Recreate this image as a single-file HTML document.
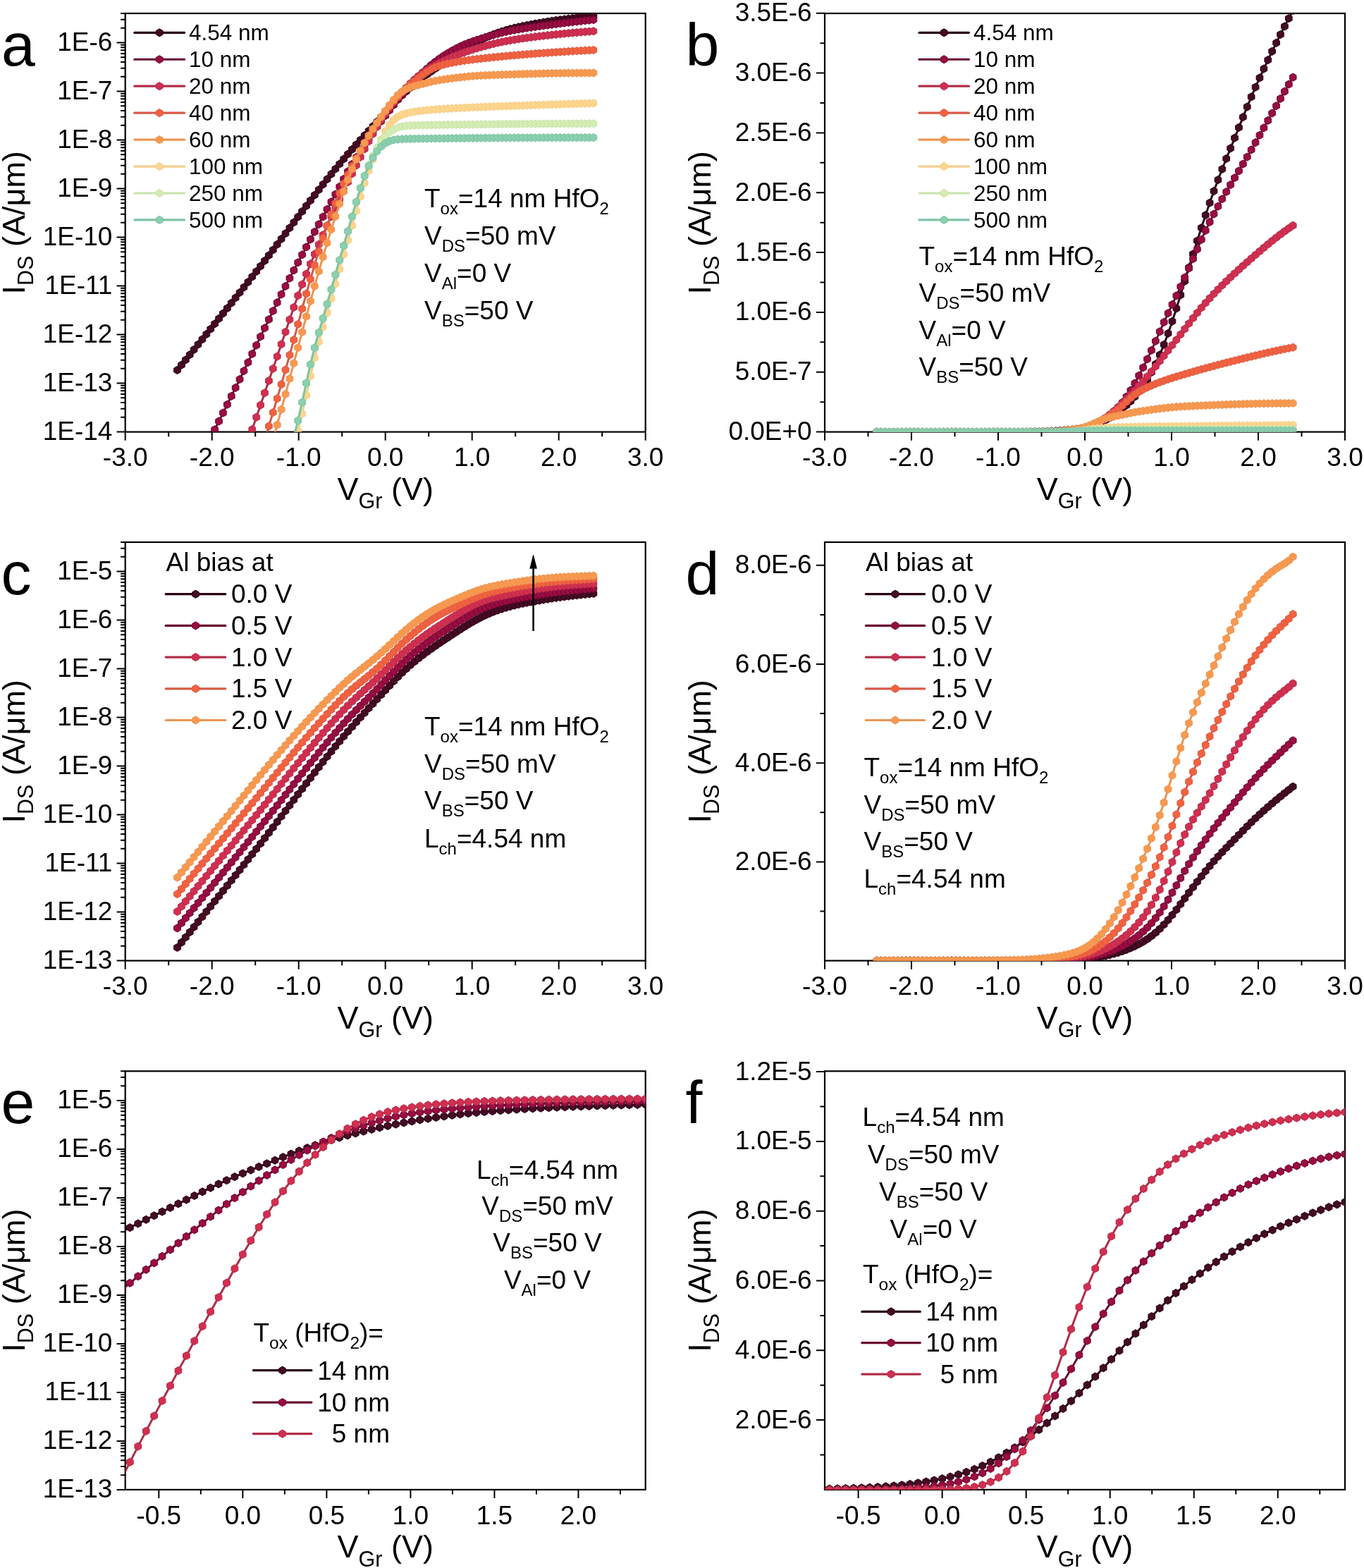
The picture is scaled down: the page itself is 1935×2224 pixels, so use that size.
<!DOCTYPE html>
<html><head><meta charset="utf-8"><title>Figure</title>
<style>html,body{margin:0;padding:0;background:#fff;overflow:hidden}svg{display:block}</style>
</head><body>
<svg xmlns="http://www.w3.org/2000/svg" width="1935" height="2224" viewBox="0 0 1935 2224" font-family="'Liberation Sans', Arial, Helvetica, sans-serif" fill="#000"><defs><clipPath id="clipa"><rect x="177.7" y="19" width="738" height="593.6"/></clipPath><clipPath id="clipb"><rect x="1170" y="19" width="738" height="593.6"/></clipPath><clipPath id="clipc"><rect x="177.7" y="769" width="738" height="593.6"/></clipPath><clipPath id="clipd"><rect x="1170" y="769" width="738" height="593.6"/></clipPath><clipPath id="clipe"><rect x="177.7" y="1519.3" width="738" height="593.6"/></clipPath><clipPath id="clipf"><rect x="1170" y="1519.3" width="738" height="593.6"/></clipPath></defs><rect width="1935" height="2224" fill="#fff"/><path d="M177.7 612.6v12.1 M300.7 612.6v12.1 M423.7 612.6v12.1 M546.7 612.6v12.1 M669.7 612.6v12.1 M792.7 612.6v12.1 M915.7 612.6v12.1 M239.2 612.6v6.6 M362.2 612.6v6.6 M485.2 612.6v6.6 M608.2 612.6v6.6 M731.2 612.6v6.6 M854.2 612.6v6.6 M177.7 612.6h-12.1 M177.7 543.6h-12.1 M177.7 474.6h-12.1 M177.7 405.6h-12.1 M177.7 336.6h-12.1 M177.7 267.6h-12.1 M177.7 198.6h-12.1 M177.7 129.6h-12.1 M177.7 60.6h-12.1 M177.7 591.83h-6.6 M177.7 579.68h-6.6 M177.7 571.06h-6.6 M177.7 564.37h-6.6 M177.7 558.91h-6.6 M177.7 554.29h-6.6 M177.7 550.29h-6.6 M177.7 546.76h-6.6 M177.7 522.83h-6.6 M177.7 510.68h-6.6 M177.7 502.06h-6.6 M177.7 495.37h-6.6 M177.7 489.91h-6.6 M177.7 485.29h-6.6 M177.7 481.29h-6.6 M177.7 477.76h-6.6 M177.7 453.83h-6.6 M177.7 441.68h-6.6 M177.7 433.06h-6.6 M177.7 426.37h-6.6 M177.7 420.91h-6.6 M177.7 416.29h-6.6 M177.7 412.29h-6.6 M177.7 408.76h-6.6 M177.7 384.83h-6.6 M177.7 372.68h-6.6 M177.7 364.06h-6.6 M177.7 357.37h-6.6 M177.7 351.91h-6.6 M177.7 347.29h-6.6 M177.7 343.29h-6.6 M177.7 339.76h-6.6 M177.7 315.83h-6.6 M177.7 303.68h-6.6 M177.7 295.06h-6.6 M177.7 288.37h-6.6 M177.7 282.91h-6.6 M177.7 278.29h-6.6 M177.7 274.29h-6.6 M177.7 270.76h-6.6 M177.7 246.83h-6.6 M177.7 234.68h-6.6 M177.7 226.06h-6.6 M177.7 219.37h-6.6 M177.7 213.91h-6.6 M177.7 209.29h-6.6 M177.7 205.29h-6.6 M177.7 201.76h-6.6 M177.7 177.83h-6.6 M177.7 165.68h-6.6 M177.7 157.06h-6.6 M177.7 150.37h-6.6 M177.7 144.91h-6.6 M177.7 140.29h-6.6 M177.7 136.29h-6.6 M177.7 132.76h-6.6 M177.7 108.83h-6.6 M177.7 96.68h-6.6 M177.7 88.06h-6.6 M177.7 81.37h-6.6 M177.7 75.91h-6.6 M177.7 71.29h-6.6 M177.7 67.29h-6.6 M177.7 63.76h-6.6 M177.7 39.83h-6.6 M177.7 27.68h-6.6 M177.7 19.06h-6.6" stroke="#000" stroke-width="2.0" fill="none"/>
<rect x="177.7" y="19" width="738" height="593.6" fill="none" stroke="#000" stroke-width="2.2"/>
<text x="177.7" y="661.2" font-size="37" text-anchor="middle">-3.0</text>
<text x="300.7" y="661.2" font-size="37" text-anchor="middle">-2.0</text>
<text x="423.7" y="661.2" font-size="37" text-anchor="middle">-1.0</text>
<text x="546.7" y="661.2" font-size="37" text-anchor="middle">0.0</text>
<text x="669.7" y="661.2" font-size="37" text-anchor="middle">1.0</text>
<text x="792.7" y="661.2" font-size="37" text-anchor="middle">2.0</text>
<text x="915.7" y="661.2" font-size="37" text-anchor="middle">3.0</text>
<text x="159.4" y="624.1" font-size="37" text-anchor="end">1E-14</text>
<text x="159.4" y="555.1" font-size="37" text-anchor="end">1E-13</text>
<text x="159.4" y="486.1" font-size="37" text-anchor="end">1E-12</text>
<text x="159.4" y="417.1" font-size="37" text-anchor="end">1E-11</text>
<text x="159.4" y="348.1" font-size="37" text-anchor="end">1E-10</text>
<text x="159.4" y="279.1" font-size="37" text-anchor="end">1E-9</text>
<text x="159.4" y="210.1" font-size="37" text-anchor="end">1E-8</text>
<text x="159.4" y="141.1" font-size="37" text-anchor="end">1E-7</text>
<text x="159.4" y="72.1" font-size="37" text-anchor="end">1E-6</text>
<text x="546.7" y="708.8" font-size="45" text-anchor="middle" xml:space="preserve"><tspan>V</tspan><tspan dy="12.4" font-size="30.5">Gr</tspan><tspan dy="-12.4"> (V)</tspan></text>
<text x="0" y="0" font-size="45" text-anchor="middle" xml:space="preserve" transform="translate(34.8 315.8) rotate(-90)"><tspan>I</tspan><tspan dy="12.4" font-size="30.5">DS</tspan><tspan dy="-12.4"> (A/μm)</tspan></text>
<path d="M1170 612.6v12.1 M1293 612.6v12.1 M1416 612.6v12.1 M1539 612.6v12.1 M1662 612.6v12.1 M1785 612.6v12.1 M1908 612.6v12.1 M1231.5 612.6v6.6 M1354.5 612.6v6.6 M1477.5 612.6v6.6 M1600.5 612.6v6.6 M1723.5 612.6v6.6 M1846.5 612.6v6.6 M1170 612.6h-12.1 M1170 527.76h-12.1 M1170 442.92h-12.1 M1170 358.08h-12.1 M1170 273.24h-12.1 M1170 188.4h-12.1 M1170 103.56h-12.1 M1170 18.72h-12.1 M1170 570.18h-6.6 M1170 485.34h-6.6 M1170 400.5h-6.6 M1170 315.66h-6.6 M1170 230.82h-6.6 M1170 145.98h-6.6 M1170 61.14h-6.6" stroke="#000" stroke-width="2.0" fill="none"/>
<rect x="1170" y="19" width="738" height="593.6" fill="none" stroke="#000" stroke-width="2.2"/>
<text x="1170" y="661.2" font-size="37" text-anchor="middle">-3.0</text>
<text x="1293" y="661.2" font-size="37" text-anchor="middle">-2.0</text>
<text x="1416" y="661.2" font-size="37" text-anchor="middle">-1.0</text>
<text x="1539" y="661.2" font-size="37" text-anchor="middle">0.0</text>
<text x="1662" y="661.2" font-size="37" text-anchor="middle">1.0</text>
<text x="1785" y="661.2" font-size="37" text-anchor="middle">2.0</text>
<text x="1908" y="661.2" font-size="37" text-anchor="middle">3.0</text>
<text x="1151.7" y="624.1" font-size="37" text-anchor="end">0.0E+0</text>
<text x="1151.7" y="539.26" font-size="37" text-anchor="end">5.0E-7</text>
<text x="1151.7" y="454.42" font-size="37" text-anchor="end">1.0E-6</text>
<text x="1151.7" y="369.58" font-size="37" text-anchor="end">1.5E-6</text>
<text x="1151.7" y="284.74" font-size="37" text-anchor="end">2.0E-6</text>
<text x="1151.7" y="199.9" font-size="37" text-anchor="end">2.5E-6</text>
<text x="1151.7" y="115.06" font-size="37" text-anchor="end">3.0E-6</text>
<text x="1151.7" y="30.22" font-size="37" text-anchor="end">3.5E-6</text>
<text x="1539" y="708.8" font-size="45" text-anchor="middle" xml:space="preserve"><tspan>V</tspan><tspan dy="12.4" font-size="30.5">Gr</tspan><tspan dy="-12.4"> (V)</tspan></text>
<text x="0" y="0" font-size="45" text-anchor="middle" xml:space="preserve" transform="translate(1008 315.8) rotate(-90)"><tspan>I</tspan><tspan dy="12.4" font-size="30.5">DS</tspan><tspan dy="-12.4"> (A/μm)</tspan></text>
<path d="M177.7 1362.6v12.1 M300.7 1362.6v12.1 M423.7 1362.6v12.1 M546.7 1362.6v12.1 M669.7 1362.6v12.1 M792.7 1362.6v12.1 M915.7 1362.6v12.1 M239.2 1362.6v6.6 M362.2 1362.6v6.6 M485.2 1362.6v6.6 M608.2 1362.6v6.6 M731.2 1362.6v6.6 M854.2 1362.6v6.6 M177.7 1362.6h-12.1 M177.7 1293.6h-12.1 M177.7 1224.6h-12.1 M177.7 1155.6h-12.1 M177.7 1086.6h-12.1 M177.7 1017.6h-12.1 M177.7 948.6h-12.1 M177.7 879.6h-12.1 M177.7 810.6h-12.1 M177.7 1341.83h-6.6 M177.7 1329.68h-6.6 M177.7 1321.06h-6.6 M177.7 1314.37h-6.6 M177.7 1308.91h-6.6 M177.7 1304.29h-6.6 M177.7 1300.29h-6.6 M177.7 1296.76h-6.6 M177.7 1272.83h-6.6 M177.7 1260.68h-6.6 M177.7 1252.06h-6.6 M177.7 1245.37h-6.6 M177.7 1239.91h-6.6 M177.7 1235.29h-6.6 M177.7 1231.29h-6.6 M177.7 1227.76h-6.6 M177.7 1203.83h-6.6 M177.7 1191.68h-6.6 M177.7 1183.06h-6.6 M177.7 1176.37h-6.6 M177.7 1170.91h-6.6 M177.7 1166.29h-6.6 M177.7 1162.29h-6.6 M177.7 1158.76h-6.6 M177.7 1134.83h-6.6 M177.7 1122.68h-6.6 M177.7 1114.06h-6.6 M177.7 1107.37h-6.6 M177.7 1101.91h-6.6 M177.7 1097.29h-6.6 M177.7 1093.29h-6.6 M177.7 1089.76h-6.6 M177.7 1065.83h-6.6 M177.7 1053.68h-6.6 M177.7 1045.06h-6.6 M177.7 1038.37h-6.6 M177.7 1032.91h-6.6 M177.7 1028.29h-6.6 M177.7 1024.29h-6.6 M177.7 1020.76h-6.6 M177.7 996.83h-6.6 M177.7 984.68h-6.6 M177.7 976.06h-6.6 M177.7 969.37h-6.6 M177.7 963.91h-6.6 M177.7 959.29h-6.6 M177.7 955.29h-6.6 M177.7 951.76h-6.6 M177.7 927.83h-6.6 M177.7 915.68h-6.6 M177.7 907.06h-6.6 M177.7 900.37h-6.6 M177.7 894.91h-6.6 M177.7 890.29h-6.6 M177.7 886.29h-6.6 M177.7 882.76h-6.6 M177.7 858.83h-6.6 M177.7 846.68h-6.6 M177.7 838.06h-6.6 M177.7 831.37h-6.6 M177.7 825.91h-6.6 M177.7 821.29h-6.6 M177.7 817.29h-6.6 M177.7 813.76h-6.6 M177.7 789.83h-6.6 M177.7 777.68h-6.6 M177.7 769.06h-6.6" stroke="#000" stroke-width="2.0" fill="none"/>
<rect x="177.7" y="769" width="738" height="593.6" fill="none" stroke="#000" stroke-width="2.2"/>
<text x="177.7" y="1411.2" font-size="37" text-anchor="middle">-3.0</text>
<text x="300.7" y="1411.2" font-size="37" text-anchor="middle">-2.0</text>
<text x="423.7" y="1411.2" font-size="37" text-anchor="middle">-1.0</text>
<text x="546.7" y="1411.2" font-size="37" text-anchor="middle">0.0</text>
<text x="669.7" y="1411.2" font-size="37" text-anchor="middle">1.0</text>
<text x="792.7" y="1411.2" font-size="37" text-anchor="middle">2.0</text>
<text x="915.7" y="1411.2" font-size="37" text-anchor="middle">3.0</text>
<text x="159.4" y="1374.1" font-size="37" text-anchor="end">1E-13</text>
<text x="159.4" y="1305.1" font-size="37" text-anchor="end">1E-12</text>
<text x="159.4" y="1236.1" font-size="37" text-anchor="end">1E-11</text>
<text x="159.4" y="1167.1" font-size="37" text-anchor="end">1E-10</text>
<text x="159.4" y="1098.1" font-size="37" text-anchor="end">1E-9</text>
<text x="159.4" y="1029.1" font-size="37" text-anchor="end">1E-8</text>
<text x="159.4" y="960.1" font-size="37" text-anchor="end">1E-7</text>
<text x="159.4" y="891.1" font-size="37" text-anchor="end">1E-6</text>
<text x="159.4" y="822.1" font-size="37" text-anchor="end">1E-5</text>
<text x="546.7" y="1458.8" font-size="45" text-anchor="middle" xml:space="preserve"><tspan>V</tspan><tspan dy="12.4" font-size="30.5">Gr</tspan><tspan dy="-12.4"> (V)</tspan></text>
<text x="0" y="0" font-size="45" text-anchor="middle" xml:space="preserve" transform="translate(34.8 1065.8) rotate(-90)"><tspan>I</tspan><tspan dy="12.4" font-size="30.5">DS</tspan><tspan dy="-12.4"> (A/μm)</tspan></text>
<path d="M1170 1362.6v12.1 M1293 1362.6v12.1 M1416 1362.6v12.1 M1539 1362.6v12.1 M1662 1362.6v12.1 M1785 1362.6v12.1 M1908 1362.6v12.1 M1231.5 1362.6v6.6 M1354.5 1362.6v6.6 M1477.5 1362.6v6.6 M1600.5 1362.6v6.6 M1723.5 1362.6v6.6 M1846.5 1362.6v6.6 M1170 1222.4h-12.1 M1170 1082.2h-12.1 M1170 942h-12.1 M1170 801.8h-12.1 M1170 1292.5h-6.6 M1170 1152.3h-6.6 M1170 1012.1h-6.6 M1170 871.9h-6.6" stroke="#000" stroke-width="2.0" fill="none"/>
<rect x="1170" y="769" width="738" height="593.6" fill="none" stroke="#000" stroke-width="2.2"/>
<text x="1170" y="1411.2" font-size="37" text-anchor="middle">-3.0</text>
<text x="1293" y="1411.2" font-size="37" text-anchor="middle">-2.0</text>
<text x="1416" y="1411.2" font-size="37" text-anchor="middle">-1.0</text>
<text x="1539" y="1411.2" font-size="37" text-anchor="middle">0.0</text>
<text x="1662" y="1411.2" font-size="37" text-anchor="middle">1.0</text>
<text x="1785" y="1411.2" font-size="37" text-anchor="middle">2.0</text>
<text x="1908" y="1411.2" font-size="37" text-anchor="middle">3.0</text>
<text x="1151.7" y="1233.9" font-size="37" text-anchor="end">2.0E-6</text>
<text x="1151.7" y="1093.7" font-size="37" text-anchor="end">4.0E-6</text>
<text x="1151.7" y="953.5" font-size="37" text-anchor="end">6.0E-6</text>
<text x="1151.7" y="813.3" font-size="37" text-anchor="end">8.0E-6</text>
<text x="1539" y="1458.8" font-size="45" text-anchor="middle" xml:space="preserve"><tspan>V</tspan><tspan dy="12.4" font-size="30.5">Gr</tspan><tspan dy="-12.4"> (V)</tspan></text>
<text x="0" y="0" font-size="45" text-anchor="middle" xml:space="preserve" transform="translate(1008 1065.8) rotate(-90)"><tspan>I</tspan><tspan dy="12.4" font-size="30.5">DS</tspan><tspan dy="-12.4"> (A/μm)</tspan></text>
<path d="M225.31 2112.9v12.1 M344.35 2112.9v12.1 M463.38 2112.9v12.1 M582.41 2112.9v12.1 M701.44 2112.9v12.1 M820.47 2112.9v12.1 M284.83 2112.9v6.6 M403.86 2112.9v6.6 M522.89 2112.9v6.6 M641.93 2112.9v6.6 M760.96 2112.9v6.6 M879.99 2112.9v6.6 M177.7 2112.9h-12.1 M177.7 2043.9h-12.1 M177.7 1974.9h-12.1 M177.7 1905.9h-12.1 M177.7 1836.9h-12.1 M177.7 1767.9h-12.1 M177.7 1698.9h-12.1 M177.7 1629.9h-12.1 M177.7 1560.9h-12.1 M177.7 2092.13h-6.6 M177.7 2079.98h-6.6 M177.7 2071.36h-6.6 M177.7 2064.67h-6.6 M177.7 2059.21h-6.6 M177.7 2054.59h-6.6 M177.7 2050.59h-6.6 M177.7 2047.06h-6.6 M177.7 2023.13h-6.6 M177.7 2010.98h-6.6 M177.7 2002.36h-6.6 M177.7 1995.67h-6.6 M177.7 1990.21h-6.6 M177.7 1985.59h-6.6 M177.7 1981.59h-6.6 M177.7 1978.06h-6.6 M177.7 1954.13h-6.6 M177.7 1941.98h-6.6 M177.7 1933.36h-6.6 M177.7 1926.67h-6.6 M177.7 1921.21h-6.6 M177.7 1916.59h-6.6 M177.7 1912.59h-6.6 M177.7 1909.06h-6.6 M177.7 1885.13h-6.6 M177.7 1872.98h-6.6 M177.7 1864.36h-6.6 M177.7 1857.67h-6.6 M177.7 1852.21h-6.6 M177.7 1847.59h-6.6 M177.7 1843.59h-6.6 M177.7 1840.06h-6.6 M177.7 1816.13h-6.6 M177.7 1803.98h-6.6 M177.7 1795.36h-6.6 M177.7 1788.67h-6.6 M177.7 1783.21h-6.6 M177.7 1778.59h-6.6 M177.7 1774.59h-6.6 M177.7 1771.06h-6.6 M177.7 1747.13h-6.6 M177.7 1734.98h-6.6 M177.7 1726.36h-6.6 M177.7 1719.67h-6.6 M177.7 1714.21h-6.6 M177.7 1709.59h-6.6 M177.7 1705.59h-6.6 M177.7 1702.06h-6.6 M177.7 1678.13h-6.6 M177.7 1665.98h-6.6 M177.7 1657.36h-6.6 M177.7 1650.67h-6.6 M177.7 1645.21h-6.6 M177.7 1640.59h-6.6 M177.7 1636.59h-6.6 M177.7 1633.06h-6.6 M177.7 1609.13h-6.6 M177.7 1596.98h-6.6 M177.7 1588.36h-6.6 M177.7 1581.67h-6.6 M177.7 1576.21h-6.6 M177.7 1571.59h-6.6 M177.7 1567.59h-6.6 M177.7 1564.06h-6.6 M177.7 1540.13h-6.6 M177.7 1527.98h-6.6 M177.7 1519.36h-6.6" stroke="#000" stroke-width="2.0" fill="none"/>
<rect x="177.7" y="1519.3" width="738" height="593.6" fill="none" stroke="#000" stroke-width="2.2"/>
<text x="225.31" y="2161.5" font-size="37" text-anchor="middle">-0.5</text>
<text x="344.35" y="2161.5" font-size="37" text-anchor="middle">0.0</text>
<text x="463.38" y="2161.5" font-size="37" text-anchor="middle">0.5</text>
<text x="582.41" y="2161.5" font-size="37" text-anchor="middle">1.0</text>
<text x="701.44" y="2161.5" font-size="37" text-anchor="middle">1.5</text>
<text x="820.47" y="2161.5" font-size="37" text-anchor="middle">2.0</text>
<text x="159.4" y="2124.4" font-size="37" text-anchor="end">1E-13</text>
<text x="159.4" y="2055.4" font-size="37" text-anchor="end">1E-12</text>
<text x="159.4" y="1986.4" font-size="37" text-anchor="end">1E-11</text>
<text x="159.4" y="1917.4" font-size="37" text-anchor="end">1E-10</text>
<text x="159.4" y="1848.4" font-size="37" text-anchor="end">1E-9</text>
<text x="159.4" y="1779.4" font-size="37" text-anchor="end">1E-8</text>
<text x="159.4" y="1710.4" font-size="37" text-anchor="end">1E-7</text>
<text x="159.4" y="1641.4" font-size="37" text-anchor="end">1E-6</text>
<text x="159.4" y="1572.4" font-size="37" text-anchor="end">1E-5</text>
<text x="546.7" y="2209.1" font-size="45" text-anchor="middle" xml:space="preserve"><tspan>V</tspan><tspan dy="12.4" font-size="30.5">Gr</tspan><tspan dy="-12.4"> (V)</tspan></text>
<text x="0" y="0" font-size="45" text-anchor="middle" xml:space="preserve" transform="translate(34.8 1816.1) rotate(-90)"><tspan>I</tspan><tspan dy="12.4" font-size="30.5">DS</tspan><tspan dy="-12.4"> (A/μm)</tspan></text>
<path d="M1217.61 2112.9v12.1 M1336.65 2112.9v12.1 M1455.68 2112.9v12.1 M1574.71 2112.9v12.1 M1693.74 2112.9v12.1 M1812.77 2112.9v12.1 M1277.13 2112.9v6.6 M1396.16 2112.9v6.6 M1515.19 2112.9v6.6 M1634.23 2112.9v6.6 M1753.26 2112.9v6.6 M1872.29 2112.9v6.6 M1170 2014.1h-12.1 M1170 1915.3h-12.1 M1170 1816.5h-12.1 M1170 1717.7h-12.1 M1170 1618.9h-12.1 M1170 1520.1h-12.1 M1170 2063.5h-6.6 M1170 1964.7h-6.6 M1170 1865.9h-6.6 M1170 1767.1h-6.6 M1170 1668.3h-6.6 M1170 1569.5h-6.6" stroke="#000" stroke-width="2.0" fill="none"/>
<rect x="1170" y="1519.3" width="738" height="593.6" fill="none" stroke="#000" stroke-width="2.2"/>
<text x="1217.61" y="2161.5" font-size="37" text-anchor="middle">-0.5</text>
<text x="1336.65" y="2161.5" font-size="37" text-anchor="middle">0.0</text>
<text x="1455.68" y="2161.5" font-size="37" text-anchor="middle">0.5</text>
<text x="1574.71" y="2161.5" font-size="37" text-anchor="middle">1.0</text>
<text x="1693.74" y="2161.5" font-size="37" text-anchor="middle">1.5</text>
<text x="1812.77" y="2161.5" font-size="37" text-anchor="middle">2.0</text>
<text x="1151.7" y="2025.6" font-size="37" text-anchor="end">2.0E-6</text>
<text x="1151.7" y="1926.8" font-size="37" text-anchor="end">4.0E-6</text>
<text x="1151.7" y="1828" font-size="37" text-anchor="end">6.0E-6</text>
<text x="1151.7" y="1729.2" font-size="37" text-anchor="end">8.0E-6</text>
<text x="1151.7" y="1630.4" font-size="37" text-anchor="end">1.0E-5</text>
<text x="1151.7" y="1531.6" font-size="37" text-anchor="end">1.2E-5</text>
<text x="1539" y="2209.1" font-size="45" text-anchor="middle" xml:space="preserve"><tspan>V</tspan><tspan dy="12.4" font-size="30.5">Gr</tspan><tspan dy="-12.4"> (V)</tspan></text>
<text x="0" y="0" font-size="45" text-anchor="middle" xml:space="preserve" transform="translate(1008 1816.1) rotate(-90)"><tspan>I</tspan><tspan dy="12.4" font-size="30.5">DS</tspan><tspan dy="-12.4"> (A/μm)</tspan></text>
<g clip-path="url(#clipa)"><polyline points="251.5,524.96 257.4,517.71 263.31,510.46 269.21,503.18 275.12,495.9 281.02,488.61 286.92,481.3 292.83,473.98 298.73,466.64 304.64,459.29 310.54,451.93 316.44,444.56 322.35,437.17 328.25,429.77 334.16,422.35 340.06,414.93 345.96,407.49 351.87,400.03 357.77,392.55 363.68,385.04 369.58,377.48 375.48,369.87 381.39,362.2 387.29,354.48 393.2,346.72 399.1,338.92 405,331.11 410.91,323.29 416.81,315.47 422.72,307.66 428.62,299.87 434.52,292.11 440.43,284.4 446.33,276.74 452.24,269.15 458.14,261.63 464.04,254.19 469.95,246.85 475.85,239.62 481.76,232.5 487.66,225.5 493.56,218.61 499.47,211.84 505.37,205.16 511.28,198.57 517.18,192.04 523.08,185.57 528.99,179.14 534.89,172.73 540.8,166.33 546.7,159.92 552.6,153.53 558.51,147.22 564.41,141.1 570.32,135.26 576.22,129.73 582.12,124.47 588.03,119.46 593.93,114.67 599.84,110.07 605.74,105.64 611.64,101.38 617.55,97.26 623.45,93.24 629.36,89.3 635.26,85.39 641.16,81.5 647.07,77.62 652.97,73.79 658.88,70.04 664.78,66.42 670.68,62.96 676.59,59.66 682.49,56.56 688.4,53.69 694.3,51.08 700.2,48.71 706.11,46.56 712.01,44.59 717.92,42.79 723.82,41.14 729.72,39.63 735.63,38.27 741.53,37.02 747.44,35.85 753.34,34.73 759.24,33.66 765.15,32.61 771.05,31.61 776.96,30.65 782.86,29.74 788.76,28.88 794.67,28.08 800.57,27.33 806.48,26.61 812.38,25.92 818.28,25.26 824.19,24.63 830.09,24.02 836,23.44 841.9,22.87" fill="none" stroke="#2a0414" stroke-width="3.0" stroke-linejoin="round"/><g fill="#450b24" stroke="#2a0414" stroke-width="1"><path d="M251.5 519.36l4.85 2.8v5.6l-4.85 2.8l-4.85 -2.8v-5.6z"/><path d="M257.4 512.11l4.85 2.8v5.6l-4.85 2.8l-4.85 -2.8v-5.6z"/><path d="M263.31 504.86l4.85 2.8v5.6l-4.85 2.8l-4.85 -2.8v-5.6z"/><path d="M269.21 497.58l4.85 2.8v5.6l-4.85 2.8l-4.85 -2.8v-5.6z"/><path d="M275.12 490.3l4.85 2.8v5.6l-4.85 2.8l-4.85 -2.8v-5.6z"/><path d="M281.02 483.01l4.85 2.8v5.6l-4.85 2.8l-4.85 -2.8v-5.6z"/><path d="M286.92 475.7l4.85 2.8v5.6l-4.85 2.8l-4.85 -2.8v-5.6z"/><path d="M292.83 468.38l4.85 2.8v5.6l-4.85 2.8l-4.85 -2.8v-5.6z"/><path d="M298.73 461.04l4.85 2.8v5.6l-4.85 2.8l-4.85 -2.8v-5.6z"/><path d="M304.64 453.69l4.85 2.8v5.6l-4.85 2.8l-4.85 -2.8v-5.6z"/><path d="M310.54 446.33l4.85 2.8v5.6l-4.85 2.8l-4.85 -2.8v-5.6z"/><path d="M316.44 438.96l4.85 2.8v5.6l-4.85 2.8l-4.85 -2.8v-5.6z"/><path d="M322.35 431.57l4.85 2.8v5.6l-4.85 2.8l-4.85 -2.8v-5.6z"/><path d="M328.25 424.17l4.85 2.8v5.6l-4.85 2.8l-4.85 -2.8v-5.6z"/><path d="M334.16 416.75l4.85 2.8v5.6l-4.85 2.8l-4.85 -2.8v-5.6z"/><path d="M340.06 409.33l4.85 2.8v5.6l-4.85 2.8l-4.85 -2.8v-5.6z"/><path d="M345.96 401.89l4.85 2.8v5.6l-4.85 2.8l-4.85 -2.8v-5.6z"/><path d="M351.87 394.43l4.85 2.8v5.6l-4.85 2.8l-4.85 -2.8v-5.6z"/><path d="M357.77 386.95l4.85 2.8v5.6l-4.85 2.8l-4.85 -2.8v-5.6z"/><path d="M363.68 379.44l4.85 2.8v5.6l-4.85 2.8l-4.85 -2.8v-5.6z"/><path d="M369.58 371.88l4.85 2.8v5.6l-4.85 2.8l-4.85 -2.8v-5.6z"/><path d="M375.48 364.27l4.85 2.8v5.6l-4.85 2.8l-4.85 -2.8v-5.6z"/><path d="M381.39 356.6l4.85 2.8v5.6l-4.85 2.8l-4.85 -2.8v-5.6z"/><path d="M387.29 348.88l4.85 2.8v5.6l-4.85 2.8l-4.85 -2.8v-5.6z"/><path d="M393.2 341.12l4.85 2.8v5.6l-4.85 2.8l-4.85 -2.8v-5.6z"/><path d="M399.1 333.32l4.85 2.8v5.6l-4.85 2.8l-4.85 -2.8v-5.6z"/><path d="M405 325.51l4.85 2.8v5.6l-4.85 2.8l-4.85 -2.8v-5.6z"/><path d="M410.91 317.69l4.85 2.8v5.6l-4.85 2.8l-4.85 -2.8v-5.6z"/><path d="M416.81 309.87l4.85 2.8v5.6l-4.85 2.8l-4.85 -2.8v-5.6z"/><path d="M422.72 302.06l4.85 2.8v5.6l-4.85 2.8l-4.85 -2.8v-5.6z"/><path d="M428.62 294.27l4.85 2.8v5.6l-4.85 2.8l-4.85 -2.8v-5.6z"/><path d="M434.52 286.51l4.85 2.8v5.6l-4.85 2.8l-4.85 -2.8v-5.6z"/><path d="M440.43 278.8l4.85 2.8v5.6l-4.85 2.8l-4.85 -2.8v-5.6z"/><path d="M446.33 271.14l4.85 2.8v5.6l-4.85 2.8l-4.85 -2.8v-5.6z"/><path d="M452.24 263.55l4.85 2.8v5.6l-4.85 2.8l-4.85 -2.8v-5.6z"/><path d="M458.14 256.03l4.85 2.8v5.6l-4.85 2.8l-4.85 -2.8v-5.6z"/><path d="M464.04 248.59l4.85 2.8v5.6l-4.85 2.8l-4.85 -2.8v-5.6z"/><path d="M469.95 241.25l4.85 2.8v5.6l-4.85 2.8l-4.85 -2.8v-5.6z"/><path d="M475.85 234.02l4.85 2.8v5.6l-4.85 2.8l-4.85 -2.8v-5.6z"/><path d="M481.76 226.9l4.85 2.8v5.6l-4.85 2.8l-4.85 -2.8v-5.6z"/><path d="M487.66 219.9l4.85 2.8v5.6l-4.85 2.8l-4.85 -2.8v-5.6z"/><path d="M493.56 213.01l4.85 2.8v5.6l-4.85 2.8l-4.85 -2.8v-5.6z"/><path d="M499.47 206.24l4.85 2.8v5.6l-4.85 2.8l-4.85 -2.8v-5.6z"/><path d="M505.37 199.56l4.85 2.8v5.6l-4.85 2.8l-4.85 -2.8v-5.6z"/><path d="M511.28 192.97l4.85 2.8v5.6l-4.85 2.8l-4.85 -2.8v-5.6z"/><path d="M517.18 186.44l4.85 2.8v5.6l-4.85 2.8l-4.85 -2.8v-5.6z"/><path d="M523.08 179.97l4.85 2.8v5.6l-4.85 2.8l-4.85 -2.8v-5.6z"/><path d="M528.99 173.54l4.85 2.8v5.6l-4.85 2.8l-4.85 -2.8v-5.6z"/><path d="M534.89 167.13l4.85 2.8v5.6l-4.85 2.8l-4.85 -2.8v-5.6z"/><path d="M540.8 160.73l4.85 2.8v5.6l-4.85 2.8l-4.85 -2.8v-5.6z"/><path d="M546.7 154.32l4.85 2.8v5.6l-4.85 2.8l-4.85 -2.8v-5.6z"/><path d="M552.6 147.93l4.85 2.8v5.6l-4.85 2.8l-4.85 -2.8v-5.6z"/><path d="M558.51 141.62l4.85 2.8v5.6l-4.85 2.8l-4.85 -2.8v-5.6z"/><path d="M564.41 135.5l4.85 2.8v5.6l-4.85 2.8l-4.85 -2.8v-5.6z"/><path d="M570.32 129.66l4.85 2.8v5.6l-4.85 2.8l-4.85 -2.8v-5.6z"/><path d="M576.22 124.13l4.85 2.8v5.6l-4.85 2.8l-4.85 -2.8v-5.6z"/><path d="M582.12 118.87l4.85 2.8v5.6l-4.85 2.8l-4.85 -2.8v-5.6z"/><path d="M588.03 113.86l4.85 2.8v5.6l-4.85 2.8l-4.85 -2.8v-5.6z"/><path d="M593.93 109.07l4.85 2.8v5.6l-4.85 2.8l-4.85 -2.8v-5.6z"/><path d="M599.84 104.47l4.85 2.8v5.6l-4.85 2.8l-4.85 -2.8v-5.6z"/><path d="M605.74 100.04l4.85 2.8v5.6l-4.85 2.8l-4.85 -2.8v-5.6z"/><path d="M611.64 95.78l4.85 2.8v5.6l-4.85 2.8l-4.85 -2.8v-5.6z"/><path d="M617.55 91.66l4.85 2.8v5.6l-4.85 2.8l-4.85 -2.8v-5.6z"/><path d="M623.45 87.64l4.85 2.8v5.6l-4.85 2.8l-4.85 -2.8v-5.6z"/><path d="M629.36 83.7l4.85 2.8v5.6l-4.85 2.8l-4.85 -2.8v-5.6z"/><path d="M635.26 79.79l4.85 2.8v5.6l-4.85 2.8l-4.85 -2.8v-5.6z"/><path d="M641.16 75.9l4.85 2.8v5.6l-4.85 2.8l-4.85 -2.8v-5.6z"/><path d="M647.07 72.02l4.85 2.8v5.6l-4.85 2.8l-4.85 -2.8v-5.6z"/><path d="M652.97 68.19l4.85 2.8v5.6l-4.85 2.8l-4.85 -2.8v-5.6z"/><path d="M658.88 64.44l4.85 2.8v5.6l-4.85 2.8l-4.85 -2.8v-5.6z"/><path d="M664.78 60.82l4.85 2.8v5.6l-4.85 2.8l-4.85 -2.8v-5.6z"/><path d="M670.68 57.36l4.85 2.8v5.6l-4.85 2.8l-4.85 -2.8v-5.6z"/><path d="M676.59 54.06l4.85 2.8v5.6l-4.85 2.8l-4.85 -2.8v-5.6z"/><path d="M682.49 50.96l4.85 2.8v5.6l-4.85 2.8l-4.85 -2.8v-5.6z"/><path d="M688.4 48.09l4.85 2.8v5.6l-4.85 2.8l-4.85 -2.8v-5.6z"/><path d="M694.3 45.48l4.85 2.8v5.6l-4.85 2.8l-4.85 -2.8v-5.6z"/><path d="M700.2 43.11l4.85 2.8v5.6l-4.85 2.8l-4.85 -2.8v-5.6z"/><path d="M706.11 40.96l4.85 2.8v5.6l-4.85 2.8l-4.85 -2.8v-5.6z"/><path d="M712.01 38.99l4.85 2.8v5.6l-4.85 2.8l-4.85 -2.8v-5.6z"/><path d="M717.92 37.19l4.85 2.8v5.6l-4.85 2.8l-4.85 -2.8v-5.6z"/><path d="M723.82 35.54l4.85 2.8v5.6l-4.85 2.8l-4.85 -2.8v-5.6z"/><path d="M729.72 34.03l4.85 2.8v5.6l-4.85 2.8l-4.85 -2.8v-5.6z"/><path d="M735.63 32.67l4.85 2.8v5.6l-4.85 2.8l-4.85 -2.8v-5.6z"/><path d="M741.53 31.42l4.85 2.8v5.6l-4.85 2.8l-4.85 -2.8v-5.6z"/><path d="M747.44 30.25l4.85 2.8v5.6l-4.85 2.8l-4.85 -2.8v-5.6z"/><path d="M753.34 29.13l4.85 2.8v5.6l-4.85 2.8l-4.85 -2.8v-5.6z"/><path d="M759.24 28.06l4.85 2.8v5.6l-4.85 2.8l-4.85 -2.8v-5.6z"/><path d="M765.15 27.01l4.85 2.8v5.6l-4.85 2.8l-4.85 -2.8v-5.6z"/><path d="M771.05 26.01l4.85 2.8v5.6l-4.85 2.8l-4.85 -2.8v-5.6z"/><path d="M776.96 25.05l4.85 2.8v5.6l-4.85 2.8l-4.85 -2.8v-5.6z"/><path d="M782.86 24.14l4.85 2.8v5.6l-4.85 2.8l-4.85 -2.8v-5.6z"/><path d="M788.76 23.28l4.85 2.8v5.6l-4.85 2.8l-4.85 -2.8v-5.6z"/><path d="M794.67 22.48l4.85 2.8v5.6l-4.85 2.8l-4.85 -2.8v-5.6z"/><path d="M800.57 21.73l4.85 2.8v5.6l-4.85 2.8l-4.85 -2.8v-5.6z"/><path d="M806.48 21.01l4.85 2.8v5.6l-4.85 2.8l-4.85 -2.8v-5.6z"/><path d="M812.38 20.32l4.85 2.8v5.6l-4.85 2.8l-4.85 -2.8v-5.6z"/><path d="M818.28 19.66l4.85 2.8v5.6l-4.85 2.8l-4.85 -2.8v-5.6z"/><path d="M824.19 19.03l4.85 2.8v5.6l-4.85 2.8l-4.85 -2.8v-5.6z"/><path d="M830.09 18.42l4.85 2.8v5.6l-4.85 2.8l-4.85 -2.8v-5.6z"/><path d="M836 17.84l4.85 2.8v5.6l-4.85 2.8l-4.85 -2.8v-5.6z"/><path d="M841.9 17.27l4.85 2.8v5.6l-4.85 2.8l-4.85 -2.8v-5.6z"/></g></g>
<g clip-path="url(#clipa)"><polyline points="251.5,715.55 257.4,703.74 263.31,691.93 269.21,680.13 275.12,668.32 281.02,656.51 286.92,644.71 292.83,632.9 298.73,621.09 304.64,609.28 310.54,597.46 316.44,585.62 322.35,573.75 328.25,561.86 334.16,549.95 340.06,538.01 345.96,526.03 351.87,514.01 357.77,501.9 363.68,489.72 369.58,477.49 375.48,465.26 381.39,453.1 387.29,441.04 393.2,429.15 399.1,417.44 405,405.94 410.91,394.6 416.81,383.41 422.72,372.32 428.62,361.33 434.52,350.41 440.43,339.56 446.33,328.81 452.24,318.14 458.14,307.52 464.04,296.92 469.95,286.29 475.85,275.58 481.76,264.76 487.66,253.89 493.56,243.19 499.47,232.86 505.37,223.02 511.28,213.63 517.18,204.63 523.08,196 528.99,187.7 534.89,179.67 540.8,171.84 546.7,164.12 552.6,156.46 558.51,148.9 564.41,141.51 570.32,134.34 576.22,127.42 582.12,120.72 588.03,114.32 593.93,108.27 599.84,102.6 605.74,97.26 611.64,92.22 617.55,87.51 623.45,83.15 629.36,79.16 635.26,75.49 641.16,72.07 647.07,68.86 652.97,65.88 658.88,63.21 664.78,60.84 670.68,58.7 676.59,56.7 682.49,54.79 688.4,52.96 694.3,51.22 700.2,49.54 706.11,47.92 712.01,46.39 717.92,45 723.82,43.75 729.72,42.63 735.63,41.6 741.53,40.63 747.44,39.72 753.34,38.86 759.24,38.03 765.15,37.23 771.05,36.44 776.96,35.66 782.86,34.89 788.76,34.13 794.67,33.38 800.57,32.65 806.48,31.93 812.38,31.23 818.28,30.56 824.19,29.9 830.09,29.26 836,28.64 841.9,28.04" fill="none" stroke="#6a0a2e" stroke-width="3.0" stroke-linejoin="round"/><g fill="#9b0c42" stroke="#6a0a2e" stroke-width="1"><path d="M298.73 615.49l4.85 2.8v5.6l-4.85 2.8l-4.85 -2.8v-5.6z"/><path d="M304.64 603.68l4.85 2.8v5.6l-4.85 2.8l-4.85 -2.8v-5.6z"/><path d="M310.54 591.86l4.85 2.8v5.6l-4.85 2.8l-4.85 -2.8v-5.6z"/><path d="M316.44 580.02l4.85 2.8v5.6l-4.85 2.8l-4.85 -2.8v-5.6z"/><path d="M322.35 568.15l4.85 2.8v5.6l-4.85 2.8l-4.85 -2.8v-5.6z"/><path d="M328.25 556.26l4.85 2.8v5.6l-4.85 2.8l-4.85 -2.8v-5.6z"/><path d="M334.16 544.35l4.85 2.8v5.6l-4.85 2.8l-4.85 -2.8v-5.6z"/><path d="M340.06 532.41l4.85 2.8v5.6l-4.85 2.8l-4.85 -2.8v-5.6z"/><path d="M345.96 520.43l4.85 2.8v5.6l-4.85 2.8l-4.85 -2.8v-5.6z"/><path d="M351.87 508.41l4.85 2.8v5.6l-4.85 2.8l-4.85 -2.8v-5.6z"/><path d="M357.77 496.3l4.85 2.8v5.6l-4.85 2.8l-4.85 -2.8v-5.6z"/><path d="M363.68 484.12l4.85 2.8v5.6l-4.85 2.8l-4.85 -2.8v-5.6z"/><path d="M369.58 471.89l4.85 2.8v5.6l-4.85 2.8l-4.85 -2.8v-5.6z"/><path d="M375.48 459.66l4.85 2.8v5.6l-4.85 2.8l-4.85 -2.8v-5.6z"/><path d="M381.39 447.5l4.85 2.8v5.6l-4.85 2.8l-4.85 -2.8v-5.6z"/><path d="M387.29 435.44l4.85 2.8v5.6l-4.85 2.8l-4.85 -2.8v-5.6z"/><path d="M393.2 423.55l4.85 2.8v5.6l-4.85 2.8l-4.85 -2.8v-5.6z"/><path d="M399.1 411.84l4.85 2.8v5.6l-4.85 2.8l-4.85 -2.8v-5.6z"/><path d="M405 400.34l4.85 2.8v5.6l-4.85 2.8l-4.85 -2.8v-5.6z"/><path d="M410.91 389l4.85 2.8v5.6l-4.85 2.8l-4.85 -2.8v-5.6z"/><path d="M416.81 377.81l4.85 2.8v5.6l-4.85 2.8l-4.85 -2.8v-5.6z"/><path d="M422.72 366.72l4.85 2.8v5.6l-4.85 2.8l-4.85 -2.8v-5.6z"/><path d="M428.62 355.73l4.85 2.8v5.6l-4.85 2.8l-4.85 -2.8v-5.6z"/><path d="M434.52 344.81l4.85 2.8v5.6l-4.85 2.8l-4.85 -2.8v-5.6z"/><path d="M440.43 333.96l4.85 2.8v5.6l-4.85 2.8l-4.85 -2.8v-5.6z"/><path d="M446.33 323.21l4.85 2.8v5.6l-4.85 2.8l-4.85 -2.8v-5.6z"/><path d="M452.24 312.54l4.85 2.8v5.6l-4.85 2.8l-4.85 -2.8v-5.6z"/><path d="M458.14 301.92l4.85 2.8v5.6l-4.85 2.8l-4.85 -2.8v-5.6z"/><path d="M464.04 291.32l4.85 2.8v5.6l-4.85 2.8l-4.85 -2.8v-5.6z"/><path d="M469.95 280.69l4.85 2.8v5.6l-4.85 2.8l-4.85 -2.8v-5.6z"/><path d="M475.85 269.98l4.85 2.8v5.6l-4.85 2.8l-4.85 -2.8v-5.6z"/><path d="M481.76 259.16l4.85 2.8v5.6l-4.85 2.8l-4.85 -2.8v-5.6z"/><path d="M487.66 248.29l4.85 2.8v5.6l-4.85 2.8l-4.85 -2.8v-5.6z"/><path d="M493.56 237.59l4.85 2.8v5.6l-4.85 2.8l-4.85 -2.8v-5.6z"/><path d="M499.47 227.26l4.85 2.8v5.6l-4.85 2.8l-4.85 -2.8v-5.6z"/><path d="M505.37 217.42l4.85 2.8v5.6l-4.85 2.8l-4.85 -2.8v-5.6z"/><path d="M511.28 208.03l4.85 2.8v5.6l-4.85 2.8l-4.85 -2.8v-5.6z"/><path d="M517.18 199.03l4.85 2.8v5.6l-4.85 2.8l-4.85 -2.8v-5.6z"/><path d="M523.08 190.4l4.85 2.8v5.6l-4.85 2.8l-4.85 -2.8v-5.6z"/><path d="M528.99 182.1l4.85 2.8v5.6l-4.85 2.8l-4.85 -2.8v-5.6z"/><path d="M534.89 174.07l4.85 2.8v5.6l-4.85 2.8l-4.85 -2.8v-5.6z"/><path d="M540.8 166.24l4.85 2.8v5.6l-4.85 2.8l-4.85 -2.8v-5.6z"/><path d="M546.7 158.52l4.85 2.8v5.6l-4.85 2.8l-4.85 -2.8v-5.6z"/><path d="M552.6 150.86l4.85 2.8v5.6l-4.85 2.8l-4.85 -2.8v-5.6z"/><path d="M558.51 143.3l4.85 2.8v5.6l-4.85 2.8l-4.85 -2.8v-5.6z"/><path d="M564.41 135.91l4.85 2.8v5.6l-4.85 2.8l-4.85 -2.8v-5.6z"/><path d="M570.32 128.74l4.85 2.8v5.6l-4.85 2.8l-4.85 -2.8v-5.6z"/><path d="M576.22 121.82l4.85 2.8v5.6l-4.85 2.8l-4.85 -2.8v-5.6z"/><path d="M582.12 115.12l4.85 2.8v5.6l-4.85 2.8l-4.85 -2.8v-5.6z"/><path d="M588.03 108.72l4.85 2.8v5.6l-4.85 2.8l-4.85 -2.8v-5.6z"/><path d="M593.93 102.67l4.85 2.8v5.6l-4.85 2.8l-4.85 -2.8v-5.6z"/><path d="M599.84 97l4.85 2.8v5.6l-4.85 2.8l-4.85 -2.8v-5.6z"/><path d="M605.74 91.66l4.85 2.8v5.6l-4.85 2.8l-4.85 -2.8v-5.6z"/><path d="M611.64 86.62l4.85 2.8v5.6l-4.85 2.8l-4.85 -2.8v-5.6z"/><path d="M617.55 81.91l4.85 2.8v5.6l-4.85 2.8l-4.85 -2.8v-5.6z"/><path d="M623.45 77.55l4.85 2.8v5.6l-4.85 2.8l-4.85 -2.8v-5.6z"/><path d="M629.36 73.56l4.85 2.8v5.6l-4.85 2.8l-4.85 -2.8v-5.6z"/><path d="M635.26 69.89l4.85 2.8v5.6l-4.85 2.8l-4.85 -2.8v-5.6z"/><path d="M641.16 66.47l4.85 2.8v5.6l-4.85 2.8l-4.85 -2.8v-5.6z"/><path d="M647.07 63.26l4.85 2.8v5.6l-4.85 2.8l-4.85 -2.8v-5.6z"/><path d="M652.97 60.28l4.85 2.8v5.6l-4.85 2.8l-4.85 -2.8v-5.6z"/><path d="M658.88 57.61l4.85 2.8v5.6l-4.85 2.8l-4.85 -2.8v-5.6z"/><path d="M664.78 55.24l4.85 2.8v5.6l-4.85 2.8l-4.85 -2.8v-5.6z"/><path d="M670.68 53.1l4.85 2.8v5.6l-4.85 2.8l-4.85 -2.8v-5.6z"/><path d="M676.59 51.1l4.85 2.8v5.6l-4.85 2.8l-4.85 -2.8v-5.6z"/><path d="M682.49 49.19l4.85 2.8v5.6l-4.85 2.8l-4.85 -2.8v-5.6z"/><path d="M688.4 47.36l4.85 2.8v5.6l-4.85 2.8l-4.85 -2.8v-5.6z"/><path d="M694.3 45.62l4.85 2.8v5.6l-4.85 2.8l-4.85 -2.8v-5.6z"/><path d="M700.2 43.94l4.85 2.8v5.6l-4.85 2.8l-4.85 -2.8v-5.6z"/><path d="M706.11 42.32l4.85 2.8v5.6l-4.85 2.8l-4.85 -2.8v-5.6z"/><path d="M712.01 40.79l4.85 2.8v5.6l-4.85 2.8l-4.85 -2.8v-5.6z"/><path d="M717.92 39.4l4.85 2.8v5.6l-4.85 2.8l-4.85 -2.8v-5.6z"/><path d="M723.82 38.15l4.85 2.8v5.6l-4.85 2.8l-4.85 -2.8v-5.6z"/><path d="M729.72 37.03l4.85 2.8v5.6l-4.85 2.8l-4.85 -2.8v-5.6z"/><path d="M735.63 36l4.85 2.8v5.6l-4.85 2.8l-4.85 -2.8v-5.6z"/><path d="M741.53 35.03l4.85 2.8v5.6l-4.85 2.8l-4.85 -2.8v-5.6z"/><path d="M747.44 34.12l4.85 2.8v5.6l-4.85 2.8l-4.85 -2.8v-5.6z"/><path d="M753.34 33.26l4.85 2.8v5.6l-4.85 2.8l-4.85 -2.8v-5.6z"/><path d="M759.24 32.43l4.85 2.8v5.6l-4.85 2.8l-4.85 -2.8v-5.6z"/><path d="M765.15 31.63l4.85 2.8v5.6l-4.85 2.8l-4.85 -2.8v-5.6z"/><path d="M771.05 30.84l4.85 2.8v5.6l-4.85 2.8l-4.85 -2.8v-5.6z"/><path d="M776.96 30.06l4.85 2.8v5.6l-4.85 2.8l-4.85 -2.8v-5.6z"/><path d="M782.86 29.29l4.85 2.8v5.6l-4.85 2.8l-4.85 -2.8v-5.6z"/><path d="M788.76 28.53l4.85 2.8v5.6l-4.85 2.8l-4.85 -2.8v-5.6z"/><path d="M794.67 27.78l4.85 2.8v5.6l-4.85 2.8l-4.85 -2.8v-5.6z"/><path d="M800.57 27.05l4.85 2.8v5.6l-4.85 2.8l-4.85 -2.8v-5.6z"/><path d="M806.48 26.33l4.85 2.8v5.6l-4.85 2.8l-4.85 -2.8v-5.6z"/><path d="M812.38 25.63l4.85 2.8v5.6l-4.85 2.8l-4.85 -2.8v-5.6z"/><path d="M818.28 24.96l4.85 2.8v5.6l-4.85 2.8l-4.85 -2.8v-5.6z"/><path d="M824.19 24.3l4.85 2.8v5.6l-4.85 2.8l-4.85 -2.8v-5.6z"/><path d="M830.09 23.66l4.85 2.8v5.6l-4.85 2.8l-4.85 -2.8v-5.6z"/><path d="M836 23.04l4.85 2.8v5.6l-4.85 2.8l-4.85 -2.8v-5.6z"/><path d="M841.9 22.44l4.85 2.8v5.6l-4.85 2.8l-4.85 -2.8v-5.6z"/></g></g>
<g clip-path="url(#clipa)"><polyline points="251.5,919.23 257.4,902 263.31,884.76 269.21,867.53 275.12,850.3 281.02,833.06 286.92,815.83 292.83,798.59 298.73,781.36 304.64,764.12 310.54,746.89 316.44,729.65 322.35,712.42 328.25,695.18 334.16,677.95 340.06,660.71 345.96,643.48 351.87,626.24 357.77,609.01 363.68,591.78 369.58,574.54 375.48,557.31 381.39,540.08 387.29,522.85 393.2,505.6 399.1,488.27 405,470.79 410.91,453.23 416.81,435.91 422.72,419.21 428.62,403.42 434.52,388.52 440.43,374.3 446.33,360.45 452.24,346.81 458.14,333.33 464.04,320.12 469.95,307.23 475.85,294.66 481.76,282.36 487.66,270.27 493.56,258.29 499.47,246.39 505.37,234.54 511.28,222.84 517.18,211.45 523.08,200.46 528.99,189.85 534.89,179.67 540.8,170.02 546.7,161.03 552.6,152.7 558.51,144.95 564.41,137.69 570.32,130.87 576.22,124.41 582.12,118.31 588.03,112.68 593.93,107.65 599.84,103.22 605.74,99.28 611.64,95.7 617.55,92.4 623.45,89.32 629.36,86.43 635.26,83.7 641.16,81.09 647.07,78.63 652.97,76.31 658.88,74.14 664.78,72.11 670.68,70.23 676.59,68.44 682.49,66.74 688.4,65.11 694.3,63.56 700.2,62.1 706.11,60.74 712.01,59.49 717.92,58.34 723.82,57.28 729.72,56.3 735.63,55.38 741.53,54.51 747.44,53.69 753.34,52.91 759.24,52.16 765.15,51.45 771.05,50.77 776.96,50.11 782.86,49.47 788.76,48.86 794.67,48.26 800.57,47.67 806.48,47.12 812.38,46.58 818.28,46.06 824.19,45.57 830.09,45.11 836,44.67 841.9,44.25" fill="none" stroke="#b02d4a" stroke-width="3.0" stroke-linejoin="round"/><g fill="#d32e50" stroke="#b02d4a" stroke-width="1"><path d="M357.77 603.41l4.85 2.8v5.6l-4.85 2.8l-4.85 -2.8v-5.6z"/><path d="M363.68 586.18l4.85 2.8v5.6l-4.85 2.8l-4.85 -2.8v-5.6z"/><path d="M369.58 568.94l4.85 2.8v5.6l-4.85 2.8l-4.85 -2.8v-5.6z"/><path d="M375.48 551.71l4.85 2.8v5.6l-4.85 2.8l-4.85 -2.8v-5.6z"/><path d="M381.39 534.48l4.85 2.8v5.6l-4.85 2.8l-4.85 -2.8v-5.6z"/><path d="M387.29 517.25l4.85 2.8v5.6l-4.85 2.8l-4.85 -2.8v-5.6z"/><path d="M393.2 500l4.85 2.8v5.6l-4.85 2.8l-4.85 -2.8v-5.6z"/><path d="M399.1 482.67l4.85 2.8v5.6l-4.85 2.8l-4.85 -2.8v-5.6z"/><path d="M405 465.19l4.85 2.8v5.6l-4.85 2.8l-4.85 -2.8v-5.6z"/><path d="M410.91 447.63l4.85 2.8v5.6l-4.85 2.8l-4.85 -2.8v-5.6z"/><path d="M416.81 430.31l4.85 2.8v5.6l-4.85 2.8l-4.85 -2.8v-5.6z"/><path d="M422.72 413.61l4.85 2.8v5.6l-4.85 2.8l-4.85 -2.8v-5.6z"/><path d="M428.62 397.82l4.85 2.8v5.6l-4.85 2.8l-4.85 -2.8v-5.6z"/><path d="M434.52 382.92l4.85 2.8v5.6l-4.85 2.8l-4.85 -2.8v-5.6z"/><path d="M440.43 368.7l4.85 2.8v5.6l-4.85 2.8l-4.85 -2.8v-5.6z"/><path d="M446.33 354.85l4.85 2.8v5.6l-4.85 2.8l-4.85 -2.8v-5.6z"/><path d="M452.24 341.21l4.85 2.8v5.6l-4.85 2.8l-4.85 -2.8v-5.6z"/><path d="M458.14 327.73l4.85 2.8v5.6l-4.85 2.8l-4.85 -2.8v-5.6z"/><path d="M464.04 314.52l4.85 2.8v5.6l-4.85 2.8l-4.85 -2.8v-5.6z"/><path d="M469.95 301.63l4.85 2.8v5.6l-4.85 2.8l-4.85 -2.8v-5.6z"/><path d="M475.85 289.06l4.85 2.8v5.6l-4.85 2.8l-4.85 -2.8v-5.6z"/><path d="M481.76 276.76l4.85 2.8v5.6l-4.85 2.8l-4.85 -2.8v-5.6z"/><path d="M487.66 264.67l4.85 2.8v5.6l-4.85 2.8l-4.85 -2.8v-5.6z"/><path d="M493.56 252.69l4.85 2.8v5.6l-4.85 2.8l-4.85 -2.8v-5.6z"/><path d="M499.47 240.79l4.85 2.8v5.6l-4.85 2.8l-4.85 -2.8v-5.6z"/><path d="M505.37 228.94l4.85 2.8v5.6l-4.85 2.8l-4.85 -2.8v-5.6z"/><path d="M511.28 217.24l4.85 2.8v5.6l-4.85 2.8l-4.85 -2.8v-5.6z"/><path d="M517.18 205.85l4.85 2.8v5.6l-4.85 2.8l-4.85 -2.8v-5.6z"/><path d="M523.08 194.86l4.85 2.8v5.6l-4.85 2.8l-4.85 -2.8v-5.6z"/><path d="M528.99 184.25l4.85 2.8v5.6l-4.85 2.8l-4.85 -2.8v-5.6z"/><path d="M534.89 174.07l4.85 2.8v5.6l-4.85 2.8l-4.85 -2.8v-5.6z"/><path d="M540.8 164.42l4.85 2.8v5.6l-4.85 2.8l-4.85 -2.8v-5.6z"/><path d="M546.7 155.43l4.85 2.8v5.6l-4.85 2.8l-4.85 -2.8v-5.6z"/><path d="M552.6 147.1l4.85 2.8v5.6l-4.85 2.8l-4.85 -2.8v-5.6z"/><path d="M558.51 139.35l4.85 2.8v5.6l-4.85 2.8l-4.85 -2.8v-5.6z"/><path d="M564.41 132.09l4.85 2.8v5.6l-4.85 2.8l-4.85 -2.8v-5.6z"/><path d="M570.32 125.27l4.85 2.8v5.6l-4.85 2.8l-4.85 -2.8v-5.6z"/><path d="M576.22 118.81l4.85 2.8v5.6l-4.85 2.8l-4.85 -2.8v-5.6z"/><path d="M582.12 112.71l4.85 2.8v5.6l-4.85 2.8l-4.85 -2.8v-5.6z"/><path d="M588.03 107.08l4.85 2.8v5.6l-4.85 2.8l-4.85 -2.8v-5.6z"/><path d="M593.93 102.05l4.85 2.8v5.6l-4.85 2.8l-4.85 -2.8v-5.6z"/><path d="M599.84 97.62l4.85 2.8v5.6l-4.85 2.8l-4.85 -2.8v-5.6z"/><path d="M605.74 93.68l4.85 2.8v5.6l-4.85 2.8l-4.85 -2.8v-5.6z"/><path d="M611.64 90.1l4.85 2.8v5.6l-4.85 2.8l-4.85 -2.8v-5.6z"/><path d="M617.55 86.8l4.85 2.8v5.6l-4.85 2.8l-4.85 -2.8v-5.6z"/><path d="M623.45 83.72l4.85 2.8v5.6l-4.85 2.8l-4.85 -2.8v-5.6z"/><path d="M629.36 80.83l4.85 2.8v5.6l-4.85 2.8l-4.85 -2.8v-5.6z"/><path d="M635.26 78.1l4.85 2.8v5.6l-4.85 2.8l-4.85 -2.8v-5.6z"/><path d="M641.16 75.49l4.85 2.8v5.6l-4.85 2.8l-4.85 -2.8v-5.6z"/><path d="M647.07 73.03l4.85 2.8v5.6l-4.85 2.8l-4.85 -2.8v-5.6z"/><path d="M652.97 70.71l4.85 2.8v5.6l-4.85 2.8l-4.85 -2.8v-5.6z"/><path d="M658.88 68.54l4.85 2.8v5.6l-4.85 2.8l-4.85 -2.8v-5.6z"/><path d="M664.78 66.51l4.85 2.8v5.6l-4.85 2.8l-4.85 -2.8v-5.6z"/><path d="M670.68 64.63l4.85 2.8v5.6l-4.85 2.8l-4.85 -2.8v-5.6z"/><path d="M676.59 62.84l4.85 2.8v5.6l-4.85 2.8l-4.85 -2.8v-5.6z"/><path d="M682.49 61.14l4.85 2.8v5.6l-4.85 2.8l-4.85 -2.8v-5.6z"/><path d="M688.4 59.51l4.85 2.8v5.6l-4.85 2.8l-4.85 -2.8v-5.6z"/><path d="M694.3 57.96l4.85 2.8v5.6l-4.85 2.8l-4.85 -2.8v-5.6z"/><path d="M700.2 56.5l4.85 2.8v5.6l-4.85 2.8l-4.85 -2.8v-5.6z"/><path d="M706.11 55.14l4.85 2.8v5.6l-4.85 2.8l-4.85 -2.8v-5.6z"/><path d="M712.01 53.89l4.85 2.8v5.6l-4.85 2.8l-4.85 -2.8v-5.6z"/><path d="M717.92 52.74l4.85 2.8v5.6l-4.85 2.8l-4.85 -2.8v-5.6z"/><path d="M723.82 51.68l4.85 2.8v5.6l-4.85 2.8l-4.85 -2.8v-5.6z"/><path d="M729.72 50.7l4.85 2.8v5.6l-4.85 2.8l-4.85 -2.8v-5.6z"/><path d="M735.63 49.78l4.85 2.8v5.6l-4.85 2.8l-4.85 -2.8v-5.6z"/><path d="M741.53 48.91l4.85 2.8v5.6l-4.85 2.8l-4.85 -2.8v-5.6z"/><path d="M747.44 48.09l4.85 2.8v5.6l-4.85 2.8l-4.85 -2.8v-5.6z"/><path d="M753.34 47.31l4.85 2.8v5.6l-4.85 2.8l-4.85 -2.8v-5.6z"/><path d="M759.24 46.56l4.85 2.8v5.6l-4.85 2.8l-4.85 -2.8v-5.6z"/><path d="M765.15 45.85l4.85 2.8v5.6l-4.85 2.8l-4.85 -2.8v-5.6z"/><path d="M771.05 45.17l4.85 2.8v5.6l-4.85 2.8l-4.85 -2.8v-5.6z"/><path d="M776.96 44.51l4.85 2.8v5.6l-4.85 2.8l-4.85 -2.8v-5.6z"/><path d="M782.86 43.87l4.85 2.8v5.6l-4.85 2.8l-4.85 -2.8v-5.6z"/><path d="M788.76 43.26l4.85 2.8v5.6l-4.85 2.8l-4.85 -2.8v-5.6z"/><path d="M794.67 42.66l4.85 2.8v5.6l-4.85 2.8l-4.85 -2.8v-5.6z"/><path d="M800.57 42.07l4.85 2.8v5.6l-4.85 2.8l-4.85 -2.8v-5.6z"/><path d="M806.48 41.52l4.85 2.8v5.6l-4.85 2.8l-4.85 -2.8v-5.6z"/><path d="M812.38 40.98l4.85 2.8v5.6l-4.85 2.8l-4.85 -2.8v-5.6z"/><path d="M818.28 40.46l4.85 2.8v5.6l-4.85 2.8l-4.85 -2.8v-5.6z"/><path d="M824.19 39.97l4.85 2.8v5.6l-4.85 2.8l-4.85 -2.8v-5.6z"/><path d="M830.09 39.51l4.85 2.8v5.6l-4.85 2.8l-4.85 -2.8v-5.6z"/><path d="M836 39.07l4.85 2.8v5.6l-4.85 2.8l-4.85 -2.8v-5.6z"/><path d="M841.9 38.65l4.85 2.8v5.6l-4.85 2.8l-4.85 -2.8v-5.6z"/></g></g>
<g clip-path="url(#clipa)"><polyline points="251.5,1023.26 257.4,1004.23 263.31,985.21 269.21,966.18 275.12,947.15 281.02,928.13 286.92,909.1 292.83,890.07 298.73,871.05 304.64,852.02 310.54,832.99 316.44,813.97 322.35,794.94 328.25,775.91 334.16,756.89 340.06,737.86 345.96,718.83 351.87,699.81 357.77,680.78 363.68,661.75 369.58,642.72 375.48,623.66 381.39,604.47 387.29,585.03 393.2,565.24 399.1,545.08 405,524.56 410.91,503.57 416.81,481.97 422.72,459.91 428.62,437.91 434.52,416.54 440.43,395.96 446.33,375.99 452.24,356.58 458.14,337.89 464.04,320.19 469.95,303.65 475.85,288.31 481.76,273.98 487.66,260.5 493.56,247.77 499.47,235.72 505.37,224.31 511.28,213.49 517.18,203.21 523.08,193.43 528.99,184.13 534.89,175.26 540.8,166.82 546.7,158.78 552.6,151.12 558.51,143.88 564.41,137.11 570.32,130.88 576.22,125.17 582.12,119.92 588.03,115.04 593.93,110.44 599.84,106.03 605.74,101.89 611.64,98.27 617.55,95.43 623.45,93.28 629.36,91.6 635.26,90.19 641.16,88.98 647.07,87.91 652.97,86.93 658.88,86.04 664.78,85.23 670.68,84.47 676.59,83.76 682.49,83.09 688.4,82.44 694.3,81.8 700.2,81.2 706.11,80.61 712.01,80.04 717.92,79.49 723.82,78.96 729.72,78.45 735.63,77.95 741.53,77.47 747.44,77.01 753.34,76.55 759.24,76.11 765.15,75.68 771.05,75.26 776.96,74.85 782.86,74.44 788.76,74.05 794.67,73.66 800.57,73.29 806.48,72.93 812.38,72.58 818.28,72.24 824.19,71.91 830.09,71.6 836,71.31 841.9,71.02" fill="none" stroke="#d95a45" stroke-width="3.0" stroke-linejoin="round"/><g fill="#f2623f" stroke="#d95a45" stroke-width="1"><path d="M381.39 598.87l4.85 2.8v5.6l-4.85 2.8l-4.85 -2.8v-5.6z"/><path d="M387.29 579.43l4.85 2.8v5.6l-4.85 2.8l-4.85 -2.8v-5.6z"/><path d="M393.2 559.64l4.85 2.8v5.6l-4.85 2.8l-4.85 -2.8v-5.6z"/><path d="M399.1 539.48l4.85 2.8v5.6l-4.85 2.8l-4.85 -2.8v-5.6z"/><path d="M405 518.96l4.85 2.8v5.6l-4.85 2.8l-4.85 -2.8v-5.6z"/><path d="M410.91 497.97l4.85 2.8v5.6l-4.85 2.8l-4.85 -2.8v-5.6z"/><path d="M416.81 476.37l4.85 2.8v5.6l-4.85 2.8l-4.85 -2.8v-5.6z"/><path d="M422.72 454.31l4.85 2.8v5.6l-4.85 2.8l-4.85 -2.8v-5.6z"/><path d="M428.62 432.31l4.85 2.8v5.6l-4.85 2.8l-4.85 -2.8v-5.6z"/><path d="M434.52 410.94l4.85 2.8v5.6l-4.85 2.8l-4.85 -2.8v-5.6z"/><path d="M440.43 390.36l4.85 2.8v5.6l-4.85 2.8l-4.85 -2.8v-5.6z"/><path d="M446.33 370.39l4.85 2.8v5.6l-4.85 2.8l-4.85 -2.8v-5.6z"/><path d="M452.24 350.98l4.85 2.8v5.6l-4.85 2.8l-4.85 -2.8v-5.6z"/><path d="M458.14 332.29l4.85 2.8v5.6l-4.85 2.8l-4.85 -2.8v-5.6z"/><path d="M464.04 314.59l4.85 2.8v5.6l-4.85 2.8l-4.85 -2.8v-5.6z"/><path d="M469.95 298.05l4.85 2.8v5.6l-4.85 2.8l-4.85 -2.8v-5.6z"/><path d="M475.85 282.71l4.85 2.8v5.6l-4.85 2.8l-4.85 -2.8v-5.6z"/><path d="M481.76 268.38l4.85 2.8v5.6l-4.85 2.8l-4.85 -2.8v-5.6z"/><path d="M487.66 254.9l4.85 2.8v5.6l-4.85 2.8l-4.85 -2.8v-5.6z"/><path d="M493.56 242.17l4.85 2.8v5.6l-4.85 2.8l-4.85 -2.8v-5.6z"/><path d="M499.47 230.12l4.85 2.8v5.6l-4.85 2.8l-4.85 -2.8v-5.6z"/><path d="M505.37 218.71l4.85 2.8v5.6l-4.85 2.8l-4.85 -2.8v-5.6z"/><path d="M511.28 207.89l4.85 2.8v5.6l-4.85 2.8l-4.85 -2.8v-5.6z"/><path d="M517.18 197.61l4.85 2.8v5.6l-4.85 2.8l-4.85 -2.8v-5.6z"/><path d="M523.08 187.83l4.85 2.8v5.6l-4.85 2.8l-4.85 -2.8v-5.6z"/><path d="M528.99 178.53l4.85 2.8v5.6l-4.85 2.8l-4.85 -2.8v-5.6z"/><path d="M534.89 169.66l4.85 2.8v5.6l-4.85 2.8l-4.85 -2.8v-5.6z"/><path d="M540.8 161.22l4.85 2.8v5.6l-4.85 2.8l-4.85 -2.8v-5.6z"/><path d="M546.7 153.18l4.85 2.8v5.6l-4.85 2.8l-4.85 -2.8v-5.6z"/><path d="M552.6 145.52l4.85 2.8v5.6l-4.85 2.8l-4.85 -2.8v-5.6z"/><path d="M558.51 138.28l4.85 2.8v5.6l-4.85 2.8l-4.85 -2.8v-5.6z"/><path d="M564.41 131.51l4.85 2.8v5.6l-4.85 2.8l-4.85 -2.8v-5.6z"/><path d="M570.32 125.28l4.85 2.8v5.6l-4.85 2.8l-4.85 -2.8v-5.6z"/><path d="M576.22 119.57l4.85 2.8v5.6l-4.85 2.8l-4.85 -2.8v-5.6z"/><path d="M582.12 114.32l4.85 2.8v5.6l-4.85 2.8l-4.85 -2.8v-5.6z"/><path d="M588.03 109.44l4.85 2.8v5.6l-4.85 2.8l-4.85 -2.8v-5.6z"/><path d="M593.93 104.84l4.85 2.8v5.6l-4.85 2.8l-4.85 -2.8v-5.6z"/><path d="M599.84 100.43l4.85 2.8v5.6l-4.85 2.8l-4.85 -2.8v-5.6z"/><path d="M605.74 96.29l4.85 2.8v5.6l-4.85 2.8l-4.85 -2.8v-5.6z"/><path d="M611.64 92.67l4.85 2.8v5.6l-4.85 2.8l-4.85 -2.8v-5.6z"/><path d="M617.55 89.83l4.85 2.8v5.6l-4.85 2.8l-4.85 -2.8v-5.6z"/><path d="M623.45 87.68l4.85 2.8v5.6l-4.85 2.8l-4.85 -2.8v-5.6z"/><path d="M629.36 86l4.85 2.8v5.6l-4.85 2.8l-4.85 -2.8v-5.6z"/><path d="M635.26 84.59l4.85 2.8v5.6l-4.85 2.8l-4.85 -2.8v-5.6z"/><path d="M641.16 83.38l4.85 2.8v5.6l-4.85 2.8l-4.85 -2.8v-5.6z"/><path d="M647.07 82.31l4.85 2.8v5.6l-4.85 2.8l-4.85 -2.8v-5.6z"/><path d="M652.97 81.33l4.85 2.8v5.6l-4.85 2.8l-4.85 -2.8v-5.6z"/><path d="M658.88 80.44l4.85 2.8v5.6l-4.85 2.8l-4.85 -2.8v-5.6z"/><path d="M664.78 79.63l4.85 2.8v5.6l-4.85 2.8l-4.85 -2.8v-5.6z"/><path d="M670.68 78.87l4.85 2.8v5.6l-4.85 2.8l-4.85 -2.8v-5.6z"/><path d="M676.59 78.16l4.85 2.8v5.6l-4.85 2.8l-4.85 -2.8v-5.6z"/><path d="M682.49 77.49l4.85 2.8v5.6l-4.85 2.8l-4.85 -2.8v-5.6z"/><path d="M688.4 76.84l4.85 2.8v5.6l-4.85 2.8l-4.85 -2.8v-5.6z"/><path d="M694.3 76.2l4.85 2.8v5.6l-4.85 2.8l-4.85 -2.8v-5.6z"/><path d="M700.2 75.6l4.85 2.8v5.6l-4.85 2.8l-4.85 -2.8v-5.6z"/><path d="M706.11 75.01l4.85 2.8v5.6l-4.85 2.8l-4.85 -2.8v-5.6z"/><path d="M712.01 74.44l4.85 2.8v5.6l-4.85 2.8l-4.85 -2.8v-5.6z"/><path d="M717.92 73.89l4.85 2.8v5.6l-4.85 2.8l-4.85 -2.8v-5.6z"/><path d="M723.82 73.36l4.85 2.8v5.6l-4.85 2.8l-4.85 -2.8v-5.6z"/><path d="M729.72 72.85l4.85 2.8v5.6l-4.85 2.8l-4.85 -2.8v-5.6z"/><path d="M735.63 72.35l4.85 2.8v5.6l-4.85 2.8l-4.85 -2.8v-5.6z"/><path d="M741.53 71.87l4.85 2.8v5.6l-4.85 2.8l-4.85 -2.8v-5.6z"/><path d="M747.44 71.41l4.85 2.8v5.6l-4.85 2.8l-4.85 -2.8v-5.6z"/><path d="M753.34 70.95l4.85 2.8v5.6l-4.85 2.8l-4.85 -2.8v-5.6z"/><path d="M759.24 70.51l4.85 2.8v5.6l-4.85 2.8l-4.85 -2.8v-5.6z"/><path d="M765.15 70.08l4.85 2.8v5.6l-4.85 2.8l-4.85 -2.8v-5.6z"/><path d="M771.05 69.66l4.85 2.8v5.6l-4.85 2.8l-4.85 -2.8v-5.6z"/><path d="M776.96 69.25l4.85 2.8v5.6l-4.85 2.8l-4.85 -2.8v-5.6z"/><path d="M782.86 68.84l4.85 2.8v5.6l-4.85 2.8l-4.85 -2.8v-5.6z"/><path d="M788.76 68.45l4.85 2.8v5.6l-4.85 2.8l-4.85 -2.8v-5.6z"/><path d="M794.67 68.06l4.85 2.8v5.6l-4.85 2.8l-4.85 -2.8v-5.6z"/><path d="M800.57 67.69l4.85 2.8v5.6l-4.85 2.8l-4.85 -2.8v-5.6z"/><path d="M806.48 67.33l4.85 2.8v5.6l-4.85 2.8l-4.85 -2.8v-5.6z"/><path d="M812.38 66.98l4.85 2.8v5.6l-4.85 2.8l-4.85 -2.8v-5.6z"/><path d="M818.28 66.64l4.85 2.8v5.6l-4.85 2.8l-4.85 -2.8v-5.6z"/><path d="M824.19 66.31l4.85 2.8v5.6l-4.85 2.8l-4.85 -2.8v-5.6z"/><path d="M830.09 66l4.85 2.8v5.6l-4.85 2.8l-4.85 -2.8v-5.6z"/><path d="M836 65.71l4.85 2.8v5.6l-4.85 2.8l-4.85 -2.8v-5.6z"/><path d="M841.9 65.42l4.85 2.8v5.6l-4.85 2.8l-4.85 -2.8v-5.6z"/></g></g>
<g clip-path="url(#clipa)"><polyline points="251.5,1124.71 257.4,1102.96 263.31,1081.21 269.21,1059.45 275.12,1037.7 281.02,1015.95 286.92,994.19 292.83,972.44 298.73,950.69 304.64,928.93 310.54,907.18 316.44,885.43 322.35,863.67 328.25,841.92 334.16,820.16 340.06,798.41 345.96,776.66 351.87,754.9 357.77,733.15 363.68,711.4 369.58,689.64 375.48,667.89 381.39,646.14 387.29,624.38 393.2,602.61 399.1,580.82 405,559 410.91,537.14 416.81,515.2 422.72,493.12 428.62,470.95 434.52,448.85 440.43,427.09 446.33,405.78 452.24,384.9 458.14,364.47 464.04,344.63 469.95,325.5 475.85,307.05 481.76,289.1 487.66,271.7 493.56,255.16 499.47,239.84 505.37,226.01 511.28,213.66 517.18,202.5 523.08,192.27 528.99,182.79 534.89,173.91 540.8,165.41 546.7,157.1 552.6,149 558.51,141.47 564.41,134.97 570.32,129.93 576.22,126.38 582.12,123.93 588.03,122.08 593.93,120.45 599.84,118.87 605.74,117.33 611.64,115.93 617.55,114.72 623.45,113.7 629.36,112.77 635.26,111.91 641.16,111.1 647.07,110.34 652.97,109.64 658.88,109 664.78,108.43 670.68,107.93 676.59,107.51 682.49,107.17 688.4,106.89 694.3,106.64 700.2,106.41 706.11,106.19 712.01,105.97 717.92,105.76 723.82,105.56 729.72,105.37 735.63,105.18 741.53,105.01 747.44,104.84 753.34,104.68 759.24,104.53 765.15,104.39 771.05,104.25 776.96,104.13 782.86,104.02 788.76,103.91 794.67,103.82 800.57,103.73 806.48,103.66 812.38,103.6 818.28,103.55 824.19,103.51 830.09,103.48 836,103.46 841.9,103.45" fill="none" stroke="#ec9553" stroke-width="3.0" stroke-linejoin="round"/><g fill="#f8994f" stroke="#ec9553" stroke-width="1"><path d="M393.2 597.01l4.85 2.8v5.6l-4.85 2.8l-4.85 -2.8v-5.6z"/><path d="M399.1 575.22l4.85 2.8v5.6l-4.85 2.8l-4.85 -2.8v-5.6z"/><path d="M405 553.4l4.85 2.8v5.6l-4.85 2.8l-4.85 -2.8v-5.6z"/><path d="M410.91 531.54l4.85 2.8v5.6l-4.85 2.8l-4.85 -2.8v-5.6z"/><path d="M416.81 509.6l4.85 2.8v5.6l-4.85 2.8l-4.85 -2.8v-5.6z"/><path d="M422.72 487.52l4.85 2.8v5.6l-4.85 2.8l-4.85 -2.8v-5.6z"/><path d="M428.62 465.35l4.85 2.8v5.6l-4.85 2.8l-4.85 -2.8v-5.6z"/><path d="M434.52 443.25l4.85 2.8v5.6l-4.85 2.8l-4.85 -2.8v-5.6z"/><path d="M440.43 421.49l4.85 2.8v5.6l-4.85 2.8l-4.85 -2.8v-5.6z"/><path d="M446.33 400.18l4.85 2.8v5.6l-4.85 2.8l-4.85 -2.8v-5.6z"/><path d="M452.24 379.3l4.85 2.8v5.6l-4.85 2.8l-4.85 -2.8v-5.6z"/><path d="M458.14 358.87l4.85 2.8v5.6l-4.85 2.8l-4.85 -2.8v-5.6z"/><path d="M464.04 339.03l4.85 2.8v5.6l-4.85 2.8l-4.85 -2.8v-5.6z"/><path d="M469.95 319.9l4.85 2.8v5.6l-4.85 2.8l-4.85 -2.8v-5.6z"/><path d="M475.85 301.45l4.85 2.8v5.6l-4.85 2.8l-4.85 -2.8v-5.6z"/><path d="M481.76 283.5l4.85 2.8v5.6l-4.85 2.8l-4.85 -2.8v-5.6z"/><path d="M487.66 266.1l4.85 2.8v5.6l-4.85 2.8l-4.85 -2.8v-5.6z"/><path d="M493.56 249.56l4.85 2.8v5.6l-4.85 2.8l-4.85 -2.8v-5.6z"/><path d="M499.47 234.24l4.85 2.8v5.6l-4.85 2.8l-4.85 -2.8v-5.6z"/><path d="M505.37 220.41l4.85 2.8v5.6l-4.85 2.8l-4.85 -2.8v-5.6z"/><path d="M511.28 208.06l4.85 2.8v5.6l-4.85 2.8l-4.85 -2.8v-5.6z"/><path d="M517.18 196.9l4.85 2.8v5.6l-4.85 2.8l-4.85 -2.8v-5.6z"/><path d="M523.08 186.67l4.85 2.8v5.6l-4.85 2.8l-4.85 -2.8v-5.6z"/><path d="M528.99 177.19l4.85 2.8v5.6l-4.85 2.8l-4.85 -2.8v-5.6z"/><path d="M534.89 168.31l4.85 2.8v5.6l-4.85 2.8l-4.85 -2.8v-5.6z"/><path d="M540.8 159.81l4.85 2.8v5.6l-4.85 2.8l-4.85 -2.8v-5.6z"/><path d="M546.7 151.5l4.85 2.8v5.6l-4.85 2.8l-4.85 -2.8v-5.6z"/><path d="M552.6 143.4l4.85 2.8v5.6l-4.85 2.8l-4.85 -2.8v-5.6z"/><path d="M558.51 135.87l4.85 2.8v5.6l-4.85 2.8l-4.85 -2.8v-5.6z"/><path d="M564.41 129.37l4.85 2.8v5.6l-4.85 2.8l-4.85 -2.8v-5.6z"/><path d="M570.32 124.33l4.85 2.8v5.6l-4.85 2.8l-4.85 -2.8v-5.6z"/><path d="M576.22 120.78l4.85 2.8v5.6l-4.85 2.8l-4.85 -2.8v-5.6z"/><path d="M582.12 118.33l4.85 2.8v5.6l-4.85 2.8l-4.85 -2.8v-5.6z"/><path d="M588.03 116.48l4.85 2.8v5.6l-4.85 2.8l-4.85 -2.8v-5.6z"/><path d="M593.93 114.85l4.85 2.8v5.6l-4.85 2.8l-4.85 -2.8v-5.6z"/><path d="M599.84 113.27l4.85 2.8v5.6l-4.85 2.8l-4.85 -2.8v-5.6z"/><path d="M605.74 111.73l4.85 2.8v5.6l-4.85 2.8l-4.85 -2.8v-5.6z"/><path d="M611.64 110.33l4.85 2.8v5.6l-4.85 2.8l-4.85 -2.8v-5.6z"/><path d="M617.55 109.12l4.85 2.8v5.6l-4.85 2.8l-4.85 -2.8v-5.6z"/><path d="M623.45 108.1l4.85 2.8v5.6l-4.85 2.8l-4.85 -2.8v-5.6z"/><path d="M629.36 107.17l4.85 2.8v5.6l-4.85 2.8l-4.85 -2.8v-5.6z"/><path d="M635.26 106.31l4.85 2.8v5.6l-4.85 2.8l-4.85 -2.8v-5.6z"/><path d="M641.16 105.5l4.85 2.8v5.6l-4.85 2.8l-4.85 -2.8v-5.6z"/><path d="M647.07 104.74l4.85 2.8v5.6l-4.85 2.8l-4.85 -2.8v-5.6z"/><path d="M652.97 104.04l4.85 2.8v5.6l-4.85 2.8l-4.85 -2.8v-5.6z"/><path d="M658.88 103.4l4.85 2.8v5.6l-4.85 2.8l-4.85 -2.8v-5.6z"/><path d="M664.78 102.83l4.85 2.8v5.6l-4.85 2.8l-4.85 -2.8v-5.6z"/><path d="M670.68 102.33l4.85 2.8v5.6l-4.85 2.8l-4.85 -2.8v-5.6z"/><path d="M676.59 101.91l4.85 2.8v5.6l-4.85 2.8l-4.85 -2.8v-5.6z"/><path d="M682.49 101.57l4.85 2.8v5.6l-4.85 2.8l-4.85 -2.8v-5.6z"/><path d="M688.4 101.29l4.85 2.8v5.6l-4.85 2.8l-4.85 -2.8v-5.6z"/><path d="M694.3 101.04l4.85 2.8v5.6l-4.85 2.8l-4.85 -2.8v-5.6z"/><path d="M700.2 100.81l4.85 2.8v5.6l-4.85 2.8l-4.85 -2.8v-5.6z"/><path d="M706.11 100.59l4.85 2.8v5.6l-4.85 2.8l-4.85 -2.8v-5.6z"/><path d="M712.01 100.37l4.85 2.8v5.6l-4.85 2.8l-4.85 -2.8v-5.6z"/><path d="M717.92 100.16l4.85 2.8v5.6l-4.85 2.8l-4.85 -2.8v-5.6z"/><path d="M723.82 99.96l4.85 2.8v5.6l-4.85 2.8l-4.85 -2.8v-5.6z"/><path d="M729.72 99.77l4.85 2.8v5.6l-4.85 2.8l-4.85 -2.8v-5.6z"/><path d="M735.63 99.58l4.85 2.8v5.6l-4.85 2.8l-4.85 -2.8v-5.6z"/><path d="M741.53 99.41l4.85 2.8v5.6l-4.85 2.8l-4.85 -2.8v-5.6z"/><path d="M747.44 99.24l4.85 2.8v5.6l-4.85 2.8l-4.85 -2.8v-5.6z"/><path d="M753.34 99.08l4.85 2.8v5.6l-4.85 2.8l-4.85 -2.8v-5.6z"/><path d="M759.24 98.93l4.85 2.8v5.6l-4.85 2.8l-4.85 -2.8v-5.6z"/><path d="M765.15 98.79l4.85 2.8v5.6l-4.85 2.8l-4.85 -2.8v-5.6z"/><path d="M771.05 98.65l4.85 2.8v5.6l-4.85 2.8l-4.85 -2.8v-5.6z"/><path d="M776.96 98.53l4.85 2.8v5.6l-4.85 2.8l-4.85 -2.8v-5.6z"/><path d="M782.86 98.42l4.85 2.8v5.6l-4.85 2.8l-4.85 -2.8v-5.6z"/><path d="M788.76 98.31l4.85 2.8v5.6l-4.85 2.8l-4.85 -2.8v-5.6z"/><path d="M794.67 98.22l4.85 2.8v5.6l-4.85 2.8l-4.85 -2.8v-5.6z"/><path d="M800.57 98.13l4.85 2.8v5.6l-4.85 2.8l-4.85 -2.8v-5.6z"/><path d="M806.48 98.06l4.85 2.8v5.6l-4.85 2.8l-4.85 -2.8v-5.6z"/><path d="M812.38 98l4.85 2.8v5.6l-4.85 2.8l-4.85 -2.8v-5.6z"/><path d="M818.28 97.95l4.85 2.8v5.6l-4.85 2.8l-4.85 -2.8v-5.6z"/><path d="M824.19 97.91l4.85 2.8v5.6l-4.85 2.8l-4.85 -2.8v-5.6z"/><path d="M830.09 97.88l4.85 2.8v5.6l-4.85 2.8l-4.85 -2.8v-5.6z"/><path d="M836 97.86l4.85 2.8v5.6l-4.85 2.8l-4.85 -2.8v-5.6z"/><path d="M841.9 97.85l4.85 2.8v5.6l-4.85 2.8l-4.85 -2.8v-5.6z"/></g></g>
<g clip-path="url(#clipa)"><polyline points="251.5,1259.6 257.4,1237.28 263.31,1214.96 269.21,1192.65 275.12,1170.33 281.02,1148.01 286.92,1125.69 292.83,1103.38 298.73,1081.06 304.64,1058.74 310.54,1036.42 316.44,1014.11 322.35,991.79 328.25,969.47 334.16,947.15 340.06,924.84 345.96,902.52 351.87,880.2 357.77,857.88 363.68,835.56 369.58,813.25 375.48,790.93 381.39,768.61 387.29,746.29 393.2,723.98 399.1,701.66 405,679.34 410.91,657.01 416.81,634.59 422.72,611.61 428.62,587.14 434.52,560.54 440.43,533.18 446.33,507.68 452.24,484.95 458.14,464.07 464.04,443.92 469.95,423.57 475.85,402.74 481.76,381.83 487.66,361.15 493.56,340.65 499.47,320.14 505.37,299.42 511.28,278.87 517.18,259.57 523.08,242.15 528.99,226.31 534.89,211.56 540.8,197.97 546.7,186.2 552.6,176.85 558.51,170.09 564.41,165.64 570.32,162.8 576.22,160.89 582.12,159.48 588.03,158.38 593.93,157.52 599.84,156.84 605.74,156.26 611.64,155.74 617.55,155.28 623.45,154.85 629.36,154.46 635.26,154.11 641.16,153.78 647.07,153.46 652.97,153.17 658.88,152.88 664.78,152.6 670.68,152.33 676.59,152.06 682.49,151.8 688.4,151.56 694.3,151.33 700.2,151.11 706.11,150.89 712.01,150.68 717.92,150.48 723.82,150.28 729.72,150.08 735.63,149.88 741.53,149.68 747.44,149.47 753.34,149.27 759.24,149.07 765.15,148.87 771.05,148.67 776.96,148.47 782.86,148.28 788.76,148.08 794.67,147.89 800.57,147.7 806.48,147.52 812.38,147.33 818.28,147.15 824.19,146.97 830.09,146.79 836,146.61 841.9,146.44" fill="none" stroke="#f3cd8c" stroke-width="3.0" stroke-linejoin="round"/><g fill="#fdd68b" stroke="#f3cd8c" stroke-width="1"><path d="M422.72 606.01l4.85 2.8v5.6l-4.85 2.8l-4.85 -2.8v-5.6z"/><path d="M428.62 581.54l4.85 2.8v5.6l-4.85 2.8l-4.85 -2.8v-5.6z"/><path d="M434.52 554.94l4.85 2.8v5.6l-4.85 2.8l-4.85 -2.8v-5.6z"/><path d="M440.43 527.58l4.85 2.8v5.6l-4.85 2.8l-4.85 -2.8v-5.6z"/><path d="M446.33 502.08l4.85 2.8v5.6l-4.85 2.8l-4.85 -2.8v-5.6z"/><path d="M452.24 479.35l4.85 2.8v5.6l-4.85 2.8l-4.85 -2.8v-5.6z"/><path d="M458.14 458.47l4.85 2.8v5.6l-4.85 2.8l-4.85 -2.8v-5.6z"/><path d="M464.04 438.32l4.85 2.8v5.6l-4.85 2.8l-4.85 -2.8v-5.6z"/><path d="M469.95 417.97l4.85 2.8v5.6l-4.85 2.8l-4.85 -2.8v-5.6z"/><path d="M475.85 397.14l4.85 2.8v5.6l-4.85 2.8l-4.85 -2.8v-5.6z"/><path d="M481.76 376.23l4.85 2.8v5.6l-4.85 2.8l-4.85 -2.8v-5.6z"/><path d="M487.66 355.55l4.85 2.8v5.6l-4.85 2.8l-4.85 -2.8v-5.6z"/><path d="M493.56 335.05l4.85 2.8v5.6l-4.85 2.8l-4.85 -2.8v-5.6z"/><path d="M499.47 314.54l4.85 2.8v5.6l-4.85 2.8l-4.85 -2.8v-5.6z"/><path d="M505.37 293.82l4.85 2.8v5.6l-4.85 2.8l-4.85 -2.8v-5.6z"/><path d="M511.28 273.27l4.85 2.8v5.6l-4.85 2.8l-4.85 -2.8v-5.6z"/><path d="M517.18 253.97l4.85 2.8v5.6l-4.85 2.8l-4.85 -2.8v-5.6z"/><path d="M523.08 236.55l4.85 2.8v5.6l-4.85 2.8l-4.85 -2.8v-5.6z"/><path d="M528.99 220.71l4.85 2.8v5.6l-4.85 2.8l-4.85 -2.8v-5.6z"/><path d="M534.89 205.96l4.85 2.8v5.6l-4.85 2.8l-4.85 -2.8v-5.6z"/><path d="M540.8 192.37l4.85 2.8v5.6l-4.85 2.8l-4.85 -2.8v-5.6z"/><path d="M546.7 180.6l4.85 2.8v5.6l-4.85 2.8l-4.85 -2.8v-5.6z"/><path d="M552.6 171.25l4.85 2.8v5.6l-4.85 2.8l-4.85 -2.8v-5.6z"/><path d="M558.51 164.49l4.85 2.8v5.6l-4.85 2.8l-4.85 -2.8v-5.6z"/><path d="M564.41 160.04l4.85 2.8v5.6l-4.85 2.8l-4.85 -2.8v-5.6z"/><path d="M570.32 157.2l4.85 2.8v5.6l-4.85 2.8l-4.85 -2.8v-5.6z"/><path d="M576.22 155.29l4.85 2.8v5.6l-4.85 2.8l-4.85 -2.8v-5.6z"/><path d="M582.12 153.88l4.85 2.8v5.6l-4.85 2.8l-4.85 -2.8v-5.6z"/><path d="M588.03 152.78l4.85 2.8v5.6l-4.85 2.8l-4.85 -2.8v-5.6z"/><path d="M593.93 151.92l4.85 2.8v5.6l-4.85 2.8l-4.85 -2.8v-5.6z"/><path d="M599.84 151.24l4.85 2.8v5.6l-4.85 2.8l-4.85 -2.8v-5.6z"/><path d="M605.74 150.66l4.85 2.8v5.6l-4.85 2.8l-4.85 -2.8v-5.6z"/><path d="M611.64 150.14l4.85 2.8v5.6l-4.85 2.8l-4.85 -2.8v-5.6z"/><path d="M617.55 149.68l4.85 2.8v5.6l-4.85 2.8l-4.85 -2.8v-5.6z"/><path d="M623.45 149.25l4.85 2.8v5.6l-4.85 2.8l-4.85 -2.8v-5.6z"/><path d="M629.36 148.86l4.85 2.8v5.6l-4.85 2.8l-4.85 -2.8v-5.6z"/><path d="M635.26 148.51l4.85 2.8v5.6l-4.85 2.8l-4.85 -2.8v-5.6z"/><path d="M641.16 148.18l4.85 2.8v5.6l-4.85 2.8l-4.85 -2.8v-5.6z"/><path d="M647.07 147.86l4.85 2.8v5.6l-4.85 2.8l-4.85 -2.8v-5.6z"/><path d="M652.97 147.57l4.85 2.8v5.6l-4.85 2.8l-4.85 -2.8v-5.6z"/><path d="M658.88 147.28l4.85 2.8v5.6l-4.85 2.8l-4.85 -2.8v-5.6z"/><path d="M664.78 147l4.85 2.8v5.6l-4.85 2.8l-4.85 -2.8v-5.6z"/><path d="M670.68 146.73l4.85 2.8v5.6l-4.85 2.8l-4.85 -2.8v-5.6z"/><path d="M676.59 146.46l4.85 2.8v5.6l-4.85 2.8l-4.85 -2.8v-5.6z"/><path d="M682.49 146.2l4.85 2.8v5.6l-4.85 2.8l-4.85 -2.8v-5.6z"/><path d="M688.4 145.96l4.85 2.8v5.6l-4.85 2.8l-4.85 -2.8v-5.6z"/><path d="M694.3 145.73l4.85 2.8v5.6l-4.85 2.8l-4.85 -2.8v-5.6z"/><path d="M700.2 145.51l4.85 2.8v5.6l-4.85 2.8l-4.85 -2.8v-5.6z"/><path d="M706.11 145.29l4.85 2.8v5.6l-4.85 2.8l-4.85 -2.8v-5.6z"/><path d="M712.01 145.08l4.85 2.8v5.6l-4.85 2.8l-4.85 -2.8v-5.6z"/><path d="M717.92 144.88l4.85 2.8v5.6l-4.85 2.8l-4.85 -2.8v-5.6z"/><path d="M723.82 144.68l4.85 2.8v5.6l-4.85 2.8l-4.85 -2.8v-5.6z"/><path d="M729.72 144.48l4.85 2.8v5.6l-4.85 2.8l-4.85 -2.8v-5.6z"/><path d="M735.63 144.28l4.85 2.8v5.6l-4.85 2.8l-4.85 -2.8v-5.6z"/><path d="M741.53 144.08l4.85 2.8v5.6l-4.85 2.8l-4.85 -2.8v-5.6z"/><path d="M747.44 143.87l4.85 2.8v5.6l-4.85 2.8l-4.85 -2.8v-5.6z"/><path d="M753.34 143.67l4.85 2.8v5.6l-4.85 2.8l-4.85 -2.8v-5.6z"/><path d="M759.24 143.47l4.85 2.8v5.6l-4.85 2.8l-4.85 -2.8v-5.6z"/><path d="M765.15 143.27l4.85 2.8v5.6l-4.85 2.8l-4.85 -2.8v-5.6z"/><path d="M771.05 143.07l4.85 2.8v5.6l-4.85 2.8l-4.85 -2.8v-5.6z"/><path d="M776.96 142.87l4.85 2.8v5.6l-4.85 2.8l-4.85 -2.8v-5.6z"/><path d="M782.86 142.68l4.85 2.8v5.6l-4.85 2.8l-4.85 -2.8v-5.6z"/><path d="M788.76 142.48l4.85 2.8v5.6l-4.85 2.8l-4.85 -2.8v-5.6z"/><path d="M794.67 142.29l4.85 2.8v5.6l-4.85 2.8l-4.85 -2.8v-5.6z"/><path d="M800.57 142.1l4.85 2.8v5.6l-4.85 2.8l-4.85 -2.8v-5.6z"/><path d="M806.48 141.92l4.85 2.8v5.6l-4.85 2.8l-4.85 -2.8v-5.6z"/><path d="M812.38 141.73l4.85 2.8v5.6l-4.85 2.8l-4.85 -2.8v-5.6z"/><path d="M818.28 141.55l4.85 2.8v5.6l-4.85 2.8l-4.85 -2.8v-5.6z"/><path d="M824.19 141.37l4.85 2.8v5.6l-4.85 2.8l-4.85 -2.8v-5.6z"/><path d="M830.09 141.19l4.85 2.8v5.6l-4.85 2.8l-4.85 -2.8v-5.6z"/><path d="M836 141.01l4.85 2.8v5.6l-4.85 2.8l-4.85 -2.8v-5.6z"/><path d="M841.9 140.84l4.85 2.8v5.6l-4.85 2.8l-4.85 -2.8v-5.6z"/></g></g>
<g clip-path="url(#clipa)"><polyline points="251.5,1245.65 257.4,1223.33 263.31,1201.01 269.21,1178.7 275.12,1156.38 281.02,1134.06 286.92,1111.74 292.83,1089.43 298.73,1067.11 304.64,1044.79 310.54,1022.47 316.44,1000.16 322.35,977.84 328.25,955.52 334.16,933.2 340.06,910.89 345.96,888.57 351.87,866.25 357.77,843.93 363.68,821.62 369.58,799.3 375.48,776.98 381.39,754.66 387.29,732.35 393.2,710.03 399.1,687.71 405,665.39 410.91,643.02 416.81,620.35 422.72,596.56 428.62,570.73 434.52,543.35 440.43,516.91 446.33,493.19 452.24,471.76 458.14,451.46 464.04,431.26 469.95,410.59 475.85,389.65 481.76,368.87 487.66,348.33 493.56,327.85 499.47,307.19 505.37,286.49 511.28,266.76 517.18,249.13 523.08,233.83 528.99,220.56 534.89,209.26 540.8,200 546.7,192.78 552.6,187.42 558.51,183.56 564.41,180.89 570.32,179.27 576.22,178.46 582.12,178.08 588.03,177.85 593.93,177.67 599.84,177.54 605.74,177.43 611.64,177.34 617.55,177.25 623.45,177.17 629.36,177.08 635.26,177 641.16,176.92 647.07,176.84 652.97,176.76 658.88,176.68 664.78,176.6 670.68,176.53 676.59,176.46 682.49,176.38 688.4,176.32 694.3,176.25 700.2,176.18 706.11,176.12 712.01,176.06 717.92,176 723.82,175.94 729.72,175.89 735.63,175.84 741.53,175.79 747.44,175.74 753.34,175.69 759.24,175.65 765.15,175.61 771.05,175.57 776.96,175.54 782.86,175.51 788.76,175.48 794.67,175.45 800.57,175.43 806.48,175.41 812.38,175.39 818.28,175.37 824.19,175.36 830.09,175.36 836,175.35 841.9,175.35" fill="none" stroke="#c9e3ad" stroke-width="3.0" stroke-linejoin="round"/><g fill="#d4edb2" stroke="#c9e3ad" stroke-width="1"><path d="M416.81 614.75l4.85 2.8v5.6l-4.85 2.8l-4.85 -2.8v-5.6z"/><path d="M422.72 590.96l4.85 2.8v5.6l-4.85 2.8l-4.85 -2.8v-5.6z"/><path d="M428.62 565.13l4.85 2.8v5.6l-4.85 2.8l-4.85 -2.8v-5.6z"/><path d="M434.52 537.75l4.85 2.8v5.6l-4.85 2.8l-4.85 -2.8v-5.6z"/><path d="M440.43 511.31l4.85 2.8v5.6l-4.85 2.8l-4.85 -2.8v-5.6z"/><path d="M446.33 487.59l4.85 2.8v5.6l-4.85 2.8l-4.85 -2.8v-5.6z"/><path d="M452.24 466.16l4.85 2.8v5.6l-4.85 2.8l-4.85 -2.8v-5.6z"/><path d="M458.14 445.86l4.85 2.8v5.6l-4.85 2.8l-4.85 -2.8v-5.6z"/><path d="M464.04 425.66l4.85 2.8v5.6l-4.85 2.8l-4.85 -2.8v-5.6z"/><path d="M469.95 404.99l4.85 2.8v5.6l-4.85 2.8l-4.85 -2.8v-5.6z"/><path d="M475.85 384.05l4.85 2.8v5.6l-4.85 2.8l-4.85 -2.8v-5.6z"/><path d="M481.76 363.27l4.85 2.8v5.6l-4.85 2.8l-4.85 -2.8v-5.6z"/><path d="M487.66 342.73l4.85 2.8v5.6l-4.85 2.8l-4.85 -2.8v-5.6z"/><path d="M493.56 322.25l4.85 2.8v5.6l-4.85 2.8l-4.85 -2.8v-5.6z"/><path d="M499.47 301.59l4.85 2.8v5.6l-4.85 2.8l-4.85 -2.8v-5.6z"/><path d="M505.37 280.89l4.85 2.8v5.6l-4.85 2.8l-4.85 -2.8v-5.6z"/><path d="M511.28 261.16l4.85 2.8v5.6l-4.85 2.8l-4.85 -2.8v-5.6z"/><path d="M517.18 243.53l4.85 2.8v5.6l-4.85 2.8l-4.85 -2.8v-5.6z"/><path d="M523.08 228.23l4.85 2.8v5.6l-4.85 2.8l-4.85 -2.8v-5.6z"/><path d="M528.99 214.96l4.85 2.8v5.6l-4.85 2.8l-4.85 -2.8v-5.6z"/><path d="M534.89 203.66l4.85 2.8v5.6l-4.85 2.8l-4.85 -2.8v-5.6z"/><path d="M540.8 194.4l4.85 2.8v5.6l-4.85 2.8l-4.85 -2.8v-5.6z"/><path d="M546.7 187.18l4.85 2.8v5.6l-4.85 2.8l-4.85 -2.8v-5.6z"/><path d="M552.6 181.82l4.85 2.8v5.6l-4.85 2.8l-4.85 -2.8v-5.6z"/><path d="M558.51 177.96l4.85 2.8v5.6l-4.85 2.8l-4.85 -2.8v-5.6z"/><path d="M564.41 175.29l4.85 2.8v5.6l-4.85 2.8l-4.85 -2.8v-5.6z"/><path d="M570.32 173.67l4.85 2.8v5.6l-4.85 2.8l-4.85 -2.8v-5.6z"/><path d="M576.22 172.86l4.85 2.8v5.6l-4.85 2.8l-4.85 -2.8v-5.6z"/><path d="M582.12 172.48l4.85 2.8v5.6l-4.85 2.8l-4.85 -2.8v-5.6z"/><path d="M588.03 172.25l4.85 2.8v5.6l-4.85 2.8l-4.85 -2.8v-5.6z"/><path d="M593.93 172.07l4.85 2.8v5.6l-4.85 2.8l-4.85 -2.8v-5.6z"/><path d="M599.84 171.94l4.85 2.8v5.6l-4.85 2.8l-4.85 -2.8v-5.6z"/><path d="M605.74 171.83l4.85 2.8v5.6l-4.85 2.8l-4.85 -2.8v-5.6z"/><path d="M611.64 171.74l4.85 2.8v5.6l-4.85 2.8l-4.85 -2.8v-5.6z"/><path d="M617.55 171.65l4.85 2.8v5.6l-4.85 2.8l-4.85 -2.8v-5.6z"/><path d="M623.45 171.57l4.85 2.8v5.6l-4.85 2.8l-4.85 -2.8v-5.6z"/><path d="M629.36 171.48l4.85 2.8v5.6l-4.85 2.8l-4.85 -2.8v-5.6z"/><path d="M635.26 171.4l4.85 2.8v5.6l-4.85 2.8l-4.85 -2.8v-5.6z"/><path d="M641.16 171.32l4.85 2.8v5.6l-4.85 2.8l-4.85 -2.8v-5.6z"/><path d="M647.07 171.24l4.85 2.8v5.6l-4.85 2.8l-4.85 -2.8v-5.6z"/><path d="M652.97 171.16l4.85 2.8v5.6l-4.85 2.8l-4.85 -2.8v-5.6z"/><path d="M658.88 171.08l4.85 2.8v5.6l-4.85 2.8l-4.85 -2.8v-5.6z"/><path d="M664.78 171l4.85 2.8v5.6l-4.85 2.8l-4.85 -2.8v-5.6z"/><path d="M670.68 170.93l4.85 2.8v5.6l-4.85 2.8l-4.85 -2.8v-5.6z"/><path d="M676.59 170.86l4.85 2.8v5.6l-4.85 2.8l-4.85 -2.8v-5.6z"/><path d="M682.49 170.78l4.85 2.8v5.6l-4.85 2.8l-4.85 -2.8v-5.6z"/><path d="M688.4 170.72l4.85 2.8v5.6l-4.85 2.8l-4.85 -2.8v-5.6z"/><path d="M694.3 170.65l4.85 2.8v5.6l-4.85 2.8l-4.85 -2.8v-5.6z"/><path d="M700.2 170.58l4.85 2.8v5.6l-4.85 2.8l-4.85 -2.8v-5.6z"/><path d="M706.11 170.52l4.85 2.8v5.6l-4.85 2.8l-4.85 -2.8v-5.6z"/><path d="M712.01 170.46l4.85 2.8v5.6l-4.85 2.8l-4.85 -2.8v-5.6z"/><path d="M717.92 170.4l4.85 2.8v5.6l-4.85 2.8l-4.85 -2.8v-5.6z"/><path d="M723.82 170.34l4.85 2.8v5.6l-4.85 2.8l-4.85 -2.8v-5.6z"/><path d="M729.72 170.29l4.85 2.8v5.6l-4.85 2.8l-4.85 -2.8v-5.6z"/><path d="M735.63 170.24l4.85 2.8v5.6l-4.85 2.8l-4.85 -2.8v-5.6z"/><path d="M741.53 170.19l4.85 2.8v5.6l-4.85 2.8l-4.85 -2.8v-5.6z"/><path d="M747.44 170.14l4.85 2.8v5.6l-4.85 2.8l-4.85 -2.8v-5.6z"/><path d="M753.34 170.09l4.85 2.8v5.6l-4.85 2.8l-4.85 -2.8v-5.6z"/><path d="M759.24 170.05l4.85 2.8v5.6l-4.85 2.8l-4.85 -2.8v-5.6z"/><path d="M765.15 170.01l4.85 2.8v5.6l-4.85 2.8l-4.85 -2.8v-5.6z"/><path d="M771.05 169.97l4.85 2.8v5.6l-4.85 2.8l-4.85 -2.8v-5.6z"/><path d="M776.96 169.94l4.85 2.8v5.6l-4.85 2.8l-4.85 -2.8v-5.6z"/><path d="M782.86 169.91l4.85 2.8v5.6l-4.85 2.8l-4.85 -2.8v-5.6z"/><path d="M788.76 169.88l4.85 2.8v5.6l-4.85 2.8l-4.85 -2.8v-5.6z"/><path d="M794.67 169.85l4.85 2.8v5.6l-4.85 2.8l-4.85 -2.8v-5.6z"/><path d="M800.57 169.83l4.85 2.8v5.6l-4.85 2.8l-4.85 -2.8v-5.6z"/><path d="M806.48 169.81l4.85 2.8v5.6l-4.85 2.8l-4.85 -2.8v-5.6z"/><path d="M812.38 169.79l4.85 2.8v5.6l-4.85 2.8l-4.85 -2.8v-5.6z"/><path d="M818.28 169.77l4.85 2.8v5.6l-4.85 2.8l-4.85 -2.8v-5.6z"/><path d="M824.19 169.76l4.85 2.8v5.6l-4.85 2.8l-4.85 -2.8v-5.6z"/><path d="M830.09 169.76l4.85 2.8v5.6l-4.85 2.8l-4.85 -2.8v-5.6z"/><path d="M836 169.75l4.85 2.8v5.6l-4.85 2.8l-4.85 -2.8v-5.6z"/><path d="M841.9 169.75l4.85 2.8v5.6l-4.85 2.8l-4.85 -2.8v-5.6z"/></g></g>
<g clip-path="url(#clipa)"><polyline points="251.5,1245.65 257.4,1223.33 263.31,1201.01 269.21,1178.7 275.12,1156.38 281.02,1134.06 286.92,1111.74 292.83,1089.43 298.73,1067.11 304.64,1044.79 310.54,1022.47 316.44,1000.16 322.35,977.84 328.25,955.52 334.16,933.2 340.06,910.89 345.96,888.57 351.87,866.25 357.77,843.93 363.68,821.62 369.58,799.3 375.48,776.98 381.39,754.66 387.29,732.35 393.2,710.03 399.1,687.71 405,665.39 410.91,643.02 416.81,620.35 422.72,596.56 428.62,570.73 434.52,543.35 440.43,516.91 446.33,493.19 452.24,471.76 458.14,451.46 464.04,431.26 469.95,410.59 475.85,389.65 481.76,368.87 487.66,348.33 493.56,327.84 499.47,307.17 505.37,286.47 511.28,266.87 517.18,249.68 523.08,235.34 528.99,223.71 534.89,214.61 540.8,207.81 546.7,203.07 552.6,200.1 558.51,198.46 564.41,197.67 570.32,197.29 576.22,197.06 582.12,196.92 588.03,196.82 593.93,196.73 599.84,196.65 605.74,196.57 611.64,196.5 617.55,196.43 623.45,196.36 629.36,196.29 635.26,196.22 641.16,196.16 647.07,196.09 652.97,196.04 658.88,195.98 664.78,195.92 670.68,195.87 676.59,195.82 682.49,195.77 688.4,195.72 694.3,195.68 700.2,195.63 706.11,195.59 712.01,195.55 717.92,195.52 723.82,195.48 729.72,195.45 735.63,195.42 741.53,195.39 747.44,195.36 753.34,195.33 759.24,195.31 765.15,195.29 771.05,195.27 776.96,195.25 782.86,195.23 788.76,195.21 794.67,195.2 800.57,195.19 806.48,195.18 812.38,195.17 818.28,195.16 824.19,195.16 830.09,195.15 836,195.15 841.9,195.15" fill="none" stroke="#7cc4a4" stroke-width="3.0" stroke-linejoin="round"/><g fill="#8acfae" stroke="#7cc4a4" stroke-width="1"><path d="M416.81 614.75l4.85 2.8v5.6l-4.85 2.8l-4.85 -2.8v-5.6z"/><path d="M422.72 590.96l4.85 2.8v5.6l-4.85 2.8l-4.85 -2.8v-5.6z"/><path d="M428.62 565.13l4.85 2.8v5.6l-4.85 2.8l-4.85 -2.8v-5.6z"/><path d="M434.52 537.75l4.85 2.8v5.6l-4.85 2.8l-4.85 -2.8v-5.6z"/><path d="M440.43 511.31l4.85 2.8v5.6l-4.85 2.8l-4.85 -2.8v-5.6z"/><path d="M446.33 487.59l4.85 2.8v5.6l-4.85 2.8l-4.85 -2.8v-5.6z"/><path d="M452.24 466.16l4.85 2.8v5.6l-4.85 2.8l-4.85 -2.8v-5.6z"/><path d="M458.14 445.86l4.85 2.8v5.6l-4.85 2.8l-4.85 -2.8v-5.6z"/><path d="M464.04 425.66l4.85 2.8v5.6l-4.85 2.8l-4.85 -2.8v-5.6z"/><path d="M469.95 404.99l4.85 2.8v5.6l-4.85 2.8l-4.85 -2.8v-5.6z"/><path d="M475.85 384.05l4.85 2.8v5.6l-4.85 2.8l-4.85 -2.8v-5.6z"/><path d="M481.76 363.27l4.85 2.8v5.6l-4.85 2.8l-4.85 -2.8v-5.6z"/><path d="M487.66 342.73l4.85 2.8v5.6l-4.85 2.8l-4.85 -2.8v-5.6z"/><path d="M493.56 322.24l4.85 2.8v5.6l-4.85 2.8l-4.85 -2.8v-5.6z"/><path d="M499.47 301.57l4.85 2.8v5.6l-4.85 2.8l-4.85 -2.8v-5.6z"/><path d="M505.37 280.87l4.85 2.8v5.6l-4.85 2.8l-4.85 -2.8v-5.6z"/><path d="M511.28 261.27l4.85 2.8v5.6l-4.85 2.8l-4.85 -2.8v-5.6z"/><path d="M517.18 244.08l4.85 2.8v5.6l-4.85 2.8l-4.85 -2.8v-5.6z"/><path d="M523.08 229.74l4.85 2.8v5.6l-4.85 2.8l-4.85 -2.8v-5.6z"/><path d="M528.99 218.11l4.85 2.8v5.6l-4.85 2.8l-4.85 -2.8v-5.6z"/><path d="M534.89 209.01l4.85 2.8v5.6l-4.85 2.8l-4.85 -2.8v-5.6z"/><path d="M540.8 202.21l4.85 2.8v5.6l-4.85 2.8l-4.85 -2.8v-5.6z"/><path d="M546.7 197.47l4.85 2.8v5.6l-4.85 2.8l-4.85 -2.8v-5.6z"/><path d="M552.6 194.5l4.85 2.8v5.6l-4.85 2.8l-4.85 -2.8v-5.6z"/><path d="M558.51 192.86l4.85 2.8v5.6l-4.85 2.8l-4.85 -2.8v-5.6z"/><path d="M564.41 192.07l4.85 2.8v5.6l-4.85 2.8l-4.85 -2.8v-5.6z"/><path d="M570.32 191.69l4.85 2.8v5.6l-4.85 2.8l-4.85 -2.8v-5.6z"/><path d="M576.22 191.46l4.85 2.8v5.6l-4.85 2.8l-4.85 -2.8v-5.6z"/><path d="M582.12 191.32l4.85 2.8v5.6l-4.85 2.8l-4.85 -2.8v-5.6z"/><path d="M588.03 191.22l4.85 2.8v5.6l-4.85 2.8l-4.85 -2.8v-5.6z"/><path d="M593.93 191.13l4.85 2.8v5.6l-4.85 2.8l-4.85 -2.8v-5.6z"/><path d="M599.84 191.05l4.85 2.8v5.6l-4.85 2.8l-4.85 -2.8v-5.6z"/><path d="M605.74 190.97l4.85 2.8v5.6l-4.85 2.8l-4.85 -2.8v-5.6z"/><path d="M611.64 190.9l4.85 2.8v5.6l-4.85 2.8l-4.85 -2.8v-5.6z"/><path d="M617.55 190.83l4.85 2.8v5.6l-4.85 2.8l-4.85 -2.8v-5.6z"/><path d="M623.45 190.76l4.85 2.8v5.6l-4.85 2.8l-4.85 -2.8v-5.6z"/><path d="M629.36 190.69l4.85 2.8v5.6l-4.85 2.8l-4.85 -2.8v-5.6z"/><path d="M635.26 190.62l4.85 2.8v5.6l-4.85 2.8l-4.85 -2.8v-5.6z"/><path d="M641.16 190.56l4.85 2.8v5.6l-4.85 2.8l-4.85 -2.8v-5.6z"/><path d="M647.07 190.49l4.85 2.8v5.6l-4.85 2.8l-4.85 -2.8v-5.6z"/><path d="M652.97 190.44l4.85 2.8v5.6l-4.85 2.8l-4.85 -2.8v-5.6z"/><path d="M658.88 190.38l4.85 2.8v5.6l-4.85 2.8l-4.85 -2.8v-5.6z"/><path d="M664.78 190.32l4.85 2.8v5.6l-4.85 2.8l-4.85 -2.8v-5.6z"/><path d="M670.68 190.27l4.85 2.8v5.6l-4.85 2.8l-4.85 -2.8v-5.6z"/><path d="M676.59 190.22l4.85 2.8v5.6l-4.85 2.8l-4.85 -2.8v-5.6z"/><path d="M682.49 190.17l4.85 2.8v5.6l-4.85 2.8l-4.85 -2.8v-5.6z"/><path d="M688.4 190.12l4.85 2.8v5.6l-4.85 2.8l-4.85 -2.8v-5.6z"/><path d="M694.3 190.08l4.85 2.8v5.6l-4.85 2.8l-4.85 -2.8v-5.6z"/><path d="M700.2 190.03l4.85 2.8v5.6l-4.85 2.8l-4.85 -2.8v-5.6z"/><path d="M706.11 189.99l4.85 2.8v5.6l-4.85 2.8l-4.85 -2.8v-5.6z"/><path d="M712.01 189.95l4.85 2.8v5.6l-4.85 2.8l-4.85 -2.8v-5.6z"/><path d="M717.92 189.92l4.85 2.8v5.6l-4.85 2.8l-4.85 -2.8v-5.6z"/><path d="M723.82 189.88l4.85 2.8v5.6l-4.85 2.8l-4.85 -2.8v-5.6z"/><path d="M729.72 189.85l4.85 2.8v5.6l-4.85 2.8l-4.85 -2.8v-5.6z"/><path d="M735.63 189.82l4.85 2.8v5.6l-4.85 2.8l-4.85 -2.8v-5.6z"/><path d="M741.53 189.79l4.85 2.8v5.6l-4.85 2.8l-4.85 -2.8v-5.6z"/><path d="M747.44 189.76l4.85 2.8v5.6l-4.85 2.8l-4.85 -2.8v-5.6z"/><path d="M753.34 189.73l4.85 2.8v5.6l-4.85 2.8l-4.85 -2.8v-5.6z"/><path d="M759.24 189.71l4.85 2.8v5.6l-4.85 2.8l-4.85 -2.8v-5.6z"/><path d="M765.15 189.69l4.85 2.8v5.6l-4.85 2.8l-4.85 -2.8v-5.6z"/><path d="M771.05 189.67l4.85 2.8v5.6l-4.85 2.8l-4.85 -2.8v-5.6z"/><path d="M776.96 189.65l4.85 2.8v5.6l-4.85 2.8l-4.85 -2.8v-5.6z"/><path d="M782.86 189.63l4.85 2.8v5.6l-4.85 2.8l-4.85 -2.8v-5.6z"/><path d="M788.76 189.61l4.85 2.8v5.6l-4.85 2.8l-4.85 -2.8v-5.6z"/><path d="M794.67 189.6l4.85 2.8v5.6l-4.85 2.8l-4.85 -2.8v-5.6z"/><path d="M800.57 189.59l4.85 2.8v5.6l-4.85 2.8l-4.85 -2.8v-5.6z"/><path d="M806.48 189.58l4.85 2.8v5.6l-4.85 2.8l-4.85 -2.8v-5.6z"/><path d="M812.38 189.57l4.85 2.8v5.6l-4.85 2.8l-4.85 -2.8v-5.6z"/><path d="M818.28 189.56l4.85 2.8v5.6l-4.85 2.8l-4.85 -2.8v-5.6z"/><path d="M824.19 189.56l4.85 2.8v5.6l-4.85 2.8l-4.85 -2.8v-5.6z"/><path d="M830.09 189.55l4.85 2.8v5.6l-4.85 2.8l-4.85 -2.8v-5.6z"/><path d="M836 189.55l4.85 2.8v5.6l-4.85 2.8l-4.85 -2.8v-5.6z"/><path d="M841.9 189.55l4.85 2.8v5.6l-4.85 2.8l-4.85 -2.8v-5.6z"/></g></g>
<g clip-path="url(#clipb)"><polyline points="1243.8,612.6 1249.7,612.6 1255.61,612.6 1261.51,612.6 1267.42,612.6 1273.32,612.6 1279.22,612.6 1285.13,612.6 1291.03,612.6 1296.94,612.6 1302.84,612.6 1308.74,612.6 1314.65,612.6 1320.55,612.6 1326.46,612.6 1332.36,612.6 1338.26,612.6 1344.17,612.6 1350.07,612.6 1355.98,612.6 1361.88,612.6 1367.78,612.59 1373.69,612.59 1379.59,612.59 1385.5,612.59 1391.4,612.58 1397.3,612.58 1403.21,612.57 1409.11,612.57 1415.02,612.56 1420.92,612.54 1426.82,612.53 1432.73,612.5 1438.63,612.47 1444.54,612.44 1450.44,612.39 1456.34,612.33 1462.25,612.26 1468.15,612.17 1474.06,612.05 1479.96,611.91 1485.86,611.73 1491.77,611.51 1497.67,611.24 1503.58,610.9 1509.48,610.49 1515.38,609.98 1521.29,609.35 1527.19,608.58 1533.1,607.62 1539,606.43 1544.9,604.97 1550.81,603.18 1556.71,601.04 1562.62,598.55 1568.52,595.7 1574.42,592.47 1580.33,588.8 1586.23,584.67 1592.14,580.04 1598.04,574.86 1603.94,569.09 1609.85,562.68 1615.75,555.51 1621.66,547.48 1627.56,538.4 1633.46,528.11 1639.37,516.45 1645.27,503.33 1651.18,488.78 1657.08,472.89 1662.98,455.76 1668.89,437.52 1674.79,418.42 1680.7,398.9 1686.6,379.44 1692.5,360.32 1698.41,341.55 1704.31,323.13 1710.22,305.14 1716.12,287.72 1722.02,271.03 1727.93,255.1 1733.83,239.83 1739.74,225 1745.64,210.34 1751.54,195.65 1757.45,180.87 1763.35,166.11 1769.26,151.54 1775.16,137.34 1781.06,123.61 1786.97,110.36 1792.87,97.53 1798.78,85.04 1804.68,72.81 1810.58,60.79 1816.49,49 1822.39,37.44 1828.3,26.13 1834.2,15.01" fill="none" stroke="#2a0414" stroke-width="3.0" stroke-linejoin="round"/><g fill="#450b24" stroke="#2a0414" stroke-width="1"><path d="M1243.8 607l4.85 2.8v5.6l-4.85 2.8l-4.85 -2.8v-5.6z"/><path d="M1249.7 607l4.85 2.8v5.6l-4.85 2.8l-4.85 -2.8v-5.6z"/><path d="M1255.61 607l4.85 2.8v5.6l-4.85 2.8l-4.85 -2.8v-5.6z"/><path d="M1261.51 607l4.85 2.8v5.6l-4.85 2.8l-4.85 -2.8v-5.6z"/><path d="M1267.42 607l4.85 2.8v5.6l-4.85 2.8l-4.85 -2.8v-5.6z"/><path d="M1273.32 607l4.85 2.8v5.6l-4.85 2.8l-4.85 -2.8v-5.6z"/><path d="M1279.22 607l4.85 2.8v5.6l-4.85 2.8l-4.85 -2.8v-5.6z"/><path d="M1285.13 607l4.85 2.8v5.6l-4.85 2.8l-4.85 -2.8v-5.6z"/><path d="M1291.03 607l4.85 2.8v5.6l-4.85 2.8l-4.85 -2.8v-5.6z"/><path d="M1296.94 607l4.85 2.8v5.6l-4.85 2.8l-4.85 -2.8v-5.6z"/><path d="M1302.84 607l4.85 2.8v5.6l-4.85 2.8l-4.85 -2.8v-5.6z"/><path d="M1308.74 607l4.85 2.8v5.6l-4.85 2.8l-4.85 -2.8v-5.6z"/><path d="M1314.65 607l4.85 2.8v5.6l-4.85 2.8l-4.85 -2.8v-5.6z"/><path d="M1320.55 607l4.85 2.8v5.6l-4.85 2.8l-4.85 -2.8v-5.6z"/><path d="M1326.46 607l4.85 2.8v5.6l-4.85 2.8l-4.85 -2.8v-5.6z"/><path d="M1332.36 607l4.85 2.8v5.6l-4.85 2.8l-4.85 -2.8v-5.6z"/><path d="M1338.26 607l4.85 2.8v5.6l-4.85 2.8l-4.85 -2.8v-5.6z"/><path d="M1344.17 607l4.85 2.8v5.6l-4.85 2.8l-4.85 -2.8v-5.6z"/><path d="M1350.07 607l4.85 2.8v5.6l-4.85 2.8l-4.85 -2.8v-5.6z"/><path d="M1355.98 607l4.85 2.8v5.6l-4.85 2.8l-4.85 -2.8v-5.6z"/><path d="M1361.88 607l4.85 2.8v5.6l-4.85 2.8l-4.85 -2.8v-5.6z"/><path d="M1367.78 606.99l4.85 2.8v5.6l-4.85 2.8l-4.85 -2.8v-5.6z"/><path d="M1373.69 606.99l4.85 2.8v5.6l-4.85 2.8l-4.85 -2.8v-5.6z"/><path d="M1379.59 606.99l4.85 2.8v5.6l-4.85 2.8l-4.85 -2.8v-5.6z"/><path d="M1385.5 606.99l4.85 2.8v5.6l-4.85 2.8l-4.85 -2.8v-5.6z"/><path d="M1391.4 606.98l4.85 2.8v5.6l-4.85 2.8l-4.85 -2.8v-5.6z"/><path d="M1397.3 606.98l4.85 2.8v5.6l-4.85 2.8l-4.85 -2.8v-5.6z"/><path d="M1403.21 606.97l4.85 2.8v5.6l-4.85 2.8l-4.85 -2.8v-5.6z"/><path d="M1409.11 606.97l4.85 2.8v5.6l-4.85 2.8l-4.85 -2.8v-5.6z"/><path d="M1415.02 606.96l4.85 2.8v5.6l-4.85 2.8l-4.85 -2.8v-5.6z"/><path d="M1420.92 606.94l4.85 2.8v5.6l-4.85 2.8l-4.85 -2.8v-5.6z"/><path d="M1426.82 606.93l4.85 2.8v5.6l-4.85 2.8l-4.85 -2.8v-5.6z"/><path d="M1432.73 606.9l4.85 2.8v5.6l-4.85 2.8l-4.85 -2.8v-5.6z"/><path d="M1438.63 606.87l4.85 2.8v5.6l-4.85 2.8l-4.85 -2.8v-5.6z"/><path d="M1444.54 606.84l4.85 2.8v5.6l-4.85 2.8l-4.85 -2.8v-5.6z"/><path d="M1450.44 606.79l4.85 2.8v5.6l-4.85 2.8l-4.85 -2.8v-5.6z"/><path d="M1456.34 606.73l4.85 2.8v5.6l-4.85 2.8l-4.85 -2.8v-5.6z"/><path d="M1462.25 606.66l4.85 2.8v5.6l-4.85 2.8l-4.85 -2.8v-5.6z"/><path d="M1468.15 606.57l4.85 2.8v5.6l-4.85 2.8l-4.85 -2.8v-5.6z"/><path d="M1474.06 606.45l4.85 2.8v5.6l-4.85 2.8l-4.85 -2.8v-5.6z"/><path d="M1479.96 606.31l4.85 2.8v5.6l-4.85 2.8l-4.85 -2.8v-5.6z"/><path d="M1485.86 606.13l4.85 2.8v5.6l-4.85 2.8l-4.85 -2.8v-5.6z"/><path d="M1491.77 605.91l4.85 2.8v5.6l-4.85 2.8l-4.85 -2.8v-5.6z"/><path d="M1497.67 605.64l4.85 2.8v5.6l-4.85 2.8l-4.85 -2.8v-5.6z"/><path d="M1503.58 605.3l4.85 2.8v5.6l-4.85 2.8l-4.85 -2.8v-5.6z"/><path d="M1509.48 604.89l4.85 2.8v5.6l-4.85 2.8l-4.85 -2.8v-5.6z"/><path d="M1515.38 604.38l4.85 2.8v5.6l-4.85 2.8l-4.85 -2.8v-5.6z"/><path d="M1521.29 603.75l4.85 2.8v5.6l-4.85 2.8l-4.85 -2.8v-5.6z"/><path d="M1527.19 602.98l4.85 2.8v5.6l-4.85 2.8l-4.85 -2.8v-5.6z"/><path d="M1533.1 602.02l4.85 2.8v5.6l-4.85 2.8l-4.85 -2.8v-5.6z"/><path d="M1539 600.83l4.85 2.8v5.6l-4.85 2.8l-4.85 -2.8v-5.6z"/><path d="M1544.9 599.37l4.85 2.8v5.6l-4.85 2.8l-4.85 -2.8v-5.6z"/><path d="M1550.81 597.58l4.85 2.8v5.6l-4.85 2.8l-4.85 -2.8v-5.6z"/><path d="M1556.71 595.44l4.85 2.8v5.6l-4.85 2.8l-4.85 -2.8v-5.6z"/><path d="M1562.62 592.95l4.85 2.8v5.6l-4.85 2.8l-4.85 -2.8v-5.6z"/><path d="M1568.52 590.1l4.85 2.8v5.6l-4.85 2.8l-4.85 -2.8v-5.6z"/><path d="M1574.42 586.87l4.85 2.8v5.6l-4.85 2.8l-4.85 -2.8v-5.6z"/><path d="M1580.33 583.2l4.85 2.8v5.6l-4.85 2.8l-4.85 -2.8v-5.6z"/><path d="M1586.23 579.07l4.85 2.8v5.6l-4.85 2.8l-4.85 -2.8v-5.6z"/><path d="M1592.14 574.44l4.85 2.8v5.6l-4.85 2.8l-4.85 -2.8v-5.6z"/><path d="M1598.04 569.26l4.85 2.8v5.6l-4.85 2.8l-4.85 -2.8v-5.6z"/><path d="M1603.94 563.49l4.85 2.8v5.6l-4.85 2.8l-4.85 -2.8v-5.6z"/><path d="M1609.85 557.08l4.85 2.8v5.6l-4.85 2.8l-4.85 -2.8v-5.6z"/><path d="M1615.75 549.91l4.85 2.8v5.6l-4.85 2.8l-4.85 -2.8v-5.6z"/><path d="M1621.66 541.88l4.85 2.8v5.6l-4.85 2.8l-4.85 -2.8v-5.6z"/><path d="M1627.56 532.8l4.85 2.8v5.6l-4.85 2.8l-4.85 -2.8v-5.6z"/><path d="M1633.46 522.51l4.85 2.8v5.6l-4.85 2.8l-4.85 -2.8v-5.6z"/><path d="M1639.37 510.85l4.85 2.8v5.6l-4.85 2.8l-4.85 -2.8v-5.6z"/><path d="M1645.27 497.73l4.85 2.8v5.6l-4.85 2.8l-4.85 -2.8v-5.6z"/><path d="M1651.18 483.18l4.85 2.8v5.6l-4.85 2.8l-4.85 -2.8v-5.6z"/><path d="M1657.08 467.29l4.85 2.8v5.6l-4.85 2.8l-4.85 -2.8v-5.6z"/><path d="M1662.98 450.16l4.85 2.8v5.6l-4.85 2.8l-4.85 -2.8v-5.6z"/><path d="M1668.89 431.92l4.85 2.8v5.6l-4.85 2.8l-4.85 -2.8v-5.6z"/><path d="M1674.79 412.82l4.85 2.8v5.6l-4.85 2.8l-4.85 -2.8v-5.6z"/><path d="M1680.7 393.3l4.85 2.8v5.6l-4.85 2.8l-4.85 -2.8v-5.6z"/><path d="M1686.6 373.84l4.85 2.8v5.6l-4.85 2.8l-4.85 -2.8v-5.6z"/><path d="M1692.5 354.72l4.85 2.8v5.6l-4.85 2.8l-4.85 -2.8v-5.6z"/><path d="M1698.41 335.95l4.85 2.8v5.6l-4.85 2.8l-4.85 -2.8v-5.6z"/><path d="M1704.31 317.53l4.85 2.8v5.6l-4.85 2.8l-4.85 -2.8v-5.6z"/><path d="M1710.22 299.54l4.85 2.8v5.6l-4.85 2.8l-4.85 -2.8v-5.6z"/><path d="M1716.12 282.12l4.85 2.8v5.6l-4.85 2.8l-4.85 -2.8v-5.6z"/><path d="M1722.02 265.43l4.85 2.8v5.6l-4.85 2.8l-4.85 -2.8v-5.6z"/><path d="M1727.93 249.5l4.85 2.8v5.6l-4.85 2.8l-4.85 -2.8v-5.6z"/><path d="M1733.83 234.23l4.85 2.8v5.6l-4.85 2.8l-4.85 -2.8v-5.6z"/><path d="M1739.74 219.4l4.85 2.8v5.6l-4.85 2.8l-4.85 -2.8v-5.6z"/><path d="M1745.64 204.74l4.85 2.8v5.6l-4.85 2.8l-4.85 -2.8v-5.6z"/><path d="M1751.54 190.05l4.85 2.8v5.6l-4.85 2.8l-4.85 -2.8v-5.6z"/><path d="M1757.45 175.27l4.85 2.8v5.6l-4.85 2.8l-4.85 -2.8v-5.6z"/><path d="M1763.35 160.51l4.85 2.8v5.6l-4.85 2.8l-4.85 -2.8v-5.6z"/><path d="M1769.26 145.94l4.85 2.8v5.6l-4.85 2.8l-4.85 -2.8v-5.6z"/><path d="M1775.16 131.74l4.85 2.8v5.6l-4.85 2.8l-4.85 -2.8v-5.6z"/><path d="M1781.06 118.01l4.85 2.8v5.6l-4.85 2.8l-4.85 -2.8v-5.6z"/><path d="M1786.97 104.76l4.85 2.8v5.6l-4.85 2.8l-4.85 -2.8v-5.6z"/><path d="M1792.87 91.93l4.85 2.8v5.6l-4.85 2.8l-4.85 -2.8v-5.6z"/><path d="M1798.78 79.44l4.85 2.8v5.6l-4.85 2.8l-4.85 -2.8v-5.6z"/><path d="M1804.68 67.21l4.85 2.8v5.6l-4.85 2.8l-4.85 -2.8v-5.6z"/><path d="M1810.58 55.19l4.85 2.8v5.6l-4.85 2.8l-4.85 -2.8v-5.6z"/><path d="M1816.49 43.4l4.85 2.8v5.6l-4.85 2.8l-4.85 -2.8v-5.6z"/><path d="M1822.39 31.84l4.85 2.8v5.6l-4.85 2.8l-4.85 -2.8v-5.6z"/><path d="M1828.3 20.53l4.85 2.8v5.6l-4.85 2.8l-4.85 -2.8v-5.6z"/><path d="M1834.2 9.41l4.85 2.8v5.6l-4.85 2.8l-4.85 -2.8v-5.6z"/></g></g>
<g clip-path="url(#clipb)"><polyline points="1243.8,612.6 1249.7,612.6 1255.61,612.6 1261.51,612.6 1267.42,612.6 1273.32,612.6 1279.22,612.6 1285.13,612.6 1291.03,612.6 1296.94,612.6 1302.84,612.6 1308.74,612.6 1314.65,612.6 1320.55,612.6 1326.46,612.6 1332.36,612.6 1338.26,612.6 1344.17,612.6 1350.07,612.6 1355.98,612.6 1361.88,612.6 1367.78,612.6 1373.69,612.6 1379.59,612.6 1385.5,612.6 1391.4,612.6 1397.3,612.6 1403.21,612.6 1409.11,612.6 1415.02,612.59 1420.92,612.59 1426.82,612.59 1432.73,612.58 1438.63,612.58 1444.54,612.57 1450.44,612.56 1456.34,612.54 1462.25,612.51 1468.15,612.47 1474.06,612.41 1479.96,612.33 1485.86,612.22 1491.77,612.06 1497.67,611.85 1503.58,611.57 1509.48,611.21 1515.38,610.75 1521.29,610.16 1527.19,609.41 1533.1,608.46 1539,607.24 1544.9,605.68 1550.81,603.69 1556.71,601.2 1562.62,598.12 1568.52,594.35 1574.42,589.78 1580.33,584.34 1586.23,578.03 1592.14,570.82 1598.04,562.67 1603.94,553.53 1609.85,543.47 1615.75,532.65 1621.66,521.26 1627.56,509.37 1633.46,496.89 1639.37,483.79 1645.27,470.33 1651.18,457.05 1657.08,444.26 1662.98,431.82 1668.89,419.35 1674.79,406.62 1680.7,393.66 1686.6,380.53 1692.5,367.14 1698.41,353.53 1704.31,339.99 1710.22,327 1716.12,314.88 1722.02,303.53 1727.93,292.7 1733.83,282.24 1739.74,272.05 1745.64,262.08 1751.54,252.24 1757.45,242.45 1763.35,232.61 1769.26,222.61 1775.16,212.44 1781.06,202.14 1786.97,191.76 1792.87,181.34 1798.78,170.92 1804.68,160.52 1810.58,150.16 1816.49,139.88 1822.39,129.69 1828.3,119.62 1834.2,109.63" fill="none" stroke="#6a0a2e" stroke-width="3.0" stroke-linejoin="round"/><g fill="#9b0c42" stroke="#6a0a2e" stroke-width="1"><path d="M1243.8 607l4.85 2.8v5.6l-4.85 2.8l-4.85 -2.8v-5.6z"/><path d="M1249.7 607l4.85 2.8v5.6l-4.85 2.8l-4.85 -2.8v-5.6z"/><path d="M1255.61 607l4.85 2.8v5.6l-4.85 2.8l-4.85 -2.8v-5.6z"/><path d="M1261.51 607l4.85 2.8v5.6l-4.85 2.8l-4.85 -2.8v-5.6z"/><path d="M1267.42 607l4.85 2.8v5.6l-4.85 2.8l-4.85 -2.8v-5.6z"/><path d="M1273.32 607l4.85 2.8v5.6l-4.85 2.8l-4.85 -2.8v-5.6z"/><path d="M1279.22 607l4.85 2.8v5.6l-4.85 2.8l-4.85 -2.8v-5.6z"/><path d="M1285.13 607l4.85 2.8v5.6l-4.85 2.8l-4.85 -2.8v-5.6z"/><path d="M1291.03 607l4.85 2.8v5.6l-4.85 2.8l-4.85 -2.8v-5.6z"/><path d="M1296.94 607l4.85 2.8v5.6l-4.85 2.8l-4.85 -2.8v-5.6z"/><path d="M1302.84 607l4.85 2.8v5.6l-4.85 2.8l-4.85 -2.8v-5.6z"/><path d="M1308.74 607l4.85 2.8v5.6l-4.85 2.8l-4.85 -2.8v-5.6z"/><path d="M1314.65 607l4.85 2.8v5.6l-4.85 2.8l-4.85 -2.8v-5.6z"/><path d="M1320.55 607l4.85 2.8v5.6l-4.85 2.8l-4.85 -2.8v-5.6z"/><path d="M1326.46 607l4.85 2.8v5.6l-4.85 2.8l-4.85 -2.8v-5.6z"/><path d="M1332.36 607l4.85 2.8v5.6l-4.85 2.8l-4.85 -2.8v-5.6z"/><path d="M1338.26 607l4.85 2.8v5.6l-4.85 2.8l-4.85 -2.8v-5.6z"/><path d="M1344.17 607l4.85 2.8v5.6l-4.85 2.8l-4.85 -2.8v-5.6z"/><path d="M1350.07 607l4.85 2.8v5.6l-4.85 2.8l-4.85 -2.8v-5.6z"/><path d="M1355.98 607l4.85 2.8v5.6l-4.85 2.8l-4.85 -2.8v-5.6z"/><path d="M1361.88 607l4.85 2.8v5.6l-4.85 2.8l-4.85 -2.8v-5.6z"/><path d="M1367.78 607l4.85 2.8v5.6l-4.85 2.8l-4.85 -2.8v-5.6z"/><path d="M1373.69 607l4.85 2.8v5.6l-4.85 2.8l-4.85 -2.8v-5.6z"/><path d="M1379.59 607l4.85 2.8v5.6l-4.85 2.8l-4.85 -2.8v-5.6z"/><path d="M1385.5 607l4.85 2.8v5.6l-4.85 2.8l-4.85 -2.8v-5.6z"/><path d="M1391.4 607l4.85 2.8v5.6l-4.85 2.8l-4.85 -2.8v-5.6z"/><path d="M1397.3 607l4.85 2.8v5.6l-4.85 2.8l-4.85 -2.8v-5.6z"/><path d="M1403.21 607l4.85 2.8v5.6l-4.85 2.8l-4.85 -2.8v-5.6z"/><path d="M1409.11 607l4.85 2.8v5.6l-4.85 2.8l-4.85 -2.8v-5.6z"/><path d="M1415.02 606.99l4.85 2.8v5.6l-4.85 2.8l-4.85 -2.8v-5.6z"/><path d="M1420.92 606.99l4.85 2.8v5.6l-4.85 2.8l-4.85 -2.8v-5.6z"/><path d="M1426.82 606.99l4.85 2.8v5.6l-4.85 2.8l-4.85 -2.8v-5.6z"/><path d="M1432.73 606.98l4.85 2.8v5.6l-4.85 2.8l-4.85 -2.8v-5.6z"/><path d="M1438.63 606.98l4.85 2.8v5.6l-4.85 2.8l-4.85 -2.8v-5.6z"/><path d="M1444.54 606.97l4.85 2.8v5.6l-4.85 2.8l-4.85 -2.8v-5.6z"/><path d="M1450.44 606.96l4.85 2.8v5.6l-4.85 2.8l-4.85 -2.8v-5.6z"/><path d="M1456.34 606.94l4.85 2.8v5.6l-4.85 2.8l-4.85 -2.8v-5.6z"/><path d="M1462.25 606.91l4.85 2.8v5.6l-4.85 2.8l-4.85 -2.8v-5.6z"/><path d="M1468.15 606.87l4.85 2.8v5.6l-4.85 2.8l-4.85 -2.8v-5.6z"/><path d="M1474.06 606.81l4.85 2.8v5.6l-4.85 2.8l-4.85 -2.8v-5.6z"/><path d="M1479.96 606.73l4.85 2.8v5.6l-4.85 2.8l-4.85 -2.8v-5.6z"/><path d="M1485.86 606.62l4.85 2.8v5.6l-4.85 2.8l-4.85 -2.8v-5.6z"/><path d="M1491.77 606.46l4.85 2.8v5.6l-4.85 2.8l-4.85 -2.8v-5.6z"/><path d="M1497.67 606.25l4.85 2.8v5.6l-4.85 2.8l-4.85 -2.8v-5.6z"/><path d="M1503.58 605.97l4.85 2.8v5.6l-4.85 2.8l-4.85 -2.8v-5.6z"/><path d="M1509.48 605.61l4.85 2.8v5.6l-4.85 2.8l-4.85 -2.8v-5.6z"/><path d="M1515.38 605.15l4.85 2.8v5.6l-4.85 2.8l-4.85 -2.8v-5.6z"/><path d="M1521.29 604.56l4.85 2.8v5.6l-4.85 2.8l-4.85 -2.8v-5.6z"/><path d="M1527.19 603.81l4.85 2.8v5.6l-4.85 2.8l-4.85 -2.8v-5.6z"/><path d="M1533.1 602.86l4.85 2.8v5.6l-4.85 2.8l-4.85 -2.8v-5.6z"/><path d="M1539 601.64l4.85 2.8v5.6l-4.85 2.8l-4.85 -2.8v-5.6z"/><path d="M1544.9 600.08l4.85 2.8v5.6l-4.85 2.8l-4.85 -2.8v-5.6z"/><path d="M1550.81 598.09l4.85 2.8v5.6l-4.85 2.8l-4.85 -2.8v-5.6z"/><path d="M1556.71 595.6l4.85 2.8v5.6l-4.85 2.8l-4.85 -2.8v-5.6z"/><path d="M1562.62 592.52l4.85 2.8v5.6l-4.85 2.8l-4.85 -2.8v-5.6z"/><path d="M1568.52 588.75l4.85 2.8v5.6l-4.85 2.8l-4.85 -2.8v-5.6z"/><path d="M1574.42 584.18l4.85 2.8v5.6l-4.85 2.8l-4.85 -2.8v-5.6z"/><path d="M1580.33 578.74l4.85 2.8v5.6l-4.85 2.8l-4.85 -2.8v-5.6z"/><path d="M1586.23 572.43l4.85 2.8v5.6l-4.85 2.8l-4.85 -2.8v-5.6z"/><path d="M1592.14 565.22l4.85 2.8v5.6l-4.85 2.8l-4.85 -2.8v-5.6z"/><path d="M1598.04 557.07l4.85 2.8v5.6l-4.85 2.8l-4.85 -2.8v-5.6z"/><path d="M1603.94 547.93l4.85 2.8v5.6l-4.85 2.8l-4.85 -2.8v-5.6z"/><path d="M1609.85 537.87l4.85 2.8v5.6l-4.85 2.8l-4.85 -2.8v-5.6z"/><path d="M1615.75 527.05l4.85 2.8v5.6l-4.85 2.8l-4.85 -2.8v-5.6z"/><path d="M1621.66 515.66l4.85 2.8v5.6l-4.85 2.8l-4.85 -2.8v-5.6z"/><path d="M1627.56 503.77l4.85 2.8v5.6l-4.85 2.8l-4.85 -2.8v-5.6z"/><path d="M1633.46 491.29l4.85 2.8v5.6l-4.85 2.8l-4.85 -2.8v-5.6z"/><path d="M1639.37 478.19l4.85 2.8v5.6l-4.85 2.8l-4.85 -2.8v-5.6z"/><path d="M1645.27 464.73l4.85 2.8v5.6l-4.85 2.8l-4.85 -2.8v-5.6z"/><path d="M1651.18 451.45l4.85 2.8v5.6l-4.85 2.8l-4.85 -2.8v-5.6z"/><path d="M1657.08 438.66l4.85 2.8v5.6l-4.85 2.8l-4.85 -2.8v-5.6z"/><path d="M1662.98 426.22l4.85 2.8v5.6l-4.85 2.8l-4.85 -2.8v-5.6z"/><path d="M1668.89 413.75l4.85 2.8v5.6l-4.85 2.8l-4.85 -2.8v-5.6z"/><path d="M1674.79 401.02l4.85 2.8v5.6l-4.85 2.8l-4.85 -2.8v-5.6z"/><path d="M1680.7 388.06l4.85 2.8v5.6l-4.85 2.8l-4.85 -2.8v-5.6z"/><path d="M1686.6 374.93l4.85 2.8v5.6l-4.85 2.8l-4.85 -2.8v-5.6z"/><path d="M1692.5 361.54l4.85 2.8v5.6l-4.85 2.8l-4.85 -2.8v-5.6z"/><path d="M1698.41 347.93l4.85 2.8v5.6l-4.85 2.8l-4.85 -2.8v-5.6z"/><path d="M1704.31 334.39l4.85 2.8v5.6l-4.85 2.8l-4.85 -2.8v-5.6z"/><path d="M1710.22 321.4l4.85 2.8v5.6l-4.85 2.8l-4.85 -2.8v-5.6z"/><path d="M1716.12 309.28l4.85 2.8v5.6l-4.85 2.8l-4.85 -2.8v-5.6z"/><path d="M1722.02 297.93l4.85 2.8v5.6l-4.85 2.8l-4.85 -2.8v-5.6z"/><path d="M1727.93 287.1l4.85 2.8v5.6l-4.85 2.8l-4.85 -2.8v-5.6z"/><path d="M1733.83 276.64l4.85 2.8v5.6l-4.85 2.8l-4.85 -2.8v-5.6z"/><path d="M1739.74 266.45l4.85 2.8v5.6l-4.85 2.8l-4.85 -2.8v-5.6z"/><path d="M1745.64 256.48l4.85 2.8v5.6l-4.85 2.8l-4.85 -2.8v-5.6z"/><path d="M1751.54 246.64l4.85 2.8v5.6l-4.85 2.8l-4.85 -2.8v-5.6z"/><path d="M1757.45 236.85l4.85 2.8v5.6l-4.85 2.8l-4.85 -2.8v-5.6z"/><path d="M1763.35 227.01l4.85 2.8v5.6l-4.85 2.8l-4.85 -2.8v-5.6z"/><path d="M1769.26 217.01l4.85 2.8v5.6l-4.85 2.8l-4.85 -2.8v-5.6z"/><path d="M1775.16 206.84l4.85 2.8v5.6l-4.85 2.8l-4.85 -2.8v-5.6z"/><path d="M1781.06 196.54l4.85 2.8v5.6l-4.85 2.8l-4.85 -2.8v-5.6z"/><path d="M1786.97 186.16l4.85 2.8v5.6l-4.85 2.8l-4.85 -2.8v-5.6z"/><path d="M1792.87 175.74l4.85 2.8v5.6l-4.85 2.8l-4.85 -2.8v-5.6z"/><path d="M1798.78 165.32l4.85 2.8v5.6l-4.85 2.8l-4.85 -2.8v-5.6z"/><path d="M1804.68 154.92l4.85 2.8v5.6l-4.85 2.8l-4.85 -2.8v-5.6z"/><path d="M1810.58 144.56l4.85 2.8v5.6l-4.85 2.8l-4.85 -2.8v-5.6z"/><path d="M1816.49 134.28l4.85 2.8v5.6l-4.85 2.8l-4.85 -2.8v-5.6z"/><path d="M1822.39 124.09l4.85 2.8v5.6l-4.85 2.8l-4.85 -2.8v-5.6z"/><path d="M1828.3 114.02l4.85 2.8v5.6l-4.85 2.8l-4.85 -2.8v-5.6z"/><path d="M1834.2 104.03l4.85 2.8v5.6l-4.85 2.8l-4.85 -2.8v-5.6z"/></g></g>
<g clip-path="url(#clipb)"><polyline points="1243.8,612.6 1249.7,612.6 1255.61,612.6 1261.51,612.6 1267.42,612.6 1273.32,612.6 1279.22,612.6 1285.13,612.6 1291.03,612.6 1296.94,612.6 1302.84,612.6 1308.74,612.6 1314.65,612.6 1320.55,612.6 1326.46,612.6 1332.36,612.6 1338.26,612.6 1344.17,612.6 1350.07,612.6 1355.98,612.6 1361.88,612.6 1367.78,612.6 1373.69,612.6 1379.59,612.6 1385.5,612.6 1391.4,612.6 1397.3,612.6 1403.21,612.6 1409.11,612.6 1415.02,612.6 1420.92,612.6 1426.82,612.6 1432.73,612.6 1438.63,612.59 1444.54,612.59 1450.44,612.58 1456.34,612.57 1462.25,612.55 1468.15,612.53 1474.06,612.5 1479.96,612.44 1485.86,612.37 1491.77,612.26 1497.67,612.09 1503.58,611.84 1509.48,611.49 1515.38,611.01 1521.29,610.33 1527.19,609.41 1533.1,608.2 1539,606.66 1544.9,604.75 1550.81,602.43 1556.71,599.65 1562.62,596.34 1568.52,592.42 1574.42,587.87 1580.33,582.76 1586.23,577.3 1592.14,571.68 1598.04,565.93 1603.94,560 1609.85,553.88 1615.75,547.54 1621.66,540.95 1627.56,534.09 1633.46,526.97 1639.37,519.63 1645.27,512.14 1651.18,504.59 1657.08,497.05 1662.98,489.54 1668.89,481.99 1674.79,474.35 1680.7,466.62 1686.6,458.89 1692.5,451.22 1698.41,443.72 1704.31,436.49 1710.22,429.6 1716.12,423.05 1722.02,416.76 1727.93,410.65 1733.83,404.71 1739.74,398.91 1745.64,393.26 1751.54,387.73 1757.45,382.32 1763.35,377.02 1769.26,371.79 1775.16,366.62 1781.06,361.5 1786.97,356.42 1792.87,351.41 1798.78,346.49 1804.68,341.67 1810.58,336.98 1816.49,332.44 1822.39,328.07 1828.3,323.87 1834.2,319.83" fill="none" stroke="#b02d4a" stroke-width="3.0" stroke-linejoin="round"/><g fill="#d32e50" stroke="#b02d4a" stroke-width="1"><path d="M1243.8 607l4.85 2.8v5.6l-4.85 2.8l-4.85 -2.8v-5.6z"/><path d="M1249.7 607l4.85 2.8v5.6l-4.85 2.8l-4.85 -2.8v-5.6z"/><path d="M1255.61 607l4.85 2.8v5.6l-4.85 2.8l-4.85 -2.8v-5.6z"/><path d="M1261.51 607l4.85 2.8v5.6l-4.85 2.8l-4.85 -2.8v-5.6z"/><path d="M1267.42 607l4.85 2.8v5.6l-4.85 2.8l-4.85 -2.8v-5.6z"/><path d="M1273.32 607l4.85 2.8v5.6l-4.85 2.8l-4.85 -2.8v-5.6z"/><path d="M1279.22 607l4.85 2.8v5.6l-4.85 2.8l-4.85 -2.8v-5.6z"/><path d="M1285.13 607l4.85 2.8v5.6l-4.85 2.8l-4.85 -2.8v-5.6z"/><path d="M1291.03 607l4.85 2.8v5.6l-4.85 2.8l-4.85 -2.8v-5.6z"/><path d="M1296.94 607l4.85 2.8v5.6l-4.85 2.8l-4.85 -2.8v-5.6z"/><path d="M1302.84 607l4.85 2.8v5.6l-4.85 2.8l-4.85 -2.8v-5.6z"/><path d="M1308.74 607l4.85 2.8v5.6l-4.85 2.8l-4.85 -2.8v-5.6z"/><path d="M1314.65 607l4.85 2.8v5.6l-4.85 2.8l-4.85 -2.8v-5.6z"/><path d="M1320.55 607l4.85 2.8v5.6l-4.85 2.8l-4.85 -2.8v-5.6z"/><path d="M1326.46 607l4.85 2.8v5.6l-4.85 2.8l-4.85 -2.8v-5.6z"/><path d="M1332.36 607l4.85 2.8v5.6l-4.85 2.8l-4.85 -2.8v-5.6z"/><path d="M1338.26 607l4.85 2.8v5.6l-4.85 2.8l-4.85 -2.8v-5.6z"/><path d="M1344.17 607l4.85 2.8v5.6l-4.85 2.8l-4.85 -2.8v-5.6z"/><path d="M1350.07 607l4.85 2.8v5.6l-4.85 2.8l-4.85 -2.8v-5.6z"/><path d="M1355.98 607l4.85 2.8v5.6l-4.85 2.8l-4.85 -2.8v-5.6z"/><path d="M1361.88 607l4.85 2.8v5.6l-4.85 2.8l-4.85 -2.8v-5.6z"/><path d="M1367.78 607l4.85 2.8v5.6l-4.85 2.8l-4.85 -2.8v-5.6z"/><path d="M1373.69 607l4.85 2.8v5.6l-4.85 2.8l-4.85 -2.8v-5.6z"/><path d="M1379.59 607l4.85 2.8v5.6l-4.85 2.8l-4.85 -2.8v-5.6z"/><path d="M1385.5 607l4.85 2.8v5.6l-4.85 2.8l-4.85 -2.8v-5.6z"/><path d="M1391.4 607l4.85 2.8v5.6l-4.85 2.8l-4.85 -2.8v-5.6z"/><path d="M1397.3 607l4.85 2.8v5.6l-4.85 2.8l-4.85 -2.8v-5.6z"/><path d="M1403.21 607l4.85 2.8v5.6l-4.85 2.8l-4.85 -2.8v-5.6z"/><path d="M1409.11 607l4.85 2.8v5.6l-4.85 2.8l-4.85 -2.8v-5.6z"/><path d="M1415.02 607l4.85 2.8v5.6l-4.85 2.8l-4.85 -2.8v-5.6z"/><path d="M1420.92 607l4.85 2.8v5.6l-4.85 2.8l-4.85 -2.8v-5.6z"/><path d="M1426.82 607l4.85 2.8v5.6l-4.85 2.8l-4.85 -2.8v-5.6z"/><path d="M1432.73 607l4.85 2.8v5.6l-4.85 2.8l-4.85 -2.8v-5.6z"/><path d="M1438.63 606.99l4.85 2.8v5.6l-4.85 2.8l-4.85 -2.8v-5.6z"/><path d="M1444.54 606.99l4.85 2.8v5.6l-4.85 2.8l-4.85 -2.8v-5.6z"/><path d="M1450.44 606.98l4.85 2.8v5.6l-4.85 2.8l-4.85 -2.8v-5.6z"/><path d="M1456.34 606.97l4.85 2.8v5.6l-4.85 2.8l-4.85 -2.8v-5.6z"/><path d="M1462.25 606.95l4.85 2.8v5.6l-4.85 2.8l-4.85 -2.8v-5.6z"/><path d="M1468.15 606.93l4.85 2.8v5.6l-4.85 2.8l-4.85 -2.8v-5.6z"/><path d="M1474.06 606.9l4.85 2.8v5.6l-4.85 2.8l-4.85 -2.8v-5.6z"/><path d="M1479.96 606.84l4.85 2.8v5.6l-4.85 2.8l-4.85 -2.8v-5.6z"/><path d="M1485.86 606.77l4.85 2.8v5.6l-4.85 2.8l-4.85 -2.8v-5.6z"/><path d="M1491.77 606.66l4.85 2.8v5.6l-4.85 2.8l-4.85 -2.8v-5.6z"/><path d="M1497.67 606.49l4.85 2.8v5.6l-4.85 2.8l-4.85 -2.8v-5.6z"/><path d="M1503.58 606.24l4.85 2.8v5.6l-4.85 2.8l-4.85 -2.8v-5.6z"/><path d="M1509.48 605.89l4.85 2.8v5.6l-4.85 2.8l-4.85 -2.8v-5.6z"/><path d="M1515.38 605.41l4.85 2.8v5.6l-4.85 2.8l-4.85 -2.8v-5.6z"/><path d="M1521.29 604.73l4.85 2.8v5.6l-4.85 2.8l-4.85 -2.8v-5.6z"/><path d="M1527.19 603.81l4.85 2.8v5.6l-4.85 2.8l-4.85 -2.8v-5.6z"/><path d="M1533.1 602.6l4.85 2.8v5.6l-4.85 2.8l-4.85 -2.8v-5.6z"/><path d="M1539 601.06l4.85 2.8v5.6l-4.85 2.8l-4.85 -2.8v-5.6z"/><path d="M1544.9 599.15l4.85 2.8v5.6l-4.85 2.8l-4.85 -2.8v-5.6z"/><path d="M1550.81 596.83l4.85 2.8v5.6l-4.85 2.8l-4.85 -2.8v-5.6z"/><path d="M1556.71 594.05l4.85 2.8v5.6l-4.85 2.8l-4.85 -2.8v-5.6z"/><path d="M1562.62 590.74l4.85 2.8v5.6l-4.85 2.8l-4.85 -2.8v-5.6z"/><path d="M1568.52 586.82l4.85 2.8v5.6l-4.85 2.8l-4.85 -2.8v-5.6z"/><path d="M1574.42 582.27l4.85 2.8v5.6l-4.85 2.8l-4.85 -2.8v-5.6z"/><path d="M1580.33 577.16l4.85 2.8v5.6l-4.85 2.8l-4.85 -2.8v-5.6z"/><path d="M1586.23 571.7l4.85 2.8v5.6l-4.85 2.8l-4.85 -2.8v-5.6z"/><path d="M1592.14 566.08l4.85 2.8v5.6l-4.85 2.8l-4.85 -2.8v-5.6z"/><path d="M1598.04 560.33l4.85 2.8v5.6l-4.85 2.8l-4.85 -2.8v-5.6z"/><path d="M1603.94 554.4l4.85 2.8v5.6l-4.85 2.8l-4.85 -2.8v-5.6z"/><path d="M1609.85 548.28l4.85 2.8v5.6l-4.85 2.8l-4.85 -2.8v-5.6z"/><path d="M1615.75 541.94l4.85 2.8v5.6l-4.85 2.8l-4.85 -2.8v-5.6z"/><path d="M1621.66 535.35l4.85 2.8v5.6l-4.85 2.8l-4.85 -2.8v-5.6z"/><path d="M1627.56 528.49l4.85 2.8v5.6l-4.85 2.8l-4.85 -2.8v-5.6z"/><path d="M1633.46 521.37l4.85 2.8v5.6l-4.85 2.8l-4.85 -2.8v-5.6z"/><path d="M1639.37 514.03l4.85 2.8v5.6l-4.85 2.8l-4.85 -2.8v-5.6z"/><path d="M1645.27 506.54l4.85 2.8v5.6l-4.85 2.8l-4.85 -2.8v-5.6z"/><path d="M1651.18 498.99l4.85 2.8v5.6l-4.85 2.8l-4.85 -2.8v-5.6z"/><path d="M1657.08 491.45l4.85 2.8v5.6l-4.85 2.8l-4.85 -2.8v-5.6z"/><path d="M1662.98 483.94l4.85 2.8v5.6l-4.85 2.8l-4.85 -2.8v-5.6z"/><path d="M1668.89 476.39l4.85 2.8v5.6l-4.85 2.8l-4.85 -2.8v-5.6z"/><path d="M1674.79 468.75l4.85 2.8v5.6l-4.85 2.8l-4.85 -2.8v-5.6z"/><path d="M1680.7 461.02l4.85 2.8v5.6l-4.85 2.8l-4.85 -2.8v-5.6z"/><path d="M1686.6 453.29l4.85 2.8v5.6l-4.85 2.8l-4.85 -2.8v-5.6z"/><path d="M1692.5 445.62l4.85 2.8v5.6l-4.85 2.8l-4.85 -2.8v-5.6z"/><path d="M1698.41 438.12l4.85 2.8v5.6l-4.85 2.8l-4.85 -2.8v-5.6z"/><path d="M1704.31 430.89l4.85 2.8v5.6l-4.85 2.8l-4.85 -2.8v-5.6z"/><path d="M1710.22 424l4.85 2.8v5.6l-4.85 2.8l-4.85 -2.8v-5.6z"/><path d="M1716.12 417.45l4.85 2.8v5.6l-4.85 2.8l-4.85 -2.8v-5.6z"/><path d="M1722.02 411.16l4.85 2.8v5.6l-4.85 2.8l-4.85 -2.8v-5.6z"/><path d="M1727.93 405.05l4.85 2.8v5.6l-4.85 2.8l-4.85 -2.8v-5.6z"/><path d="M1733.83 399.11l4.85 2.8v5.6l-4.85 2.8l-4.85 -2.8v-5.6z"/><path d="M1739.74 393.31l4.85 2.8v5.6l-4.85 2.8l-4.85 -2.8v-5.6z"/><path d="M1745.64 387.66l4.85 2.8v5.6l-4.85 2.8l-4.85 -2.8v-5.6z"/><path d="M1751.54 382.13l4.85 2.8v5.6l-4.85 2.8l-4.85 -2.8v-5.6z"/><path d="M1757.45 376.72l4.85 2.8v5.6l-4.85 2.8l-4.85 -2.8v-5.6z"/><path d="M1763.35 371.42l4.85 2.8v5.6l-4.85 2.8l-4.85 -2.8v-5.6z"/><path d="M1769.26 366.19l4.85 2.8v5.6l-4.85 2.8l-4.85 -2.8v-5.6z"/><path d="M1775.16 361.02l4.85 2.8v5.6l-4.85 2.8l-4.85 -2.8v-5.6z"/><path d="M1781.06 355.9l4.85 2.8v5.6l-4.85 2.8l-4.85 -2.8v-5.6z"/><path d="M1786.97 350.82l4.85 2.8v5.6l-4.85 2.8l-4.85 -2.8v-5.6z"/><path d="M1792.87 345.81l4.85 2.8v5.6l-4.85 2.8l-4.85 -2.8v-5.6z"/><path d="M1798.78 340.89l4.85 2.8v5.6l-4.85 2.8l-4.85 -2.8v-5.6z"/><path d="M1804.68 336.07l4.85 2.8v5.6l-4.85 2.8l-4.85 -2.8v-5.6z"/><path d="M1810.58 331.38l4.85 2.8v5.6l-4.85 2.8l-4.85 -2.8v-5.6z"/><path d="M1816.49 326.84l4.85 2.8v5.6l-4.85 2.8l-4.85 -2.8v-5.6z"/><path d="M1822.39 322.47l4.85 2.8v5.6l-4.85 2.8l-4.85 -2.8v-5.6z"/><path d="M1828.3 318.27l4.85 2.8v5.6l-4.85 2.8l-4.85 -2.8v-5.6z"/><path d="M1834.2 314.23l4.85 2.8v5.6l-4.85 2.8l-4.85 -2.8v-5.6z"/></g></g>
<g clip-path="url(#clipb)"><polyline points="1243.8,612.6 1249.7,612.6 1255.61,612.6 1261.51,612.6 1267.42,612.6 1273.32,612.6 1279.22,612.6 1285.13,612.6 1291.03,612.6 1296.94,612.6 1302.84,612.6 1308.74,612.6 1314.65,612.6 1320.55,612.6 1326.46,612.6 1332.36,612.6 1338.26,612.6 1344.17,612.6 1350.07,612.6 1355.98,612.6 1361.88,612.6 1367.78,612.6 1373.69,612.6 1379.59,612.6 1385.5,612.6 1391.4,612.6 1397.3,612.6 1403.21,612.6 1409.11,612.6 1415.02,612.6 1420.92,612.6 1426.82,612.6 1432.73,612.6 1438.63,612.6 1444.54,612.59 1450.44,612.58 1456.34,612.57 1462.25,612.55 1468.15,612.51 1474.06,612.46 1479.96,612.38 1485.86,612.27 1491.77,612.11 1497.67,611.88 1503.58,611.57 1509.48,611.15 1515.38,610.58 1521.29,609.85 1527.19,608.9 1533.1,607.7 1539,606.19 1544.9,604.33 1550.81,602.06 1556.71,599.39 1562.62,596.34 1568.52,592.93 1574.42,589.16 1580.33,585.02 1586.23,580.44 1592.14,575.34 1598.04,569.82 1603.94,564.33 1609.85,559.52 1615.75,555.58 1621.66,552.28 1627.56,549.4 1633.46,546.79 1639.37,544.39 1645.27,542.13 1651.18,540.01 1657.08,538.01 1662.98,536.1 1668.89,534.27 1674.79,532.48 1680.7,530.72 1686.6,528.98 1692.5,527.26 1698.41,525.57 1704.31,523.9 1710.22,522.26 1716.12,520.65 1722.02,519.06 1727.93,517.5 1733.83,515.97 1739.74,514.45 1745.64,512.97 1751.54,511.49 1757.45,510.03 1763.35,508.58 1769.26,507.13 1775.16,505.7 1781.06,504.28 1786.97,502.88 1792.87,501.5 1798.78,500.15 1804.68,498.82 1810.58,497.53 1816.49,496.28 1822.39,495.07 1828.3,493.9 1834.2,492.77" fill="none" stroke="#d95a45" stroke-width="3.0" stroke-linejoin="round"/><g fill="#f2623f" stroke="#d95a45" stroke-width="1"><path d="M1243.8 607l4.85 2.8v5.6l-4.85 2.8l-4.85 -2.8v-5.6z"/><path d="M1249.7 607l4.85 2.8v5.6l-4.85 2.8l-4.85 -2.8v-5.6z"/><path d="M1255.61 607l4.85 2.8v5.6l-4.85 2.8l-4.85 -2.8v-5.6z"/><path d="M1261.51 607l4.85 2.8v5.6l-4.85 2.8l-4.85 -2.8v-5.6z"/><path d="M1267.42 607l4.85 2.8v5.6l-4.85 2.8l-4.85 -2.8v-5.6z"/><path d="M1273.32 607l4.85 2.8v5.6l-4.85 2.8l-4.85 -2.8v-5.6z"/><path d="M1279.22 607l4.85 2.8v5.6l-4.85 2.8l-4.85 -2.8v-5.6z"/><path d="M1285.13 607l4.85 2.8v5.6l-4.85 2.8l-4.85 -2.8v-5.6z"/><path d="M1291.03 607l4.85 2.8v5.6l-4.85 2.8l-4.85 -2.8v-5.6z"/><path d="M1296.94 607l4.85 2.8v5.6l-4.85 2.8l-4.85 -2.8v-5.6z"/><path d="M1302.84 607l4.85 2.8v5.6l-4.85 2.8l-4.85 -2.8v-5.6z"/><path d="M1308.74 607l4.85 2.8v5.6l-4.85 2.8l-4.85 -2.8v-5.6z"/><path d="M1314.65 607l4.85 2.8v5.6l-4.85 2.8l-4.85 -2.8v-5.6z"/><path d="M1320.55 607l4.85 2.8v5.6l-4.85 2.8l-4.85 -2.8v-5.6z"/><path d="M1326.46 607l4.85 2.8v5.6l-4.85 2.8l-4.85 -2.8v-5.6z"/><path d="M1332.36 607l4.85 2.8v5.6l-4.85 2.8l-4.85 -2.8v-5.6z"/><path d="M1338.26 607l4.85 2.8v5.6l-4.85 2.8l-4.85 -2.8v-5.6z"/><path d="M1344.17 607l4.85 2.8v5.6l-4.85 2.8l-4.85 -2.8v-5.6z"/><path d="M1350.07 607l4.85 2.8v5.6l-4.85 2.8l-4.85 -2.8v-5.6z"/><path d="M1355.98 607l4.85 2.8v5.6l-4.85 2.8l-4.85 -2.8v-5.6z"/><path d="M1361.88 607l4.85 2.8v5.6l-4.85 2.8l-4.85 -2.8v-5.6z"/><path d="M1367.78 607l4.85 2.8v5.6l-4.85 2.8l-4.85 -2.8v-5.6z"/><path d="M1373.69 607l4.85 2.8v5.6l-4.85 2.8l-4.85 -2.8v-5.6z"/><path d="M1379.59 607l4.85 2.8v5.6l-4.85 2.8l-4.85 -2.8v-5.6z"/><path d="M1385.5 607l4.85 2.8v5.6l-4.85 2.8l-4.85 -2.8v-5.6z"/><path d="M1391.4 607l4.85 2.8v5.6l-4.85 2.8l-4.85 -2.8v-5.6z"/><path d="M1397.3 607l4.85 2.8v5.6l-4.85 2.8l-4.85 -2.8v-5.6z"/><path d="M1403.21 607l4.85 2.8v5.6l-4.85 2.8l-4.85 -2.8v-5.6z"/><path d="M1409.11 607l4.85 2.8v5.6l-4.85 2.8l-4.85 -2.8v-5.6z"/><path d="M1415.02 607l4.85 2.8v5.6l-4.85 2.8l-4.85 -2.8v-5.6z"/><path d="M1420.92 607l4.85 2.8v5.6l-4.85 2.8l-4.85 -2.8v-5.6z"/><path d="M1426.82 607l4.85 2.8v5.6l-4.85 2.8l-4.85 -2.8v-5.6z"/><path d="M1432.73 607l4.85 2.8v5.6l-4.85 2.8l-4.85 -2.8v-5.6z"/><path d="M1438.63 607l4.85 2.8v5.6l-4.85 2.8l-4.85 -2.8v-5.6z"/><path d="M1444.54 606.99l4.85 2.8v5.6l-4.85 2.8l-4.85 -2.8v-5.6z"/><path d="M1450.44 606.98l4.85 2.8v5.6l-4.85 2.8l-4.85 -2.8v-5.6z"/><path d="M1456.34 606.97l4.85 2.8v5.6l-4.85 2.8l-4.85 -2.8v-5.6z"/><path d="M1462.25 606.95l4.85 2.8v5.6l-4.85 2.8l-4.85 -2.8v-5.6z"/><path d="M1468.15 606.91l4.85 2.8v5.6l-4.85 2.8l-4.85 -2.8v-5.6z"/><path d="M1474.06 606.86l4.85 2.8v5.6l-4.85 2.8l-4.85 -2.8v-5.6z"/><path d="M1479.96 606.78l4.85 2.8v5.6l-4.85 2.8l-4.85 -2.8v-5.6z"/><path d="M1485.86 606.67l4.85 2.8v5.6l-4.85 2.8l-4.85 -2.8v-5.6z"/><path d="M1491.77 606.51l4.85 2.8v5.6l-4.85 2.8l-4.85 -2.8v-5.6z"/><path d="M1497.67 606.28l4.85 2.8v5.6l-4.85 2.8l-4.85 -2.8v-5.6z"/><path d="M1503.58 605.97l4.85 2.8v5.6l-4.85 2.8l-4.85 -2.8v-5.6z"/><path d="M1509.48 605.55l4.85 2.8v5.6l-4.85 2.8l-4.85 -2.8v-5.6z"/><path d="M1515.38 604.98l4.85 2.8v5.6l-4.85 2.8l-4.85 -2.8v-5.6z"/><path d="M1521.29 604.25l4.85 2.8v5.6l-4.85 2.8l-4.85 -2.8v-5.6z"/><path d="M1527.19 603.3l4.85 2.8v5.6l-4.85 2.8l-4.85 -2.8v-5.6z"/><path d="M1533.1 602.1l4.85 2.8v5.6l-4.85 2.8l-4.85 -2.8v-5.6z"/><path d="M1539 600.59l4.85 2.8v5.6l-4.85 2.8l-4.85 -2.8v-5.6z"/><path d="M1544.9 598.73l4.85 2.8v5.6l-4.85 2.8l-4.85 -2.8v-5.6z"/><path d="M1550.81 596.46l4.85 2.8v5.6l-4.85 2.8l-4.85 -2.8v-5.6z"/><path d="M1556.71 593.79l4.85 2.8v5.6l-4.85 2.8l-4.85 -2.8v-5.6z"/><path d="M1562.62 590.74l4.85 2.8v5.6l-4.85 2.8l-4.85 -2.8v-5.6z"/><path d="M1568.52 587.33l4.85 2.8v5.6l-4.85 2.8l-4.85 -2.8v-5.6z"/><path d="M1574.42 583.56l4.85 2.8v5.6l-4.85 2.8l-4.85 -2.8v-5.6z"/><path d="M1580.33 579.42l4.85 2.8v5.6l-4.85 2.8l-4.85 -2.8v-5.6z"/><path d="M1586.23 574.84l4.85 2.8v5.6l-4.85 2.8l-4.85 -2.8v-5.6z"/><path d="M1592.14 569.74l4.85 2.8v5.6l-4.85 2.8l-4.85 -2.8v-5.6z"/><path d="M1598.04 564.22l4.85 2.8v5.6l-4.85 2.8l-4.85 -2.8v-5.6z"/><path d="M1603.94 558.73l4.85 2.8v5.6l-4.85 2.8l-4.85 -2.8v-5.6z"/><path d="M1609.85 553.92l4.85 2.8v5.6l-4.85 2.8l-4.85 -2.8v-5.6z"/><path d="M1615.75 549.98l4.85 2.8v5.6l-4.85 2.8l-4.85 -2.8v-5.6z"/><path d="M1621.66 546.68l4.85 2.8v5.6l-4.85 2.8l-4.85 -2.8v-5.6z"/><path d="M1627.56 543.8l4.85 2.8v5.6l-4.85 2.8l-4.85 -2.8v-5.6z"/><path d="M1633.46 541.19l4.85 2.8v5.6l-4.85 2.8l-4.85 -2.8v-5.6z"/><path d="M1639.37 538.79l4.85 2.8v5.6l-4.85 2.8l-4.85 -2.8v-5.6z"/><path d="M1645.27 536.53l4.85 2.8v5.6l-4.85 2.8l-4.85 -2.8v-5.6z"/><path d="M1651.18 534.41l4.85 2.8v5.6l-4.85 2.8l-4.85 -2.8v-5.6z"/><path d="M1657.08 532.41l4.85 2.8v5.6l-4.85 2.8l-4.85 -2.8v-5.6z"/><path d="M1662.98 530.5l4.85 2.8v5.6l-4.85 2.8l-4.85 -2.8v-5.6z"/><path d="M1668.89 528.67l4.85 2.8v5.6l-4.85 2.8l-4.85 -2.8v-5.6z"/><path d="M1674.79 526.88l4.85 2.8v5.6l-4.85 2.8l-4.85 -2.8v-5.6z"/><path d="M1680.7 525.12l4.85 2.8v5.6l-4.85 2.8l-4.85 -2.8v-5.6z"/><path d="M1686.6 523.38l4.85 2.8v5.6l-4.85 2.8l-4.85 -2.8v-5.6z"/><path d="M1692.5 521.66l4.85 2.8v5.6l-4.85 2.8l-4.85 -2.8v-5.6z"/><path d="M1698.41 519.97l4.85 2.8v5.6l-4.85 2.8l-4.85 -2.8v-5.6z"/><path d="M1704.31 518.3l4.85 2.8v5.6l-4.85 2.8l-4.85 -2.8v-5.6z"/><path d="M1710.22 516.66l4.85 2.8v5.6l-4.85 2.8l-4.85 -2.8v-5.6z"/><path d="M1716.12 515.05l4.85 2.8v5.6l-4.85 2.8l-4.85 -2.8v-5.6z"/><path d="M1722.02 513.46l4.85 2.8v5.6l-4.85 2.8l-4.85 -2.8v-5.6z"/><path d="M1727.93 511.9l4.85 2.8v5.6l-4.85 2.8l-4.85 -2.8v-5.6z"/><path d="M1733.83 510.37l4.85 2.8v5.6l-4.85 2.8l-4.85 -2.8v-5.6z"/><path d="M1739.74 508.85l4.85 2.8v5.6l-4.85 2.8l-4.85 -2.8v-5.6z"/><path d="M1745.64 507.37l4.85 2.8v5.6l-4.85 2.8l-4.85 -2.8v-5.6z"/><path d="M1751.54 505.89l4.85 2.8v5.6l-4.85 2.8l-4.85 -2.8v-5.6z"/><path d="M1757.45 504.43l4.85 2.8v5.6l-4.85 2.8l-4.85 -2.8v-5.6z"/><path d="M1763.35 502.98l4.85 2.8v5.6l-4.85 2.8l-4.85 -2.8v-5.6z"/><path d="M1769.26 501.53l4.85 2.8v5.6l-4.85 2.8l-4.85 -2.8v-5.6z"/><path d="M1775.16 500.1l4.85 2.8v5.6l-4.85 2.8l-4.85 -2.8v-5.6z"/><path d="M1781.06 498.68l4.85 2.8v5.6l-4.85 2.8l-4.85 -2.8v-5.6z"/><path d="M1786.97 497.28l4.85 2.8v5.6l-4.85 2.8l-4.85 -2.8v-5.6z"/><path d="M1792.87 495.9l4.85 2.8v5.6l-4.85 2.8l-4.85 -2.8v-5.6z"/><path d="M1798.78 494.55l4.85 2.8v5.6l-4.85 2.8l-4.85 -2.8v-5.6z"/><path d="M1804.68 493.22l4.85 2.8v5.6l-4.85 2.8l-4.85 -2.8v-5.6z"/><path d="M1810.58 491.93l4.85 2.8v5.6l-4.85 2.8l-4.85 -2.8v-5.6z"/><path d="M1816.49 490.68l4.85 2.8v5.6l-4.85 2.8l-4.85 -2.8v-5.6z"/><path d="M1822.39 489.47l4.85 2.8v5.6l-4.85 2.8l-4.85 -2.8v-5.6z"/><path d="M1828.3 488.3l4.85 2.8v5.6l-4.85 2.8l-4.85 -2.8v-5.6z"/><path d="M1834.2 487.17l4.85 2.8v5.6l-4.85 2.8l-4.85 -2.8v-5.6z"/></g></g>
<g clip-path="url(#clipb)"><polyline points="1243.8,612.6 1249.7,612.6 1255.61,612.6 1261.51,612.6 1267.42,612.6 1273.32,612.6 1279.22,612.6 1285.13,612.6 1291.03,612.6 1296.94,612.6 1302.84,612.6 1308.74,612.6 1314.65,612.6 1320.55,612.6 1326.46,612.6 1332.36,612.6 1338.26,612.6 1344.17,612.6 1350.07,612.6 1355.98,612.6 1361.88,612.6 1367.78,612.6 1373.69,612.6 1379.59,612.6 1385.5,612.6 1391.4,612.6 1397.3,612.6 1403.21,612.6 1409.11,612.6 1415.02,612.6 1420.92,612.6 1426.82,612.6 1432.73,612.6 1438.63,612.6 1444.54,612.6 1450.44,612.59 1456.34,612.59 1462.25,612.58 1468.15,612.55 1474.06,612.52 1479.96,612.45 1485.86,612.34 1491.77,612.17 1497.67,611.92 1503.58,611.57 1509.48,611.11 1515.38,610.5 1521.29,609.72 1527.19,608.73 1533.1,607.46 1539,605.82 1544.9,603.72 1550.81,601.18 1556.71,598.42 1562.62,595.82 1568.52,593.71 1574.42,592.1 1580.33,590.79 1586.23,589.57 1592.14,588.32 1598.04,587.05 1603.94,585.83 1609.85,584.73 1615.75,583.75 1621.66,582.85 1627.56,581.98 1633.46,581.14 1639.37,580.33 1645.27,579.57 1651.18,578.86 1657.08,578.21 1662.98,577.64 1668.89,577.14 1674.79,576.73 1680.7,576.39 1686.6,576.09 1692.5,575.81 1698.41,575.54 1704.31,575.27 1710.22,575.01 1716.12,574.75 1722.02,574.51 1727.93,574.27 1733.83,574.05 1739.74,573.83 1745.64,573.62 1751.54,573.43 1757.45,573.24 1763.35,573.07 1769.26,572.9 1775.16,572.75 1781.06,572.61 1786.97,572.49 1792.87,572.38 1798.78,572.28 1804.68,572.19 1810.58,572.12 1816.49,572.07 1822.39,572.03 1828.3,572.01 1834.2,571.99" fill="none" stroke="#ec9553" stroke-width="3.0" stroke-linejoin="round"/><g fill="#f8994f" stroke="#ec9553" stroke-width="1"><path d="M1243.8 607l4.85 2.8v5.6l-4.85 2.8l-4.85 -2.8v-5.6z"/><path d="M1249.7 607l4.85 2.8v5.6l-4.85 2.8l-4.85 -2.8v-5.6z"/><path d="M1255.61 607l4.85 2.8v5.6l-4.85 2.8l-4.85 -2.8v-5.6z"/><path d="M1261.51 607l4.85 2.8v5.6l-4.85 2.8l-4.85 -2.8v-5.6z"/><path d="M1267.42 607l4.85 2.8v5.6l-4.85 2.8l-4.85 -2.8v-5.6z"/><path d="M1273.32 607l4.85 2.8v5.6l-4.85 2.8l-4.85 -2.8v-5.6z"/><path d="M1279.22 607l4.85 2.8v5.6l-4.85 2.8l-4.85 -2.8v-5.6z"/><path d="M1285.13 607l4.85 2.8v5.6l-4.85 2.8l-4.85 -2.8v-5.6z"/><path d="M1291.03 607l4.85 2.8v5.6l-4.85 2.8l-4.85 -2.8v-5.6z"/><path d="M1296.94 607l4.85 2.8v5.6l-4.85 2.8l-4.85 -2.8v-5.6z"/><path d="M1302.84 607l4.85 2.8v5.6l-4.85 2.8l-4.85 -2.8v-5.6z"/><path d="M1308.74 607l4.85 2.8v5.6l-4.85 2.8l-4.85 -2.8v-5.6z"/><path d="M1314.65 607l4.85 2.8v5.6l-4.85 2.8l-4.85 -2.8v-5.6z"/><path d="M1320.55 607l4.85 2.8v5.6l-4.85 2.8l-4.85 -2.8v-5.6z"/><path d="M1326.46 607l4.85 2.8v5.6l-4.85 2.8l-4.85 -2.8v-5.6z"/><path d="M1332.36 607l4.85 2.8v5.6l-4.85 2.8l-4.85 -2.8v-5.6z"/><path d="M1338.26 607l4.85 2.8v5.6l-4.85 2.8l-4.85 -2.8v-5.6z"/><path d="M1344.17 607l4.85 2.8v5.6l-4.85 2.8l-4.85 -2.8v-5.6z"/><path d="M1350.07 607l4.85 2.8v5.6l-4.85 2.8l-4.85 -2.8v-5.6z"/><path d="M1355.98 607l4.85 2.8v5.6l-4.85 2.8l-4.85 -2.8v-5.6z"/><path d="M1361.88 607l4.85 2.8v5.6l-4.85 2.8l-4.85 -2.8v-5.6z"/><path d="M1367.78 607l4.85 2.8v5.6l-4.85 2.8l-4.85 -2.8v-5.6z"/><path d="M1373.69 607l4.85 2.8v5.6l-4.85 2.8l-4.85 -2.8v-5.6z"/><path d="M1379.59 607l4.85 2.8v5.6l-4.85 2.8l-4.85 -2.8v-5.6z"/><path d="M1385.5 607l4.85 2.8v5.6l-4.85 2.8l-4.85 -2.8v-5.6z"/><path d="M1391.4 607l4.85 2.8v5.6l-4.85 2.8l-4.85 -2.8v-5.6z"/><path d="M1397.3 607l4.85 2.8v5.6l-4.85 2.8l-4.85 -2.8v-5.6z"/><path d="M1403.21 607l4.85 2.8v5.6l-4.85 2.8l-4.85 -2.8v-5.6z"/><path d="M1409.11 607l4.85 2.8v5.6l-4.85 2.8l-4.85 -2.8v-5.6z"/><path d="M1415.02 607l4.85 2.8v5.6l-4.85 2.8l-4.85 -2.8v-5.6z"/><path d="M1420.92 607l4.85 2.8v5.6l-4.85 2.8l-4.85 -2.8v-5.6z"/><path d="M1426.82 607l4.85 2.8v5.6l-4.85 2.8l-4.85 -2.8v-5.6z"/><path d="M1432.73 607l4.85 2.8v5.6l-4.85 2.8l-4.85 -2.8v-5.6z"/><path d="M1438.63 607l4.85 2.8v5.6l-4.85 2.8l-4.85 -2.8v-5.6z"/><path d="M1444.54 607l4.85 2.8v5.6l-4.85 2.8l-4.85 -2.8v-5.6z"/><path d="M1450.44 606.99l4.85 2.8v5.6l-4.85 2.8l-4.85 -2.8v-5.6z"/><path d="M1456.34 606.99l4.85 2.8v5.6l-4.85 2.8l-4.85 -2.8v-5.6z"/><path d="M1462.25 606.98l4.85 2.8v5.6l-4.85 2.8l-4.85 -2.8v-5.6z"/><path d="M1468.15 606.95l4.85 2.8v5.6l-4.85 2.8l-4.85 -2.8v-5.6z"/><path d="M1474.06 606.92l4.85 2.8v5.6l-4.85 2.8l-4.85 -2.8v-5.6z"/><path d="M1479.96 606.85l4.85 2.8v5.6l-4.85 2.8l-4.85 -2.8v-5.6z"/><path d="M1485.86 606.74l4.85 2.8v5.6l-4.85 2.8l-4.85 -2.8v-5.6z"/><path d="M1491.77 606.57l4.85 2.8v5.6l-4.85 2.8l-4.85 -2.8v-5.6z"/><path d="M1497.67 606.32l4.85 2.8v5.6l-4.85 2.8l-4.85 -2.8v-5.6z"/><path d="M1503.58 605.97l4.85 2.8v5.6l-4.85 2.8l-4.85 -2.8v-5.6z"/><path d="M1509.48 605.51l4.85 2.8v5.6l-4.85 2.8l-4.85 -2.8v-5.6z"/><path d="M1515.38 604.9l4.85 2.8v5.6l-4.85 2.8l-4.85 -2.8v-5.6z"/><path d="M1521.29 604.12l4.85 2.8v5.6l-4.85 2.8l-4.85 -2.8v-5.6z"/><path d="M1527.19 603.13l4.85 2.8v5.6l-4.85 2.8l-4.85 -2.8v-5.6z"/><path d="M1533.1 601.86l4.85 2.8v5.6l-4.85 2.8l-4.85 -2.8v-5.6z"/><path d="M1539 600.22l4.85 2.8v5.6l-4.85 2.8l-4.85 -2.8v-5.6z"/><path d="M1544.9 598.12l4.85 2.8v5.6l-4.85 2.8l-4.85 -2.8v-5.6z"/><path d="M1550.81 595.58l4.85 2.8v5.6l-4.85 2.8l-4.85 -2.8v-5.6z"/><path d="M1556.71 592.82l4.85 2.8v5.6l-4.85 2.8l-4.85 -2.8v-5.6z"/><path d="M1562.62 590.22l4.85 2.8v5.6l-4.85 2.8l-4.85 -2.8v-5.6z"/><path d="M1568.52 588.11l4.85 2.8v5.6l-4.85 2.8l-4.85 -2.8v-5.6z"/><path d="M1574.42 586.5l4.85 2.8v5.6l-4.85 2.8l-4.85 -2.8v-5.6z"/><path d="M1580.33 585.19l4.85 2.8v5.6l-4.85 2.8l-4.85 -2.8v-5.6z"/><path d="M1586.23 583.97l4.85 2.8v5.6l-4.85 2.8l-4.85 -2.8v-5.6z"/><path d="M1592.14 582.72l4.85 2.8v5.6l-4.85 2.8l-4.85 -2.8v-5.6z"/><path d="M1598.04 581.45l4.85 2.8v5.6l-4.85 2.8l-4.85 -2.8v-5.6z"/><path d="M1603.94 580.23l4.85 2.8v5.6l-4.85 2.8l-4.85 -2.8v-5.6z"/><path d="M1609.85 579.13l4.85 2.8v5.6l-4.85 2.8l-4.85 -2.8v-5.6z"/><path d="M1615.75 578.15l4.85 2.8v5.6l-4.85 2.8l-4.85 -2.8v-5.6z"/><path d="M1621.66 577.25l4.85 2.8v5.6l-4.85 2.8l-4.85 -2.8v-5.6z"/><path d="M1627.56 576.38l4.85 2.8v5.6l-4.85 2.8l-4.85 -2.8v-5.6z"/><path d="M1633.46 575.54l4.85 2.8v5.6l-4.85 2.8l-4.85 -2.8v-5.6z"/><path d="M1639.37 574.73l4.85 2.8v5.6l-4.85 2.8l-4.85 -2.8v-5.6z"/><path d="M1645.27 573.97l4.85 2.8v5.6l-4.85 2.8l-4.85 -2.8v-5.6z"/><path d="M1651.18 573.26l4.85 2.8v5.6l-4.85 2.8l-4.85 -2.8v-5.6z"/><path d="M1657.08 572.61l4.85 2.8v5.6l-4.85 2.8l-4.85 -2.8v-5.6z"/><path d="M1662.98 572.04l4.85 2.8v5.6l-4.85 2.8l-4.85 -2.8v-5.6z"/><path d="M1668.89 571.54l4.85 2.8v5.6l-4.85 2.8l-4.85 -2.8v-5.6z"/><path d="M1674.79 571.13l4.85 2.8v5.6l-4.85 2.8l-4.85 -2.8v-5.6z"/><path d="M1680.7 570.79l4.85 2.8v5.6l-4.85 2.8l-4.85 -2.8v-5.6z"/><path d="M1686.6 570.49l4.85 2.8v5.6l-4.85 2.8l-4.85 -2.8v-5.6z"/><path d="M1692.5 570.21l4.85 2.8v5.6l-4.85 2.8l-4.85 -2.8v-5.6z"/><path d="M1698.41 569.94l4.85 2.8v5.6l-4.85 2.8l-4.85 -2.8v-5.6z"/><path d="M1704.31 569.67l4.85 2.8v5.6l-4.85 2.8l-4.85 -2.8v-5.6z"/><path d="M1710.22 569.41l4.85 2.8v5.6l-4.85 2.8l-4.85 -2.8v-5.6z"/><path d="M1716.12 569.15l4.85 2.8v5.6l-4.85 2.8l-4.85 -2.8v-5.6z"/><path d="M1722.02 568.91l4.85 2.8v5.6l-4.85 2.8l-4.85 -2.8v-5.6z"/><path d="M1727.93 568.67l4.85 2.8v5.6l-4.85 2.8l-4.85 -2.8v-5.6z"/><path d="M1733.83 568.45l4.85 2.8v5.6l-4.85 2.8l-4.85 -2.8v-5.6z"/><path d="M1739.74 568.23l4.85 2.8v5.6l-4.85 2.8l-4.85 -2.8v-5.6z"/><path d="M1745.64 568.02l4.85 2.8v5.6l-4.85 2.8l-4.85 -2.8v-5.6z"/><path d="M1751.54 567.83l4.85 2.8v5.6l-4.85 2.8l-4.85 -2.8v-5.6z"/><path d="M1757.45 567.64l4.85 2.8v5.6l-4.85 2.8l-4.85 -2.8v-5.6z"/><path d="M1763.35 567.47l4.85 2.8v5.6l-4.85 2.8l-4.85 -2.8v-5.6z"/><path d="M1769.26 567.3l4.85 2.8v5.6l-4.85 2.8l-4.85 -2.8v-5.6z"/><path d="M1775.16 567.15l4.85 2.8v5.6l-4.85 2.8l-4.85 -2.8v-5.6z"/><path d="M1781.06 567.01l4.85 2.8v5.6l-4.85 2.8l-4.85 -2.8v-5.6z"/><path d="M1786.97 566.89l4.85 2.8v5.6l-4.85 2.8l-4.85 -2.8v-5.6z"/><path d="M1792.87 566.78l4.85 2.8v5.6l-4.85 2.8l-4.85 -2.8v-5.6z"/><path d="M1798.78 566.68l4.85 2.8v5.6l-4.85 2.8l-4.85 -2.8v-5.6z"/><path d="M1804.68 566.59l4.85 2.8v5.6l-4.85 2.8l-4.85 -2.8v-5.6z"/><path d="M1810.58 566.52l4.85 2.8v5.6l-4.85 2.8l-4.85 -2.8v-5.6z"/><path d="M1816.49 566.47l4.85 2.8v5.6l-4.85 2.8l-4.85 -2.8v-5.6z"/><path d="M1822.39 566.43l4.85 2.8v5.6l-4.85 2.8l-4.85 -2.8v-5.6z"/><path d="M1828.3 566.41l4.85 2.8v5.6l-4.85 2.8l-4.85 -2.8v-5.6z"/><path d="M1834.2 566.39l4.85 2.8v5.6l-4.85 2.8l-4.85 -2.8v-5.6z"/></g></g>
<g clip-path="url(#clipb)"><polyline points="1243.8,612.6 1249.7,612.6 1255.61,612.6 1261.51,612.6 1267.42,612.6 1273.32,612.6 1279.22,612.6 1285.13,612.6 1291.03,612.6 1296.94,612.6 1302.84,612.6 1308.74,612.6 1314.65,612.6 1320.55,612.6 1326.46,612.6 1332.36,612.6 1338.26,612.6 1344.17,612.6 1350.07,612.6 1355.98,612.6 1361.88,612.6 1367.78,612.6 1373.69,612.6 1379.59,612.6 1385.5,612.6 1391.4,612.6 1397.3,612.6 1403.21,612.6 1409.11,612.6 1415.02,612.6 1420.92,612.6 1426.82,612.6 1432.73,612.6 1438.63,612.6 1444.54,612.6 1450.44,612.6 1456.34,612.6 1462.25,612.6 1468.15,612.6 1474.06,612.6 1479.96,612.59 1485.86,612.59 1491.77,612.57 1497.67,612.54 1503.58,612.48 1509.48,612.38 1515.38,612.2 1521.29,611.93 1527.19,611.5 1533.1,610.87 1539,610.03 1544.9,609.09 1550.81,608.21 1556.71,607.5 1562.62,607 1568.52,606.63 1574.42,606.34 1580.33,606.11 1586.23,605.92 1592.14,605.76 1598.04,605.63 1603.94,605.51 1609.85,605.4 1615.75,605.29 1621.66,605.2 1627.56,605.11 1633.46,605.03 1639.37,604.95 1645.27,604.87 1651.18,604.8 1657.08,604.73 1662.98,604.65 1668.89,604.58 1674.79,604.51 1680.7,604.45 1686.6,604.38 1692.5,604.32 1698.41,604.26 1704.31,604.2 1710.22,604.15 1716.12,604.09 1722.02,604.03 1727.93,603.98 1733.83,603.92 1739.74,603.86 1745.64,603.8 1751.54,603.74 1757.45,603.68 1763.35,603.62 1769.26,603.56 1775.16,603.5 1781.06,603.44 1786.97,603.38 1792.87,603.33 1798.78,603.27 1804.68,603.21 1810.58,603.15 1816.49,603.1 1822.39,603.04 1828.3,602.98 1834.2,602.93" fill="none" stroke="#f3cd8c" stroke-width="3.0" stroke-linejoin="round"/><g fill="#fdd68b" stroke="#f3cd8c" stroke-width="1"><path d="M1243.8 607l4.85 2.8v5.6l-4.85 2.8l-4.85 -2.8v-5.6z"/><path d="M1249.7 607l4.85 2.8v5.6l-4.85 2.8l-4.85 -2.8v-5.6z"/><path d="M1255.61 607l4.85 2.8v5.6l-4.85 2.8l-4.85 -2.8v-5.6z"/><path d="M1261.51 607l4.85 2.8v5.6l-4.85 2.8l-4.85 -2.8v-5.6z"/><path d="M1267.42 607l4.85 2.8v5.6l-4.85 2.8l-4.85 -2.8v-5.6z"/><path d="M1273.32 607l4.85 2.8v5.6l-4.85 2.8l-4.85 -2.8v-5.6z"/><path d="M1279.22 607l4.85 2.8v5.6l-4.85 2.8l-4.85 -2.8v-5.6z"/><path d="M1285.13 607l4.85 2.8v5.6l-4.85 2.8l-4.85 -2.8v-5.6z"/><path d="M1291.03 607l4.85 2.8v5.6l-4.85 2.8l-4.85 -2.8v-5.6z"/><path d="M1296.94 607l4.85 2.8v5.6l-4.85 2.8l-4.85 -2.8v-5.6z"/><path d="M1302.84 607l4.85 2.8v5.6l-4.85 2.8l-4.85 -2.8v-5.6z"/><path d="M1308.74 607l4.85 2.8v5.6l-4.85 2.8l-4.85 -2.8v-5.6z"/><path d="M1314.65 607l4.85 2.8v5.6l-4.85 2.8l-4.85 -2.8v-5.6z"/><path d="M1320.55 607l4.85 2.8v5.6l-4.85 2.8l-4.85 -2.8v-5.6z"/><path d="M1326.46 607l4.85 2.8v5.6l-4.85 2.8l-4.85 -2.8v-5.6z"/><path d="M1332.36 607l4.85 2.8v5.6l-4.85 2.8l-4.85 -2.8v-5.6z"/><path d="M1338.26 607l4.85 2.8v5.6l-4.85 2.8l-4.85 -2.8v-5.6z"/><path d="M1344.17 607l4.85 2.8v5.6l-4.85 2.8l-4.85 -2.8v-5.6z"/><path d="M1350.07 607l4.85 2.8v5.6l-4.85 2.8l-4.85 -2.8v-5.6z"/><path d="M1355.98 607l4.85 2.8v5.6l-4.85 2.8l-4.85 -2.8v-5.6z"/><path d="M1361.88 607l4.85 2.8v5.6l-4.85 2.8l-4.85 -2.8v-5.6z"/><path d="M1367.78 607l4.85 2.8v5.6l-4.85 2.8l-4.85 -2.8v-5.6z"/><path d="M1373.69 607l4.85 2.8v5.6l-4.85 2.8l-4.85 -2.8v-5.6z"/><path d="M1379.59 607l4.85 2.8v5.6l-4.85 2.8l-4.85 -2.8v-5.6z"/><path d="M1385.5 607l4.85 2.8v5.6l-4.85 2.8l-4.85 -2.8v-5.6z"/><path d="M1391.4 607l4.85 2.8v5.6l-4.85 2.8l-4.85 -2.8v-5.6z"/><path d="M1397.3 607l4.85 2.8v5.6l-4.85 2.8l-4.85 -2.8v-5.6z"/><path d="M1403.21 607l4.85 2.8v5.6l-4.85 2.8l-4.85 -2.8v-5.6z"/><path d="M1409.11 607l4.85 2.8v5.6l-4.85 2.8l-4.85 -2.8v-5.6z"/><path d="M1415.02 607l4.85 2.8v5.6l-4.85 2.8l-4.85 -2.8v-5.6z"/><path d="M1420.92 607l4.85 2.8v5.6l-4.85 2.8l-4.85 -2.8v-5.6z"/><path d="M1426.82 607l4.85 2.8v5.6l-4.85 2.8l-4.85 -2.8v-5.6z"/><path d="M1432.73 607l4.85 2.8v5.6l-4.85 2.8l-4.85 -2.8v-5.6z"/><path d="M1438.63 607l4.85 2.8v5.6l-4.85 2.8l-4.85 -2.8v-5.6z"/><path d="M1444.54 607l4.85 2.8v5.6l-4.85 2.8l-4.85 -2.8v-5.6z"/><path d="M1450.44 607l4.85 2.8v5.6l-4.85 2.8l-4.85 -2.8v-5.6z"/><path d="M1456.34 607l4.85 2.8v5.6l-4.85 2.8l-4.85 -2.8v-5.6z"/><path d="M1462.25 607l4.85 2.8v5.6l-4.85 2.8l-4.85 -2.8v-5.6z"/><path d="M1468.15 607l4.85 2.8v5.6l-4.85 2.8l-4.85 -2.8v-5.6z"/><path d="M1474.06 607l4.85 2.8v5.6l-4.85 2.8l-4.85 -2.8v-5.6z"/><path d="M1479.96 606.99l4.85 2.8v5.6l-4.85 2.8l-4.85 -2.8v-5.6z"/><path d="M1485.86 606.99l4.85 2.8v5.6l-4.85 2.8l-4.85 -2.8v-5.6z"/><path d="M1491.77 606.97l4.85 2.8v5.6l-4.85 2.8l-4.85 -2.8v-5.6z"/><path d="M1497.67 606.94l4.85 2.8v5.6l-4.85 2.8l-4.85 -2.8v-5.6z"/><path d="M1503.58 606.88l4.85 2.8v5.6l-4.85 2.8l-4.85 -2.8v-5.6z"/><path d="M1509.48 606.78l4.85 2.8v5.6l-4.85 2.8l-4.85 -2.8v-5.6z"/><path d="M1515.38 606.6l4.85 2.8v5.6l-4.85 2.8l-4.85 -2.8v-5.6z"/><path d="M1521.29 606.33l4.85 2.8v5.6l-4.85 2.8l-4.85 -2.8v-5.6z"/><path d="M1527.19 605.9l4.85 2.8v5.6l-4.85 2.8l-4.85 -2.8v-5.6z"/><path d="M1533.1 605.27l4.85 2.8v5.6l-4.85 2.8l-4.85 -2.8v-5.6z"/><path d="M1539 604.43l4.85 2.8v5.6l-4.85 2.8l-4.85 -2.8v-5.6z"/><path d="M1544.9 603.49l4.85 2.8v5.6l-4.85 2.8l-4.85 -2.8v-5.6z"/><path d="M1550.81 602.61l4.85 2.8v5.6l-4.85 2.8l-4.85 -2.8v-5.6z"/><path d="M1556.71 601.9l4.85 2.8v5.6l-4.85 2.8l-4.85 -2.8v-5.6z"/><path d="M1562.62 601.4l4.85 2.8v5.6l-4.85 2.8l-4.85 -2.8v-5.6z"/><path d="M1568.52 601.03l4.85 2.8v5.6l-4.85 2.8l-4.85 -2.8v-5.6z"/><path d="M1574.42 600.74l4.85 2.8v5.6l-4.85 2.8l-4.85 -2.8v-5.6z"/><path d="M1580.33 600.51l4.85 2.8v5.6l-4.85 2.8l-4.85 -2.8v-5.6z"/><path d="M1586.23 600.32l4.85 2.8v5.6l-4.85 2.8l-4.85 -2.8v-5.6z"/><path d="M1592.14 600.16l4.85 2.8v5.6l-4.85 2.8l-4.85 -2.8v-5.6z"/><path d="M1598.04 600.03l4.85 2.8v5.6l-4.85 2.8l-4.85 -2.8v-5.6z"/><path d="M1603.94 599.91l4.85 2.8v5.6l-4.85 2.8l-4.85 -2.8v-5.6z"/><path d="M1609.85 599.8l4.85 2.8v5.6l-4.85 2.8l-4.85 -2.8v-5.6z"/><path d="M1615.75 599.69l4.85 2.8v5.6l-4.85 2.8l-4.85 -2.8v-5.6z"/><path d="M1621.66 599.6l4.85 2.8v5.6l-4.85 2.8l-4.85 -2.8v-5.6z"/><path d="M1627.56 599.51l4.85 2.8v5.6l-4.85 2.8l-4.85 -2.8v-5.6z"/><path d="M1633.46 599.43l4.85 2.8v5.6l-4.85 2.8l-4.85 -2.8v-5.6z"/><path d="M1639.37 599.35l4.85 2.8v5.6l-4.85 2.8l-4.85 -2.8v-5.6z"/><path d="M1645.27 599.27l4.85 2.8v5.6l-4.85 2.8l-4.85 -2.8v-5.6z"/><path d="M1651.18 599.2l4.85 2.8v5.6l-4.85 2.8l-4.85 -2.8v-5.6z"/><path d="M1657.08 599.13l4.85 2.8v5.6l-4.85 2.8l-4.85 -2.8v-5.6z"/><path d="M1662.98 599.05l4.85 2.8v5.6l-4.85 2.8l-4.85 -2.8v-5.6z"/><path d="M1668.89 598.98l4.85 2.8v5.6l-4.85 2.8l-4.85 -2.8v-5.6z"/><path d="M1674.79 598.91l4.85 2.8v5.6l-4.85 2.8l-4.85 -2.8v-5.6z"/><path d="M1680.7 598.85l4.85 2.8v5.6l-4.85 2.8l-4.85 -2.8v-5.6z"/><path d="M1686.6 598.78l4.85 2.8v5.6l-4.85 2.8l-4.85 -2.8v-5.6z"/><path d="M1692.5 598.72l4.85 2.8v5.6l-4.85 2.8l-4.85 -2.8v-5.6z"/><path d="M1698.41 598.66l4.85 2.8v5.6l-4.85 2.8l-4.85 -2.8v-5.6z"/><path d="M1704.31 598.6l4.85 2.8v5.6l-4.85 2.8l-4.85 -2.8v-5.6z"/><path d="M1710.22 598.55l4.85 2.8v5.6l-4.85 2.8l-4.85 -2.8v-5.6z"/><path d="M1716.12 598.49l4.85 2.8v5.6l-4.85 2.8l-4.85 -2.8v-5.6z"/><path d="M1722.02 598.43l4.85 2.8v5.6l-4.85 2.8l-4.85 -2.8v-5.6z"/><path d="M1727.93 598.38l4.85 2.8v5.6l-4.85 2.8l-4.85 -2.8v-5.6z"/><path d="M1733.83 598.32l4.85 2.8v5.6l-4.85 2.8l-4.85 -2.8v-5.6z"/><path d="M1739.74 598.26l4.85 2.8v5.6l-4.85 2.8l-4.85 -2.8v-5.6z"/><path d="M1745.64 598.2l4.85 2.8v5.6l-4.85 2.8l-4.85 -2.8v-5.6z"/><path d="M1751.54 598.14l4.85 2.8v5.6l-4.85 2.8l-4.85 -2.8v-5.6z"/><path d="M1757.45 598.08l4.85 2.8v5.6l-4.85 2.8l-4.85 -2.8v-5.6z"/><path d="M1763.35 598.02l4.85 2.8v5.6l-4.85 2.8l-4.85 -2.8v-5.6z"/><path d="M1769.26 597.96l4.85 2.8v5.6l-4.85 2.8l-4.85 -2.8v-5.6z"/><path d="M1775.16 597.9l4.85 2.8v5.6l-4.85 2.8l-4.85 -2.8v-5.6z"/><path d="M1781.06 597.84l4.85 2.8v5.6l-4.85 2.8l-4.85 -2.8v-5.6z"/><path d="M1786.97 597.78l4.85 2.8v5.6l-4.85 2.8l-4.85 -2.8v-5.6z"/><path d="M1792.87 597.73l4.85 2.8v5.6l-4.85 2.8l-4.85 -2.8v-5.6z"/><path d="M1798.78 597.67l4.85 2.8v5.6l-4.85 2.8l-4.85 -2.8v-5.6z"/><path d="M1804.68 597.61l4.85 2.8v5.6l-4.85 2.8l-4.85 -2.8v-5.6z"/><path d="M1810.58 597.55l4.85 2.8v5.6l-4.85 2.8l-4.85 -2.8v-5.6z"/><path d="M1816.49 597.5l4.85 2.8v5.6l-4.85 2.8l-4.85 -2.8v-5.6z"/><path d="M1822.39 597.44l4.85 2.8v5.6l-4.85 2.8l-4.85 -2.8v-5.6z"/><path d="M1828.3 597.38l4.85 2.8v5.6l-4.85 2.8l-4.85 -2.8v-5.6z"/><path d="M1834.2 597.33l4.85 2.8v5.6l-4.85 2.8l-4.85 -2.8v-5.6z"/></g></g>
<g clip-path="url(#clipb)"><polyline points="1243.8,612.6 1249.7,612.6 1255.61,612.6 1261.51,612.6 1267.42,612.6 1273.32,612.6 1279.22,612.6 1285.13,612.6 1291.03,612.6 1296.94,612.6 1302.84,612.6 1308.74,612.6 1314.65,612.6 1320.55,612.6 1326.46,612.6 1332.36,612.6 1338.26,612.6 1344.17,612.6 1350.07,612.6 1355.98,612.6 1361.88,612.6 1367.78,612.6 1373.69,612.6 1379.59,612.6 1385.5,612.6 1391.4,612.6 1397.3,612.6 1403.21,612.6 1409.11,612.6 1415.02,612.6 1420.92,612.6 1426.82,612.6 1432.73,612.6 1438.63,612.6 1444.54,612.6 1450.44,612.6 1456.34,612.6 1462.25,612.6 1468.15,612.6 1474.06,612.59 1479.96,612.59 1485.86,612.58 1491.77,612.55 1497.67,612.51 1503.58,612.43 1509.48,612.29 1515.38,612.08 1521.29,611.78 1527.19,611.41 1533.1,610.98 1539,610.54 1544.9,610.14 1550.81,609.8 1556.71,609.54 1562.62,609.37 1568.52,609.28 1574.42,609.23 1580.33,609.21 1586.23,609.19 1592.14,609.17 1598.04,609.16 1603.94,609.15 1609.85,609.14 1615.75,609.13 1621.66,609.12 1627.56,609.11 1633.46,609.1 1639.37,609.09 1645.27,609.08 1651.18,609.07 1657.08,609.06 1662.98,609.06 1668.89,609.05 1674.79,609.04 1680.7,609.03 1686.6,609.02 1692.5,609.01 1698.41,609.01 1704.31,609 1710.22,608.99 1716.12,608.99 1722.02,608.98 1727.93,608.97 1733.83,608.97 1739.74,608.96 1745.64,608.96 1751.54,608.95 1757.45,608.95 1763.35,608.94 1769.26,608.94 1775.16,608.93 1781.06,608.93 1786.97,608.93 1792.87,608.92 1798.78,608.92 1804.68,608.92 1810.58,608.92 1816.49,608.92 1822.39,608.91 1828.3,608.91 1834.2,608.91" fill="none" stroke="#c9e3ad" stroke-width="3.0" stroke-linejoin="round"/><g fill="#d4edb2" stroke="#c9e3ad" stroke-width="1"><path d="M1243.8 607l4.85 2.8v5.6l-4.85 2.8l-4.85 -2.8v-5.6z"/><path d="M1249.7 607l4.85 2.8v5.6l-4.85 2.8l-4.85 -2.8v-5.6z"/><path d="M1255.61 607l4.85 2.8v5.6l-4.85 2.8l-4.85 -2.8v-5.6z"/><path d="M1261.51 607l4.85 2.8v5.6l-4.85 2.8l-4.85 -2.8v-5.6z"/><path d="M1267.42 607l4.85 2.8v5.6l-4.85 2.8l-4.85 -2.8v-5.6z"/><path d="M1273.32 607l4.85 2.8v5.6l-4.85 2.8l-4.85 -2.8v-5.6z"/><path d="M1279.22 607l4.85 2.8v5.6l-4.85 2.8l-4.85 -2.8v-5.6z"/><path d="M1285.13 607l4.85 2.8v5.6l-4.85 2.8l-4.85 -2.8v-5.6z"/><path d="M1291.03 607l4.85 2.8v5.6l-4.85 2.8l-4.85 -2.8v-5.6z"/><path d="M1296.94 607l4.85 2.8v5.6l-4.85 2.8l-4.85 -2.8v-5.6z"/><path d="M1302.84 607l4.85 2.8v5.6l-4.85 2.8l-4.85 -2.8v-5.6z"/><path d="M1308.74 607l4.85 2.8v5.6l-4.85 2.8l-4.85 -2.8v-5.6z"/><path d="M1314.65 607l4.85 2.8v5.6l-4.85 2.8l-4.85 -2.8v-5.6z"/><path d="M1320.55 607l4.85 2.8v5.6l-4.85 2.8l-4.85 -2.8v-5.6z"/><path d="M1326.46 607l4.85 2.8v5.6l-4.85 2.8l-4.85 -2.8v-5.6z"/><path d="M1332.36 607l4.85 2.8v5.6l-4.85 2.8l-4.85 -2.8v-5.6z"/><path d="M1338.26 607l4.85 2.8v5.6l-4.85 2.8l-4.85 -2.8v-5.6z"/><path d="M1344.17 607l4.85 2.8v5.6l-4.85 2.8l-4.85 -2.8v-5.6z"/><path d="M1350.07 607l4.85 2.8v5.6l-4.85 2.8l-4.85 -2.8v-5.6z"/><path d="M1355.98 607l4.85 2.8v5.6l-4.85 2.8l-4.85 -2.8v-5.6z"/><path d="M1361.88 607l4.85 2.8v5.6l-4.85 2.8l-4.85 -2.8v-5.6z"/><path d="M1367.78 607l4.85 2.8v5.6l-4.85 2.8l-4.85 -2.8v-5.6z"/><path d="M1373.69 607l4.85 2.8v5.6l-4.85 2.8l-4.85 -2.8v-5.6z"/><path d="M1379.59 607l4.85 2.8v5.6l-4.85 2.8l-4.85 -2.8v-5.6z"/><path d="M1385.5 607l4.85 2.8v5.6l-4.85 2.8l-4.85 -2.8v-5.6z"/><path d="M1391.4 607l4.85 2.8v5.6l-4.85 2.8l-4.85 -2.8v-5.6z"/><path d="M1397.3 607l4.85 2.8v5.6l-4.85 2.8l-4.85 -2.8v-5.6z"/><path d="M1403.21 607l4.85 2.8v5.6l-4.85 2.8l-4.85 -2.8v-5.6z"/><path d="M1409.11 607l4.85 2.8v5.6l-4.85 2.8l-4.85 -2.8v-5.6z"/><path d="M1415.02 607l4.85 2.8v5.6l-4.85 2.8l-4.85 -2.8v-5.6z"/><path d="M1420.92 607l4.85 2.8v5.6l-4.85 2.8l-4.85 -2.8v-5.6z"/><path d="M1426.82 607l4.85 2.8v5.6l-4.85 2.8l-4.85 -2.8v-5.6z"/><path d="M1432.73 607l4.85 2.8v5.6l-4.85 2.8l-4.85 -2.8v-5.6z"/><path d="M1438.63 607l4.85 2.8v5.6l-4.85 2.8l-4.85 -2.8v-5.6z"/><path d="M1444.54 607l4.85 2.8v5.6l-4.85 2.8l-4.85 -2.8v-5.6z"/><path d="M1450.44 607l4.85 2.8v5.6l-4.85 2.8l-4.85 -2.8v-5.6z"/><path d="M1456.34 607l4.85 2.8v5.6l-4.85 2.8l-4.85 -2.8v-5.6z"/><path d="M1462.25 607l4.85 2.8v5.6l-4.85 2.8l-4.85 -2.8v-5.6z"/><path d="M1468.15 607l4.85 2.8v5.6l-4.85 2.8l-4.85 -2.8v-5.6z"/><path d="M1474.06 606.99l4.85 2.8v5.6l-4.85 2.8l-4.85 -2.8v-5.6z"/><path d="M1479.96 606.99l4.85 2.8v5.6l-4.85 2.8l-4.85 -2.8v-5.6z"/><path d="M1485.86 606.98l4.85 2.8v5.6l-4.85 2.8l-4.85 -2.8v-5.6z"/><path d="M1491.77 606.95l4.85 2.8v5.6l-4.85 2.8l-4.85 -2.8v-5.6z"/><path d="M1497.67 606.91l4.85 2.8v5.6l-4.85 2.8l-4.85 -2.8v-5.6z"/><path d="M1503.58 606.83l4.85 2.8v5.6l-4.85 2.8l-4.85 -2.8v-5.6z"/><path d="M1509.48 606.69l4.85 2.8v5.6l-4.85 2.8l-4.85 -2.8v-5.6z"/><path d="M1515.38 606.48l4.85 2.8v5.6l-4.85 2.8l-4.85 -2.8v-5.6z"/><path d="M1521.29 606.18l4.85 2.8v5.6l-4.85 2.8l-4.85 -2.8v-5.6z"/><path d="M1527.19 605.81l4.85 2.8v5.6l-4.85 2.8l-4.85 -2.8v-5.6z"/><path d="M1533.1 605.38l4.85 2.8v5.6l-4.85 2.8l-4.85 -2.8v-5.6z"/><path d="M1539 604.94l4.85 2.8v5.6l-4.85 2.8l-4.85 -2.8v-5.6z"/><path d="M1544.9 604.54l4.85 2.8v5.6l-4.85 2.8l-4.85 -2.8v-5.6z"/><path d="M1550.81 604.2l4.85 2.8v5.6l-4.85 2.8l-4.85 -2.8v-5.6z"/><path d="M1556.71 603.94l4.85 2.8v5.6l-4.85 2.8l-4.85 -2.8v-5.6z"/><path d="M1562.62 603.77l4.85 2.8v5.6l-4.85 2.8l-4.85 -2.8v-5.6z"/><path d="M1568.52 603.68l4.85 2.8v5.6l-4.85 2.8l-4.85 -2.8v-5.6z"/><path d="M1574.42 603.63l4.85 2.8v5.6l-4.85 2.8l-4.85 -2.8v-5.6z"/><path d="M1580.33 603.61l4.85 2.8v5.6l-4.85 2.8l-4.85 -2.8v-5.6z"/><path d="M1586.23 603.59l4.85 2.8v5.6l-4.85 2.8l-4.85 -2.8v-5.6z"/><path d="M1592.14 603.57l4.85 2.8v5.6l-4.85 2.8l-4.85 -2.8v-5.6z"/><path d="M1598.04 603.56l4.85 2.8v5.6l-4.85 2.8l-4.85 -2.8v-5.6z"/><path d="M1603.94 603.55l4.85 2.8v5.6l-4.85 2.8l-4.85 -2.8v-5.6z"/><path d="M1609.85 603.54l4.85 2.8v5.6l-4.85 2.8l-4.85 -2.8v-5.6z"/><path d="M1615.75 603.53l4.85 2.8v5.6l-4.85 2.8l-4.85 -2.8v-5.6z"/><path d="M1621.66 603.52l4.85 2.8v5.6l-4.85 2.8l-4.85 -2.8v-5.6z"/><path d="M1627.56 603.51l4.85 2.8v5.6l-4.85 2.8l-4.85 -2.8v-5.6z"/><path d="M1633.46 603.5l4.85 2.8v5.6l-4.85 2.8l-4.85 -2.8v-5.6z"/><path d="M1639.37 603.49l4.85 2.8v5.6l-4.85 2.8l-4.85 -2.8v-5.6z"/><path d="M1645.27 603.48l4.85 2.8v5.6l-4.85 2.8l-4.85 -2.8v-5.6z"/><path d="M1651.18 603.47l4.85 2.8v5.6l-4.85 2.8l-4.85 -2.8v-5.6z"/><path d="M1657.08 603.46l4.85 2.8v5.6l-4.85 2.8l-4.85 -2.8v-5.6z"/><path d="M1662.98 603.46l4.85 2.8v5.6l-4.85 2.8l-4.85 -2.8v-5.6z"/><path d="M1668.89 603.45l4.85 2.8v5.6l-4.85 2.8l-4.85 -2.8v-5.6z"/><path d="M1674.79 603.44l4.85 2.8v5.6l-4.85 2.8l-4.85 -2.8v-5.6z"/><path d="M1680.7 603.43l4.85 2.8v5.6l-4.85 2.8l-4.85 -2.8v-5.6z"/><path d="M1686.6 603.42l4.85 2.8v5.6l-4.85 2.8l-4.85 -2.8v-5.6z"/><path d="M1692.5 603.41l4.85 2.8v5.6l-4.85 2.8l-4.85 -2.8v-5.6z"/><path d="M1698.41 603.41l4.85 2.8v5.6l-4.85 2.8l-4.85 -2.8v-5.6z"/><path d="M1704.31 603.4l4.85 2.8v5.6l-4.85 2.8l-4.85 -2.8v-5.6z"/><path d="M1710.22 603.39l4.85 2.8v5.6l-4.85 2.8l-4.85 -2.8v-5.6z"/><path d="M1716.12 603.39l4.85 2.8v5.6l-4.85 2.8l-4.85 -2.8v-5.6z"/><path d="M1722.02 603.38l4.85 2.8v5.6l-4.85 2.8l-4.85 -2.8v-5.6z"/><path d="M1727.93 603.37l4.85 2.8v5.6l-4.85 2.8l-4.85 -2.8v-5.6z"/><path d="M1733.83 603.37l4.85 2.8v5.6l-4.85 2.8l-4.85 -2.8v-5.6z"/><path d="M1739.74 603.36l4.85 2.8v5.6l-4.85 2.8l-4.85 -2.8v-5.6z"/><path d="M1745.64 603.36l4.85 2.8v5.6l-4.85 2.8l-4.85 -2.8v-5.6z"/><path d="M1751.54 603.35l4.85 2.8v5.6l-4.85 2.8l-4.85 -2.8v-5.6z"/><path d="M1757.45 603.35l4.85 2.8v5.6l-4.85 2.8l-4.85 -2.8v-5.6z"/><path d="M1763.35 603.34l4.85 2.8v5.6l-4.85 2.8l-4.85 -2.8v-5.6z"/><path d="M1769.26 603.34l4.85 2.8v5.6l-4.85 2.8l-4.85 -2.8v-5.6z"/><path d="M1775.16 603.33l4.85 2.8v5.6l-4.85 2.8l-4.85 -2.8v-5.6z"/><path d="M1781.06 603.33l4.85 2.8v5.6l-4.85 2.8l-4.85 -2.8v-5.6z"/><path d="M1786.97 603.33l4.85 2.8v5.6l-4.85 2.8l-4.85 -2.8v-5.6z"/><path d="M1792.87 603.32l4.85 2.8v5.6l-4.85 2.8l-4.85 -2.8v-5.6z"/><path d="M1798.78 603.32l4.85 2.8v5.6l-4.85 2.8l-4.85 -2.8v-5.6z"/><path d="M1804.68 603.32l4.85 2.8v5.6l-4.85 2.8l-4.85 -2.8v-5.6z"/><path d="M1810.58 603.32l4.85 2.8v5.6l-4.85 2.8l-4.85 -2.8v-5.6z"/><path d="M1816.49 603.32l4.85 2.8v5.6l-4.85 2.8l-4.85 -2.8v-5.6z"/><path d="M1822.39 603.31l4.85 2.8v5.6l-4.85 2.8l-4.85 -2.8v-5.6z"/><path d="M1828.3 603.31l4.85 2.8v5.6l-4.85 2.8l-4.85 -2.8v-5.6z"/><path d="M1834.2 603.31l4.85 2.8v5.6l-4.85 2.8l-4.85 -2.8v-5.6z"/></g></g>
<g clip-path="url(#clipb)"><polyline points="1243.8,612.6 1249.7,612.6 1255.61,612.6 1261.51,612.6 1267.42,612.6 1273.32,612.6 1279.22,612.6 1285.13,612.6 1291.03,612.6 1296.94,612.6 1302.84,612.6 1308.74,612.6 1314.65,612.6 1320.55,612.6 1326.46,612.6 1332.36,612.6 1338.26,612.6 1344.17,612.6 1350.07,612.6 1355.98,612.6 1361.88,612.6 1367.78,612.6 1373.69,612.6 1379.59,612.6 1385.5,612.6 1391.4,612.6 1397.3,612.6 1403.21,612.6 1409.11,612.6 1415.02,612.6 1420.92,612.6 1426.82,612.6 1432.73,612.6 1438.63,612.6 1444.54,612.6 1450.44,612.6 1456.34,612.6 1462.25,612.6 1468.15,612.6 1474.06,612.59 1479.96,612.59 1485.86,612.58 1491.77,612.55 1497.67,612.51 1503.58,612.43 1509.48,612.29 1515.38,612.1 1521.29,611.87 1527.19,611.61 1533.1,611.35 1539,611.14 1544.9,610.99 1550.81,610.9 1556.71,610.85 1562.62,610.83 1568.52,610.81 1574.42,610.81 1580.33,610.8 1586.23,610.79 1592.14,610.79 1598.04,610.78 1603.94,610.78 1609.85,610.78 1615.75,610.77 1621.66,610.77 1627.56,610.76 1633.46,610.76 1639.37,610.76 1645.27,610.75 1651.18,610.75 1657.08,610.74 1662.98,610.74 1668.89,610.74 1674.79,610.74 1680.7,610.73 1686.6,610.73 1692.5,610.73 1698.41,610.72 1704.31,610.72 1710.22,610.72 1716.12,610.72 1722.02,610.71 1727.93,610.71 1733.83,610.71 1739.74,610.71 1745.64,610.71 1751.54,610.71 1757.45,610.7 1763.35,610.7 1769.26,610.7 1775.16,610.7 1781.06,610.7 1786.97,610.7 1792.87,610.7 1798.78,610.7 1804.68,610.7 1810.58,610.7 1816.49,610.7 1822.39,610.7 1828.3,610.7 1834.2,610.7" fill="none" stroke="#7cc4a4" stroke-width="3.0" stroke-linejoin="round"/><g fill="#8acfae" stroke="#7cc4a4" stroke-width="1"><path d="M1243.8 607l4.85 2.8v5.6l-4.85 2.8l-4.85 -2.8v-5.6z"/><path d="M1249.7 607l4.85 2.8v5.6l-4.85 2.8l-4.85 -2.8v-5.6z"/><path d="M1255.61 607l4.85 2.8v5.6l-4.85 2.8l-4.85 -2.8v-5.6z"/><path d="M1261.51 607l4.85 2.8v5.6l-4.85 2.8l-4.85 -2.8v-5.6z"/><path d="M1267.42 607l4.85 2.8v5.6l-4.85 2.8l-4.85 -2.8v-5.6z"/><path d="M1273.32 607l4.85 2.8v5.6l-4.85 2.8l-4.85 -2.8v-5.6z"/><path d="M1279.22 607l4.85 2.8v5.6l-4.85 2.8l-4.85 -2.8v-5.6z"/><path d="M1285.13 607l4.85 2.8v5.6l-4.85 2.8l-4.85 -2.8v-5.6z"/><path d="M1291.03 607l4.85 2.8v5.6l-4.85 2.8l-4.85 -2.8v-5.6z"/><path d="M1296.94 607l4.85 2.8v5.6l-4.85 2.8l-4.85 -2.8v-5.6z"/><path d="M1302.84 607l4.85 2.8v5.6l-4.85 2.8l-4.85 -2.8v-5.6z"/><path d="M1308.74 607l4.85 2.8v5.6l-4.85 2.8l-4.85 -2.8v-5.6z"/><path d="M1314.65 607l4.85 2.8v5.6l-4.85 2.8l-4.85 -2.8v-5.6z"/><path d="M1320.55 607l4.85 2.8v5.6l-4.85 2.8l-4.85 -2.8v-5.6z"/><path d="M1326.46 607l4.85 2.8v5.6l-4.85 2.8l-4.85 -2.8v-5.6z"/><path d="M1332.36 607l4.85 2.8v5.6l-4.85 2.8l-4.85 -2.8v-5.6z"/><path d="M1338.26 607l4.85 2.8v5.6l-4.85 2.8l-4.85 -2.8v-5.6z"/><path d="M1344.17 607l4.85 2.8v5.6l-4.85 2.8l-4.85 -2.8v-5.6z"/><path d="M1350.07 607l4.85 2.8v5.6l-4.85 2.8l-4.85 -2.8v-5.6z"/><path d="M1355.98 607l4.85 2.8v5.6l-4.85 2.8l-4.85 -2.8v-5.6z"/><path d="M1361.88 607l4.85 2.8v5.6l-4.85 2.8l-4.85 -2.8v-5.6z"/><path d="M1367.78 607l4.85 2.8v5.6l-4.85 2.8l-4.85 -2.8v-5.6z"/><path d="M1373.69 607l4.85 2.8v5.6l-4.85 2.8l-4.85 -2.8v-5.6z"/><path d="M1379.59 607l4.85 2.8v5.6l-4.85 2.8l-4.85 -2.8v-5.6z"/><path d="M1385.5 607l4.85 2.8v5.6l-4.85 2.8l-4.85 -2.8v-5.6z"/><path d="M1391.4 607l4.85 2.8v5.6l-4.85 2.8l-4.85 -2.8v-5.6z"/><path d="M1397.3 607l4.85 2.8v5.6l-4.85 2.8l-4.85 -2.8v-5.6z"/><path d="M1403.21 607l4.85 2.8v5.6l-4.85 2.8l-4.85 -2.8v-5.6z"/><path d="M1409.11 607l4.85 2.8v5.6l-4.85 2.8l-4.85 -2.8v-5.6z"/><path d="M1415.02 607l4.85 2.8v5.6l-4.85 2.8l-4.85 -2.8v-5.6z"/><path d="M1420.92 607l4.85 2.8v5.6l-4.85 2.8l-4.85 -2.8v-5.6z"/><path d="M1426.82 607l4.85 2.8v5.6l-4.85 2.8l-4.85 -2.8v-5.6z"/><path d="M1432.73 607l4.85 2.8v5.6l-4.85 2.8l-4.85 -2.8v-5.6z"/><path d="M1438.63 607l4.85 2.8v5.6l-4.85 2.8l-4.85 -2.8v-5.6z"/><path d="M1444.54 607l4.85 2.8v5.6l-4.85 2.8l-4.85 -2.8v-5.6z"/><path d="M1450.44 607l4.85 2.8v5.6l-4.85 2.8l-4.85 -2.8v-5.6z"/><path d="M1456.34 607l4.85 2.8v5.6l-4.85 2.8l-4.85 -2.8v-5.6z"/><path d="M1462.25 607l4.85 2.8v5.6l-4.85 2.8l-4.85 -2.8v-5.6z"/><path d="M1468.15 607l4.85 2.8v5.6l-4.85 2.8l-4.85 -2.8v-5.6z"/><path d="M1474.06 606.99l4.85 2.8v5.6l-4.85 2.8l-4.85 -2.8v-5.6z"/><path d="M1479.96 606.99l4.85 2.8v5.6l-4.85 2.8l-4.85 -2.8v-5.6z"/><path d="M1485.86 606.98l4.85 2.8v5.6l-4.85 2.8l-4.85 -2.8v-5.6z"/><path d="M1491.77 606.95l4.85 2.8v5.6l-4.85 2.8l-4.85 -2.8v-5.6z"/><path d="M1497.67 606.91l4.85 2.8v5.6l-4.85 2.8l-4.85 -2.8v-5.6z"/><path d="M1503.58 606.83l4.85 2.8v5.6l-4.85 2.8l-4.85 -2.8v-5.6z"/><path d="M1509.48 606.69l4.85 2.8v5.6l-4.85 2.8l-4.85 -2.8v-5.6z"/><path d="M1515.38 606.5l4.85 2.8v5.6l-4.85 2.8l-4.85 -2.8v-5.6z"/><path d="M1521.29 606.27l4.85 2.8v5.6l-4.85 2.8l-4.85 -2.8v-5.6z"/><path d="M1527.19 606.01l4.85 2.8v5.6l-4.85 2.8l-4.85 -2.8v-5.6z"/><path d="M1533.1 605.75l4.85 2.8v5.6l-4.85 2.8l-4.85 -2.8v-5.6z"/><path d="M1539 605.54l4.85 2.8v5.6l-4.85 2.8l-4.85 -2.8v-5.6z"/><path d="M1544.9 605.39l4.85 2.8v5.6l-4.85 2.8l-4.85 -2.8v-5.6z"/><path d="M1550.81 605.3l4.85 2.8v5.6l-4.85 2.8l-4.85 -2.8v-5.6z"/><path d="M1556.71 605.25l4.85 2.8v5.6l-4.85 2.8l-4.85 -2.8v-5.6z"/><path d="M1562.62 605.23l4.85 2.8v5.6l-4.85 2.8l-4.85 -2.8v-5.6z"/><path d="M1568.52 605.21l4.85 2.8v5.6l-4.85 2.8l-4.85 -2.8v-5.6z"/><path d="M1574.42 605.21l4.85 2.8v5.6l-4.85 2.8l-4.85 -2.8v-5.6z"/><path d="M1580.33 605.2l4.85 2.8v5.6l-4.85 2.8l-4.85 -2.8v-5.6z"/><path d="M1586.23 605.19l4.85 2.8v5.6l-4.85 2.8l-4.85 -2.8v-5.6z"/><path d="M1592.14 605.19l4.85 2.8v5.6l-4.85 2.8l-4.85 -2.8v-5.6z"/><path d="M1598.04 605.18l4.85 2.8v5.6l-4.85 2.8l-4.85 -2.8v-5.6z"/><path d="M1603.94 605.18l4.85 2.8v5.6l-4.85 2.8l-4.85 -2.8v-5.6z"/><path d="M1609.85 605.18l4.85 2.8v5.6l-4.85 2.8l-4.85 -2.8v-5.6z"/><path d="M1615.75 605.17l4.85 2.8v5.6l-4.85 2.8l-4.85 -2.8v-5.6z"/><path d="M1621.66 605.17l4.85 2.8v5.6l-4.85 2.8l-4.85 -2.8v-5.6z"/><path d="M1627.56 605.16l4.85 2.8v5.6l-4.85 2.8l-4.85 -2.8v-5.6z"/><path d="M1633.46 605.16l4.85 2.8v5.6l-4.85 2.8l-4.85 -2.8v-5.6z"/><path d="M1639.37 605.16l4.85 2.8v5.6l-4.85 2.8l-4.85 -2.8v-5.6z"/><path d="M1645.27 605.15l4.85 2.8v5.6l-4.85 2.8l-4.85 -2.8v-5.6z"/><path d="M1651.18 605.15l4.85 2.8v5.6l-4.85 2.8l-4.85 -2.8v-5.6z"/><path d="M1657.08 605.14l4.85 2.8v5.6l-4.85 2.8l-4.85 -2.8v-5.6z"/><path d="M1662.98 605.14l4.85 2.8v5.6l-4.85 2.8l-4.85 -2.8v-5.6z"/><path d="M1668.89 605.14l4.85 2.8v5.6l-4.85 2.8l-4.85 -2.8v-5.6z"/><path d="M1674.79 605.14l4.85 2.8v5.6l-4.85 2.8l-4.85 -2.8v-5.6z"/><path d="M1680.7 605.13l4.85 2.8v5.6l-4.85 2.8l-4.85 -2.8v-5.6z"/><path d="M1686.6 605.13l4.85 2.8v5.6l-4.85 2.8l-4.85 -2.8v-5.6z"/><path d="M1692.5 605.13l4.85 2.8v5.6l-4.85 2.8l-4.85 -2.8v-5.6z"/><path d="M1698.41 605.12l4.85 2.8v5.6l-4.85 2.8l-4.85 -2.8v-5.6z"/><path d="M1704.31 605.12l4.85 2.8v5.6l-4.85 2.8l-4.85 -2.8v-5.6z"/><path d="M1710.22 605.12l4.85 2.8v5.6l-4.85 2.8l-4.85 -2.8v-5.6z"/><path d="M1716.12 605.12l4.85 2.8v5.6l-4.85 2.8l-4.85 -2.8v-5.6z"/><path d="M1722.02 605.11l4.85 2.8v5.6l-4.85 2.8l-4.85 -2.8v-5.6z"/><path d="M1727.93 605.11l4.85 2.8v5.6l-4.85 2.8l-4.85 -2.8v-5.6z"/><path d="M1733.83 605.11l4.85 2.8v5.6l-4.85 2.8l-4.85 -2.8v-5.6z"/><path d="M1739.74 605.11l4.85 2.8v5.6l-4.85 2.8l-4.85 -2.8v-5.6z"/><path d="M1745.64 605.11l4.85 2.8v5.6l-4.85 2.8l-4.85 -2.8v-5.6z"/><path d="M1751.54 605.11l4.85 2.8v5.6l-4.85 2.8l-4.85 -2.8v-5.6z"/><path d="M1757.45 605.1l4.85 2.8v5.6l-4.85 2.8l-4.85 -2.8v-5.6z"/><path d="M1763.35 605.1l4.85 2.8v5.6l-4.85 2.8l-4.85 -2.8v-5.6z"/><path d="M1769.26 605.1l4.85 2.8v5.6l-4.85 2.8l-4.85 -2.8v-5.6z"/><path d="M1775.16 605.1l4.85 2.8v5.6l-4.85 2.8l-4.85 -2.8v-5.6z"/><path d="M1781.06 605.1l4.85 2.8v5.6l-4.85 2.8l-4.85 -2.8v-5.6z"/><path d="M1786.97 605.1l4.85 2.8v5.6l-4.85 2.8l-4.85 -2.8v-5.6z"/><path d="M1792.87 605.1l4.85 2.8v5.6l-4.85 2.8l-4.85 -2.8v-5.6z"/><path d="M1798.78 605.1l4.85 2.8v5.6l-4.85 2.8l-4.85 -2.8v-5.6z"/><path d="M1804.68 605.1l4.85 2.8v5.6l-4.85 2.8l-4.85 -2.8v-5.6z"/><path d="M1810.58 605.1l4.85 2.8v5.6l-4.85 2.8l-4.85 -2.8v-5.6z"/><path d="M1816.49 605.1l4.85 2.8v5.6l-4.85 2.8l-4.85 -2.8v-5.6z"/><path d="M1822.39 605.1l4.85 2.8v5.6l-4.85 2.8l-4.85 -2.8v-5.6z"/><path d="M1828.3 605.1l4.85 2.8v5.6l-4.85 2.8l-4.85 -2.8v-5.6z"/><path d="M1834.2 605.1l4.85 2.8v5.6l-4.85 2.8l-4.85 -2.8v-5.6z"/></g></g>
<g clip-path="url(#clipc)"><polyline points="251.5,1343.96 257.4,1336.71 263.31,1329.46 269.21,1322.18 275.12,1314.9 281.02,1307.61 286.92,1300.3 292.83,1292.98 298.73,1285.64 304.64,1278.29 310.54,1270.93 316.44,1263.56 322.35,1256.17 328.25,1248.77 334.16,1241.35 340.06,1233.93 345.96,1226.49 351.87,1219.03 357.77,1211.55 363.68,1204.04 369.58,1196.48 375.48,1188.87 381.39,1181.2 387.29,1173.48 393.2,1165.72 399.1,1157.92 405,1150.11 410.91,1142.29 416.81,1134.47 422.72,1126.66 428.62,1118.87 434.52,1111.11 440.43,1103.4 446.33,1095.74 452.24,1088.15 458.14,1080.63 464.04,1073.19 469.95,1065.85 475.85,1058.62 481.76,1051.5 487.66,1044.5 493.56,1037.61 499.47,1030.84 505.37,1024.16 511.28,1017.57 517.18,1011.04 523.08,1004.57 528.99,998.14 534.89,991.73 540.8,985.33 546.7,978.92 552.6,972.53 558.51,966.22 564.41,960.1 570.32,954.26 576.22,948.73 582.12,943.47 588.03,938.46 593.93,933.67 599.84,929.07 605.74,924.64 611.64,920.38 617.55,916.26 623.45,912.24 629.36,908.3 635.26,904.39 641.16,900.5 647.07,896.62 652.97,892.79 658.88,889.04 664.78,885.42 670.68,881.96 676.59,878.66 682.49,875.56 688.4,872.69 694.3,870.08 700.2,867.71 706.11,865.56 712.01,863.59 717.92,861.79 723.82,860.14 729.72,858.63 735.63,857.27 741.53,856.02 747.44,854.85 753.34,853.73 759.24,852.66 765.15,851.61 771.05,850.61 776.96,849.65 782.86,848.74 788.76,847.88 794.67,847.08 800.57,846.33 806.48,845.61 812.38,844.92 818.28,844.26 824.19,843.63 830.09,843.02 836,842.44 841.9,841.87" fill="none" stroke="#2a0414" stroke-width="3.0" stroke-linejoin="round"/><g fill="#450b24" stroke="#2a0414" stroke-width="1"><path d="M251.5 1338.36l4.85 2.8v5.6l-4.85 2.8l-4.85 -2.8v-5.6z"/><path d="M257.4 1331.11l4.85 2.8v5.6l-4.85 2.8l-4.85 -2.8v-5.6z"/><path d="M263.31 1323.86l4.85 2.8v5.6l-4.85 2.8l-4.85 -2.8v-5.6z"/><path d="M269.21 1316.58l4.85 2.8v5.6l-4.85 2.8l-4.85 -2.8v-5.6z"/><path d="M275.12 1309.3l4.85 2.8v5.6l-4.85 2.8l-4.85 -2.8v-5.6z"/><path d="M281.02 1302.01l4.85 2.8v5.6l-4.85 2.8l-4.85 -2.8v-5.6z"/><path d="M286.92 1294.7l4.85 2.8v5.6l-4.85 2.8l-4.85 -2.8v-5.6z"/><path d="M292.83 1287.38l4.85 2.8v5.6l-4.85 2.8l-4.85 -2.8v-5.6z"/><path d="M298.73 1280.04l4.85 2.8v5.6l-4.85 2.8l-4.85 -2.8v-5.6z"/><path d="M304.64 1272.69l4.85 2.8v5.6l-4.85 2.8l-4.85 -2.8v-5.6z"/><path d="M310.54 1265.33l4.85 2.8v5.6l-4.85 2.8l-4.85 -2.8v-5.6z"/><path d="M316.44 1257.96l4.85 2.8v5.6l-4.85 2.8l-4.85 -2.8v-5.6z"/><path d="M322.35 1250.57l4.85 2.8v5.6l-4.85 2.8l-4.85 -2.8v-5.6z"/><path d="M328.25 1243.17l4.85 2.8v5.6l-4.85 2.8l-4.85 -2.8v-5.6z"/><path d="M334.16 1235.75l4.85 2.8v5.6l-4.85 2.8l-4.85 -2.8v-5.6z"/><path d="M340.06 1228.33l4.85 2.8v5.6l-4.85 2.8l-4.85 -2.8v-5.6z"/><path d="M345.96 1220.89l4.85 2.8v5.6l-4.85 2.8l-4.85 -2.8v-5.6z"/><path d="M351.87 1213.43l4.85 2.8v5.6l-4.85 2.8l-4.85 -2.8v-5.6z"/><path d="M357.77 1205.95l4.85 2.8v5.6l-4.85 2.8l-4.85 -2.8v-5.6z"/><path d="M363.68 1198.44l4.85 2.8v5.6l-4.85 2.8l-4.85 -2.8v-5.6z"/><path d="M369.58 1190.88l4.85 2.8v5.6l-4.85 2.8l-4.85 -2.8v-5.6z"/><path d="M375.48 1183.27l4.85 2.8v5.6l-4.85 2.8l-4.85 -2.8v-5.6z"/><path d="M381.39 1175.6l4.85 2.8v5.6l-4.85 2.8l-4.85 -2.8v-5.6z"/><path d="M387.29 1167.88l4.85 2.8v5.6l-4.85 2.8l-4.85 -2.8v-5.6z"/><path d="M393.2 1160.12l4.85 2.8v5.6l-4.85 2.8l-4.85 -2.8v-5.6z"/><path d="M399.1 1152.32l4.85 2.8v5.6l-4.85 2.8l-4.85 -2.8v-5.6z"/><path d="M405 1144.51l4.85 2.8v5.6l-4.85 2.8l-4.85 -2.8v-5.6z"/><path d="M410.91 1136.69l4.85 2.8v5.6l-4.85 2.8l-4.85 -2.8v-5.6z"/><path d="M416.81 1128.87l4.85 2.8v5.6l-4.85 2.8l-4.85 -2.8v-5.6z"/><path d="M422.72 1121.06l4.85 2.8v5.6l-4.85 2.8l-4.85 -2.8v-5.6z"/><path d="M428.62 1113.27l4.85 2.8v5.6l-4.85 2.8l-4.85 -2.8v-5.6z"/><path d="M434.52 1105.51l4.85 2.8v5.6l-4.85 2.8l-4.85 -2.8v-5.6z"/><path d="M440.43 1097.8l4.85 2.8v5.6l-4.85 2.8l-4.85 -2.8v-5.6z"/><path d="M446.33 1090.14l4.85 2.8v5.6l-4.85 2.8l-4.85 -2.8v-5.6z"/><path d="M452.24 1082.55l4.85 2.8v5.6l-4.85 2.8l-4.85 -2.8v-5.6z"/><path d="M458.14 1075.03l4.85 2.8v5.6l-4.85 2.8l-4.85 -2.8v-5.6z"/><path d="M464.04 1067.59l4.85 2.8v5.6l-4.85 2.8l-4.85 -2.8v-5.6z"/><path d="M469.95 1060.25l4.85 2.8v5.6l-4.85 2.8l-4.85 -2.8v-5.6z"/><path d="M475.85 1053.02l4.85 2.8v5.6l-4.85 2.8l-4.85 -2.8v-5.6z"/><path d="M481.76 1045.9l4.85 2.8v5.6l-4.85 2.8l-4.85 -2.8v-5.6z"/><path d="M487.66 1038.9l4.85 2.8v5.6l-4.85 2.8l-4.85 -2.8v-5.6z"/><path d="M493.56 1032.01l4.85 2.8v5.6l-4.85 2.8l-4.85 -2.8v-5.6z"/><path d="M499.47 1025.24l4.85 2.8v5.6l-4.85 2.8l-4.85 -2.8v-5.6z"/><path d="M505.37 1018.56l4.85 2.8v5.6l-4.85 2.8l-4.85 -2.8v-5.6z"/><path d="M511.28 1011.97l4.85 2.8v5.6l-4.85 2.8l-4.85 -2.8v-5.6z"/><path d="M517.18 1005.44l4.85 2.8v5.6l-4.85 2.8l-4.85 -2.8v-5.6z"/><path d="M523.08 998.97l4.85 2.8v5.6l-4.85 2.8l-4.85 -2.8v-5.6z"/><path d="M528.99 992.54l4.85 2.8v5.6l-4.85 2.8l-4.85 -2.8v-5.6z"/><path d="M534.89 986.13l4.85 2.8v5.6l-4.85 2.8l-4.85 -2.8v-5.6z"/><path d="M540.8 979.73l4.85 2.8v5.6l-4.85 2.8l-4.85 -2.8v-5.6z"/><path d="M546.7 973.32l4.85 2.8v5.6l-4.85 2.8l-4.85 -2.8v-5.6z"/><path d="M552.6 966.93l4.85 2.8v5.6l-4.85 2.8l-4.85 -2.8v-5.6z"/><path d="M558.51 960.62l4.85 2.8v5.6l-4.85 2.8l-4.85 -2.8v-5.6z"/><path d="M564.41 954.5l4.85 2.8v5.6l-4.85 2.8l-4.85 -2.8v-5.6z"/><path d="M570.32 948.66l4.85 2.8v5.6l-4.85 2.8l-4.85 -2.8v-5.6z"/><path d="M576.22 943.13l4.85 2.8v5.6l-4.85 2.8l-4.85 -2.8v-5.6z"/><path d="M582.12 937.87l4.85 2.8v5.6l-4.85 2.8l-4.85 -2.8v-5.6z"/><path d="M588.03 932.86l4.85 2.8v5.6l-4.85 2.8l-4.85 -2.8v-5.6z"/><path d="M593.93 928.07l4.85 2.8v5.6l-4.85 2.8l-4.85 -2.8v-5.6z"/><path d="M599.84 923.47l4.85 2.8v5.6l-4.85 2.8l-4.85 -2.8v-5.6z"/><path d="M605.74 919.04l4.85 2.8v5.6l-4.85 2.8l-4.85 -2.8v-5.6z"/><path d="M611.64 914.78l4.85 2.8v5.6l-4.85 2.8l-4.85 -2.8v-5.6z"/><path d="M617.55 910.66l4.85 2.8v5.6l-4.85 2.8l-4.85 -2.8v-5.6z"/><path d="M623.45 906.64l4.85 2.8v5.6l-4.85 2.8l-4.85 -2.8v-5.6z"/><path d="M629.36 902.7l4.85 2.8v5.6l-4.85 2.8l-4.85 -2.8v-5.6z"/><path d="M635.26 898.79l4.85 2.8v5.6l-4.85 2.8l-4.85 -2.8v-5.6z"/><path d="M641.16 894.9l4.85 2.8v5.6l-4.85 2.8l-4.85 -2.8v-5.6z"/><path d="M647.07 891.02l4.85 2.8v5.6l-4.85 2.8l-4.85 -2.8v-5.6z"/><path d="M652.97 887.19l4.85 2.8v5.6l-4.85 2.8l-4.85 -2.8v-5.6z"/><path d="M658.88 883.44l4.85 2.8v5.6l-4.85 2.8l-4.85 -2.8v-5.6z"/><path d="M664.78 879.82l4.85 2.8v5.6l-4.85 2.8l-4.85 -2.8v-5.6z"/><path d="M670.68 876.36l4.85 2.8v5.6l-4.85 2.8l-4.85 -2.8v-5.6z"/><path d="M676.59 873.06l4.85 2.8v5.6l-4.85 2.8l-4.85 -2.8v-5.6z"/><path d="M682.49 869.96l4.85 2.8v5.6l-4.85 2.8l-4.85 -2.8v-5.6z"/><path d="M688.4 867.09l4.85 2.8v5.6l-4.85 2.8l-4.85 -2.8v-5.6z"/><path d="M694.3 864.48l4.85 2.8v5.6l-4.85 2.8l-4.85 -2.8v-5.6z"/><path d="M700.2 862.11l4.85 2.8v5.6l-4.85 2.8l-4.85 -2.8v-5.6z"/><path d="M706.11 859.96l4.85 2.8v5.6l-4.85 2.8l-4.85 -2.8v-5.6z"/><path d="M712.01 857.99l4.85 2.8v5.6l-4.85 2.8l-4.85 -2.8v-5.6z"/><path d="M717.92 856.19l4.85 2.8v5.6l-4.85 2.8l-4.85 -2.8v-5.6z"/><path d="M723.82 854.54l4.85 2.8v5.6l-4.85 2.8l-4.85 -2.8v-5.6z"/><path d="M729.72 853.03l4.85 2.8v5.6l-4.85 2.8l-4.85 -2.8v-5.6z"/><path d="M735.63 851.67l4.85 2.8v5.6l-4.85 2.8l-4.85 -2.8v-5.6z"/><path d="M741.53 850.42l4.85 2.8v5.6l-4.85 2.8l-4.85 -2.8v-5.6z"/><path d="M747.44 849.25l4.85 2.8v5.6l-4.85 2.8l-4.85 -2.8v-5.6z"/><path d="M753.34 848.13l4.85 2.8v5.6l-4.85 2.8l-4.85 -2.8v-5.6z"/><path d="M759.24 847.06l4.85 2.8v5.6l-4.85 2.8l-4.85 -2.8v-5.6z"/><path d="M765.15 846.01l4.85 2.8v5.6l-4.85 2.8l-4.85 -2.8v-5.6z"/><path d="M771.05 845.01l4.85 2.8v5.6l-4.85 2.8l-4.85 -2.8v-5.6z"/><path d="M776.96 844.05l4.85 2.8v5.6l-4.85 2.8l-4.85 -2.8v-5.6z"/><path d="M782.86 843.14l4.85 2.8v5.6l-4.85 2.8l-4.85 -2.8v-5.6z"/><path d="M788.76 842.28l4.85 2.8v5.6l-4.85 2.8l-4.85 -2.8v-5.6z"/><path d="M794.67 841.48l4.85 2.8v5.6l-4.85 2.8l-4.85 -2.8v-5.6z"/><path d="M800.57 840.73l4.85 2.8v5.6l-4.85 2.8l-4.85 -2.8v-5.6z"/><path d="M806.48 840.01l4.85 2.8v5.6l-4.85 2.8l-4.85 -2.8v-5.6z"/><path d="M812.38 839.32l4.85 2.8v5.6l-4.85 2.8l-4.85 -2.8v-5.6z"/><path d="M818.28 838.66l4.85 2.8v5.6l-4.85 2.8l-4.85 -2.8v-5.6z"/><path d="M824.19 838.03l4.85 2.8v5.6l-4.85 2.8l-4.85 -2.8v-5.6z"/><path d="M830.09 837.42l4.85 2.8v5.6l-4.85 2.8l-4.85 -2.8v-5.6z"/><path d="M836 836.84l4.85 2.8v5.6l-4.85 2.8l-4.85 -2.8v-5.6z"/><path d="M841.9 836.27l4.85 2.8v5.6l-4.85 2.8l-4.85 -2.8v-5.6z"/></g></g>
<g clip-path="url(#clipc)"><polyline points="251.5,1316.43 257.4,1309.26 263.31,1302.12 269.21,1294.98 275.12,1287.83 281.02,1280.69 286.92,1273.53 292.83,1266.37 298.73,1259.19 304.64,1252.01 310.54,1244.82 316.44,1237.63 322.35,1230.42 328.25,1223.2 334.16,1215.98 340.06,1208.74 345.96,1201.49 351.87,1194.23 357.77,1186.94 363.68,1179.62 369.58,1172.26 375.48,1164.86 381.39,1157.41 387.29,1149.92 393.2,1142.39 399.1,1134.84 405,1127.27 410.91,1119.7 416.81,1112.13 422.72,1104.59 428.62,1097.07 434.52,1089.6 440.43,1082.17 446.33,1074.81 452.24,1067.52 458.14,1060.31 464.04,1053.2 469.95,1046.19 475.85,1039.3 481.76,1032.55 487.66,1025.95 493.56,1019.51 499.47,1013.25 505.37,1007.12 511.28,1001.11 517.18,995.16 523.08,989.23 528.99,983.29 534.89,977.3 540.8,971.22 546.7,965.07 552.6,958.9 558.51,952.79 564.41,946.83 570.32,941.09 576.22,935.6 582.12,930.37 588.03,925.38 593.93,920.62 599.84,916.06 605.74,911.68 611.64,907.46 617.55,903.37 623.45,899.39 629.36,895.48 635.26,891.63 641.16,887.82 647.07,884.05 652.97,880.35 658.88,876.75 664.78,873.29 670.68,870.02 676.59,866.98 682.49,864.21 688.4,861.72 694.3,859.5 700.2,857.53 706.11,855.78 712.01,854.19 717.92,852.73 723.82,851.36 729.72,850.08 735.63,848.89 741.53,847.76 747.44,846.71 753.34,845.7 759.24,844.72 765.15,843.78 771.05,842.87 776.96,842 782.86,841.18 788.76,840.41 794.67,839.68 800.57,838.99 806.48,838.33 812.38,837.7 818.28,837.1 824.19,836.51 830.09,835.94 836,835.38 841.9,834.83" fill="none" stroke="#6a0a2e" stroke-width="3.0" stroke-linejoin="round"/><g fill="#9b0c42" stroke="#6a0a2e" stroke-width="1"><path d="M251.5 1310.83l4.85 2.8v5.6l-4.85 2.8l-4.85 -2.8v-5.6z"/><path d="M257.4 1303.66l4.85 2.8v5.6l-4.85 2.8l-4.85 -2.8v-5.6z"/><path d="M263.31 1296.52l4.85 2.8v5.6l-4.85 2.8l-4.85 -2.8v-5.6z"/><path d="M269.21 1289.38l4.85 2.8v5.6l-4.85 2.8l-4.85 -2.8v-5.6z"/><path d="M275.12 1282.23l4.85 2.8v5.6l-4.85 2.8l-4.85 -2.8v-5.6z"/><path d="M281.02 1275.09l4.85 2.8v5.6l-4.85 2.8l-4.85 -2.8v-5.6z"/><path d="M286.92 1267.93l4.85 2.8v5.6l-4.85 2.8l-4.85 -2.8v-5.6z"/><path d="M292.83 1260.77l4.85 2.8v5.6l-4.85 2.8l-4.85 -2.8v-5.6z"/><path d="M298.73 1253.59l4.85 2.8v5.6l-4.85 2.8l-4.85 -2.8v-5.6z"/><path d="M304.64 1246.41l4.85 2.8v5.6l-4.85 2.8l-4.85 -2.8v-5.6z"/><path d="M310.54 1239.22l4.85 2.8v5.6l-4.85 2.8l-4.85 -2.8v-5.6z"/><path d="M316.44 1232.03l4.85 2.8v5.6l-4.85 2.8l-4.85 -2.8v-5.6z"/><path d="M322.35 1224.82l4.85 2.8v5.6l-4.85 2.8l-4.85 -2.8v-5.6z"/><path d="M328.25 1217.6l4.85 2.8v5.6l-4.85 2.8l-4.85 -2.8v-5.6z"/><path d="M334.16 1210.38l4.85 2.8v5.6l-4.85 2.8l-4.85 -2.8v-5.6z"/><path d="M340.06 1203.14l4.85 2.8v5.6l-4.85 2.8l-4.85 -2.8v-5.6z"/><path d="M345.96 1195.89l4.85 2.8v5.6l-4.85 2.8l-4.85 -2.8v-5.6z"/><path d="M351.87 1188.63l4.85 2.8v5.6l-4.85 2.8l-4.85 -2.8v-5.6z"/><path d="M357.77 1181.34l4.85 2.8v5.6l-4.85 2.8l-4.85 -2.8v-5.6z"/><path d="M363.68 1174.02l4.85 2.8v5.6l-4.85 2.8l-4.85 -2.8v-5.6z"/><path d="M369.58 1166.66l4.85 2.8v5.6l-4.85 2.8l-4.85 -2.8v-5.6z"/><path d="M375.48 1159.26l4.85 2.8v5.6l-4.85 2.8l-4.85 -2.8v-5.6z"/><path d="M381.39 1151.81l4.85 2.8v5.6l-4.85 2.8l-4.85 -2.8v-5.6z"/><path d="M387.29 1144.32l4.85 2.8v5.6l-4.85 2.8l-4.85 -2.8v-5.6z"/><path d="M393.2 1136.79l4.85 2.8v5.6l-4.85 2.8l-4.85 -2.8v-5.6z"/><path d="M399.1 1129.24l4.85 2.8v5.6l-4.85 2.8l-4.85 -2.8v-5.6z"/><path d="M405 1121.67l4.85 2.8v5.6l-4.85 2.8l-4.85 -2.8v-5.6z"/><path d="M410.91 1114.1l4.85 2.8v5.6l-4.85 2.8l-4.85 -2.8v-5.6z"/><path d="M416.81 1106.53l4.85 2.8v5.6l-4.85 2.8l-4.85 -2.8v-5.6z"/><path d="M422.72 1098.99l4.85 2.8v5.6l-4.85 2.8l-4.85 -2.8v-5.6z"/><path d="M428.62 1091.47l4.85 2.8v5.6l-4.85 2.8l-4.85 -2.8v-5.6z"/><path d="M434.52 1084l4.85 2.8v5.6l-4.85 2.8l-4.85 -2.8v-5.6z"/><path d="M440.43 1076.57l4.85 2.8v5.6l-4.85 2.8l-4.85 -2.8v-5.6z"/><path d="M446.33 1069.21l4.85 2.8v5.6l-4.85 2.8l-4.85 -2.8v-5.6z"/><path d="M452.24 1061.92l4.85 2.8v5.6l-4.85 2.8l-4.85 -2.8v-5.6z"/><path d="M458.14 1054.71l4.85 2.8v5.6l-4.85 2.8l-4.85 -2.8v-5.6z"/><path d="M464.04 1047.6l4.85 2.8v5.6l-4.85 2.8l-4.85 -2.8v-5.6z"/><path d="M469.95 1040.59l4.85 2.8v5.6l-4.85 2.8l-4.85 -2.8v-5.6z"/><path d="M475.85 1033.7l4.85 2.8v5.6l-4.85 2.8l-4.85 -2.8v-5.6z"/><path d="M481.76 1026.95l4.85 2.8v5.6l-4.85 2.8l-4.85 -2.8v-5.6z"/><path d="M487.66 1020.35l4.85 2.8v5.6l-4.85 2.8l-4.85 -2.8v-5.6z"/><path d="M493.56 1013.91l4.85 2.8v5.6l-4.85 2.8l-4.85 -2.8v-5.6z"/><path d="M499.47 1007.65l4.85 2.8v5.6l-4.85 2.8l-4.85 -2.8v-5.6z"/><path d="M505.37 1001.52l4.85 2.8v5.6l-4.85 2.8l-4.85 -2.8v-5.6z"/><path d="M511.28 995.51l4.85 2.8v5.6l-4.85 2.8l-4.85 -2.8v-5.6z"/><path d="M517.18 989.56l4.85 2.8v5.6l-4.85 2.8l-4.85 -2.8v-5.6z"/><path d="M523.08 983.63l4.85 2.8v5.6l-4.85 2.8l-4.85 -2.8v-5.6z"/><path d="M528.99 977.69l4.85 2.8v5.6l-4.85 2.8l-4.85 -2.8v-5.6z"/><path d="M534.89 971.7l4.85 2.8v5.6l-4.85 2.8l-4.85 -2.8v-5.6z"/><path d="M540.8 965.62l4.85 2.8v5.6l-4.85 2.8l-4.85 -2.8v-5.6z"/><path d="M546.7 959.47l4.85 2.8v5.6l-4.85 2.8l-4.85 -2.8v-5.6z"/><path d="M552.6 953.3l4.85 2.8v5.6l-4.85 2.8l-4.85 -2.8v-5.6z"/><path d="M558.51 947.19l4.85 2.8v5.6l-4.85 2.8l-4.85 -2.8v-5.6z"/><path d="M564.41 941.23l4.85 2.8v5.6l-4.85 2.8l-4.85 -2.8v-5.6z"/><path d="M570.32 935.49l4.85 2.8v5.6l-4.85 2.8l-4.85 -2.8v-5.6z"/><path d="M576.22 930l4.85 2.8v5.6l-4.85 2.8l-4.85 -2.8v-5.6z"/><path d="M582.12 924.77l4.85 2.8v5.6l-4.85 2.8l-4.85 -2.8v-5.6z"/><path d="M588.03 919.78l4.85 2.8v5.6l-4.85 2.8l-4.85 -2.8v-5.6z"/><path d="M593.93 915.02l4.85 2.8v5.6l-4.85 2.8l-4.85 -2.8v-5.6z"/><path d="M599.84 910.46l4.85 2.8v5.6l-4.85 2.8l-4.85 -2.8v-5.6z"/><path d="M605.74 906.08l4.85 2.8v5.6l-4.85 2.8l-4.85 -2.8v-5.6z"/><path d="M611.64 901.86l4.85 2.8v5.6l-4.85 2.8l-4.85 -2.8v-5.6z"/><path d="M617.55 897.77l4.85 2.8v5.6l-4.85 2.8l-4.85 -2.8v-5.6z"/><path d="M623.45 893.79l4.85 2.8v5.6l-4.85 2.8l-4.85 -2.8v-5.6z"/><path d="M629.36 889.88l4.85 2.8v5.6l-4.85 2.8l-4.85 -2.8v-5.6z"/><path d="M635.26 886.03l4.85 2.8v5.6l-4.85 2.8l-4.85 -2.8v-5.6z"/><path d="M641.16 882.22l4.85 2.8v5.6l-4.85 2.8l-4.85 -2.8v-5.6z"/><path d="M647.07 878.45l4.85 2.8v5.6l-4.85 2.8l-4.85 -2.8v-5.6z"/><path d="M652.97 874.75l4.85 2.8v5.6l-4.85 2.8l-4.85 -2.8v-5.6z"/><path d="M658.88 871.15l4.85 2.8v5.6l-4.85 2.8l-4.85 -2.8v-5.6z"/><path d="M664.78 867.69l4.85 2.8v5.6l-4.85 2.8l-4.85 -2.8v-5.6z"/><path d="M670.68 864.42l4.85 2.8v5.6l-4.85 2.8l-4.85 -2.8v-5.6z"/><path d="M676.59 861.38l4.85 2.8v5.6l-4.85 2.8l-4.85 -2.8v-5.6z"/><path d="M682.49 858.61l4.85 2.8v5.6l-4.85 2.8l-4.85 -2.8v-5.6z"/><path d="M688.4 856.12l4.85 2.8v5.6l-4.85 2.8l-4.85 -2.8v-5.6z"/><path d="M694.3 853.9l4.85 2.8v5.6l-4.85 2.8l-4.85 -2.8v-5.6z"/><path d="M700.2 851.93l4.85 2.8v5.6l-4.85 2.8l-4.85 -2.8v-5.6z"/><path d="M706.11 850.18l4.85 2.8v5.6l-4.85 2.8l-4.85 -2.8v-5.6z"/><path d="M712.01 848.59l4.85 2.8v5.6l-4.85 2.8l-4.85 -2.8v-5.6z"/><path d="M717.92 847.13l4.85 2.8v5.6l-4.85 2.8l-4.85 -2.8v-5.6z"/><path d="M723.82 845.76l4.85 2.8v5.6l-4.85 2.8l-4.85 -2.8v-5.6z"/><path d="M729.72 844.48l4.85 2.8v5.6l-4.85 2.8l-4.85 -2.8v-5.6z"/><path d="M735.63 843.29l4.85 2.8v5.6l-4.85 2.8l-4.85 -2.8v-5.6z"/><path d="M741.53 842.16l4.85 2.8v5.6l-4.85 2.8l-4.85 -2.8v-5.6z"/><path d="M747.44 841.11l4.85 2.8v5.6l-4.85 2.8l-4.85 -2.8v-5.6z"/><path d="M753.34 840.1l4.85 2.8v5.6l-4.85 2.8l-4.85 -2.8v-5.6z"/><path d="M759.24 839.12l4.85 2.8v5.6l-4.85 2.8l-4.85 -2.8v-5.6z"/><path d="M765.15 838.18l4.85 2.8v5.6l-4.85 2.8l-4.85 -2.8v-5.6z"/><path d="M771.05 837.27l4.85 2.8v5.6l-4.85 2.8l-4.85 -2.8v-5.6z"/><path d="M776.96 836.4l4.85 2.8v5.6l-4.85 2.8l-4.85 -2.8v-5.6z"/><path d="M782.86 835.58l4.85 2.8v5.6l-4.85 2.8l-4.85 -2.8v-5.6z"/><path d="M788.76 834.81l4.85 2.8v5.6l-4.85 2.8l-4.85 -2.8v-5.6z"/><path d="M794.67 834.08l4.85 2.8v5.6l-4.85 2.8l-4.85 -2.8v-5.6z"/><path d="M800.57 833.39l4.85 2.8v5.6l-4.85 2.8l-4.85 -2.8v-5.6z"/><path d="M806.48 832.73l4.85 2.8v5.6l-4.85 2.8l-4.85 -2.8v-5.6z"/><path d="M812.38 832.1l4.85 2.8v5.6l-4.85 2.8l-4.85 -2.8v-5.6z"/><path d="M818.28 831.5l4.85 2.8v5.6l-4.85 2.8l-4.85 -2.8v-5.6z"/><path d="M824.19 830.91l4.85 2.8v5.6l-4.85 2.8l-4.85 -2.8v-5.6z"/><path d="M830.09 830.34l4.85 2.8v5.6l-4.85 2.8l-4.85 -2.8v-5.6z"/><path d="M836 829.78l4.85 2.8v5.6l-4.85 2.8l-4.85 -2.8v-5.6z"/><path d="M841.9 829.23l4.85 2.8v5.6l-4.85 2.8l-4.85 -2.8v-5.6z"/></g></g>
<g clip-path="url(#clipc)"><polyline points="251.5,1292.91 257.4,1285.69 263.31,1278.47 269.21,1271.26 275.12,1264.06 281.02,1256.87 286.92,1249.68 292.83,1242.49 298.73,1235.3 304.64,1228.12 310.54,1220.93 316.44,1213.75 322.35,1206.56 328.25,1199.36 334.16,1192.16 340.06,1184.96 345.96,1177.74 351.87,1170.51 357.77,1163.25 363.68,1155.98 369.58,1148.67 375.48,1141.34 381.39,1133.99 387.29,1126.61 393.2,1119.21 399.1,1111.81 405,1104.42 410.91,1097.03 416.81,1089.67 422.72,1082.35 428.62,1075.06 434.52,1067.83 440.43,1060.66 446.33,1053.56 452.24,1046.54 458.14,1039.62 464.04,1032.8 469.95,1026.09 475.85,1019.51 481.76,1013.08 487.66,1006.83 493.56,1000.81 499.47,995.01 505.37,989.4 511.28,983.94 517.18,978.56 523.08,973.19 528.99,967.78 534.89,962.26 540.8,956.59 546.7,950.79 552.6,944.9 558.51,939.03 564.41,933.28 570.32,927.72 576.22,922.4 582.12,917.33 588.03,912.49 593.93,907.87 599.84,903.44 605.74,899.2 611.64,895.11 617.55,891.14 623.45,887.27 629.36,883.46 635.26,879.7 641.16,875.99 647.07,872.32 652.97,868.73 658.88,865.26 664.78,861.96 670.68,858.88 676.59,856.1 682.49,853.64 688.4,851.52 694.3,849.71 700.2,848.15 706.11,846.77 712.01,845.49 717.92,844.26 723.82,843.03 729.72,841.79 735.63,840.57 741.53,839.39 747.44,838.27 753.34,837.21 759.24,836.2 765.15,835.25 771.05,834.36 776.96,833.53 782.86,832.77 788.76,832.08 794.67,831.44 800.57,830.87 806.48,830.35 812.38,829.88 818.28,829.45 824.19,829.06 830.09,828.69 836,828.32 841.9,827.93" fill="none" stroke="#b02d4a" stroke-width="3.0" stroke-linejoin="round"/><g fill="#d32e50" stroke="#b02d4a" stroke-width="1"><path d="M251.5 1287.31l4.85 2.8v5.6l-4.85 2.8l-4.85 -2.8v-5.6z"/><path d="M257.4 1280.09l4.85 2.8v5.6l-4.85 2.8l-4.85 -2.8v-5.6z"/><path d="M263.31 1272.87l4.85 2.8v5.6l-4.85 2.8l-4.85 -2.8v-5.6z"/><path d="M269.21 1265.66l4.85 2.8v5.6l-4.85 2.8l-4.85 -2.8v-5.6z"/><path d="M275.12 1258.46l4.85 2.8v5.6l-4.85 2.8l-4.85 -2.8v-5.6z"/><path d="M281.02 1251.27l4.85 2.8v5.6l-4.85 2.8l-4.85 -2.8v-5.6z"/><path d="M286.92 1244.08l4.85 2.8v5.6l-4.85 2.8l-4.85 -2.8v-5.6z"/><path d="M292.83 1236.89l4.85 2.8v5.6l-4.85 2.8l-4.85 -2.8v-5.6z"/><path d="M298.73 1229.7l4.85 2.8v5.6l-4.85 2.8l-4.85 -2.8v-5.6z"/><path d="M304.64 1222.52l4.85 2.8v5.6l-4.85 2.8l-4.85 -2.8v-5.6z"/><path d="M310.54 1215.33l4.85 2.8v5.6l-4.85 2.8l-4.85 -2.8v-5.6z"/><path d="M316.44 1208.15l4.85 2.8v5.6l-4.85 2.8l-4.85 -2.8v-5.6z"/><path d="M322.35 1200.96l4.85 2.8v5.6l-4.85 2.8l-4.85 -2.8v-5.6z"/><path d="M328.25 1193.76l4.85 2.8v5.6l-4.85 2.8l-4.85 -2.8v-5.6z"/><path d="M334.16 1186.56l4.85 2.8v5.6l-4.85 2.8l-4.85 -2.8v-5.6z"/><path d="M340.06 1179.36l4.85 2.8v5.6l-4.85 2.8l-4.85 -2.8v-5.6z"/><path d="M345.96 1172.14l4.85 2.8v5.6l-4.85 2.8l-4.85 -2.8v-5.6z"/><path d="M351.87 1164.91l4.85 2.8v5.6l-4.85 2.8l-4.85 -2.8v-5.6z"/><path d="M357.77 1157.65l4.85 2.8v5.6l-4.85 2.8l-4.85 -2.8v-5.6z"/><path d="M363.68 1150.38l4.85 2.8v5.6l-4.85 2.8l-4.85 -2.8v-5.6z"/><path d="M369.58 1143.07l4.85 2.8v5.6l-4.85 2.8l-4.85 -2.8v-5.6z"/><path d="M375.48 1135.74l4.85 2.8v5.6l-4.85 2.8l-4.85 -2.8v-5.6z"/><path d="M381.39 1128.39l4.85 2.8v5.6l-4.85 2.8l-4.85 -2.8v-5.6z"/><path d="M387.29 1121.01l4.85 2.8v5.6l-4.85 2.8l-4.85 -2.8v-5.6z"/><path d="M393.2 1113.61l4.85 2.8v5.6l-4.85 2.8l-4.85 -2.8v-5.6z"/><path d="M399.1 1106.21l4.85 2.8v5.6l-4.85 2.8l-4.85 -2.8v-5.6z"/><path d="M405 1098.82l4.85 2.8v5.6l-4.85 2.8l-4.85 -2.8v-5.6z"/><path d="M410.91 1091.43l4.85 2.8v5.6l-4.85 2.8l-4.85 -2.8v-5.6z"/><path d="M416.81 1084.07l4.85 2.8v5.6l-4.85 2.8l-4.85 -2.8v-5.6z"/><path d="M422.72 1076.75l4.85 2.8v5.6l-4.85 2.8l-4.85 -2.8v-5.6z"/><path d="M428.62 1069.46l4.85 2.8v5.6l-4.85 2.8l-4.85 -2.8v-5.6z"/><path d="M434.52 1062.23l4.85 2.8v5.6l-4.85 2.8l-4.85 -2.8v-5.6z"/><path d="M440.43 1055.06l4.85 2.8v5.6l-4.85 2.8l-4.85 -2.8v-5.6z"/><path d="M446.33 1047.96l4.85 2.8v5.6l-4.85 2.8l-4.85 -2.8v-5.6z"/><path d="M452.24 1040.94l4.85 2.8v5.6l-4.85 2.8l-4.85 -2.8v-5.6z"/><path d="M458.14 1034.02l4.85 2.8v5.6l-4.85 2.8l-4.85 -2.8v-5.6z"/><path d="M464.04 1027.2l4.85 2.8v5.6l-4.85 2.8l-4.85 -2.8v-5.6z"/><path d="M469.95 1020.49l4.85 2.8v5.6l-4.85 2.8l-4.85 -2.8v-5.6z"/><path d="M475.85 1013.91l4.85 2.8v5.6l-4.85 2.8l-4.85 -2.8v-5.6z"/><path d="M481.76 1007.48l4.85 2.8v5.6l-4.85 2.8l-4.85 -2.8v-5.6z"/><path d="M487.66 1001.23l4.85 2.8v5.6l-4.85 2.8l-4.85 -2.8v-5.6z"/><path d="M493.56 995.21l4.85 2.8v5.6l-4.85 2.8l-4.85 -2.8v-5.6z"/><path d="M499.47 989.41l4.85 2.8v5.6l-4.85 2.8l-4.85 -2.8v-5.6z"/><path d="M505.37 983.8l4.85 2.8v5.6l-4.85 2.8l-4.85 -2.8v-5.6z"/><path d="M511.28 978.34l4.85 2.8v5.6l-4.85 2.8l-4.85 -2.8v-5.6z"/><path d="M517.18 972.96l4.85 2.8v5.6l-4.85 2.8l-4.85 -2.8v-5.6z"/><path d="M523.08 967.59l4.85 2.8v5.6l-4.85 2.8l-4.85 -2.8v-5.6z"/><path d="M528.99 962.18l4.85 2.8v5.6l-4.85 2.8l-4.85 -2.8v-5.6z"/><path d="M534.89 956.66l4.85 2.8v5.6l-4.85 2.8l-4.85 -2.8v-5.6z"/><path d="M540.8 950.99l4.85 2.8v5.6l-4.85 2.8l-4.85 -2.8v-5.6z"/><path d="M546.7 945.19l4.85 2.8v5.6l-4.85 2.8l-4.85 -2.8v-5.6z"/><path d="M552.6 939.3l4.85 2.8v5.6l-4.85 2.8l-4.85 -2.8v-5.6z"/><path d="M558.51 933.43l4.85 2.8v5.6l-4.85 2.8l-4.85 -2.8v-5.6z"/><path d="M564.41 927.68l4.85 2.8v5.6l-4.85 2.8l-4.85 -2.8v-5.6z"/><path d="M570.32 922.12l4.85 2.8v5.6l-4.85 2.8l-4.85 -2.8v-5.6z"/><path d="M576.22 916.8l4.85 2.8v5.6l-4.85 2.8l-4.85 -2.8v-5.6z"/><path d="M582.12 911.73l4.85 2.8v5.6l-4.85 2.8l-4.85 -2.8v-5.6z"/><path d="M588.03 906.89l4.85 2.8v5.6l-4.85 2.8l-4.85 -2.8v-5.6z"/><path d="M593.93 902.27l4.85 2.8v5.6l-4.85 2.8l-4.85 -2.8v-5.6z"/><path d="M599.84 897.84l4.85 2.8v5.6l-4.85 2.8l-4.85 -2.8v-5.6z"/><path d="M605.74 893.6l4.85 2.8v5.6l-4.85 2.8l-4.85 -2.8v-5.6z"/><path d="M611.64 889.51l4.85 2.8v5.6l-4.85 2.8l-4.85 -2.8v-5.6z"/><path d="M617.55 885.54l4.85 2.8v5.6l-4.85 2.8l-4.85 -2.8v-5.6z"/><path d="M623.45 881.67l4.85 2.8v5.6l-4.85 2.8l-4.85 -2.8v-5.6z"/><path d="M629.36 877.86l4.85 2.8v5.6l-4.85 2.8l-4.85 -2.8v-5.6z"/><path d="M635.26 874.1l4.85 2.8v5.6l-4.85 2.8l-4.85 -2.8v-5.6z"/><path d="M641.16 870.39l4.85 2.8v5.6l-4.85 2.8l-4.85 -2.8v-5.6z"/><path d="M647.07 866.72l4.85 2.8v5.6l-4.85 2.8l-4.85 -2.8v-5.6z"/><path d="M652.97 863.13l4.85 2.8v5.6l-4.85 2.8l-4.85 -2.8v-5.6z"/><path d="M658.88 859.66l4.85 2.8v5.6l-4.85 2.8l-4.85 -2.8v-5.6z"/><path d="M664.78 856.36l4.85 2.8v5.6l-4.85 2.8l-4.85 -2.8v-5.6z"/><path d="M670.68 853.28l4.85 2.8v5.6l-4.85 2.8l-4.85 -2.8v-5.6z"/><path d="M676.59 850.5l4.85 2.8v5.6l-4.85 2.8l-4.85 -2.8v-5.6z"/><path d="M682.49 848.04l4.85 2.8v5.6l-4.85 2.8l-4.85 -2.8v-5.6z"/><path d="M688.4 845.92l4.85 2.8v5.6l-4.85 2.8l-4.85 -2.8v-5.6z"/><path d="M694.3 844.11l4.85 2.8v5.6l-4.85 2.8l-4.85 -2.8v-5.6z"/><path d="M700.2 842.55l4.85 2.8v5.6l-4.85 2.8l-4.85 -2.8v-5.6z"/><path d="M706.11 841.17l4.85 2.8v5.6l-4.85 2.8l-4.85 -2.8v-5.6z"/><path d="M712.01 839.89l4.85 2.8v5.6l-4.85 2.8l-4.85 -2.8v-5.6z"/><path d="M717.92 838.66l4.85 2.8v5.6l-4.85 2.8l-4.85 -2.8v-5.6z"/><path d="M723.82 837.43l4.85 2.8v5.6l-4.85 2.8l-4.85 -2.8v-5.6z"/><path d="M729.72 836.19l4.85 2.8v5.6l-4.85 2.8l-4.85 -2.8v-5.6z"/><path d="M735.63 834.97l4.85 2.8v5.6l-4.85 2.8l-4.85 -2.8v-5.6z"/><path d="M741.53 833.79l4.85 2.8v5.6l-4.85 2.8l-4.85 -2.8v-5.6z"/><path d="M747.44 832.67l4.85 2.8v5.6l-4.85 2.8l-4.85 -2.8v-5.6z"/><path d="M753.34 831.61l4.85 2.8v5.6l-4.85 2.8l-4.85 -2.8v-5.6z"/><path d="M759.24 830.6l4.85 2.8v5.6l-4.85 2.8l-4.85 -2.8v-5.6z"/><path d="M765.15 829.65l4.85 2.8v5.6l-4.85 2.8l-4.85 -2.8v-5.6z"/><path d="M771.05 828.76l4.85 2.8v5.6l-4.85 2.8l-4.85 -2.8v-5.6z"/><path d="M776.96 827.93l4.85 2.8v5.6l-4.85 2.8l-4.85 -2.8v-5.6z"/><path d="M782.86 827.17l4.85 2.8v5.6l-4.85 2.8l-4.85 -2.8v-5.6z"/><path d="M788.76 826.48l4.85 2.8v5.6l-4.85 2.8l-4.85 -2.8v-5.6z"/><path d="M794.67 825.84l4.85 2.8v5.6l-4.85 2.8l-4.85 -2.8v-5.6z"/><path d="M800.57 825.27l4.85 2.8v5.6l-4.85 2.8l-4.85 -2.8v-5.6z"/><path d="M806.48 824.75l4.85 2.8v5.6l-4.85 2.8l-4.85 -2.8v-5.6z"/><path d="M812.38 824.28l4.85 2.8v5.6l-4.85 2.8l-4.85 -2.8v-5.6z"/><path d="M818.28 823.85l4.85 2.8v5.6l-4.85 2.8l-4.85 -2.8v-5.6z"/><path d="M824.19 823.46l4.85 2.8v5.6l-4.85 2.8l-4.85 -2.8v-5.6z"/><path d="M830.09 823.09l4.85 2.8v5.6l-4.85 2.8l-4.85 -2.8v-5.6z"/><path d="M836 822.72l4.85 2.8v5.6l-4.85 2.8l-4.85 -2.8v-5.6z"/><path d="M841.9 822.33l4.85 2.8v5.6l-4.85 2.8l-4.85 -2.8v-5.6z"/></g></g>
<g clip-path="url(#clipc)"><polyline points="251.5,1268.07 257.4,1260.85 263.31,1253.63 269.21,1246.43 275.12,1239.25 281.02,1232.08 286.92,1224.91 292.83,1217.76 298.73,1210.62 304.64,1203.48 310.54,1196.34 316.44,1189.21 322.35,1182.08 328.25,1174.94 334.16,1167.81 340.06,1160.67 345.96,1153.52 351.87,1146.36 357.77,1139.19 363.68,1132 369.58,1124.8 375.48,1117.59 381.39,1110.37 387.29,1103.15 393.2,1095.94 399.1,1088.73 405,1081.55 410.91,1074.4 416.81,1067.28 422.72,1060.21 428.62,1053.2 434.52,1046.25 440.43,1039.38 446.33,1032.58 452.24,1025.88 458.14,1019.27 464.04,1012.77 469.95,1006.39 475.85,1000.15 481.76,994.09 487.66,988.27 493.56,982.74 499.47,977.52 505.37,972.56 511.28,967.77 517.18,963.04 523.08,958.26 528.99,953.32 534.89,948.1 540.8,942.56 546.7,936.72 552.6,930.67 558.51,924.59 564.41,918.61 570.32,912.85 576.22,907.34 582.12,902.09 588.03,897.09 593.93,892.32 599.84,887.78 605.74,883.48 611.64,879.44 617.55,875.69 623.45,872.22 629.36,868.99 635.26,865.95 641.16,863.04 647.07,860.21 652.97,857.45 658.88,854.74 664.78,852.09 670.68,849.53 676.59,847.1 682.49,844.86 688.4,842.83 694.3,841.02 700.2,839.42 706.11,837.98 712.01,836.66 717.92,835.44 723.82,834.29 729.72,833.2 735.63,832.16 741.53,831.17 747.44,830.24 753.34,829.35 759.24,828.51 765.15,827.71 771.05,826.97 776.96,826.27 782.86,825.63 788.76,825.04 794.67,824.5 800.57,824 806.48,823.54 812.38,823.12 818.28,822.72 824.19,822.35 830.09,822 836,821.64 841.9,821.24" fill="none" stroke="#d95a45" stroke-width="3.0" stroke-linejoin="round"/><g fill="#f2623f" stroke="#d95a45" stroke-width="1"><path d="M251.5 1262.47l4.85 2.8v5.6l-4.85 2.8l-4.85 -2.8v-5.6z"/><path d="M257.4 1255.25l4.85 2.8v5.6l-4.85 2.8l-4.85 -2.8v-5.6z"/><path d="M263.31 1248.03l4.85 2.8v5.6l-4.85 2.8l-4.85 -2.8v-5.6z"/><path d="M269.21 1240.83l4.85 2.8v5.6l-4.85 2.8l-4.85 -2.8v-5.6z"/><path d="M275.12 1233.65l4.85 2.8v5.6l-4.85 2.8l-4.85 -2.8v-5.6z"/><path d="M281.02 1226.48l4.85 2.8v5.6l-4.85 2.8l-4.85 -2.8v-5.6z"/><path d="M286.92 1219.31l4.85 2.8v5.6l-4.85 2.8l-4.85 -2.8v-5.6z"/><path d="M292.83 1212.16l4.85 2.8v5.6l-4.85 2.8l-4.85 -2.8v-5.6z"/><path d="M298.73 1205.02l4.85 2.8v5.6l-4.85 2.8l-4.85 -2.8v-5.6z"/><path d="M304.64 1197.88l4.85 2.8v5.6l-4.85 2.8l-4.85 -2.8v-5.6z"/><path d="M310.54 1190.74l4.85 2.8v5.6l-4.85 2.8l-4.85 -2.8v-5.6z"/><path d="M316.44 1183.61l4.85 2.8v5.6l-4.85 2.8l-4.85 -2.8v-5.6z"/><path d="M322.35 1176.48l4.85 2.8v5.6l-4.85 2.8l-4.85 -2.8v-5.6z"/><path d="M328.25 1169.34l4.85 2.8v5.6l-4.85 2.8l-4.85 -2.8v-5.6z"/><path d="M334.16 1162.21l4.85 2.8v5.6l-4.85 2.8l-4.85 -2.8v-5.6z"/><path d="M340.06 1155.07l4.85 2.8v5.6l-4.85 2.8l-4.85 -2.8v-5.6z"/><path d="M345.96 1147.92l4.85 2.8v5.6l-4.85 2.8l-4.85 -2.8v-5.6z"/><path d="M351.87 1140.76l4.85 2.8v5.6l-4.85 2.8l-4.85 -2.8v-5.6z"/><path d="M357.77 1133.59l4.85 2.8v5.6l-4.85 2.8l-4.85 -2.8v-5.6z"/><path d="M363.68 1126.4l4.85 2.8v5.6l-4.85 2.8l-4.85 -2.8v-5.6z"/><path d="M369.58 1119.2l4.85 2.8v5.6l-4.85 2.8l-4.85 -2.8v-5.6z"/><path d="M375.48 1111.99l4.85 2.8v5.6l-4.85 2.8l-4.85 -2.8v-5.6z"/><path d="M381.39 1104.77l4.85 2.8v5.6l-4.85 2.8l-4.85 -2.8v-5.6z"/><path d="M387.29 1097.55l4.85 2.8v5.6l-4.85 2.8l-4.85 -2.8v-5.6z"/><path d="M393.2 1090.34l4.85 2.8v5.6l-4.85 2.8l-4.85 -2.8v-5.6z"/><path d="M399.1 1083.13l4.85 2.8v5.6l-4.85 2.8l-4.85 -2.8v-5.6z"/><path d="M405 1075.95l4.85 2.8v5.6l-4.85 2.8l-4.85 -2.8v-5.6z"/><path d="M410.91 1068.8l4.85 2.8v5.6l-4.85 2.8l-4.85 -2.8v-5.6z"/><path d="M416.81 1061.68l4.85 2.8v5.6l-4.85 2.8l-4.85 -2.8v-5.6z"/><path d="M422.72 1054.61l4.85 2.8v5.6l-4.85 2.8l-4.85 -2.8v-5.6z"/><path d="M428.62 1047.6l4.85 2.8v5.6l-4.85 2.8l-4.85 -2.8v-5.6z"/><path d="M434.52 1040.65l4.85 2.8v5.6l-4.85 2.8l-4.85 -2.8v-5.6z"/><path d="M440.43 1033.78l4.85 2.8v5.6l-4.85 2.8l-4.85 -2.8v-5.6z"/><path d="M446.33 1026.98l4.85 2.8v5.6l-4.85 2.8l-4.85 -2.8v-5.6z"/><path d="M452.24 1020.28l4.85 2.8v5.6l-4.85 2.8l-4.85 -2.8v-5.6z"/><path d="M458.14 1013.67l4.85 2.8v5.6l-4.85 2.8l-4.85 -2.8v-5.6z"/><path d="M464.04 1007.17l4.85 2.8v5.6l-4.85 2.8l-4.85 -2.8v-5.6z"/><path d="M469.95 1000.79l4.85 2.8v5.6l-4.85 2.8l-4.85 -2.8v-5.6z"/><path d="M475.85 994.55l4.85 2.8v5.6l-4.85 2.8l-4.85 -2.8v-5.6z"/><path d="M481.76 988.49l4.85 2.8v5.6l-4.85 2.8l-4.85 -2.8v-5.6z"/><path d="M487.66 982.67l4.85 2.8v5.6l-4.85 2.8l-4.85 -2.8v-5.6z"/><path d="M493.56 977.14l4.85 2.8v5.6l-4.85 2.8l-4.85 -2.8v-5.6z"/><path d="M499.47 971.92l4.85 2.8v5.6l-4.85 2.8l-4.85 -2.8v-5.6z"/><path d="M505.37 966.96l4.85 2.8v5.6l-4.85 2.8l-4.85 -2.8v-5.6z"/><path d="M511.28 962.17l4.85 2.8v5.6l-4.85 2.8l-4.85 -2.8v-5.6z"/><path d="M517.18 957.44l4.85 2.8v5.6l-4.85 2.8l-4.85 -2.8v-5.6z"/><path d="M523.08 952.66l4.85 2.8v5.6l-4.85 2.8l-4.85 -2.8v-5.6z"/><path d="M528.99 947.72l4.85 2.8v5.6l-4.85 2.8l-4.85 -2.8v-5.6z"/><path d="M534.89 942.5l4.85 2.8v5.6l-4.85 2.8l-4.85 -2.8v-5.6z"/><path d="M540.8 936.96l4.85 2.8v5.6l-4.85 2.8l-4.85 -2.8v-5.6z"/><path d="M546.7 931.12l4.85 2.8v5.6l-4.85 2.8l-4.85 -2.8v-5.6z"/><path d="M552.6 925.07l4.85 2.8v5.6l-4.85 2.8l-4.85 -2.8v-5.6z"/><path d="M558.51 918.99l4.85 2.8v5.6l-4.85 2.8l-4.85 -2.8v-5.6z"/><path d="M564.41 913.01l4.85 2.8v5.6l-4.85 2.8l-4.85 -2.8v-5.6z"/><path d="M570.32 907.25l4.85 2.8v5.6l-4.85 2.8l-4.85 -2.8v-5.6z"/><path d="M576.22 901.74l4.85 2.8v5.6l-4.85 2.8l-4.85 -2.8v-5.6z"/><path d="M582.12 896.49l4.85 2.8v5.6l-4.85 2.8l-4.85 -2.8v-5.6z"/><path d="M588.03 891.49l4.85 2.8v5.6l-4.85 2.8l-4.85 -2.8v-5.6z"/><path d="M593.93 886.72l4.85 2.8v5.6l-4.85 2.8l-4.85 -2.8v-5.6z"/><path d="M599.84 882.18l4.85 2.8v5.6l-4.85 2.8l-4.85 -2.8v-5.6z"/><path d="M605.74 877.88l4.85 2.8v5.6l-4.85 2.8l-4.85 -2.8v-5.6z"/><path d="M611.64 873.84l4.85 2.8v5.6l-4.85 2.8l-4.85 -2.8v-5.6z"/><path d="M617.55 870.09l4.85 2.8v5.6l-4.85 2.8l-4.85 -2.8v-5.6z"/><path d="M623.45 866.62l4.85 2.8v5.6l-4.85 2.8l-4.85 -2.8v-5.6z"/><path d="M629.36 863.39l4.85 2.8v5.6l-4.85 2.8l-4.85 -2.8v-5.6z"/><path d="M635.26 860.35l4.85 2.8v5.6l-4.85 2.8l-4.85 -2.8v-5.6z"/><path d="M641.16 857.44l4.85 2.8v5.6l-4.85 2.8l-4.85 -2.8v-5.6z"/><path d="M647.07 854.61l4.85 2.8v5.6l-4.85 2.8l-4.85 -2.8v-5.6z"/><path d="M652.97 851.85l4.85 2.8v5.6l-4.85 2.8l-4.85 -2.8v-5.6z"/><path d="M658.88 849.14l4.85 2.8v5.6l-4.85 2.8l-4.85 -2.8v-5.6z"/><path d="M664.78 846.49l4.85 2.8v5.6l-4.85 2.8l-4.85 -2.8v-5.6z"/><path d="M670.68 843.93l4.85 2.8v5.6l-4.85 2.8l-4.85 -2.8v-5.6z"/><path d="M676.59 841.5l4.85 2.8v5.6l-4.85 2.8l-4.85 -2.8v-5.6z"/><path d="M682.49 839.26l4.85 2.8v5.6l-4.85 2.8l-4.85 -2.8v-5.6z"/><path d="M688.4 837.23l4.85 2.8v5.6l-4.85 2.8l-4.85 -2.8v-5.6z"/><path d="M694.3 835.42l4.85 2.8v5.6l-4.85 2.8l-4.85 -2.8v-5.6z"/><path d="M700.2 833.82l4.85 2.8v5.6l-4.85 2.8l-4.85 -2.8v-5.6z"/><path d="M706.11 832.38l4.85 2.8v5.6l-4.85 2.8l-4.85 -2.8v-5.6z"/><path d="M712.01 831.06l4.85 2.8v5.6l-4.85 2.8l-4.85 -2.8v-5.6z"/><path d="M717.92 829.84l4.85 2.8v5.6l-4.85 2.8l-4.85 -2.8v-5.6z"/><path d="M723.82 828.69l4.85 2.8v5.6l-4.85 2.8l-4.85 -2.8v-5.6z"/><path d="M729.72 827.6l4.85 2.8v5.6l-4.85 2.8l-4.85 -2.8v-5.6z"/><path d="M735.63 826.56l4.85 2.8v5.6l-4.85 2.8l-4.85 -2.8v-5.6z"/><path d="M741.53 825.57l4.85 2.8v5.6l-4.85 2.8l-4.85 -2.8v-5.6z"/><path d="M747.44 824.64l4.85 2.8v5.6l-4.85 2.8l-4.85 -2.8v-5.6z"/><path d="M753.34 823.75l4.85 2.8v5.6l-4.85 2.8l-4.85 -2.8v-5.6z"/><path d="M759.24 822.91l4.85 2.8v5.6l-4.85 2.8l-4.85 -2.8v-5.6z"/><path d="M765.15 822.11l4.85 2.8v5.6l-4.85 2.8l-4.85 -2.8v-5.6z"/><path d="M771.05 821.37l4.85 2.8v5.6l-4.85 2.8l-4.85 -2.8v-5.6z"/><path d="M776.96 820.67l4.85 2.8v5.6l-4.85 2.8l-4.85 -2.8v-5.6z"/><path d="M782.86 820.03l4.85 2.8v5.6l-4.85 2.8l-4.85 -2.8v-5.6z"/><path d="M788.76 819.44l4.85 2.8v5.6l-4.85 2.8l-4.85 -2.8v-5.6z"/><path d="M794.67 818.9l4.85 2.8v5.6l-4.85 2.8l-4.85 -2.8v-5.6z"/><path d="M800.57 818.4l4.85 2.8v5.6l-4.85 2.8l-4.85 -2.8v-5.6z"/><path d="M806.48 817.94l4.85 2.8v5.6l-4.85 2.8l-4.85 -2.8v-5.6z"/><path d="M812.38 817.52l4.85 2.8v5.6l-4.85 2.8l-4.85 -2.8v-5.6z"/><path d="M818.28 817.12l4.85 2.8v5.6l-4.85 2.8l-4.85 -2.8v-5.6z"/><path d="M824.19 816.75l4.85 2.8v5.6l-4.85 2.8l-4.85 -2.8v-5.6z"/><path d="M830.09 816.4l4.85 2.8v5.6l-4.85 2.8l-4.85 -2.8v-5.6z"/><path d="M836 816.04l4.85 2.8v5.6l-4.85 2.8l-4.85 -2.8v-5.6z"/><path d="M841.9 815.64l4.85 2.8v5.6l-4.85 2.8l-4.85 -2.8v-5.6z"/></g></g>
<g clip-path="url(#clipc)"><polyline points="251.5,1244.6 257.4,1237.36 263.31,1230.12 269.21,1222.87 275.12,1215.63 281.02,1208.38 286.92,1201.13 292.83,1193.88 298.73,1186.62 304.64,1179.36 310.54,1172.1 316.44,1164.83 322.35,1157.56 328.25,1150.28 334.16,1143 340.06,1135.7 345.96,1128.41 351.87,1121.1 357.77,1113.79 363.68,1106.5 369.58,1099.24 375.48,1092.04 381.39,1084.91 387.29,1077.85 393.2,1070.86 399.1,1063.94 405,1057.09 410.91,1050.32 416.81,1043.62 422.72,1037 428.62,1030.46 434.52,1023.99 440.43,1017.62 446.33,1011.32 452.24,1005.11 458.14,998.99 464.04,992.96 469.95,987.02 475.85,981.18 481.76,975.47 487.66,969.95 493.56,964.65 499.47,959.59 505.37,954.75 511.28,950.04 517.18,945.4 523.08,940.74 528.99,935.97 534.89,931.01 540.8,925.82 546.7,920.4 552.6,914.8 558.51,909.15 564.41,903.56 570.32,898.15 576.22,892.96 582.12,888.02 588.03,883.34 593.93,878.92 599.84,874.76 605.74,870.88 611.64,867.26 617.55,863.92 623.45,860.81 629.36,857.89 635.26,855.12 641.16,852.43 647.07,849.82 652.97,847.25 658.88,844.75 664.78,842.32 670.68,840 676.59,837.83 682.49,835.85 688.4,834.1 694.3,832.56 700.2,831.22 706.11,830.03 712.01,828.95 717.92,827.94 723.82,826.97 729.72,826.04 735.63,825.13 741.53,824.26 747.44,823.43 753.34,822.65 759.24,821.91 765.15,821.23 771.05,820.61 776.96,820.05 782.86,819.54 788.76,819.09 794.67,818.7 800.57,818.35 806.48,818.04 812.38,817.78 818.28,817.54 824.19,817.34 830.09,817.15 836,816.94 841.9,816.65" fill="none" stroke="#ec9553" stroke-width="3.0" stroke-linejoin="round"/><g fill="#f8994f" stroke="#ec9553" stroke-width="1"><path d="M251.5 1239l4.85 2.8v5.6l-4.85 2.8l-4.85 -2.8v-5.6z"/><path d="M257.4 1231.76l4.85 2.8v5.6l-4.85 2.8l-4.85 -2.8v-5.6z"/><path d="M263.31 1224.52l4.85 2.8v5.6l-4.85 2.8l-4.85 -2.8v-5.6z"/><path d="M269.21 1217.27l4.85 2.8v5.6l-4.85 2.8l-4.85 -2.8v-5.6z"/><path d="M275.12 1210.03l4.85 2.8v5.6l-4.85 2.8l-4.85 -2.8v-5.6z"/><path d="M281.02 1202.78l4.85 2.8v5.6l-4.85 2.8l-4.85 -2.8v-5.6z"/><path d="M286.92 1195.53l4.85 2.8v5.6l-4.85 2.8l-4.85 -2.8v-5.6z"/><path d="M292.83 1188.28l4.85 2.8v5.6l-4.85 2.8l-4.85 -2.8v-5.6z"/><path d="M298.73 1181.02l4.85 2.8v5.6l-4.85 2.8l-4.85 -2.8v-5.6z"/><path d="M304.64 1173.76l4.85 2.8v5.6l-4.85 2.8l-4.85 -2.8v-5.6z"/><path d="M310.54 1166.5l4.85 2.8v5.6l-4.85 2.8l-4.85 -2.8v-5.6z"/><path d="M316.44 1159.23l4.85 2.8v5.6l-4.85 2.8l-4.85 -2.8v-5.6z"/><path d="M322.35 1151.96l4.85 2.8v5.6l-4.85 2.8l-4.85 -2.8v-5.6z"/><path d="M328.25 1144.68l4.85 2.8v5.6l-4.85 2.8l-4.85 -2.8v-5.6z"/><path d="M334.16 1137.4l4.85 2.8v5.6l-4.85 2.8l-4.85 -2.8v-5.6z"/><path d="M340.06 1130.1l4.85 2.8v5.6l-4.85 2.8l-4.85 -2.8v-5.6z"/><path d="M345.96 1122.81l4.85 2.8v5.6l-4.85 2.8l-4.85 -2.8v-5.6z"/><path d="M351.87 1115.5l4.85 2.8v5.6l-4.85 2.8l-4.85 -2.8v-5.6z"/><path d="M357.77 1108.19l4.85 2.8v5.6l-4.85 2.8l-4.85 -2.8v-5.6z"/><path d="M363.68 1100.9l4.85 2.8v5.6l-4.85 2.8l-4.85 -2.8v-5.6z"/><path d="M369.58 1093.64l4.85 2.8v5.6l-4.85 2.8l-4.85 -2.8v-5.6z"/><path d="M375.48 1086.44l4.85 2.8v5.6l-4.85 2.8l-4.85 -2.8v-5.6z"/><path d="M381.39 1079.31l4.85 2.8v5.6l-4.85 2.8l-4.85 -2.8v-5.6z"/><path d="M387.29 1072.25l4.85 2.8v5.6l-4.85 2.8l-4.85 -2.8v-5.6z"/><path d="M393.2 1065.26l4.85 2.8v5.6l-4.85 2.8l-4.85 -2.8v-5.6z"/><path d="M399.1 1058.34l4.85 2.8v5.6l-4.85 2.8l-4.85 -2.8v-5.6z"/><path d="M405 1051.49l4.85 2.8v5.6l-4.85 2.8l-4.85 -2.8v-5.6z"/><path d="M410.91 1044.72l4.85 2.8v5.6l-4.85 2.8l-4.85 -2.8v-5.6z"/><path d="M416.81 1038.02l4.85 2.8v5.6l-4.85 2.8l-4.85 -2.8v-5.6z"/><path d="M422.72 1031.4l4.85 2.8v5.6l-4.85 2.8l-4.85 -2.8v-5.6z"/><path d="M428.62 1024.86l4.85 2.8v5.6l-4.85 2.8l-4.85 -2.8v-5.6z"/><path d="M434.52 1018.39l4.85 2.8v5.6l-4.85 2.8l-4.85 -2.8v-5.6z"/><path d="M440.43 1012.02l4.85 2.8v5.6l-4.85 2.8l-4.85 -2.8v-5.6z"/><path d="M446.33 1005.72l4.85 2.8v5.6l-4.85 2.8l-4.85 -2.8v-5.6z"/><path d="M452.24 999.51l4.85 2.8v5.6l-4.85 2.8l-4.85 -2.8v-5.6z"/><path d="M458.14 993.39l4.85 2.8v5.6l-4.85 2.8l-4.85 -2.8v-5.6z"/><path d="M464.04 987.36l4.85 2.8v5.6l-4.85 2.8l-4.85 -2.8v-5.6z"/><path d="M469.95 981.42l4.85 2.8v5.6l-4.85 2.8l-4.85 -2.8v-5.6z"/><path d="M475.85 975.58l4.85 2.8v5.6l-4.85 2.8l-4.85 -2.8v-5.6z"/><path d="M481.76 969.87l4.85 2.8v5.6l-4.85 2.8l-4.85 -2.8v-5.6z"/><path d="M487.66 964.35l4.85 2.8v5.6l-4.85 2.8l-4.85 -2.8v-5.6z"/><path d="M493.56 959.05l4.85 2.8v5.6l-4.85 2.8l-4.85 -2.8v-5.6z"/><path d="M499.47 953.99l4.85 2.8v5.6l-4.85 2.8l-4.85 -2.8v-5.6z"/><path d="M505.37 949.15l4.85 2.8v5.6l-4.85 2.8l-4.85 -2.8v-5.6z"/><path d="M511.28 944.44l4.85 2.8v5.6l-4.85 2.8l-4.85 -2.8v-5.6z"/><path d="M517.18 939.8l4.85 2.8v5.6l-4.85 2.8l-4.85 -2.8v-5.6z"/><path d="M523.08 935.14l4.85 2.8v5.6l-4.85 2.8l-4.85 -2.8v-5.6z"/><path d="M528.99 930.37l4.85 2.8v5.6l-4.85 2.8l-4.85 -2.8v-5.6z"/><path d="M534.89 925.41l4.85 2.8v5.6l-4.85 2.8l-4.85 -2.8v-5.6z"/><path d="M540.8 920.22l4.85 2.8v5.6l-4.85 2.8l-4.85 -2.8v-5.6z"/><path d="M546.7 914.8l4.85 2.8v5.6l-4.85 2.8l-4.85 -2.8v-5.6z"/><path d="M552.6 909.2l4.85 2.8v5.6l-4.85 2.8l-4.85 -2.8v-5.6z"/><path d="M558.51 903.55l4.85 2.8v5.6l-4.85 2.8l-4.85 -2.8v-5.6z"/><path d="M564.41 897.96l4.85 2.8v5.6l-4.85 2.8l-4.85 -2.8v-5.6z"/><path d="M570.32 892.55l4.85 2.8v5.6l-4.85 2.8l-4.85 -2.8v-5.6z"/><path d="M576.22 887.36l4.85 2.8v5.6l-4.85 2.8l-4.85 -2.8v-5.6z"/><path d="M582.12 882.42l4.85 2.8v5.6l-4.85 2.8l-4.85 -2.8v-5.6z"/><path d="M588.03 877.74l4.85 2.8v5.6l-4.85 2.8l-4.85 -2.8v-5.6z"/><path d="M593.93 873.32l4.85 2.8v5.6l-4.85 2.8l-4.85 -2.8v-5.6z"/><path d="M599.84 869.16l4.85 2.8v5.6l-4.85 2.8l-4.85 -2.8v-5.6z"/><path d="M605.74 865.28l4.85 2.8v5.6l-4.85 2.8l-4.85 -2.8v-5.6z"/><path d="M611.64 861.66l4.85 2.8v5.6l-4.85 2.8l-4.85 -2.8v-5.6z"/><path d="M617.55 858.32l4.85 2.8v5.6l-4.85 2.8l-4.85 -2.8v-5.6z"/><path d="M623.45 855.21l4.85 2.8v5.6l-4.85 2.8l-4.85 -2.8v-5.6z"/><path d="M629.36 852.29l4.85 2.8v5.6l-4.85 2.8l-4.85 -2.8v-5.6z"/><path d="M635.26 849.52l4.85 2.8v5.6l-4.85 2.8l-4.85 -2.8v-5.6z"/><path d="M641.16 846.83l4.85 2.8v5.6l-4.85 2.8l-4.85 -2.8v-5.6z"/><path d="M647.07 844.22l4.85 2.8v5.6l-4.85 2.8l-4.85 -2.8v-5.6z"/><path d="M652.97 841.65l4.85 2.8v5.6l-4.85 2.8l-4.85 -2.8v-5.6z"/><path d="M658.88 839.15l4.85 2.8v5.6l-4.85 2.8l-4.85 -2.8v-5.6z"/><path d="M664.78 836.72l4.85 2.8v5.6l-4.85 2.8l-4.85 -2.8v-5.6z"/><path d="M670.68 834.4l4.85 2.8v5.6l-4.85 2.8l-4.85 -2.8v-5.6z"/><path d="M676.59 832.23l4.85 2.8v5.6l-4.85 2.8l-4.85 -2.8v-5.6z"/><path d="M682.49 830.25l4.85 2.8v5.6l-4.85 2.8l-4.85 -2.8v-5.6z"/><path d="M688.4 828.5l4.85 2.8v5.6l-4.85 2.8l-4.85 -2.8v-5.6z"/><path d="M694.3 826.96l4.85 2.8v5.6l-4.85 2.8l-4.85 -2.8v-5.6z"/><path d="M700.2 825.62l4.85 2.8v5.6l-4.85 2.8l-4.85 -2.8v-5.6z"/><path d="M706.11 824.43l4.85 2.8v5.6l-4.85 2.8l-4.85 -2.8v-5.6z"/><path d="M712.01 823.35l4.85 2.8v5.6l-4.85 2.8l-4.85 -2.8v-5.6z"/><path d="M717.92 822.34l4.85 2.8v5.6l-4.85 2.8l-4.85 -2.8v-5.6z"/><path d="M723.82 821.37l4.85 2.8v5.6l-4.85 2.8l-4.85 -2.8v-5.6z"/><path d="M729.72 820.44l4.85 2.8v5.6l-4.85 2.8l-4.85 -2.8v-5.6z"/><path d="M735.63 819.53l4.85 2.8v5.6l-4.85 2.8l-4.85 -2.8v-5.6z"/><path d="M741.53 818.66l4.85 2.8v5.6l-4.85 2.8l-4.85 -2.8v-5.6z"/><path d="M747.44 817.83l4.85 2.8v5.6l-4.85 2.8l-4.85 -2.8v-5.6z"/><path d="M753.34 817.05l4.85 2.8v5.6l-4.85 2.8l-4.85 -2.8v-5.6z"/><path d="M759.24 816.31l4.85 2.8v5.6l-4.85 2.8l-4.85 -2.8v-5.6z"/><path d="M765.15 815.63l4.85 2.8v5.6l-4.85 2.8l-4.85 -2.8v-5.6z"/><path d="M771.05 815.01l4.85 2.8v5.6l-4.85 2.8l-4.85 -2.8v-5.6z"/><path d="M776.96 814.45l4.85 2.8v5.6l-4.85 2.8l-4.85 -2.8v-5.6z"/><path d="M782.86 813.94l4.85 2.8v5.6l-4.85 2.8l-4.85 -2.8v-5.6z"/><path d="M788.76 813.49l4.85 2.8v5.6l-4.85 2.8l-4.85 -2.8v-5.6z"/><path d="M794.67 813.1l4.85 2.8v5.6l-4.85 2.8l-4.85 -2.8v-5.6z"/><path d="M800.57 812.75l4.85 2.8v5.6l-4.85 2.8l-4.85 -2.8v-5.6z"/><path d="M806.48 812.44l4.85 2.8v5.6l-4.85 2.8l-4.85 -2.8v-5.6z"/><path d="M812.38 812.18l4.85 2.8v5.6l-4.85 2.8l-4.85 -2.8v-5.6z"/><path d="M818.28 811.94l4.85 2.8v5.6l-4.85 2.8l-4.85 -2.8v-5.6z"/><path d="M824.19 811.74l4.85 2.8v5.6l-4.85 2.8l-4.85 -2.8v-5.6z"/><path d="M830.09 811.55l4.85 2.8v5.6l-4.85 2.8l-4.85 -2.8v-5.6z"/><path d="M836 811.34l4.85 2.8v5.6l-4.85 2.8l-4.85 -2.8v-5.6z"/><path d="M841.9 811.05l4.85 2.8v5.6l-4.85 2.8l-4.85 -2.8v-5.6z"/></g></g>
<g clip-path="url(#clipd)"><polyline points="1243.8,1362.6 1249.7,1362.6 1255.61,1362.6 1261.51,1362.6 1267.42,1362.6 1273.32,1362.6 1279.22,1362.6 1285.13,1362.6 1291.03,1362.6 1296.94,1362.6 1302.84,1362.6 1308.74,1362.6 1314.65,1362.6 1320.55,1362.6 1326.46,1362.6 1332.36,1362.6 1338.26,1362.6 1344.17,1362.6 1350.07,1362.6 1355.98,1362.6 1361.88,1362.6 1367.78,1362.6 1373.69,1362.6 1379.59,1362.6 1385.5,1362.59 1391.4,1362.59 1397.3,1362.59 1403.21,1362.59 1409.11,1362.59 1415.02,1362.58 1420.92,1362.58 1426.82,1362.57 1432.73,1362.56 1438.63,1362.55 1444.54,1362.53 1450.44,1362.51 1456.34,1362.49 1462.25,1362.46 1468.15,1362.42 1474.06,1362.37 1479.96,1362.31 1485.86,1362.24 1491.77,1362.15 1497.67,1362.04 1503.58,1361.9 1509.48,1361.73 1515.38,1361.52 1521.29,1361.26 1527.19,1360.94 1533.1,1360.54 1539,1360.05 1544.9,1359.45 1550.81,1358.71 1556.71,1357.82 1562.62,1356.8 1568.52,1355.62 1574.42,1354.28 1580.33,1352.77 1586.23,1351.06 1592.14,1349.15 1598.04,1347.01 1603.94,1344.63 1609.85,1341.97 1615.75,1339.02 1621.66,1335.7 1627.56,1331.95 1633.46,1327.7 1639.37,1322.88 1645.27,1317.46 1651.18,1311.45 1657.08,1304.88 1662.98,1297.81 1668.89,1290.27 1674.79,1282.38 1680.7,1274.31 1686.6,1266.28 1692.5,1258.38 1698.41,1250.62 1704.31,1243.01 1710.22,1235.58 1716.12,1228.38 1722.02,1221.49 1727.93,1214.9 1733.83,1208.6 1739.74,1202.47 1745.64,1196.41 1751.54,1190.34 1757.45,1184.24 1763.35,1178.14 1769.26,1172.12 1775.16,1166.26 1781.06,1160.58 1786.97,1155.11 1792.87,1149.81 1798.78,1144.65 1804.68,1139.59 1810.58,1134.63 1816.49,1129.76 1822.39,1124.98 1828.3,1120.31 1834.2,1115.72" fill="none" stroke="#2a0414" stroke-width="3.0" stroke-linejoin="round"/><g fill="#450b24" stroke="#2a0414" stroke-width="1"><path d="M1243.8 1357l4.85 2.8v5.6l-4.85 2.8l-4.85 -2.8v-5.6z"/><path d="M1249.7 1357l4.85 2.8v5.6l-4.85 2.8l-4.85 -2.8v-5.6z"/><path d="M1255.61 1357l4.85 2.8v5.6l-4.85 2.8l-4.85 -2.8v-5.6z"/><path d="M1261.51 1357l4.85 2.8v5.6l-4.85 2.8l-4.85 -2.8v-5.6z"/><path d="M1267.42 1357l4.85 2.8v5.6l-4.85 2.8l-4.85 -2.8v-5.6z"/><path d="M1273.32 1357l4.85 2.8v5.6l-4.85 2.8l-4.85 -2.8v-5.6z"/><path d="M1279.22 1357l4.85 2.8v5.6l-4.85 2.8l-4.85 -2.8v-5.6z"/><path d="M1285.13 1357l4.85 2.8v5.6l-4.85 2.8l-4.85 -2.8v-5.6z"/><path d="M1291.03 1357l4.85 2.8v5.6l-4.85 2.8l-4.85 -2.8v-5.6z"/><path d="M1296.94 1357l4.85 2.8v5.6l-4.85 2.8l-4.85 -2.8v-5.6z"/><path d="M1302.84 1357l4.85 2.8v5.6l-4.85 2.8l-4.85 -2.8v-5.6z"/><path d="M1308.74 1357l4.85 2.8v5.6l-4.85 2.8l-4.85 -2.8v-5.6z"/><path d="M1314.65 1357l4.85 2.8v5.6l-4.85 2.8l-4.85 -2.8v-5.6z"/><path d="M1320.55 1357l4.85 2.8v5.6l-4.85 2.8l-4.85 -2.8v-5.6z"/><path d="M1326.46 1357l4.85 2.8v5.6l-4.85 2.8l-4.85 -2.8v-5.6z"/><path d="M1332.36 1357l4.85 2.8v5.6l-4.85 2.8l-4.85 -2.8v-5.6z"/><path d="M1338.26 1357l4.85 2.8v5.6l-4.85 2.8l-4.85 -2.8v-5.6z"/><path d="M1344.17 1357l4.85 2.8v5.6l-4.85 2.8l-4.85 -2.8v-5.6z"/><path d="M1350.07 1357l4.85 2.8v5.6l-4.85 2.8l-4.85 -2.8v-5.6z"/><path d="M1355.98 1357l4.85 2.8v5.6l-4.85 2.8l-4.85 -2.8v-5.6z"/><path d="M1361.88 1357l4.85 2.8v5.6l-4.85 2.8l-4.85 -2.8v-5.6z"/><path d="M1367.78 1357l4.85 2.8v5.6l-4.85 2.8l-4.85 -2.8v-5.6z"/><path d="M1373.69 1357l4.85 2.8v5.6l-4.85 2.8l-4.85 -2.8v-5.6z"/><path d="M1379.59 1357l4.85 2.8v5.6l-4.85 2.8l-4.85 -2.8v-5.6z"/><path d="M1385.5 1356.99l4.85 2.8v5.6l-4.85 2.8l-4.85 -2.8v-5.6z"/><path d="M1391.4 1356.99l4.85 2.8v5.6l-4.85 2.8l-4.85 -2.8v-5.6z"/><path d="M1397.3 1356.99l4.85 2.8v5.6l-4.85 2.8l-4.85 -2.8v-5.6z"/><path d="M1403.21 1356.99l4.85 2.8v5.6l-4.85 2.8l-4.85 -2.8v-5.6z"/><path d="M1409.11 1356.99l4.85 2.8v5.6l-4.85 2.8l-4.85 -2.8v-5.6z"/><path d="M1415.02 1356.98l4.85 2.8v5.6l-4.85 2.8l-4.85 -2.8v-5.6z"/><path d="M1420.92 1356.98l4.85 2.8v5.6l-4.85 2.8l-4.85 -2.8v-5.6z"/><path d="M1426.82 1356.97l4.85 2.8v5.6l-4.85 2.8l-4.85 -2.8v-5.6z"/><path d="M1432.73 1356.96l4.85 2.8v5.6l-4.85 2.8l-4.85 -2.8v-5.6z"/><path d="M1438.63 1356.95l4.85 2.8v5.6l-4.85 2.8l-4.85 -2.8v-5.6z"/><path d="M1444.54 1356.93l4.85 2.8v5.6l-4.85 2.8l-4.85 -2.8v-5.6z"/><path d="M1450.44 1356.91l4.85 2.8v5.6l-4.85 2.8l-4.85 -2.8v-5.6z"/><path d="M1456.34 1356.89l4.85 2.8v5.6l-4.85 2.8l-4.85 -2.8v-5.6z"/><path d="M1462.25 1356.86l4.85 2.8v5.6l-4.85 2.8l-4.85 -2.8v-5.6z"/><path d="M1468.15 1356.82l4.85 2.8v5.6l-4.85 2.8l-4.85 -2.8v-5.6z"/><path d="M1474.06 1356.77l4.85 2.8v5.6l-4.85 2.8l-4.85 -2.8v-5.6z"/><path d="M1479.96 1356.71l4.85 2.8v5.6l-4.85 2.8l-4.85 -2.8v-5.6z"/><path d="M1485.86 1356.64l4.85 2.8v5.6l-4.85 2.8l-4.85 -2.8v-5.6z"/><path d="M1491.77 1356.55l4.85 2.8v5.6l-4.85 2.8l-4.85 -2.8v-5.6z"/><path d="M1497.67 1356.44l4.85 2.8v5.6l-4.85 2.8l-4.85 -2.8v-5.6z"/><path d="M1503.58 1356.3l4.85 2.8v5.6l-4.85 2.8l-4.85 -2.8v-5.6z"/><path d="M1509.48 1356.13l4.85 2.8v5.6l-4.85 2.8l-4.85 -2.8v-5.6z"/><path d="M1515.38 1355.92l4.85 2.8v5.6l-4.85 2.8l-4.85 -2.8v-5.6z"/><path d="M1521.29 1355.66l4.85 2.8v5.6l-4.85 2.8l-4.85 -2.8v-5.6z"/><path d="M1527.19 1355.34l4.85 2.8v5.6l-4.85 2.8l-4.85 -2.8v-5.6z"/><path d="M1533.1 1354.94l4.85 2.8v5.6l-4.85 2.8l-4.85 -2.8v-5.6z"/><path d="M1539 1354.45l4.85 2.8v5.6l-4.85 2.8l-4.85 -2.8v-5.6z"/><path d="M1544.9 1353.85l4.85 2.8v5.6l-4.85 2.8l-4.85 -2.8v-5.6z"/><path d="M1550.81 1353.11l4.85 2.8v5.6l-4.85 2.8l-4.85 -2.8v-5.6z"/><path d="M1556.71 1352.22l4.85 2.8v5.6l-4.85 2.8l-4.85 -2.8v-5.6z"/><path d="M1562.62 1351.2l4.85 2.8v5.6l-4.85 2.8l-4.85 -2.8v-5.6z"/><path d="M1568.52 1350.02l4.85 2.8v5.6l-4.85 2.8l-4.85 -2.8v-5.6z"/><path d="M1574.42 1348.68l4.85 2.8v5.6l-4.85 2.8l-4.85 -2.8v-5.6z"/><path d="M1580.33 1347.17l4.85 2.8v5.6l-4.85 2.8l-4.85 -2.8v-5.6z"/><path d="M1586.23 1345.46l4.85 2.8v5.6l-4.85 2.8l-4.85 -2.8v-5.6z"/><path d="M1592.14 1343.55l4.85 2.8v5.6l-4.85 2.8l-4.85 -2.8v-5.6z"/><path d="M1598.04 1341.41l4.85 2.8v5.6l-4.85 2.8l-4.85 -2.8v-5.6z"/><path d="M1603.94 1339.03l4.85 2.8v5.6l-4.85 2.8l-4.85 -2.8v-5.6z"/><path d="M1609.85 1336.37l4.85 2.8v5.6l-4.85 2.8l-4.85 -2.8v-5.6z"/><path d="M1615.75 1333.42l4.85 2.8v5.6l-4.85 2.8l-4.85 -2.8v-5.6z"/><path d="M1621.66 1330.1l4.85 2.8v5.6l-4.85 2.8l-4.85 -2.8v-5.6z"/><path d="M1627.56 1326.35l4.85 2.8v5.6l-4.85 2.8l-4.85 -2.8v-5.6z"/><path d="M1633.46 1322.1l4.85 2.8v5.6l-4.85 2.8l-4.85 -2.8v-5.6z"/><path d="M1639.37 1317.28l4.85 2.8v5.6l-4.85 2.8l-4.85 -2.8v-5.6z"/><path d="M1645.27 1311.86l4.85 2.8v5.6l-4.85 2.8l-4.85 -2.8v-5.6z"/><path d="M1651.18 1305.85l4.85 2.8v5.6l-4.85 2.8l-4.85 -2.8v-5.6z"/><path d="M1657.08 1299.28l4.85 2.8v5.6l-4.85 2.8l-4.85 -2.8v-5.6z"/><path d="M1662.98 1292.21l4.85 2.8v5.6l-4.85 2.8l-4.85 -2.8v-5.6z"/><path d="M1668.89 1284.67l4.85 2.8v5.6l-4.85 2.8l-4.85 -2.8v-5.6z"/><path d="M1674.79 1276.78l4.85 2.8v5.6l-4.85 2.8l-4.85 -2.8v-5.6z"/><path d="M1680.7 1268.71l4.85 2.8v5.6l-4.85 2.8l-4.85 -2.8v-5.6z"/><path d="M1686.6 1260.68l4.85 2.8v5.6l-4.85 2.8l-4.85 -2.8v-5.6z"/><path d="M1692.5 1252.78l4.85 2.8v5.6l-4.85 2.8l-4.85 -2.8v-5.6z"/><path d="M1698.41 1245.02l4.85 2.8v5.6l-4.85 2.8l-4.85 -2.8v-5.6z"/><path d="M1704.31 1237.41l4.85 2.8v5.6l-4.85 2.8l-4.85 -2.8v-5.6z"/><path d="M1710.22 1229.98l4.85 2.8v5.6l-4.85 2.8l-4.85 -2.8v-5.6z"/><path d="M1716.12 1222.78l4.85 2.8v5.6l-4.85 2.8l-4.85 -2.8v-5.6z"/><path d="M1722.02 1215.89l4.85 2.8v5.6l-4.85 2.8l-4.85 -2.8v-5.6z"/><path d="M1727.93 1209.3l4.85 2.8v5.6l-4.85 2.8l-4.85 -2.8v-5.6z"/><path d="M1733.83 1203l4.85 2.8v5.6l-4.85 2.8l-4.85 -2.8v-5.6z"/><path d="M1739.74 1196.87l4.85 2.8v5.6l-4.85 2.8l-4.85 -2.8v-5.6z"/><path d="M1745.64 1190.81l4.85 2.8v5.6l-4.85 2.8l-4.85 -2.8v-5.6z"/><path d="M1751.54 1184.74l4.85 2.8v5.6l-4.85 2.8l-4.85 -2.8v-5.6z"/><path d="M1757.45 1178.64l4.85 2.8v5.6l-4.85 2.8l-4.85 -2.8v-5.6z"/><path d="M1763.35 1172.54l4.85 2.8v5.6l-4.85 2.8l-4.85 -2.8v-5.6z"/><path d="M1769.26 1166.52l4.85 2.8v5.6l-4.85 2.8l-4.85 -2.8v-5.6z"/><path d="M1775.16 1160.66l4.85 2.8v5.6l-4.85 2.8l-4.85 -2.8v-5.6z"/><path d="M1781.06 1154.98l4.85 2.8v5.6l-4.85 2.8l-4.85 -2.8v-5.6z"/><path d="M1786.97 1149.51l4.85 2.8v5.6l-4.85 2.8l-4.85 -2.8v-5.6z"/><path d="M1792.87 1144.21l4.85 2.8v5.6l-4.85 2.8l-4.85 -2.8v-5.6z"/><path d="M1798.78 1139.05l4.85 2.8v5.6l-4.85 2.8l-4.85 -2.8v-5.6z"/><path d="M1804.68 1133.99l4.85 2.8v5.6l-4.85 2.8l-4.85 -2.8v-5.6z"/><path d="M1810.58 1129.03l4.85 2.8v5.6l-4.85 2.8l-4.85 -2.8v-5.6z"/><path d="M1816.49 1124.16l4.85 2.8v5.6l-4.85 2.8l-4.85 -2.8v-5.6z"/><path d="M1822.39 1119.38l4.85 2.8v5.6l-4.85 2.8l-4.85 -2.8v-5.6z"/><path d="M1828.3 1114.71l4.85 2.8v5.6l-4.85 2.8l-4.85 -2.8v-5.6z"/><path d="M1834.2 1110.12l4.85 2.8v5.6l-4.85 2.8l-4.85 -2.8v-5.6z"/></g></g>
<g clip-path="url(#clipd)"><polyline points="1243.8,1362.6 1249.7,1362.6 1255.61,1362.6 1261.51,1362.6 1267.42,1362.6 1273.32,1362.6 1279.22,1362.6 1285.13,1362.6 1291.03,1362.6 1296.94,1362.6 1302.84,1362.6 1308.74,1362.6 1314.65,1362.6 1320.55,1362.6 1326.46,1362.6 1332.36,1362.6 1338.26,1362.6 1344.17,1362.6 1350.07,1362.6 1355.98,1362.6 1361.88,1362.6 1367.78,1362.59 1373.69,1362.59 1379.59,1362.59 1385.5,1362.59 1391.4,1362.59 1397.3,1362.58 1403.21,1362.58 1409.11,1362.57 1415.02,1362.56 1420.92,1362.55 1426.82,1362.54 1432.73,1362.52 1438.63,1362.5 1444.54,1362.47 1450.44,1362.43 1456.34,1362.39 1462.25,1362.33 1468.15,1362.26 1474.06,1362.17 1479.96,1362.07 1485.86,1361.94 1491.77,1361.79 1497.67,1361.61 1503.58,1361.38 1509.48,1361.12 1515.38,1360.79 1521.29,1360.4 1527.19,1359.91 1533.1,1359.3 1539,1358.55 1544.9,1357.63 1550.81,1356.51 1556.71,1355.16 1562.62,1353.59 1568.52,1351.78 1574.42,1349.72 1580.33,1347.39 1586.23,1344.77 1592.14,1341.83 1598.04,1338.57 1603.94,1334.93 1609.85,1330.89 1615.75,1326.38 1621.66,1321.34 1627.56,1315.68 1633.46,1309.31 1639.37,1302.17 1645.27,1294.23 1651.18,1285.51 1657.08,1276.08 1662.98,1266.1 1668.89,1255.8 1674.79,1245.44 1680.7,1235.27 1686.6,1225.5 1692.5,1216.21 1698.41,1207.38 1704.31,1198.92 1710.22,1190.73 1716.12,1182.73 1722.02,1174.89 1727.93,1167.23 1733.83,1159.78 1739.74,1152.49 1745.64,1145.29 1751.54,1138.11 1757.45,1130.93 1763.35,1123.81 1769.26,1116.79 1775.16,1109.95 1781.06,1103.33 1786.97,1096.94 1792.87,1090.75 1798.78,1084.73 1804.68,1078.84 1810.58,1073.05 1816.49,1067.33 1822.39,1061.66 1828.3,1056.01 1834.2,1050.35" fill="none" stroke="#6a0a2e" stroke-width="3.0" stroke-linejoin="round"/><g fill="#9b0c42" stroke="#6a0a2e" stroke-width="1"><path d="M1243.8 1357l4.85 2.8v5.6l-4.85 2.8l-4.85 -2.8v-5.6z"/><path d="M1249.7 1357l4.85 2.8v5.6l-4.85 2.8l-4.85 -2.8v-5.6z"/><path d="M1255.61 1357l4.85 2.8v5.6l-4.85 2.8l-4.85 -2.8v-5.6z"/><path d="M1261.51 1357l4.85 2.8v5.6l-4.85 2.8l-4.85 -2.8v-5.6z"/><path d="M1267.42 1357l4.85 2.8v5.6l-4.85 2.8l-4.85 -2.8v-5.6z"/><path d="M1273.32 1357l4.85 2.8v5.6l-4.85 2.8l-4.85 -2.8v-5.6z"/><path d="M1279.22 1357l4.85 2.8v5.6l-4.85 2.8l-4.85 -2.8v-5.6z"/><path d="M1285.13 1357l4.85 2.8v5.6l-4.85 2.8l-4.85 -2.8v-5.6z"/><path d="M1291.03 1357l4.85 2.8v5.6l-4.85 2.8l-4.85 -2.8v-5.6z"/><path d="M1296.94 1357l4.85 2.8v5.6l-4.85 2.8l-4.85 -2.8v-5.6z"/><path d="M1302.84 1357l4.85 2.8v5.6l-4.85 2.8l-4.85 -2.8v-5.6z"/><path d="M1308.74 1357l4.85 2.8v5.6l-4.85 2.8l-4.85 -2.8v-5.6z"/><path d="M1314.65 1357l4.85 2.8v5.6l-4.85 2.8l-4.85 -2.8v-5.6z"/><path d="M1320.55 1357l4.85 2.8v5.6l-4.85 2.8l-4.85 -2.8v-5.6z"/><path d="M1326.46 1357l4.85 2.8v5.6l-4.85 2.8l-4.85 -2.8v-5.6z"/><path d="M1332.36 1357l4.85 2.8v5.6l-4.85 2.8l-4.85 -2.8v-5.6z"/><path d="M1338.26 1357l4.85 2.8v5.6l-4.85 2.8l-4.85 -2.8v-5.6z"/><path d="M1344.17 1357l4.85 2.8v5.6l-4.85 2.8l-4.85 -2.8v-5.6z"/><path d="M1350.07 1357l4.85 2.8v5.6l-4.85 2.8l-4.85 -2.8v-5.6z"/><path d="M1355.98 1357l4.85 2.8v5.6l-4.85 2.8l-4.85 -2.8v-5.6z"/><path d="M1361.88 1357l4.85 2.8v5.6l-4.85 2.8l-4.85 -2.8v-5.6z"/><path d="M1367.78 1356.99l4.85 2.8v5.6l-4.85 2.8l-4.85 -2.8v-5.6z"/><path d="M1373.69 1356.99l4.85 2.8v5.6l-4.85 2.8l-4.85 -2.8v-5.6z"/><path d="M1379.59 1356.99l4.85 2.8v5.6l-4.85 2.8l-4.85 -2.8v-5.6z"/><path d="M1385.5 1356.99l4.85 2.8v5.6l-4.85 2.8l-4.85 -2.8v-5.6z"/><path d="M1391.4 1356.99l4.85 2.8v5.6l-4.85 2.8l-4.85 -2.8v-5.6z"/><path d="M1397.3 1356.98l4.85 2.8v5.6l-4.85 2.8l-4.85 -2.8v-5.6z"/><path d="M1403.21 1356.98l4.85 2.8v5.6l-4.85 2.8l-4.85 -2.8v-5.6z"/><path d="M1409.11 1356.97l4.85 2.8v5.6l-4.85 2.8l-4.85 -2.8v-5.6z"/><path d="M1415.02 1356.96l4.85 2.8v5.6l-4.85 2.8l-4.85 -2.8v-5.6z"/><path d="M1420.92 1356.95l4.85 2.8v5.6l-4.85 2.8l-4.85 -2.8v-5.6z"/><path d="M1426.82 1356.94l4.85 2.8v5.6l-4.85 2.8l-4.85 -2.8v-5.6z"/><path d="M1432.73 1356.92l4.85 2.8v5.6l-4.85 2.8l-4.85 -2.8v-5.6z"/><path d="M1438.63 1356.9l4.85 2.8v5.6l-4.85 2.8l-4.85 -2.8v-5.6z"/><path d="M1444.54 1356.87l4.85 2.8v5.6l-4.85 2.8l-4.85 -2.8v-5.6z"/><path d="M1450.44 1356.83l4.85 2.8v5.6l-4.85 2.8l-4.85 -2.8v-5.6z"/><path d="M1456.34 1356.79l4.85 2.8v5.6l-4.85 2.8l-4.85 -2.8v-5.6z"/><path d="M1462.25 1356.73l4.85 2.8v5.6l-4.85 2.8l-4.85 -2.8v-5.6z"/><path d="M1468.15 1356.66l4.85 2.8v5.6l-4.85 2.8l-4.85 -2.8v-5.6z"/><path d="M1474.06 1356.57l4.85 2.8v5.6l-4.85 2.8l-4.85 -2.8v-5.6z"/><path d="M1479.96 1356.47l4.85 2.8v5.6l-4.85 2.8l-4.85 -2.8v-5.6z"/><path d="M1485.86 1356.34l4.85 2.8v5.6l-4.85 2.8l-4.85 -2.8v-5.6z"/><path d="M1491.77 1356.19l4.85 2.8v5.6l-4.85 2.8l-4.85 -2.8v-5.6z"/><path d="M1497.67 1356.01l4.85 2.8v5.6l-4.85 2.8l-4.85 -2.8v-5.6z"/><path d="M1503.58 1355.78l4.85 2.8v5.6l-4.85 2.8l-4.85 -2.8v-5.6z"/><path d="M1509.48 1355.52l4.85 2.8v5.6l-4.85 2.8l-4.85 -2.8v-5.6z"/><path d="M1515.38 1355.19l4.85 2.8v5.6l-4.85 2.8l-4.85 -2.8v-5.6z"/><path d="M1521.29 1354.8l4.85 2.8v5.6l-4.85 2.8l-4.85 -2.8v-5.6z"/><path d="M1527.19 1354.31l4.85 2.8v5.6l-4.85 2.8l-4.85 -2.8v-5.6z"/><path d="M1533.1 1353.7l4.85 2.8v5.6l-4.85 2.8l-4.85 -2.8v-5.6z"/><path d="M1539 1352.95l4.85 2.8v5.6l-4.85 2.8l-4.85 -2.8v-5.6z"/><path d="M1544.9 1352.03l4.85 2.8v5.6l-4.85 2.8l-4.85 -2.8v-5.6z"/><path d="M1550.81 1350.91l4.85 2.8v5.6l-4.85 2.8l-4.85 -2.8v-5.6z"/><path d="M1556.71 1349.56l4.85 2.8v5.6l-4.85 2.8l-4.85 -2.8v-5.6z"/><path d="M1562.62 1347.99l4.85 2.8v5.6l-4.85 2.8l-4.85 -2.8v-5.6z"/><path d="M1568.52 1346.18l4.85 2.8v5.6l-4.85 2.8l-4.85 -2.8v-5.6z"/><path d="M1574.42 1344.12l4.85 2.8v5.6l-4.85 2.8l-4.85 -2.8v-5.6z"/><path d="M1580.33 1341.79l4.85 2.8v5.6l-4.85 2.8l-4.85 -2.8v-5.6z"/><path d="M1586.23 1339.17l4.85 2.8v5.6l-4.85 2.8l-4.85 -2.8v-5.6z"/><path d="M1592.14 1336.23l4.85 2.8v5.6l-4.85 2.8l-4.85 -2.8v-5.6z"/><path d="M1598.04 1332.97l4.85 2.8v5.6l-4.85 2.8l-4.85 -2.8v-5.6z"/><path d="M1603.94 1329.33l4.85 2.8v5.6l-4.85 2.8l-4.85 -2.8v-5.6z"/><path d="M1609.85 1325.29l4.85 2.8v5.6l-4.85 2.8l-4.85 -2.8v-5.6z"/><path d="M1615.75 1320.78l4.85 2.8v5.6l-4.85 2.8l-4.85 -2.8v-5.6z"/><path d="M1621.66 1315.74l4.85 2.8v5.6l-4.85 2.8l-4.85 -2.8v-5.6z"/><path d="M1627.56 1310.08l4.85 2.8v5.6l-4.85 2.8l-4.85 -2.8v-5.6z"/><path d="M1633.46 1303.71l4.85 2.8v5.6l-4.85 2.8l-4.85 -2.8v-5.6z"/><path d="M1639.37 1296.57l4.85 2.8v5.6l-4.85 2.8l-4.85 -2.8v-5.6z"/><path d="M1645.27 1288.63l4.85 2.8v5.6l-4.85 2.8l-4.85 -2.8v-5.6z"/><path d="M1651.18 1279.91l4.85 2.8v5.6l-4.85 2.8l-4.85 -2.8v-5.6z"/><path d="M1657.08 1270.48l4.85 2.8v5.6l-4.85 2.8l-4.85 -2.8v-5.6z"/><path d="M1662.98 1260.5l4.85 2.8v5.6l-4.85 2.8l-4.85 -2.8v-5.6z"/><path d="M1668.89 1250.2l4.85 2.8v5.6l-4.85 2.8l-4.85 -2.8v-5.6z"/><path d="M1674.79 1239.84l4.85 2.8v5.6l-4.85 2.8l-4.85 -2.8v-5.6z"/><path d="M1680.7 1229.67l4.85 2.8v5.6l-4.85 2.8l-4.85 -2.8v-5.6z"/><path d="M1686.6 1219.9l4.85 2.8v5.6l-4.85 2.8l-4.85 -2.8v-5.6z"/><path d="M1692.5 1210.61l4.85 2.8v5.6l-4.85 2.8l-4.85 -2.8v-5.6z"/><path d="M1698.41 1201.78l4.85 2.8v5.6l-4.85 2.8l-4.85 -2.8v-5.6z"/><path d="M1704.31 1193.32l4.85 2.8v5.6l-4.85 2.8l-4.85 -2.8v-5.6z"/><path d="M1710.22 1185.13l4.85 2.8v5.6l-4.85 2.8l-4.85 -2.8v-5.6z"/><path d="M1716.12 1177.13l4.85 2.8v5.6l-4.85 2.8l-4.85 -2.8v-5.6z"/><path d="M1722.02 1169.29l4.85 2.8v5.6l-4.85 2.8l-4.85 -2.8v-5.6z"/><path d="M1727.93 1161.63l4.85 2.8v5.6l-4.85 2.8l-4.85 -2.8v-5.6z"/><path d="M1733.83 1154.18l4.85 2.8v5.6l-4.85 2.8l-4.85 -2.8v-5.6z"/><path d="M1739.74 1146.89l4.85 2.8v5.6l-4.85 2.8l-4.85 -2.8v-5.6z"/><path d="M1745.64 1139.69l4.85 2.8v5.6l-4.85 2.8l-4.85 -2.8v-5.6z"/><path d="M1751.54 1132.51l4.85 2.8v5.6l-4.85 2.8l-4.85 -2.8v-5.6z"/><path d="M1757.45 1125.33l4.85 2.8v5.6l-4.85 2.8l-4.85 -2.8v-5.6z"/><path d="M1763.35 1118.21l4.85 2.8v5.6l-4.85 2.8l-4.85 -2.8v-5.6z"/><path d="M1769.26 1111.19l4.85 2.8v5.6l-4.85 2.8l-4.85 -2.8v-5.6z"/><path d="M1775.16 1104.35l4.85 2.8v5.6l-4.85 2.8l-4.85 -2.8v-5.6z"/><path d="M1781.06 1097.73l4.85 2.8v5.6l-4.85 2.8l-4.85 -2.8v-5.6z"/><path d="M1786.97 1091.34l4.85 2.8v5.6l-4.85 2.8l-4.85 -2.8v-5.6z"/><path d="M1792.87 1085.15l4.85 2.8v5.6l-4.85 2.8l-4.85 -2.8v-5.6z"/><path d="M1798.78 1079.13l4.85 2.8v5.6l-4.85 2.8l-4.85 -2.8v-5.6z"/><path d="M1804.68 1073.24l4.85 2.8v5.6l-4.85 2.8l-4.85 -2.8v-5.6z"/><path d="M1810.58 1067.45l4.85 2.8v5.6l-4.85 2.8l-4.85 -2.8v-5.6z"/><path d="M1816.49 1061.73l4.85 2.8v5.6l-4.85 2.8l-4.85 -2.8v-5.6z"/><path d="M1822.39 1056.06l4.85 2.8v5.6l-4.85 2.8l-4.85 -2.8v-5.6z"/><path d="M1828.3 1050.41l4.85 2.8v5.6l-4.85 2.8l-4.85 -2.8v-5.6z"/><path d="M1834.2 1044.75l4.85 2.8v5.6l-4.85 2.8l-4.85 -2.8v-5.6z"/></g></g>
<g clip-path="url(#clipd)"><polyline points="1243.8,1362.6 1249.7,1362.6 1255.61,1362.6 1261.51,1362.6 1267.42,1362.6 1273.32,1362.6 1279.22,1362.6 1285.13,1362.6 1291.03,1362.6 1296.94,1362.6 1302.84,1362.6 1308.74,1362.6 1314.65,1362.6 1320.55,1362.6 1326.46,1362.6 1332.36,1362.6 1338.26,1362.6 1344.17,1362.6 1350.07,1362.59 1355.98,1362.59 1361.88,1362.59 1367.78,1362.59 1373.69,1362.59 1379.59,1362.58 1385.5,1362.58 1391.4,1362.57 1397.3,1362.56 1403.21,1362.55 1409.11,1362.54 1415.02,1362.52 1420.92,1362.5 1426.82,1362.47 1432.73,1362.43 1438.63,1362.39 1444.54,1362.33 1450.44,1362.26 1456.34,1362.18 1462.25,1362.07 1468.15,1361.94 1474.06,1361.78 1479.96,1361.6 1485.86,1361.37 1491.77,1361.11 1497.67,1360.8 1503.58,1360.44 1509.48,1360.02 1515.38,1359.51 1521.29,1358.9 1527.19,1358.16 1533.1,1357.23 1539,1356.08 1544.9,1354.67 1550.81,1352.95 1556.71,1350.91 1562.62,1348.53 1568.52,1345.8 1574.42,1342.7 1580.33,1339.21 1586.23,1335.31 1592.14,1330.96 1598.04,1326.15 1603.94,1320.82 1609.85,1314.91 1615.75,1308.33 1621.66,1300.98 1627.56,1292.74 1633.46,1283.52 1639.37,1273.23 1645.27,1261.85 1651.18,1249.48 1657.08,1236.29 1662.98,1222.65 1668.89,1209.02 1674.79,1195.91 1680.7,1183.69 1686.6,1172.53 1692.5,1162.36 1698.41,1152.92 1704.31,1143.81 1710.22,1134.62 1716.12,1125.05 1722.02,1115.03 1727.93,1104.72 1733.83,1094.39 1739.74,1084.17 1745.64,1074.13 1751.54,1064.28 1757.45,1054.67 1763.35,1045.38 1769.26,1036.5 1775.16,1028.1 1781.06,1020.24 1786.97,1012.95 1792.87,1006.2 1798.78,999.97 1804.68,994.2 1810.58,988.87 1816.49,983.94 1822.39,979.28 1828.3,974.59 1834.2,969.41" fill="none" stroke="#b02d4a" stroke-width="3.0" stroke-linejoin="round"/><g fill="#d32e50" stroke="#b02d4a" stroke-width="1"><path d="M1243.8 1357l4.85 2.8v5.6l-4.85 2.8l-4.85 -2.8v-5.6z"/><path d="M1249.7 1357l4.85 2.8v5.6l-4.85 2.8l-4.85 -2.8v-5.6z"/><path d="M1255.61 1357l4.85 2.8v5.6l-4.85 2.8l-4.85 -2.8v-5.6z"/><path d="M1261.51 1357l4.85 2.8v5.6l-4.85 2.8l-4.85 -2.8v-5.6z"/><path d="M1267.42 1357l4.85 2.8v5.6l-4.85 2.8l-4.85 -2.8v-5.6z"/><path d="M1273.32 1357l4.85 2.8v5.6l-4.85 2.8l-4.85 -2.8v-5.6z"/><path d="M1279.22 1357l4.85 2.8v5.6l-4.85 2.8l-4.85 -2.8v-5.6z"/><path d="M1285.13 1357l4.85 2.8v5.6l-4.85 2.8l-4.85 -2.8v-5.6z"/><path d="M1291.03 1357l4.85 2.8v5.6l-4.85 2.8l-4.85 -2.8v-5.6z"/><path d="M1296.94 1357l4.85 2.8v5.6l-4.85 2.8l-4.85 -2.8v-5.6z"/><path d="M1302.84 1357l4.85 2.8v5.6l-4.85 2.8l-4.85 -2.8v-5.6z"/><path d="M1308.74 1357l4.85 2.8v5.6l-4.85 2.8l-4.85 -2.8v-5.6z"/><path d="M1314.65 1357l4.85 2.8v5.6l-4.85 2.8l-4.85 -2.8v-5.6z"/><path d="M1320.55 1357l4.85 2.8v5.6l-4.85 2.8l-4.85 -2.8v-5.6z"/><path d="M1326.46 1357l4.85 2.8v5.6l-4.85 2.8l-4.85 -2.8v-5.6z"/><path d="M1332.36 1357l4.85 2.8v5.6l-4.85 2.8l-4.85 -2.8v-5.6z"/><path d="M1338.26 1357l4.85 2.8v5.6l-4.85 2.8l-4.85 -2.8v-5.6z"/><path d="M1344.17 1357l4.85 2.8v5.6l-4.85 2.8l-4.85 -2.8v-5.6z"/><path d="M1350.07 1356.99l4.85 2.8v5.6l-4.85 2.8l-4.85 -2.8v-5.6z"/><path d="M1355.98 1356.99l4.85 2.8v5.6l-4.85 2.8l-4.85 -2.8v-5.6z"/><path d="M1361.88 1356.99l4.85 2.8v5.6l-4.85 2.8l-4.85 -2.8v-5.6z"/><path d="M1367.78 1356.99l4.85 2.8v5.6l-4.85 2.8l-4.85 -2.8v-5.6z"/><path d="M1373.69 1356.99l4.85 2.8v5.6l-4.85 2.8l-4.85 -2.8v-5.6z"/><path d="M1379.59 1356.98l4.85 2.8v5.6l-4.85 2.8l-4.85 -2.8v-5.6z"/><path d="M1385.5 1356.98l4.85 2.8v5.6l-4.85 2.8l-4.85 -2.8v-5.6z"/><path d="M1391.4 1356.97l4.85 2.8v5.6l-4.85 2.8l-4.85 -2.8v-5.6z"/><path d="M1397.3 1356.96l4.85 2.8v5.6l-4.85 2.8l-4.85 -2.8v-5.6z"/><path d="M1403.21 1356.95l4.85 2.8v5.6l-4.85 2.8l-4.85 -2.8v-5.6z"/><path d="M1409.11 1356.94l4.85 2.8v5.6l-4.85 2.8l-4.85 -2.8v-5.6z"/><path d="M1415.02 1356.92l4.85 2.8v5.6l-4.85 2.8l-4.85 -2.8v-5.6z"/><path d="M1420.92 1356.9l4.85 2.8v5.6l-4.85 2.8l-4.85 -2.8v-5.6z"/><path d="M1426.82 1356.87l4.85 2.8v5.6l-4.85 2.8l-4.85 -2.8v-5.6z"/><path d="M1432.73 1356.83l4.85 2.8v5.6l-4.85 2.8l-4.85 -2.8v-5.6z"/><path d="M1438.63 1356.79l4.85 2.8v5.6l-4.85 2.8l-4.85 -2.8v-5.6z"/><path d="M1444.54 1356.73l4.85 2.8v5.6l-4.85 2.8l-4.85 -2.8v-5.6z"/><path d="M1450.44 1356.66l4.85 2.8v5.6l-4.85 2.8l-4.85 -2.8v-5.6z"/><path d="M1456.34 1356.58l4.85 2.8v5.6l-4.85 2.8l-4.85 -2.8v-5.6z"/><path d="M1462.25 1356.47l4.85 2.8v5.6l-4.85 2.8l-4.85 -2.8v-5.6z"/><path d="M1468.15 1356.34l4.85 2.8v5.6l-4.85 2.8l-4.85 -2.8v-5.6z"/><path d="M1474.06 1356.18l4.85 2.8v5.6l-4.85 2.8l-4.85 -2.8v-5.6z"/><path d="M1479.96 1356l4.85 2.8v5.6l-4.85 2.8l-4.85 -2.8v-5.6z"/><path d="M1485.86 1355.77l4.85 2.8v5.6l-4.85 2.8l-4.85 -2.8v-5.6z"/><path d="M1491.77 1355.51l4.85 2.8v5.6l-4.85 2.8l-4.85 -2.8v-5.6z"/><path d="M1497.67 1355.2l4.85 2.8v5.6l-4.85 2.8l-4.85 -2.8v-5.6z"/><path d="M1503.58 1354.84l4.85 2.8v5.6l-4.85 2.8l-4.85 -2.8v-5.6z"/><path d="M1509.48 1354.42l4.85 2.8v5.6l-4.85 2.8l-4.85 -2.8v-5.6z"/><path d="M1515.38 1353.91l4.85 2.8v5.6l-4.85 2.8l-4.85 -2.8v-5.6z"/><path d="M1521.29 1353.3l4.85 2.8v5.6l-4.85 2.8l-4.85 -2.8v-5.6z"/><path d="M1527.19 1352.56l4.85 2.8v5.6l-4.85 2.8l-4.85 -2.8v-5.6z"/><path d="M1533.1 1351.63l4.85 2.8v5.6l-4.85 2.8l-4.85 -2.8v-5.6z"/><path d="M1539 1350.48l4.85 2.8v5.6l-4.85 2.8l-4.85 -2.8v-5.6z"/><path d="M1544.9 1349.07l4.85 2.8v5.6l-4.85 2.8l-4.85 -2.8v-5.6z"/><path d="M1550.81 1347.35l4.85 2.8v5.6l-4.85 2.8l-4.85 -2.8v-5.6z"/><path d="M1556.71 1345.31l4.85 2.8v5.6l-4.85 2.8l-4.85 -2.8v-5.6z"/><path d="M1562.62 1342.93l4.85 2.8v5.6l-4.85 2.8l-4.85 -2.8v-5.6z"/><path d="M1568.52 1340.2l4.85 2.8v5.6l-4.85 2.8l-4.85 -2.8v-5.6z"/><path d="M1574.42 1337.1l4.85 2.8v5.6l-4.85 2.8l-4.85 -2.8v-5.6z"/><path d="M1580.33 1333.61l4.85 2.8v5.6l-4.85 2.8l-4.85 -2.8v-5.6z"/><path d="M1586.23 1329.71l4.85 2.8v5.6l-4.85 2.8l-4.85 -2.8v-5.6z"/><path d="M1592.14 1325.36l4.85 2.8v5.6l-4.85 2.8l-4.85 -2.8v-5.6z"/><path d="M1598.04 1320.55l4.85 2.8v5.6l-4.85 2.8l-4.85 -2.8v-5.6z"/><path d="M1603.94 1315.22l4.85 2.8v5.6l-4.85 2.8l-4.85 -2.8v-5.6z"/><path d="M1609.85 1309.31l4.85 2.8v5.6l-4.85 2.8l-4.85 -2.8v-5.6z"/><path d="M1615.75 1302.73l4.85 2.8v5.6l-4.85 2.8l-4.85 -2.8v-5.6z"/><path d="M1621.66 1295.38l4.85 2.8v5.6l-4.85 2.8l-4.85 -2.8v-5.6z"/><path d="M1627.56 1287.14l4.85 2.8v5.6l-4.85 2.8l-4.85 -2.8v-5.6z"/><path d="M1633.46 1277.92l4.85 2.8v5.6l-4.85 2.8l-4.85 -2.8v-5.6z"/><path d="M1639.37 1267.63l4.85 2.8v5.6l-4.85 2.8l-4.85 -2.8v-5.6z"/><path d="M1645.27 1256.25l4.85 2.8v5.6l-4.85 2.8l-4.85 -2.8v-5.6z"/><path d="M1651.18 1243.88l4.85 2.8v5.6l-4.85 2.8l-4.85 -2.8v-5.6z"/><path d="M1657.08 1230.69l4.85 2.8v5.6l-4.85 2.8l-4.85 -2.8v-5.6z"/><path d="M1662.98 1217.05l4.85 2.8v5.6l-4.85 2.8l-4.85 -2.8v-5.6z"/><path d="M1668.89 1203.42l4.85 2.8v5.6l-4.85 2.8l-4.85 -2.8v-5.6z"/><path d="M1674.79 1190.31l4.85 2.8v5.6l-4.85 2.8l-4.85 -2.8v-5.6z"/><path d="M1680.7 1178.09l4.85 2.8v5.6l-4.85 2.8l-4.85 -2.8v-5.6z"/><path d="M1686.6 1166.93l4.85 2.8v5.6l-4.85 2.8l-4.85 -2.8v-5.6z"/><path d="M1692.5 1156.76l4.85 2.8v5.6l-4.85 2.8l-4.85 -2.8v-5.6z"/><path d="M1698.41 1147.32l4.85 2.8v5.6l-4.85 2.8l-4.85 -2.8v-5.6z"/><path d="M1704.31 1138.21l4.85 2.8v5.6l-4.85 2.8l-4.85 -2.8v-5.6z"/><path d="M1710.22 1129.02l4.85 2.8v5.6l-4.85 2.8l-4.85 -2.8v-5.6z"/><path d="M1716.12 1119.45l4.85 2.8v5.6l-4.85 2.8l-4.85 -2.8v-5.6z"/><path d="M1722.02 1109.43l4.85 2.8v5.6l-4.85 2.8l-4.85 -2.8v-5.6z"/><path d="M1727.93 1099.12l4.85 2.8v5.6l-4.85 2.8l-4.85 -2.8v-5.6z"/><path d="M1733.83 1088.79l4.85 2.8v5.6l-4.85 2.8l-4.85 -2.8v-5.6z"/><path d="M1739.74 1078.57l4.85 2.8v5.6l-4.85 2.8l-4.85 -2.8v-5.6z"/><path d="M1745.64 1068.53l4.85 2.8v5.6l-4.85 2.8l-4.85 -2.8v-5.6z"/><path d="M1751.54 1058.68l4.85 2.8v5.6l-4.85 2.8l-4.85 -2.8v-5.6z"/><path d="M1757.45 1049.07l4.85 2.8v5.6l-4.85 2.8l-4.85 -2.8v-5.6z"/><path d="M1763.35 1039.78l4.85 2.8v5.6l-4.85 2.8l-4.85 -2.8v-5.6z"/><path d="M1769.26 1030.9l4.85 2.8v5.6l-4.85 2.8l-4.85 -2.8v-5.6z"/><path d="M1775.16 1022.5l4.85 2.8v5.6l-4.85 2.8l-4.85 -2.8v-5.6z"/><path d="M1781.06 1014.64l4.85 2.8v5.6l-4.85 2.8l-4.85 -2.8v-5.6z"/><path d="M1786.97 1007.35l4.85 2.8v5.6l-4.85 2.8l-4.85 -2.8v-5.6z"/><path d="M1792.87 1000.6l4.85 2.8v5.6l-4.85 2.8l-4.85 -2.8v-5.6z"/><path d="M1798.78 994.37l4.85 2.8v5.6l-4.85 2.8l-4.85 -2.8v-5.6z"/><path d="M1804.68 988.6l4.85 2.8v5.6l-4.85 2.8l-4.85 -2.8v-5.6z"/><path d="M1810.58 983.27l4.85 2.8v5.6l-4.85 2.8l-4.85 -2.8v-5.6z"/><path d="M1816.49 978.34l4.85 2.8v5.6l-4.85 2.8l-4.85 -2.8v-5.6z"/><path d="M1822.39 973.68l4.85 2.8v5.6l-4.85 2.8l-4.85 -2.8v-5.6z"/><path d="M1828.3 968.99l4.85 2.8v5.6l-4.85 2.8l-4.85 -2.8v-5.6z"/><path d="M1834.2 963.81l4.85 2.8v5.6l-4.85 2.8l-4.85 -2.8v-5.6z"/></g></g>
<g clip-path="url(#clipd)"><polyline points="1243.8,1362.6 1249.7,1362.6 1255.61,1362.6 1261.51,1362.6 1267.42,1362.6 1273.32,1362.6 1279.22,1362.6 1285.13,1362.6 1291.03,1362.6 1296.94,1362.6 1302.84,1362.6 1308.74,1362.6 1314.65,1362.6 1320.55,1362.6 1326.46,1362.6 1332.36,1362.59 1338.26,1362.59 1344.17,1362.59 1350.07,1362.59 1355.98,1362.58 1361.88,1362.58 1367.78,1362.58 1373.69,1362.57 1379.59,1362.56 1385.5,1362.55 1391.4,1362.53 1397.3,1362.52 1403.21,1362.49 1409.11,1362.47 1415.02,1362.43 1420.92,1362.39 1426.82,1362.33 1432.73,1362.26 1438.63,1362.17 1444.54,1362.07 1450.44,1361.94 1456.34,1361.78 1462.25,1361.58 1468.15,1361.35 1474.06,1361.06 1479.96,1360.73 1485.86,1360.36 1491.77,1359.93 1497.67,1359.45 1503.58,1358.9 1509.48,1358.27 1515.38,1357.52 1521.29,1356.61 1527.19,1355.47 1533.1,1354.03 1539,1352.18 1544.9,1349.85 1550.81,1346.98 1556.71,1343.53 1562.62,1339.49 1568.52,1334.82 1574.42,1329.5 1580.33,1323.49 1586.23,1316.75 1592.14,1309.25 1598.04,1301.01 1603.94,1292.12 1609.85,1282.72 1615.75,1272.93 1621.66,1262.73 1627.56,1252.06 1633.46,1240.78 1639.37,1228.73 1645.27,1215.79 1651.18,1201.9 1657.08,1187.04 1662.98,1171.37 1668.89,1155.24 1674.79,1139.12 1680.7,1123.48 1686.6,1108.61 1692.5,1094.63 1698.41,1081.44 1704.31,1068.84 1710.22,1056.64 1716.12,1044.66 1722.02,1032.84 1727.93,1021.19 1733.83,1009.76 1739.74,998.58 1745.64,987.64 1751.54,976.96 1757.45,966.61 1763.35,956.64 1769.26,947.12 1775.16,938.11 1781.06,929.65 1786.97,921.74 1792.87,914.37 1798.78,907.46 1804.68,900.96 1810.58,894.84 1816.49,889.03 1822.39,883.4 1828.3,877.58 1834.2,871.08" fill="none" stroke="#d95a45" stroke-width="3.0" stroke-linejoin="round"/><g fill="#f2623f" stroke="#d95a45" stroke-width="1"><path d="M1243.8 1357l4.85 2.8v5.6l-4.85 2.8l-4.85 -2.8v-5.6z"/><path d="M1249.7 1357l4.85 2.8v5.6l-4.85 2.8l-4.85 -2.8v-5.6z"/><path d="M1255.61 1357l4.85 2.8v5.6l-4.85 2.8l-4.85 -2.8v-5.6z"/><path d="M1261.51 1357l4.85 2.8v5.6l-4.85 2.8l-4.85 -2.8v-5.6z"/><path d="M1267.42 1357l4.85 2.8v5.6l-4.85 2.8l-4.85 -2.8v-5.6z"/><path d="M1273.32 1357l4.85 2.8v5.6l-4.85 2.8l-4.85 -2.8v-5.6z"/><path d="M1279.22 1357l4.85 2.8v5.6l-4.85 2.8l-4.85 -2.8v-5.6z"/><path d="M1285.13 1357l4.85 2.8v5.6l-4.85 2.8l-4.85 -2.8v-5.6z"/><path d="M1291.03 1357l4.85 2.8v5.6l-4.85 2.8l-4.85 -2.8v-5.6z"/><path d="M1296.94 1357l4.85 2.8v5.6l-4.85 2.8l-4.85 -2.8v-5.6z"/><path d="M1302.84 1357l4.85 2.8v5.6l-4.85 2.8l-4.85 -2.8v-5.6z"/><path d="M1308.74 1357l4.85 2.8v5.6l-4.85 2.8l-4.85 -2.8v-5.6z"/><path d="M1314.65 1357l4.85 2.8v5.6l-4.85 2.8l-4.85 -2.8v-5.6z"/><path d="M1320.55 1357l4.85 2.8v5.6l-4.85 2.8l-4.85 -2.8v-5.6z"/><path d="M1326.46 1357l4.85 2.8v5.6l-4.85 2.8l-4.85 -2.8v-5.6z"/><path d="M1332.36 1356.99l4.85 2.8v5.6l-4.85 2.8l-4.85 -2.8v-5.6z"/><path d="M1338.26 1356.99l4.85 2.8v5.6l-4.85 2.8l-4.85 -2.8v-5.6z"/><path d="M1344.17 1356.99l4.85 2.8v5.6l-4.85 2.8l-4.85 -2.8v-5.6z"/><path d="M1350.07 1356.99l4.85 2.8v5.6l-4.85 2.8l-4.85 -2.8v-5.6z"/><path d="M1355.98 1356.98l4.85 2.8v5.6l-4.85 2.8l-4.85 -2.8v-5.6z"/><path d="M1361.88 1356.98l4.85 2.8v5.6l-4.85 2.8l-4.85 -2.8v-5.6z"/><path d="M1367.78 1356.98l4.85 2.8v5.6l-4.85 2.8l-4.85 -2.8v-5.6z"/><path d="M1373.69 1356.97l4.85 2.8v5.6l-4.85 2.8l-4.85 -2.8v-5.6z"/><path d="M1379.59 1356.96l4.85 2.8v5.6l-4.85 2.8l-4.85 -2.8v-5.6z"/><path d="M1385.5 1356.95l4.85 2.8v5.6l-4.85 2.8l-4.85 -2.8v-5.6z"/><path d="M1391.4 1356.93l4.85 2.8v5.6l-4.85 2.8l-4.85 -2.8v-5.6z"/><path d="M1397.3 1356.92l4.85 2.8v5.6l-4.85 2.8l-4.85 -2.8v-5.6z"/><path d="M1403.21 1356.89l4.85 2.8v5.6l-4.85 2.8l-4.85 -2.8v-5.6z"/><path d="M1409.11 1356.87l4.85 2.8v5.6l-4.85 2.8l-4.85 -2.8v-5.6z"/><path d="M1415.02 1356.83l4.85 2.8v5.6l-4.85 2.8l-4.85 -2.8v-5.6z"/><path d="M1420.92 1356.79l4.85 2.8v5.6l-4.85 2.8l-4.85 -2.8v-5.6z"/><path d="M1426.82 1356.73l4.85 2.8v5.6l-4.85 2.8l-4.85 -2.8v-5.6z"/><path d="M1432.73 1356.66l4.85 2.8v5.6l-4.85 2.8l-4.85 -2.8v-5.6z"/><path d="M1438.63 1356.57l4.85 2.8v5.6l-4.85 2.8l-4.85 -2.8v-5.6z"/><path d="M1444.54 1356.47l4.85 2.8v5.6l-4.85 2.8l-4.85 -2.8v-5.6z"/><path d="M1450.44 1356.34l4.85 2.8v5.6l-4.85 2.8l-4.85 -2.8v-5.6z"/><path d="M1456.34 1356.18l4.85 2.8v5.6l-4.85 2.8l-4.85 -2.8v-5.6z"/><path d="M1462.25 1355.98l4.85 2.8v5.6l-4.85 2.8l-4.85 -2.8v-5.6z"/><path d="M1468.15 1355.75l4.85 2.8v5.6l-4.85 2.8l-4.85 -2.8v-5.6z"/><path d="M1474.06 1355.46l4.85 2.8v5.6l-4.85 2.8l-4.85 -2.8v-5.6z"/><path d="M1479.96 1355.13l4.85 2.8v5.6l-4.85 2.8l-4.85 -2.8v-5.6z"/><path d="M1485.86 1354.76l4.85 2.8v5.6l-4.85 2.8l-4.85 -2.8v-5.6z"/><path d="M1491.77 1354.33l4.85 2.8v5.6l-4.85 2.8l-4.85 -2.8v-5.6z"/><path d="M1497.67 1353.85l4.85 2.8v5.6l-4.85 2.8l-4.85 -2.8v-5.6z"/><path d="M1503.58 1353.3l4.85 2.8v5.6l-4.85 2.8l-4.85 -2.8v-5.6z"/><path d="M1509.48 1352.67l4.85 2.8v5.6l-4.85 2.8l-4.85 -2.8v-5.6z"/><path d="M1515.38 1351.92l4.85 2.8v5.6l-4.85 2.8l-4.85 -2.8v-5.6z"/><path d="M1521.29 1351.01l4.85 2.8v5.6l-4.85 2.8l-4.85 -2.8v-5.6z"/><path d="M1527.19 1349.87l4.85 2.8v5.6l-4.85 2.8l-4.85 -2.8v-5.6z"/><path d="M1533.1 1348.43l4.85 2.8v5.6l-4.85 2.8l-4.85 -2.8v-5.6z"/><path d="M1539 1346.58l4.85 2.8v5.6l-4.85 2.8l-4.85 -2.8v-5.6z"/><path d="M1544.9 1344.25l4.85 2.8v5.6l-4.85 2.8l-4.85 -2.8v-5.6z"/><path d="M1550.81 1341.38l4.85 2.8v5.6l-4.85 2.8l-4.85 -2.8v-5.6z"/><path d="M1556.71 1337.93l4.85 2.8v5.6l-4.85 2.8l-4.85 -2.8v-5.6z"/><path d="M1562.62 1333.89l4.85 2.8v5.6l-4.85 2.8l-4.85 -2.8v-5.6z"/><path d="M1568.52 1329.22l4.85 2.8v5.6l-4.85 2.8l-4.85 -2.8v-5.6z"/><path d="M1574.42 1323.9l4.85 2.8v5.6l-4.85 2.8l-4.85 -2.8v-5.6z"/><path d="M1580.33 1317.89l4.85 2.8v5.6l-4.85 2.8l-4.85 -2.8v-5.6z"/><path d="M1586.23 1311.15l4.85 2.8v5.6l-4.85 2.8l-4.85 -2.8v-5.6z"/><path d="M1592.14 1303.65l4.85 2.8v5.6l-4.85 2.8l-4.85 -2.8v-5.6z"/><path d="M1598.04 1295.41l4.85 2.8v5.6l-4.85 2.8l-4.85 -2.8v-5.6z"/><path d="M1603.94 1286.52l4.85 2.8v5.6l-4.85 2.8l-4.85 -2.8v-5.6z"/><path d="M1609.85 1277.12l4.85 2.8v5.6l-4.85 2.8l-4.85 -2.8v-5.6z"/><path d="M1615.75 1267.33l4.85 2.8v5.6l-4.85 2.8l-4.85 -2.8v-5.6z"/><path d="M1621.66 1257.13l4.85 2.8v5.6l-4.85 2.8l-4.85 -2.8v-5.6z"/><path d="M1627.56 1246.46l4.85 2.8v5.6l-4.85 2.8l-4.85 -2.8v-5.6z"/><path d="M1633.46 1235.18l4.85 2.8v5.6l-4.85 2.8l-4.85 -2.8v-5.6z"/><path d="M1639.37 1223.13l4.85 2.8v5.6l-4.85 2.8l-4.85 -2.8v-5.6z"/><path d="M1645.27 1210.19l4.85 2.8v5.6l-4.85 2.8l-4.85 -2.8v-5.6z"/><path d="M1651.18 1196.3l4.85 2.8v5.6l-4.85 2.8l-4.85 -2.8v-5.6z"/><path d="M1657.08 1181.44l4.85 2.8v5.6l-4.85 2.8l-4.85 -2.8v-5.6z"/><path d="M1662.98 1165.77l4.85 2.8v5.6l-4.85 2.8l-4.85 -2.8v-5.6z"/><path d="M1668.89 1149.64l4.85 2.8v5.6l-4.85 2.8l-4.85 -2.8v-5.6z"/><path d="M1674.79 1133.52l4.85 2.8v5.6l-4.85 2.8l-4.85 -2.8v-5.6z"/><path d="M1680.7 1117.88l4.85 2.8v5.6l-4.85 2.8l-4.85 -2.8v-5.6z"/><path d="M1686.6 1103.01l4.85 2.8v5.6l-4.85 2.8l-4.85 -2.8v-5.6z"/><path d="M1692.5 1089.03l4.85 2.8v5.6l-4.85 2.8l-4.85 -2.8v-5.6z"/><path d="M1698.41 1075.84l4.85 2.8v5.6l-4.85 2.8l-4.85 -2.8v-5.6z"/><path d="M1704.31 1063.24l4.85 2.8v5.6l-4.85 2.8l-4.85 -2.8v-5.6z"/><path d="M1710.22 1051.04l4.85 2.8v5.6l-4.85 2.8l-4.85 -2.8v-5.6z"/><path d="M1716.12 1039.06l4.85 2.8v5.6l-4.85 2.8l-4.85 -2.8v-5.6z"/><path d="M1722.02 1027.24l4.85 2.8v5.6l-4.85 2.8l-4.85 -2.8v-5.6z"/><path d="M1727.93 1015.59l4.85 2.8v5.6l-4.85 2.8l-4.85 -2.8v-5.6z"/><path d="M1733.83 1004.16l4.85 2.8v5.6l-4.85 2.8l-4.85 -2.8v-5.6z"/><path d="M1739.74 992.98l4.85 2.8v5.6l-4.85 2.8l-4.85 -2.8v-5.6z"/><path d="M1745.64 982.04l4.85 2.8v5.6l-4.85 2.8l-4.85 -2.8v-5.6z"/><path d="M1751.54 971.36l4.85 2.8v5.6l-4.85 2.8l-4.85 -2.8v-5.6z"/><path d="M1757.45 961.01l4.85 2.8v5.6l-4.85 2.8l-4.85 -2.8v-5.6z"/><path d="M1763.35 951.04l4.85 2.8v5.6l-4.85 2.8l-4.85 -2.8v-5.6z"/><path d="M1769.26 941.52l4.85 2.8v5.6l-4.85 2.8l-4.85 -2.8v-5.6z"/><path d="M1775.16 932.51l4.85 2.8v5.6l-4.85 2.8l-4.85 -2.8v-5.6z"/><path d="M1781.06 924.05l4.85 2.8v5.6l-4.85 2.8l-4.85 -2.8v-5.6z"/><path d="M1786.97 916.14l4.85 2.8v5.6l-4.85 2.8l-4.85 -2.8v-5.6z"/><path d="M1792.87 908.77l4.85 2.8v5.6l-4.85 2.8l-4.85 -2.8v-5.6z"/><path d="M1798.78 901.86l4.85 2.8v5.6l-4.85 2.8l-4.85 -2.8v-5.6z"/><path d="M1804.68 895.36l4.85 2.8v5.6l-4.85 2.8l-4.85 -2.8v-5.6z"/><path d="M1810.58 889.24l4.85 2.8v5.6l-4.85 2.8l-4.85 -2.8v-5.6z"/><path d="M1816.49 883.43l4.85 2.8v5.6l-4.85 2.8l-4.85 -2.8v-5.6z"/><path d="M1822.39 877.8l4.85 2.8v5.6l-4.85 2.8l-4.85 -2.8v-5.6z"/><path d="M1828.3 871.98l4.85 2.8v5.6l-4.85 2.8l-4.85 -2.8v-5.6z"/><path d="M1834.2 865.48l4.85 2.8v5.6l-4.85 2.8l-4.85 -2.8v-5.6z"/></g></g>
<g clip-path="url(#clipd)"><polyline points="1243.8,1362.6 1249.7,1362.6 1255.61,1362.6 1261.51,1362.6 1267.42,1362.6 1273.32,1362.6 1279.22,1362.6 1285.13,1362.6 1291.03,1362.6 1296.94,1362.6 1302.84,1362.6 1308.74,1362.59 1314.65,1362.59 1320.55,1362.59 1326.46,1362.59 1332.36,1362.59 1338.26,1362.58 1344.17,1362.58 1350.07,1362.57 1355.98,1362.56 1361.88,1362.55 1367.78,1362.54 1373.69,1362.53 1379.59,1362.51 1385.5,1362.48 1391.4,1362.45 1397.3,1362.41 1403.21,1362.36 1409.11,1362.31 1415.02,1362.23 1420.92,1362.14 1426.82,1362.03 1432.73,1361.9 1438.63,1361.74 1444.54,1361.54 1450.44,1361.3 1456.34,1361 1462.25,1360.65 1468.15,1360.24 1474.06,1359.74 1479.96,1359.16 1485.86,1358.5 1491.77,1357.74 1497.67,1356.89 1503.58,1355.92 1509.48,1354.8 1515.38,1353.49 1521.29,1351.91 1527.19,1349.99 1533.1,1347.61 1539,1344.63 1544.9,1340.94 1550.81,1336.45 1556.71,1331.09 1562.62,1324.85 1568.52,1317.71 1574.42,1309.67 1580.33,1300.73 1586.23,1290.89 1592.14,1280.22 1598.04,1268.81 1603.94,1256.8 1609.85,1244.3 1615.75,1231.37 1621.66,1217.96 1627.56,1203.9 1633.46,1189.04 1639.37,1173.2 1645.27,1156.31 1651.18,1138.33 1657.08,1119.39 1662.98,1099.79 1668.89,1080.05 1674.79,1060.79 1680.7,1042.58 1686.6,1025.73 1692.5,1010.28 1698.41,996.01 1704.31,982.56 1710.22,969.55 1716.12,956.68 1722.02,943.8 1727.93,930.95 1733.83,918.23 1739.74,905.76 1745.64,893.65 1751.54,882.02 1757.45,871.02 1763.35,860.73 1769.26,851.2 1775.16,842.48 1781.06,834.6 1786.97,827.56 1792.87,821.3 1798.78,815.77 1804.68,810.89 1810.58,806.59 1816.49,802.79 1822.39,799.21 1828.3,795.18 1834.2,789.73" fill="none" stroke="#ec9553" stroke-width="3.0" stroke-linejoin="round"/><g fill="#f8994f" stroke="#ec9553" stroke-width="1"><path d="M1243.8 1357l4.85 2.8v5.6l-4.85 2.8l-4.85 -2.8v-5.6z"/><path d="M1249.7 1357l4.85 2.8v5.6l-4.85 2.8l-4.85 -2.8v-5.6z"/><path d="M1255.61 1357l4.85 2.8v5.6l-4.85 2.8l-4.85 -2.8v-5.6z"/><path d="M1261.51 1357l4.85 2.8v5.6l-4.85 2.8l-4.85 -2.8v-5.6z"/><path d="M1267.42 1357l4.85 2.8v5.6l-4.85 2.8l-4.85 -2.8v-5.6z"/><path d="M1273.32 1357l4.85 2.8v5.6l-4.85 2.8l-4.85 -2.8v-5.6z"/><path d="M1279.22 1357l4.85 2.8v5.6l-4.85 2.8l-4.85 -2.8v-5.6z"/><path d="M1285.13 1357l4.85 2.8v5.6l-4.85 2.8l-4.85 -2.8v-5.6z"/><path d="M1291.03 1357l4.85 2.8v5.6l-4.85 2.8l-4.85 -2.8v-5.6z"/><path d="M1296.94 1357l4.85 2.8v5.6l-4.85 2.8l-4.85 -2.8v-5.6z"/><path d="M1302.84 1357l4.85 2.8v5.6l-4.85 2.8l-4.85 -2.8v-5.6z"/><path d="M1308.74 1356.99l4.85 2.8v5.6l-4.85 2.8l-4.85 -2.8v-5.6z"/><path d="M1314.65 1356.99l4.85 2.8v5.6l-4.85 2.8l-4.85 -2.8v-5.6z"/><path d="M1320.55 1356.99l4.85 2.8v5.6l-4.85 2.8l-4.85 -2.8v-5.6z"/><path d="M1326.46 1356.99l4.85 2.8v5.6l-4.85 2.8l-4.85 -2.8v-5.6z"/><path d="M1332.36 1356.99l4.85 2.8v5.6l-4.85 2.8l-4.85 -2.8v-5.6z"/><path d="M1338.26 1356.98l4.85 2.8v5.6l-4.85 2.8l-4.85 -2.8v-5.6z"/><path d="M1344.17 1356.98l4.85 2.8v5.6l-4.85 2.8l-4.85 -2.8v-5.6z"/><path d="M1350.07 1356.97l4.85 2.8v5.6l-4.85 2.8l-4.85 -2.8v-5.6z"/><path d="M1355.98 1356.96l4.85 2.8v5.6l-4.85 2.8l-4.85 -2.8v-5.6z"/><path d="M1361.88 1356.95l4.85 2.8v5.6l-4.85 2.8l-4.85 -2.8v-5.6z"/><path d="M1367.78 1356.94l4.85 2.8v5.6l-4.85 2.8l-4.85 -2.8v-5.6z"/><path d="M1373.69 1356.93l4.85 2.8v5.6l-4.85 2.8l-4.85 -2.8v-5.6z"/><path d="M1379.59 1356.91l4.85 2.8v5.6l-4.85 2.8l-4.85 -2.8v-5.6z"/><path d="M1385.5 1356.88l4.85 2.8v5.6l-4.85 2.8l-4.85 -2.8v-5.6z"/><path d="M1391.4 1356.85l4.85 2.8v5.6l-4.85 2.8l-4.85 -2.8v-5.6z"/><path d="M1397.3 1356.81l4.85 2.8v5.6l-4.85 2.8l-4.85 -2.8v-5.6z"/><path d="M1403.21 1356.76l4.85 2.8v5.6l-4.85 2.8l-4.85 -2.8v-5.6z"/><path d="M1409.11 1356.71l4.85 2.8v5.6l-4.85 2.8l-4.85 -2.8v-5.6z"/><path d="M1415.02 1356.63l4.85 2.8v5.6l-4.85 2.8l-4.85 -2.8v-5.6z"/><path d="M1420.92 1356.54l4.85 2.8v5.6l-4.85 2.8l-4.85 -2.8v-5.6z"/><path d="M1426.82 1356.43l4.85 2.8v5.6l-4.85 2.8l-4.85 -2.8v-5.6z"/><path d="M1432.73 1356.3l4.85 2.8v5.6l-4.85 2.8l-4.85 -2.8v-5.6z"/><path d="M1438.63 1356.14l4.85 2.8v5.6l-4.85 2.8l-4.85 -2.8v-5.6z"/><path d="M1444.54 1355.94l4.85 2.8v5.6l-4.85 2.8l-4.85 -2.8v-5.6z"/><path d="M1450.44 1355.7l4.85 2.8v5.6l-4.85 2.8l-4.85 -2.8v-5.6z"/><path d="M1456.34 1355.4l4.85 2.8v5.6l-4.85 2.8l-4.85 -2.8v-5.6z"/><path d="M1462.25 1355.05l4.85 2.8v5.6l-4.85 2.8l-4.85 -2.8v-5.6z"/><path d="M1468.15 1354.64l4.85 2.8v5.6l-4.85 2.8l-4.85 -2.8v-5.6z"/><path d="M1474.06 1354.14l4.85 2.8v5.6l-4.85 2.8l-4.85 -2.8v-5.6z"/><path d="M1479.96 1353.56l4.85 2.8v5.6l-4.85 2.8l-4.85 -2.8v-5.6z"/><path d="M1485.86 1352.9l4.85 2.8v5.6l-4.85 2.8l-4.85 -2.8v-5.6z"/><path d="M1491.77 1352.14l4.85 2.8v5.6l-4.85 2.8l-4.85 -2.8v-5.6z"/><path d="M1497.67 1351.29l4.85 2.8v5.6l-4.85 2.8l-4.85 -2.8v-5.6z"/><path d="M1503.58 1350.32l4.85 2.8v5.6l-4.85 2.8l-4.85 -2.8v-5.6z"/><path d="M1509.48 1349.2l4.85 2.8v5.6l-4.85 2.8l-4.85 -2.8v-5.6z"/><path d="M1515.38 1347.89l4.85 2.8v5.6l-4.85 2.8l-4.85 -2.8v-5.6z"/><path d="M1521.29 1346.31l4.85 2.8v5.6l-4.85 2.8l-4.85 -2.8v-5.6z"/><path d="M1527.19 1344.39l4.85 2.8v5.6l-4.85 2.8l-4.85 -2.8v-5.6z"/><path d="M1533.1 1342.01l4.85 2.8v5.6l-4.85 2.8l-4.85 -2.8v-5.6z"/><path d="M1539 1339.03l4.85 2.8v5.6l-4.85 2.8l-4.85 -2.8v-5.6z"/><path d="M1544.9 1335.34l4.85 2.8v5.6l-4.85 2.8l-4.85 -2.8v-5.6z"/><path d="M1550.81 1330.85l4.85 2.8v5.6l-4.85 2.8l-4.85 -2.8v-5.6z"/><path d="M1556.71 1325.49l4.85 2.8v5.6l-4.85 2.8l-4.85 -2.8v-5.6z"/><path d="M1562.62 1319.25l4.85 2.8v5.6l-4.85 2.8l-4.85 -2.8v-5.6z"/><path d="M1568.52 1312.11l4.85 2.8v5.6l-4.85 2.8l-4.85 -2.8v-5.6z"/><path d="M1574.42 1304.07l4.85 2.8v5.6l-4.85 2.8l-4.85 -2.8v-5.6z"/><path d="M1580.33 1295.13l4.85 2.8v5.6l-4.85 2.8l-4.85 -2.8v-5.6z"/><path d="M1586.23 1285.29l4.85 2.8v5.6l-4.85 2.8l-4.85 -2.8v-5.6z"/><path d="M1592.14 1274.62l4.85 2.8v5.6l-4.85 2.8l-4.85 -2.8v-5.6z"/><path d="M1598.04 1263.21l4.85 2.8v5.6l-4.85 2.8l-4.85 -2.8v-5.6z"/><path d="M1603.94 1251.2l4.85 2.8v5.6l-4.85 2.8l-4.85 -2.8v-5.6z"/><path d="M1609.85 1238.7l4.85 2.8v5.6l-4.85 2.8l-4.85 -2.8v-5.6z"/><path d="M1615.75 1225.77l4.85 2.8v5.6l-4.85 2.8l-4.85 -2.8v-5.6z"/><path d="M1621.66 1212.36l4.85 2.8v5.6l-4.85 2.8l-4.85 -2.8v-5.6z"/><path d="M1627.56 1198.3l4.85 2.8v5.6l-4.85 2.8l-4.85 -2.8v-5.6z"/><path d="M1633.46 1183.44l4.85 2.8v5.6l-4.85 2.8l-4.85 -2.8v-5.6z"/><path d="M1639.37 1167.6l4.85 2.8v5.6l-4.85 2.8l-4.85 -2.8v-5.6z"/><path d="M1645.27 1150.71l4.85 2.8v5.6l-4.85 2.8l-4.85 -2.8v-5.6z"/><path d="M1651.18 1132.73l4.85 2.8v5.6l-4.85 2.8l-4.85 -2.8v-5.6z"/><path d="M1657.08 1113.79l4.85 2.8v5.6l-4.85 2.8l-4.85 -2.8v-5.6z"/><path d="M1662.98 1094.19l4.85 2.8v5.6l-4.85 2.8l-4.85 -2.8v-5.6z"/><path d="M1668.89 1074.45l4.85 2.8v5.6l-4.85 2.8l-4.85 -2.8v-5.6z"/><path d="M1674.79 1055.19l4.85 2.8v5.6l-4.85 2.8l-4.85 -2.8v-5.6z"/><path d="M1680.7 1036.98l4.85 2.8v5.6l-4.85 2.8l-4.85 -2.8v-5.6z"/><path d="M1686.6 1020.13l4.85 2.8v5.6l-4.85 2.8l-4.85 -2.8v-5.6z"/><path d="M1692.5 1004.68l4.85 2.8v5.6l-4.85 2.8l-4.85 -2.8v-5.6z"/><path d="M1698.41 990.41l4.85 2.8v5.6l-4.85 2.8l-4.85 -2.8v-5.6z"/><path d="M1704.31 976.96l4.85 2.8v5.6l-4.85 2.8l-4.85 -2.8v-5.6z"/><path d="M1710.22 963.95l4.85 2.8v5.6l-4.85 2.8l-4.85 -2.8v-5.6z"/><path d="M1716.12 951.08l4.85 2.8v5.6l-4.85 2.8l-4.85 -2.8v-5.6z"/><path d="M1722.02 938.2l4.85 2.8v5.6l-4.85 2.8l-4.85 -2.8v-5.6z"/><path d="M1727.93 925.35l4.85 2.8v5.6l-4.85 2.8l-4.85 -2.8v-5.6z"/><path d="M1733.83 912.63l4.85 2.8v5.6l-4.85 2.8l-4.85 -2.8v-5.6z"/><path d="M1739.74 900.16l4.85 2.8v5.6l-4.85 2.8l-4.85 -2.8v-5.6z"/><path d="M1745.64 888.05l4.85 2.8v5.6l-4.85 2.8l-4.85 -2.8v-5.6z"/><path d="M1751.54 876.42l4.85 2.8v5.6l-4.85 2.8l-4.85 -2.8v-5.6z"/><path d="M1757.45 865.42l4.85 2.8v5.6l-4.85 2.8l-4.85 -2.8v-5.6z"/><path d="M1763.35 855.13l4.85 2.8v5.6l-4.85 2.8l-4.85 -2.8v-5.6z"/><path d="M1769.26 845.6l4.85 2.8v5.6l-4.85 2.8l-4.85 -2.8v-5.6z"/><path d="M1775.16 836.88l4.85 2.8v5.6l-4.85 2.8l-4.85 -2.8v-5.6z"/><path d="M1781.06 829l4.85 2.8v5.6l-4.85 2.8l-4.85 -2.8v-5.6z"/><path d="M1786.97 821.96l4.85 2.8v5.6l-4.85 2.8l-4.85 -2.8v-5.6z"/><path d="M1792.87 815.7l4.85 2.8v5.6l-4.85 2.8l-4.85 -2.8v-5.6z"/><path d="M1798.78 810.17l4.85 2.8v5.6l-4.85 2.8l-4.85 -2.8v-5.6z"/><path d="M1804.68 805.29l4.85 2.8v5.6l-4.85 2.8l-4.85 -2.8v-5.6z"/><path d="M1810.58 800.99l4.85 2.8v5.6l-4.85 2.8l-4.85 -2.8v-5.6z"/><path d="M1816.49 797.19l4.85 2.8v5.6l-4.85 2.8l-4.85 -2.8v-5.6z"/><path d="M1822.39 793.61l4.85 2.8v5.6l-4.85 2.8l-4.85 -2.8v-5.6z"/><path d="M1828.3 789.58l4.85 2.8v5.6l-4.85 2.8l-4.85 -2.8v-5.6z"/><path d="M1834.2 784.13l4.85 2.8v5.6l-4.85 2.8l-4.85 -2.8v-5.6z"/></g></g>
<g clip-path="url(#clipe)"><polyline points="161.51,1752.46 172.94,1746.8 184.37,1741.14 195.79,1735.49 207.22,1729.85 218.65,1724.22 230.07,1718.6 241.5,1712.98 252.93,1707.35 264.36,1701.68 275.78,1696 287.21,1690.35 298.64,1684.79 310.06,1679.38 321.49,1674.16 332.92,1669.15 344.35,1664.3 355.77,1659.57 367.2,1654.93 378.63,1650.35 390.05,1645.77 401.48,1641.2 412.91,1636.68 424.33,1632.32 435.76,1628.18 447.19,1624.27 458.62,1620.56 470.04,1617.02 481.47,1613.65 492.9,1610.46 504.32,1607.45 515.75,1604.61 527.18,1601.91 538.61,1599.35 550.03,1596.92 561.46,1594.6 572.89,1592.41 584.31,1590.35 595.74,1588.42 607.17,1586.63 618.6,1584.94 630.02,1583.34 641.45,1581.83 652.88,1580.43 664.3,1579.17 675.73,1578.04 687.16,1577.01 698.59,1576.07 710.01,1575.2 721.44,1574.39 732.87,1573.63 744.29,1572.94 755.72,1572.3 767.15,1571.71 778.57,1571.16 790,1570.64 801.43,1570.16 812.86,1569.7 824.28,1569.28 835.71,1568.88 847.14,1568.5 858.56,1568.14 869.99,1567.79 881.42,1567.47 892.85,1567.17 904.27,1566.89 915.7,1566.63" fill="none" stroke="#2a0414" stroke-width="3.0" stroke-linejoin="round"/><g fill="#450b24" stroke="#2a0414" stroke-width="1"><path d="M172.94 1741.2l4.85 2.8v5.6l-4.85 2.8l-4.85 -2.8v-5.6z"/><path d="M184.37 1735.54l4.85 2.8v5.6l-4.85 2.8l-4.85 -2.8v-5.6z"/><path d="M195.79 1729.89l4.85 2.8v5.6l-4.85 2.8l-4.85 -2.8v-5.6z"/><path d="M207.22 1724.25l4.85 2.8v5.6l-4.85 2.8l-4.85 -2.8v-5.6z"/><path d="M218.65 1718.62l4.85 2.8v5.6l-4.85 2.8l-4.85 -2.8v-5.6z"/><path d="M230.07 1713l4.85 2.8v5.6l-4.85 2.8l-4.85 -2.8v-5.6z"/><path d="M241.5 1707.38l4.85 2.8v5.6l-4.85 2.8l-4.85 -2.8v-5.6z"/><path d="M252.93 1701.75l4.85 2.8v5.6l-4.85 2.8l-4.85 -2.8v-5.6z"/><path d="M264.36 1696.08l4.85 2.8v5.6l-4.85 2.8l-4.85 -2.8v-5.6z"/><path d="M275.78 1690.4l4.85 2.8v5.6l-4.85 2.8l-4.85 -2.8v-5.6z"/><path d="M287.21 1684.75l4.85 2.8v5.6l-4.85 2.8l-4.85 -2.8v-5.6z"/><path d="M298.64 1679.19l4.85 2.8v5.6l-4.85 2.8l-4.85 -2.8v-5.6z"/><path d="M310.06 1673.78l4.85 2.8v5.6l-4.85 2.8l-4.85 -2.8v-5.6z"/><path d="M321.49 1668.56l4.85 2.8v5.6l-4.85 2.8l-4.85 -2.8v-5.6z"/><path d="M332.92 1663.55l4.85 2.8v5.6l-4.85 2.8l-4.85 -2.8v-5.6z"/><path d="M344.35 1658.7l4.85 2.8v5.6l-4.85 2.8l-4.85 -2.8v-5.6z"/><path d="M355.77 1653.97l4.85 2.8v5.6l-4.85 2.8l-4.85 -2.8v-5.6z"/><path d="M367.2 1649.33l4.85 2.8v5.6l-4.85 2.8l-4.85 -2.8v-5.6z"/><path d="M378.63 1644.75l4.85 2.8v5.6l-4.85 2.8l-4.85 -2.8v-5.6z"/><path d="M390.05 1640.17l4.85 2.8v5.6l-4.85 2.8l-4.85 -2.8v-5.6z"/><path d="M401.48 1635.6l4.85 2.8v5.6l-4.85 2.8l-4.85 -2.8v-5.6z"/><path d="M412.91 1631.08l4.85 2.8v5.6l-4.85 2.8l-4.85 -2.8v-5.6z"/><path d="M424.33 1626.72l4.85 2.8v5.6l-4.85 2.8l-4.85 -2.8v-5.6z"/><path d="M435.76 1622.58l4.85 2.8v5.6l-4.85 2.8l-4.85 -2.8v-5.6z"/><path d="M447.19 1618.67l4.85 2.8v5.6l-4.85 2.8l-4.85 -2.8v-5.6z"/><path d="M458.62 1614.96l4.85 2.8v5.6l-4.85 2.8l-4.85 -2.8v-5.6z"/><path d="M470.04 1611.42l4.85 2.8v5.6l-4.85 2.8l-4.85 -2.8v-5.6z"/><path d="M481.47 1608.05l4.85 2.8v5.6l-4.85 2.8l-4.85 -2.8v-5.6z"/><path d="M492.9 1604.86l4.85 2.8v5.6l-4.85 2.8l-4.85 -2.8v-5.6z"/><path d="M504.32 1601.85l4.85 2.8v5.6l-4.85 2.8l-4.85 -2.8v-5.6z"/><path d="M515.75 1599.01l4.85 2.8v5.6l-4.85 2.8l-4.85 -2.8v-5.6z"/><path d="M527.18 1596.31l4.85 2.8v5.6l-4.85 2.8l-4.85 -2.8v-5.6z"/><path d="M538.61 1593.75l4.85 2.8v5.6l-4.85 2.8l-4.85 -2.8v-5.6z"/><path d="M550.03 1591.32l4.85 2.8v5.6l-4.85 2.8l-4.85 -2.8v-5.6z"/><path d="M561.46 1589l4.85 2.8v5.6l-4.85 2.8l-4.85 -2.8v-5.6z"/><path d="M572.89 1586.81l4.85 2.8v5.6l-4.85 2.8l-4.85 -2.8v-5.6z"/><path d="M584.31 1584.75l4.85 2.8v5.6l-4.85 2.8l-4.85 -2.8v-5.6z"/><path d="M595.74 1582.82l4.85 2.8v5.6l-4.85 2.8l-4.85 -2.8v-5.6z"/><path d="M607.17 1581.03l4.85 2.8v5.6l-4.85 2.8l-4.85 -2.8v-5.6z"/><path d="M618.6 1579.34l4.85 2.8v5.6l-4.85 2.8l-4.85 -2.8v-5.6z"/><path d="M630.02 1577.74l4.85 2.8v5.6l-4.85 2.8l-4.85 -2.8v-5.6z"/><path d="M641.45 1576.23l4.85 2.8v5.6l-4.85 2.8l-4.85 -2.8v-5.6z"/><path d="M652.88 1574.83l4.85 2.8v5.6l-4.85 2.8l-4.85 -2.8v-5.6z"/><path d="M664.3 1573.57l4.85 2.8v5.6l-4.85 2.8l-4.85 -2.8v-5.6z"/><path d="M675.73 1572.44l4.85 2.8v5.6l-4.85 2.8l-4.85 -2.8v-5.6z"/><path d="M687.16 1571.41l4.85 2.8v5.6l-4.85 2.8l-4.85 -2.8v-5.6z"/><path d="M698.59 1570.47l4.85 2.8v5.6l-4.85 2.8l-4.85 -2.8v-5.6z"/><path d="M710.01 1569.6l4.85 2.8v5.6l-4.85 2.8l-4.85 -2.8v-5.6z"/><path d="M721.44 1568.79l4.85 2.8v5.6l-4.85 2.8l-4.85 -2.8v-5.6z"/><path d="M732.87 1568.03l4.85 2.8v5.6l-4.85 2.8l-4.85 -2.8v-5.6z"/><path d="M744.29 1567.34l4.85 2.8v5.6l-4.85 2.8l-4.85 -2.8v-5.6z"/><path d="M755.72 1566.7l4.85 2.8v5.6l-4.85 2.8l-4.85 -2.8v-5.6z"/><path d="M767.15 1566.11l4.85 2.8v5.6l-4.85 2.8l-4.85 -2.8v-5.6z"/><path d="M778.57 1565.56l4.85 2.8v5.6l-4.85 2.8l-4.85 -2.8v-5.6z"/><path d="M790 1565.04l4.85 2.8v5.6l-4.85 2.8l-4.85 -2.8v-5.6z"/><path d="M801.43 1564.56l4.85 2.8v5.6l-4.85 2.8l-4.85 -2.8v-5.6z"/><path d="M812.86 1564.1l4.85 2.8v5.6l-4.85 2.8l-4.85 -2.8v-5.6z"/><path d="M824.28 1563.68l4.85 2.8v5.6l-4.85 2.8l-4.85 -2.8v-5.6z"/><path d="M835.71 1563.28l4.85 2.8v5.6l-4.85 2.8l-4.85 -2.8v-5.6z"/><path d="M847.14 1562.9l4.85 2.8v5.6l-4.85 2.8l-4.85 -2.8v-5.6z"/><path d="M858.56 1562.54l4.85 2.8v5.6l-4.85 2.8l-4.85 -2.8v-5.6z"/><path d="M869.99 1562.19l4.85 2.8v5.6l-4.85 2.8l-4.85 -2.8v-5.6z"/><path d="M881.42 1561.87l4.85 2.8v5.6l-4.85 2.8l-4.85 -2.8v-5.6z"/><path d="M892.85 1561.57l4.85 2.8v5.6l-4.85 2.8l-4.85 -2.8v-5.6z"/><path d="M904.27 1561.29l4.85 2.8v5.6l-4.85 2.8l-4.85 -2.8v-5.6z"/><path d="M915.7 1561.03l4.85 2.8v5.6l-4.85 2.8l-4.85 -2.8v-5.6z"/></g></g>
<g clip-path="url(#clipe)"><polyline points="161.51,1838.84 172.94,1829.32 184.37,1819.8 195.79,1810.29 207.22,1800.81 218.65,1791.36 230.07,1781.93 241.5,1772.53 252.93,1763.15 264.36,1753.75 275.78,1744.34 287.21,1734.96 298.64,1725.69 310.06,1716.59 321.49,1707.73 332.92,1699.12 344.35,1690.73 355.77,1682.57 367.2,1674.63 378.63,1666.89 390.05,1659.35 401.48,1652.05 412.91,1644.99 424.33,1638.17 435.76,1631.58 447.19,1625.32 458.62,1619.45 470.04,1614.01 481.47,1608.99 492.9,1604.38 504.32,1600.13 515.75,1596.23 527.18,1592.66 538.61,1589.38 550.03,1586.37 561.46,1583.69 572.89,1581.38 584.31,1579.39 595.74,1577.66 607.17,1576.12 618.6,1574.77 630.02,1573.57 641.45,1572.51 652.88,1571.54 664.3,1570.65 675.73,1569.84 687.16,1569.09 698.59,1568.41 710.01,1567.78 721.44,1567.2 732.87,1566.66 744.29,1566.16 755.72,1565.69 767.15,1565.26 778.57,1564.87 790,1564.52 801.43,1564.2 812.86,1563.9 824.28,1563.61 835.71,1563.34 847.14,1563.08 858.56,1562.84 869.99,1562.63 881.42,1562.43 892.85,1562.26 904.27,1562.13 915.7,1562.01" fill="none" stroke="#6a0a2e" stroke-width="3.0" stroke-linejoin="round"/><g fill="#9b0c42" stroke="#6a0a2e" stroke-width="1"><path d="M172.94 1823.72l4.85 2.8v5.6l-4.85 2.8l-4.85 -2.8v-5.6z"/><path d="M184.37 1814.2l4.85 2.8v5.6l-4.85 2.8l-4.85 -2.8v-5.6z"/><path d="M195.79 1804.69l4.85 2.8v5.6l-4.85 2.8l-4.85 -2.8v-5.6z"/><path d="M207.22 1795.21l4.85 2.8v5.6l-4.85 2.8l-4.85 -2.8v-5.6z"/><path d="M218.65 1785.76l4.85 2.8v5.6l-4.85 2.8l-4.85 -2.8v-5.6z"/><path d="M230.07 1776.33l4.85 2.8v5.6l-4.85 2.8l-4.85 -2.8v-5.6z"/><path d="M241.5 1766.93l4.85 2.8v5.6l-4.85 2.8l-4.85 -2.8v-5.6z"/><path d="M252.93 1757.55l4.85 2.8v5.6l-4.85 2.8l-4.85 -2.8v-5.6z"/><path d="M264.36 1748.15l4.85 2.8v5.6l-4.85 2.8l-4.85 -2.8v-5.6z"/><path d="M275.78 1738.74l4.85 2.8v5.6l-4.85 2.8l-4.85 -2.8v-5.6z"/><path d="M287.21 1729.36l4.85 2.8v5.6l-4.85 2.8l-4.85 -2.8v-5.6z"/><path d="M298.64 1720.09l4.85 2.8v5.6l-4.85 2.8l-4.85 -2.8v-5.6z"/><path d="M310.06 1710.99l4.85 2.8v5.6l-4.85 2.8l-4.85 -2.8v-5.6z"/><path d="M321.49 1702.13l4.85 2.8v5.6l-4.85 2.8l-4.85 -2.8v-5.6z"/><path d="M332.92 1693.52l4.85 2.8v5.6l-4.85 2.8l-4.85 -2.8v-5.6z"/><path d="M344.35 1685.13l4.85 2.8v5.6l-4.85 2.8l-4.85 -2.8v-5.6z"/><path d="M355.77 1676.97l4.85 2.8v5.6l-4.85 2.8l-4.85 -2.8v-5.6z"/><path d="M367.2 1669.03l4.85 2.8v5.6l-4.85 2.8l-4.85 -2.8v-5.6z"/><path d="M378.63 1661.29l4.85 2.8v5.6l-4.85 2.8l-4.85 -2.8v-5.6z"/><path d="M390.05 1653.75l4.85 2.8v5.6l-4.85 2.8l-4.85 -2.8v-5.6z"/><path d="M401.48 1646.45l4.85 2.8v5.6l-4.85 2.8l-4.85 -2.8v-5.6z"/><path d="M412.91 1639.39l4.85 2.8v5.6l-4.85 2.8l-4.85 -2.8v-5.6z"/><path d="M424.33 1632.57l4.85 2.8v5.6l-4.85 2.8l-4.85 -2.8v-5.6z"/><path d="M435.76 1625.98l4.85 2.8v5.6l-4.85 2.8l-4.85 -2.8v-5.6z"/><path d="M447.19 1619.72l4.85 2.8v5.6l-4.85 2.8l-4.85 -2.8v-5.6z"/><path d="M458.62 1613.85l4.85 2.8v5.6l-4.85 2.8l-4.85 -2.8v-5.6z"/><path d="M470.04 1608.41l4.85 2.8v5.6l-4.85 2.8l-4.85 -2.8v-5.6z"/><path d="M481.47 1603.39l4.85 2.8v5.6l-4.85 2.8l-4.85 -2.8v-5.6z"/><path d="M492.9 1598.78l4.85 2.8v5.6l-4.85 2.8l-4.85 -2.8v-5.6z"/><path d="M504.32 1594.53l4.85 2.8v5.6l-4.85 2.8l-4.85 -2.8v-5.6z"/><path d="M515.75 1590.63l4.85 2.8v5.6l-4.85 2.8l-4.85 -2.8v-5.6z"/><path d="M527.18 1587.06l4.85 2.8v5.6l-4.85 2.8l-4.85 -2.8v-5.6z"/><path d="M538.61 1583.78l4.85 2.8v5.6l-4.85 2.8l-4.85 -2.8v-5.6z"/><path d="M550.03 1580.77l4.85 2.8v5.6l-4.85 2.8l-4.85 -2.8v-5.6z"/><path d="M561.46 1578.09l4.85 2.8v5.6l-4.85 2.8l-4.85 -2.8v-5.6z"/><path d="M572.89 1575.78l4.85 2.8v5.6l-4.85 2.8l-4.85 -2.8v-5.6z"/><path d="M584.31 1573.79l4.85 2.8v5.6l-4.85 2.8l-4.85 -2.8v-5.6z"/><path d="M595.74 1572.06l4.85 2.8v5.6l-4.85 2.8l-4.85 -2.8v-5.6z"/><path d="M607.17 1570.52l4.85 2.8v5.6l-4.85 2.8l-4.85 -2.8v-5.6z"/><path d="M618.6 1569.17l4.85 2.8v5.6l-4.85 2.8l-4.85 -2.8v-5.6z"/><path d="M630.02 1567.97l4.85 2.8v5.6l-4.85 2.8l-4.85 -2.8v-5.6z"/><path d="M641.45 1566.91l4.85 2.8v5.6l-4.85 2.8l-4.85 -2.8v-5.6z"/><path d="M652.88 1565.94l4.85 2.8v5.6l-4.85 2.8l-4.85 -2.8v-5.6z"/><path d="M664.3 1565.05l4.85 2.8v5.6l-4.85 2.8l-4.85 -2.8v-5.6z"/><path d="M675.73 1564.24l4.85 2.8v5.6l-4.85 2.8l-4.85 -2.8v-5.6z"/><path d="M687.16 1563.49l4.85 2.8v5.6l-4.85 2.8l-4.85 -2.8v-5.6z"/><path d="M698.59 1562.81l4.85 2.8v5.6l-4.85 2.8l-4.85 -2.8v-5.6z"/><path d="M710.01 1562.18l4.85 2.8v5.6l-4.85 2.8l-4.85 -2.8v-5.6z"/><path d="M721.44 1561.6l4.85 2.8v5.6l-4.85 2.8l-4.85 -2.8v-5.6z"/><path d="M732.87 1561.06l4.85 2.8v5.6l-4.85 2.8l-4.85 -2.8v-5.6z"/><path d="M744.29 1560.56l4.85 2.8v5.6l-4.85 2.8l-4.85 -2.8v-5.6z"/><path d="M755.72 1560.09l4.85 2.8v5.6l-4.85 2.8l-4.85 -2.8v-5.6z"/><path d="M767.15 1559.66l4.85 2.8v5.6l-4.85 2.8l-4.85 -2.8v-5.6z"/><path d="M778.57 1559.27l4.85 2.8v5.6l-4.85 2.8l-4.85 -2.8v-5.6z"/><path d="M790 1558.92l4.85 2.8v5.6l-4.85 2.8l-4.85 -2.8v-5.6z"/><path d="M801.43 1558.6l4.85 2.8v5.6l-4.85 2.8l-4.85 -2.8v-5.6z"/><path d="M812.86 1558.3l4.85 2.8v5.6l-4.85 2.8l-4.85 -2.8v-5.6z"/><path d="M824.28 1558.01l4.85 2.8v5.6l-4.85 2.8l-4.85 -2.8v-5.6z"/><path d="M835.71 1557.74l4.85 2.8v5.6l-4.85 2.8l-4.85 -2.8v-5.6z"/><path d="M847.14 1557.48l4.85 2.8v5.6l-4.85 2.8l-4.85 -2.8v-5.6z"/><path d="M858.56 1557.24l4.85 2.8v5.6l-4.85 2.8l-4.85 -2.8v-5.6z"/><path d="M869.99 1557.03l4.85 2.8v5.6l-4.85 2.8l-4.85 -2.8v-5.6z"/><path d="M881.42 1556.83l4.85 2.8v5.6l-4.85 2.8l-4.85 -2.8v-5.6z"/><path d="M892.85 1556.66l4.85 2.8v5.6l-4.85 2.8l-4.85 -2.8v-5.6z"/><path d="M904.27 1556.53l4.85 2.8v5.6l-4.85 2.8l-4.85 -2.8v-5.6z"/><path d="M915.7 1556.41l4.85 2.8v5.6l-4.85 2.8l-4.85 -2.8v-5.6z"/></g></g>
<g clip-path="url(#clipe)"><polyline points="161.51,2119.46 172.94,2096.56 184.37,2073.84 195.79,2051.56 207.22,2029.79 218.65,2008.31 230.07,1986.89 241.5,1965.48 252.93,1944.13 264.36,1922.97 275.78,1902 287.21,1881.15 298.64,1860.51 310.06,1840.04 321.49,1819.65 332.92,1799.32 344.35,1779.25 355.77,1759.63 367.2,1740.58 378.63,1722.34 390.05,1705.26 401.48,1689.49 412.91,1674.95 424.33,1661.55 435.76,1649.21 447.19,1637.77 458.62,1627.05 470.04,1617.11 481.47,1608.28 492.9,1600.7 504.32,1594.25 515.75,1588.75 527.18,1584.11 538.61,1580.26 550.03,1577.11 561.46,1574.51 572.89,1572.32 584.31,1570.43 595.74,1568.81 607.17,1567.45 618.6,1566.29 630.02,1565.28 641.45,1564.4 652.88,1563.63 664.3,1562.97 675.73,1562.43 687.16,1561.97 698.59,1561.57 710.01,1561.21 721.44,1560.89 732.87,1560.61 744.29,1560.35 755.72,1560.13 767.15,1559.93 778.57,1559.74 790,1559.58 801.43,1559.43 812.86,1559.29 824.28,1559.16 835.71,1559.05 847.14,1558.95 858.56,1558.85 869.99,1558.76 881.42,1558.68 892.85,1558.6 904.27,1558.54 915.7,1558.49" fill="none" stroke="#b02d4a" stroke-width="3.0" stroke-linejoin="round"/><g fill="#d32e50" stroke="#b02d4a" stroke-width="1"><path d="M172.94 2090.96l4.85 2.8v5.6l-4.85 2.8l-4.85 -2.8v-5.6z"/><path d="M184.37 2068.24l4.85 2.8v5.6l-4.85 2.8l-4.85 -2.8v-5.6z"/><path d="M195.79 2045.96l4.85 2.8v5.6l-4.85 2.8l-4.85 -2.8v-5.6z"/><path d="M207.22 2024.19l4.85 2.8v5.6l-4.85 2.8l-4.85 -2.8v-5.6z"/><path d="M218.65 2002.71l4.85 2.8v5.6l-4.85 2.8l-4.85 -2.8v-5.6z"/><path d="M230.07 1981.29l4.85 2.8v5.6l-4.85 2.8l-4.85 -2.8v-5.6z"/><path d="M241.5 1959.88l4.85 2.8v5.6l-4.85 2.8l-4.85 -2.8v-5.6z"/><path d="M252.93 1938.53l4.85 2.8v5.6l-4.85 2.8l-4.85 -2.8v-5.6z"/><path d="M264.36 1917.37l4.85 2.8v5.6l-4.85 2.8l-4.85 -2.8v-5.6z"/><path d="M275.78 1896.4l4.85 2.8v5.6l-4.85 2.8l-4.85 -2.8v-5.6z"/><path d="M287.21 1875.55l4.85 2.8v5.6l-4.85 2.8l-4.85 -2.8v-5.6z"/><path d="M298.64 1854.91l4.85 2.8v5.6l-4.85 2.8l-4.85 -2.8v-5.6z"/><path d="M310.06 1834.44l4.85 2.8v5.6l-4.85 2.8l-4.85 -2.8v-5.6z"/><path d="M321.49 1814.05l4.85 2.8v5.6l-4.85 2.8l-4.85 -2.8v-5.6z"/><path d="M332.92 1793.72l4.85 2.8v5.6l-4.85 2.8l-4.85 -2.8v-5.6z"/><path d="M344.35 1773.65l4.85 2.8v5.6l-4.85 2.8l-4.85 -2.8v-5.6z"/><path d="M355.77 1754.03l4.85 2.8v5.6l-4.85 2.8l-4.85 -2.8v-5.6z"/><path d="M367.2 1734.98l4.85 2.8v5.6l-4.85 2.8l-4.85 -2.8v-5.6z"/><path d="M378.63 1716.74l4.85 2.8v5.6l-4.85 2.8l-4.85 -2.8v-5.6z"/><path d="M390.05 1699.66l4.85 2.8v5.6l-4.85 2.8l-4.85 -2.8v-5.6z"/><path d="M401.48 1683.89l4.85 2.8v5.6l-4.85 2.8l-4.85 -2.8v-5.6z"/><path d="M412.91 1669.35l4.85 2.8v5.6l-4.85 2.8l-4.85 -2.8v-5.6z"/><path d="M424.33 1655.95l4.85 2.8v5.6l-4.85 2.8l-4.85 -2.8v-5.6z"/><path d="M435.76 1643.61l4.85 2.8v5.6l-4.85 2.8l-4.85 -2.8v-5.6z"/><path d="M447.19 1632.17l4.85 2.8v5.6l-4.85 2.8l-4.85 -2.8v-5.6z"/><path d="M458.62 1621.45l4.85 2.8v5.6l-4.85 2.8l-4.85 -2.8v-5.6z"/><path d="M470.04 1611.51l4.85 2.8v5.6l-4.85 2.8l-4.85 -2.8v-5.6z"/><path d="M481.47 1602.68l4.85 2.8v5.6l-4.85 2.8l-4.85 -2.8v-5.6z"/><path d="M492.9 1595.1l4.85 2.8v5.6l-4.85 2.8l-4.85 -2.8v-5.6z"/><path d="M504.32 1588.65l4.85 2.8v5.6l-4.85 2.8l-4.85 -2.8v-5.6z"/><path d="M515.75 1583.15l4.85 2.8v5.6l-4.85 2.8l-4.85 -2.8v-5.6z"/><path d="M527.18 1578.51l4.85 2.8v5.6l-4.85 2.8l-4.85 -2.8v-5.6z"/><path d="M538.61 1574.66l4.85 2.8v5.6l-4.85 2.8l-4.85 -2.8v-5.6z"/><path d="M550.03 1571.51l4.85 2.8v5.6l-4.85 2.8l-4.85 -2.8v-5.6z"/><path d="M561.46 1568.91l4.85 2.8v5.6l-4.85 2.8l-4.85 -2.8v-5.6z"/><path d="M572.89 1566.72l4.85 2.8v5.6l-4.85 2.8l-4.85 -2.8v-5.6z"/><path d="M584.31 1564.83l4.85 2.8v5.6l-4.85 2.8l-4.85 -2.8v-5.6z"/><path d="M595.74 1563.21l4.85 2.8v5.6l-4.85 2.8l-4.85 -2.8v-5.6z"/><path d="M607.17 1561.85l4.85 2.8v5.6l-4.85 2.8l-4.85 -2.8v-5.6z"/><path d="M618.6 1560.69l4.85 2.8v5.6l-4.85 2.8l-4.85 -2.8v-5.6z"/><path d="M630.02 1559.68l4.85 2.8v5.6l-4.85 2.8l-4.85 -2.8v-5.6z"/><path d="M641.45 1558.8l4.85 2.8v5.6l-4.85 2.8l-4.85 -2.8v-5.6z"/><path d="M652.88 1558.03l4.85 2.8v5.6l-4.85 2.8l-4.85 -2.8v-5.6z"/><path d="M664.3 1557.37l4.85 2.8v5.6l-4.85 2.8l-4.85 -2.8v-5.6z"/><path d="M675.73 1556.83l4.85 2.8v5.6l-4.85 2.8l-4.85 -2.8v-5.6z"/><path d="M687.16 1556.37l4.85 2.8v5.6l-4.85 2.8l-4.85 -2.8v-5.6z"/><path d="M698.59 1555.97l4.85 2.8v5.6l-4.85 2.8l-4.85 -2.8v-5.6z"/><path d="M710.01 1555.61l4.85 2.8v5.6l-4.85 2.8l-4.85 -2.8v-5.6z"/><path d="M721.44 1555.29l4.85 2.8v5.6l-4.85 2.8l-4.85 -2.8v-5.6z"/><path d="M732.87 1555.01l4.85 2.8v5.6l-4.85 2.8l-4.85 -2.8v-5.6z"/><path d="M744.29 1554.75l4.85 2.8v5.6l-4.85 2.8l-4.85 -2.8v-5.6z"/><path d="M755.72 1554.53l4.85 2.8v5.6l-4.85 2.8l-4.85 -2.8v-5.6z"/><path d="M767.15 1554.33l4.85 2.8v5.6l-4.85 2.8l-4.85 -2.8v-5.6z"/><path d="M778.57 1554.14l4.85 2.8v5.6l-4.85 2.8l-4.85 -2.8v-5.6z"/><path d="M790 1553.98l4.85 2.8v5.6l-4.85 2.8l-4.85 -2.8v-5.6z"/><path d="M801.43 1553.83l4.85 2.8v5.6l-4.85 2.8l-4.85 -2.8v-5.6z"/><path d="M812.86 1553.69l4.85 2.8v5.6l-4.85 2.8l-4.85 -2.8v-5.6z"/><path d="M824.28 1553.56l4.85 2.8v5.6l-4.85 2.8l-4.85 -2.8v-5.6z"/><path d="M835.71 1553.45l4.85 2.8v5.6l-4.85 2.8l-4.85 -2.8v-5.6z"/><path d="M847.14 1553.35l4.85 2.8v5.6l-4.85 2.8l-4.85 -2.8v-5.6z"/><path d="M858.56 1553.25l4.85 2.8v5.6l-4.85 2.8l-4.85 -2.8v-5.6z"/><path d="M869.99 1553.16l4.85 2.8v5.6l-4.85 2.8l-4.85 -2.8v-5.6z"/><path d="M881.42 1553.08l4.85 2.8v5.6l-4.85 2.8l-4.85 -2.8v-5.6z"/><path d="M892.85 1553l4.85 2.8v5.6l-4.85 2.8l-4.85 -2.8v-5.6z"/><path d="M904.27 1552.94l4.85 2.8v5.6l-4.85 2.8l-4.85 -2.8v-5.6z"/><path d="M915.7 1552.89l4.85 2.8v5.6l-4.85 2.8l-4.85 -2.8v-5.6z"/></g></g>
<g clip-path="url(#clipf)"><polyline points="1153.81,2112.07 1165.24,2111.9 1176.67,2111.69 1188.09,2111.44 1199.52,2111.14 1210.95,2110.78 1222.37,2110.34 1233.8,2109.81 1245.23,2109.17 1256.66,2108.4 1268.08,2107.46 1279.51,2106.33 1290.94,2104.99 1302.36,2103.42 1313.79,2101.62 1325.22,2099.57 1336.65,2097.22 1348.07,2094.55 1359.5,2091.47 1370.93,2087.93 1382.35,2083.81 1393.78,2079.02 1405.21,2073.51 1416.63,2067.33 1428.06,2060.58 1439.49,2053.3 1450.92,2045.44 1462.34,2036.97 1473.77,2027.93 1485.2,2018.38 1496.62,2008.39 1508.05,1998 1519.48,1987.19 1530.91,1975.98 1542.33,1964.4 1553.76,1952.48 1565.19,1940.3 1576.61,1927.99 1588.04,1915.71 1599.47,1903.55 1610.9,1891.44 1622.32,1879.29 1633.75,1867.21 1645.18,1855.48 1656.6,1844.39 1668.03,1834.06 1679.46,1824.37 1690.89,1815.15 1702.31,1806.33 1713.74,1797.91 1725.17,1789.93 1736.59,1782.38 1748.02,1775.24 1759.45,1768.5 1770.87,1762.09 1782.3,1755.99 1793.73,1750.19 1805.16,1744.67 1816.58,1739.4 1828.01,1734.37 1839.44,1729.53 1850.86,1724.86 1862.29,1720.39 1873.72,1716.14 1885.15,1712.14 1896.57,1708.41 1908,1704.94" fill="none" stroke="#2a0414" stroke-width="3.0" stroke-linejoin="round"/><g fill="#450b24" stroke="#2a0414" stroke-width="1"><path d="M1165.24 2106.3l4.85 2.8v5.6l-4.85 2.8l-4.85 -2.8v-5.6z"/><path d="M1176.67 2106.09l4.85 2.8v5.6l-4.85 2.8l-4.85 -2.8v-5.6z"/><path d="M1188.09 2105.84l4.85 2.8v5.6l-4.85 2.8l-4.85 -2.8v-5.6z"/><path d="M1199.52 2105.54l4.85 2.8v5.6l-4.85 2.8l-4.85 -2.8v-5.6z"/><path d="M1210.95 2105.18l4.85 2.8v5.6l-4.85 2.8l-4.85 -2.8v-5.6z"/><path d="M1222.37 2104.74l4.85 2.8v5.6l-4.85 2.8l-4.85 -2.8v-5.6z"/><path d="M1233.8 2104.21l4.85 2.8v5.6l-4.85 2.8l-4.85 -2.8v-5.6z"/><path d="M1245.23 2103.57l4.85 2.8v5.6l-4.85 2.8l-4.85 -2.8v-5.6z"/><path d="M1256.66 2102.8l4.85 2.8v5.6l-4.85 2.8l-4.85 -2.8v-5.6z"/><path d="M1268.08 2101.86l4.85 2.8v5.6l-4.85 2.8l-4.85 -2.8v-5.6z"/><path d="M1279.51 2100.73l4.85 2.8v5.6l-4.85 2.8l-4.85 -2.8v-5.6z"/><path d="M1290.94 2099.39l4.85 2.8v5.6l-4.85 2.8l-4.85 -2.8v-5.6z"/><path d="M1302.36 2097.82l4.85 2.8v5.6l-4.85 2.8l-4.85 -2.8v-5.6z"/><path d="M1313.79 2096.02l4.85 2.8v5.6l-4.85 2.8l-4.85 -2.8v-5.6z"/><path d="M1325.22 2093.97l4.85 2.8v5.6l-4.85 2.8l-4.85 -2.8v-5.6z"/><path d="M1336.65 2091.62l4.85 2.8v5.6l-4.85 2.8l-4.85 -2.8v-5.6z"/><path d="M1348.07 2088.95l4.85 2.8v5.6l-4.85 2.8l-4.85 -2.8v-5.6z"/><path d="M1359.5 2085.87l4.85 2.8v5.6l-4.85 2.8l-4.85 -2.8v-5.6z"/><path d="M1370.93 2082.33l4.85 2.8v5.6l-4.85 2.8l-4.85 -2.8v-5.6z"/><path d="M1382.35 2078.21l4.85 2.8v5.6l-4.85 2.8l-4.85 -2.8v-5.6z"/><path d="M1393.78 2073.42l4.85 2.8v5.6l-4.85 2.8l-4.85 -2.8v-5.6z"/><path d="M1405.21 2067.91l4.85 2.8v5.6l-4.85 2.8l-4.85 -2.8v-5.6z"/><path d="M1416.63 2061.73l4.85 2.8v5.6l-4.85 2.8l-4.85 -2.8v-5.6z"/><path d="M1428.06 2054.98l4.85 2.8v5.6l-4.85 2.8l-4.85 -2.8v-5.6z"/><path d="M1439.49 2047.7l4.85 2.8v5.6l-4.85 2.8l-4.85 -2.8v-5.6z"/><path d="M1450.92 2039.84l4.85 2.8v5.6l-4.85 2.8l-4.85 -2.8v-5.6z"/><path d="M1462.34 2031.37l4.85 2.8v5.6l-4.85 2.8l-4.85 -2.8v-5.6z"/><path d="M1473.77 2022.33l4.85 2.8v5.6l-4.85 2.8l-4.85 -2.8v-5.6z"/><path d="M1485.2 2012.78l4.85 2.8v5.6l-4.85 2.8l-4.85 -2.8v-5.6z"/><path d="M1496.62 2002.79l4.85 2.8v5.6l-4.85 2.8l-4.85 -2.8v-5.6z"/><path d="M1508.05 1992.4l4.85 2.8v5.6l-4.85 2.8l-4.85 -2.8v-5.6z"/><path d="M1519.48 1981.59l4.85 2.8v5.6l-4.85 2.8l-4.85 -2.8v-5.6z"/><path d="M1530.91 1970.38l4.85 2.8v5.6l-4.85 2.8l-4.85 -2.8v-5.6z"/><path d="M1542.33 1958.8l4.85 2.8v5.6l-4.85 2.8l-4.85 -2.8v-5.6z"/><path d="M1553.76 1946.88l4.85 2.8v5.6l-4.85 2.8l-4.85 -2.8v-5.6z"/><path d="M1565.19 1934.7l4.85 2.8v5.6l-4.85 2.8l-4.85 -2.8v-5.6z"/><path d="M1576.61 1922.39l4.85 2.8v5.6l-4.85 2.8l-4.85 -2.8v-5.6z"/><path d="M1588.04 1910.11l4.85 2.8v5.6l-4.85 2.8l-4.85 -2.8v-5.6z"/><path d="M1599.47 1897.95l4.85 2.8v5.6l-4.85 2.8l-4.85 -2.8v-5.6z"/><path d="M1610.9 1885.84l4.85 2.8v5.6l-4.85 2.8l-4.85 -2.8v-5.6z"/><path d="M1622.32 1873.69l4.85 2.8v5.6l-4.85 2.8l-4.85 -2.8v-5.6z"/><path d="M1633.75 1861.61l4.85 2.8v5.6l-4.85 2.8l-4.85 -2.8v-5.6z"/><path d="M1645.18 1849.88l4.85 2.8v5.6l-4.85 2.8l-4.85 -2.8v-5.6z"/><path d="M1656.6 1838.79l4.85 2.8v5.6l-4.85 2.8l-4.85 -2.8v-5.6z"/><path d="M1668.03 1828.46l4.85 2.8v5.6l-4.85 2.8l-4.85 -2.8v-5.6z"/><path d="M1679.46 1818.77l4.85 2.8v5.6l-4.85 2.8l-4.85 -2.8v-5.6z"/><path d="M1690.89 1809.55l4.85 2.8v5.6l-4.85 2.8l-4.85 -2.8v-5.6z"/><path d="M1702.31 1800.73l4.85 2.8v5.6l-4.85 2.8l-4.85 -2.8v-5.6z"/><path d="M1713.74 1792.31l4.85 2.8v5.6l-4.85 2.8l-4.85 -2.8v-5.6z"/><path d="M1725.17 1784.33l4.85 2.8v5.6l-4.85 2.8l-4.85 -2.8v-5.6z"/><path d="M1736.59 1776.78l4.85 2.8v5.6l-4.85 2.8l-4.85 -2.8v-5.6z"/><path d="M1748.02 1769.64l4.85 2.8v5.6l-4.85 2.8l-4.85 -2.8v-5.6z"/><path d="M1759.45 1762.9l4.85 2.8v5.6l-4.85 2.8l-4.85 -2.8v-5.6z"/><path d="M1770.87 1756.49l4.85 2.8v5.6l-4.85 2.8l-4.85 -2.8v-5.6z"/><path d="M1782.3 1750.39l4.85 2.8v5.6l-4.85 2.8l-4.85 -2.8v-5.6z"/><path d="M1793.73 1744.59l4.85 2.8v5.6l-4.85 2.8l-4.85 -2.8v-5.6z"/><path d="M1805.16 1739.07l4.85 2.8v5.6l-4.85 2.8l-4.85 -2.8v-5.6z"/><path d="M1816.58 1733.8l4.85 2.8v5.6l-4.85 2.8l-4.85 -2.8v-5.6z"/><path d="M1828.01 1728.77l4.85 2.8v5.6l-4.85 2.8l-4.85 -2.8v-5.6z"/><path d="M1839.44 1723.93l4.85 2.8v5.6l-4.85 2.8l-4.85 -2.8v-5.6z"/><path d="M1850.86 1719.26l4.85 2.8v5.6l-4.85 2.8l-4.85 -2.8v-5.6z"/><path d="M1862.29 1714.79l4.85 2.8v5.6l-4.85 2.8l-4.85 -2.8v-5.6z"/><path d="M1873.72 1710.54l4.85 2.8v5.6l-4.85 2.8l-4.85 -2.8v-5.6z"/><path d="M1885.15 1706.54l4.85 2.8v5.6l-4.85 2.8l-4.85 -2.8v-5.6z"/><path d="M1896.57 1702.81l4.85 2.8v5.6l-4.85 2.8l-4.85 -2.8v-5.6z"/><path d="M1908 1699.34l4.85 2.8v5.6l-4.85 2.8l-4.85 -2.8v-5.6z"/></g></g>
<g clip-path="url(#clipf)"><polyline points="1153.81,2112.85 1165.24,2112.84 1176.67,2112.81 1188.09,2112.78 1199.52,2112.74 1210.95,2112.67 1222.37,2112.59 1233.8,2112.48 1245.23,2112.32 1256.66,2112.11 1268.08,2111.82 1279.51,2111.42 1290.94,2110.88 1302.36,2110.16 1313.79,2109.22 1325.22,2108 1336.65,2106.41 1348.07,2104.38 1359.5,2101.8 1370.93,2098.52 1382.35,2094.41 1393.78,2089.31 1405.21,2083.05 1416.63,2075.41 1428.06,2066.19 1439.49,2055.33 1450.92,2042.88 1462.34,2028.94 1473.77,2013.64 1485.2,1997.12 1496.62,1979.49 1508.05,1960.94 1519.48,1941.7 1530.91,1921.9 1542.33,1901.76 1553.76,1882 1565.19,1863.46 1576.61,1846.39 1588.04,1830.51 1599.47,1815.67 1610.9,1801.92 1622.32,1789.27 1633.75,1777.56 1645.18,1766.55 1656.6,1756.13 1668.03,1746.29 1679.46,1737.03 1690.89,1728.35 1702.31,1720.22 1713.74,1712.55 1725.17,1705.28 1736.59,1698.37 1748.02,1691.86 1759.45,1685.79 1770.87,1680.21 1782.3,1675.11 1793.73,1670.42 1805.16,1665.97 1816.58,1661.67 1828.01,1657.54 1839.44,1653.6 1850.86,1649.92 1862.29,1646.54 1873.72,1643.51 1885.15,1640.89 1896.57,1638.7 1908,1636.92" fill="none" stroke="#6a0a2e" stroke-width="3.0" stroke-linejoin="round"/><g fill="#9b0c42" stroke="#6a0a2e" stroke-width="1"><path d="M1165.24 2107.24l4.85 2.8v5.6l-4.85 2.8l-4.85 -2.8v-5.6z"/><path d="M1176.67 2107.21l4.85 2.8v5.6l-4.85 2.8l-4.85 -2.8v-5.6z"/><path d="M1188.09 2107.18l4.85 2.8v5.6l-4.85 2.8l-4.85 -2.8v-5.6z"/><path d="M1199.52 2107.14l4.85 2.8v5.6l-4.85 2.8l-4.85 -2.8v-5.6z"/><path d="M1210.95 2107.07l4.85 2.8v5.6l-4.85 2.8l-4.85 -2.8v-5.6z"/><path d="M1222.37 2106.99l4.85 2.8v5.6l-4.85 2.8l-4.85 -2.8v-5.6z"/><path d="M1233.8 2106.88l4.85 2.8v5.6l-4.85 2.8l-4.85 -2.8v-5.6z"/><path d="M1245.23 2106.72l4.85 2.8v5.6l-4.85 2.8l-4.85 -2.8v-5.6z"/><path d="M1256.66 2106.51l4.85 2.8v5.6l-4.85 2.8l-4.85 -2.8v-5.6z"/><path d="M1268.08 2106.22l4.85 2.8v5.6l-4.85 2.8l-4.85 -2.8v-5.6z"/><path d="M1279.51 2105.82l4.85 2.8v5.6l-4.85 2.8l-4.85 -2.8v-5.6z"/><path d="M1290.94 2105.28l4.85 2.8v5.6l-4.85 2.8l-4.85 -2.8v-5.6z"/><path d="M1302.36 2104.56l4.85 2.8v5.6l-4.85 2.8l-4.85 -2.8v-5.6z"/><path d="M1313.79 2103.62l4.85 2.8v5.6l-4.85 2.8l-4.85 -2.8v-5.6z"/><path d="M1325.22 2102.4l4.85 2.8v5.6l-4.85 2.8l-4.85 -2.8v-5.6z"/><path d="M1336.65 2100.81l4.85 2.8v5.6l-4.85 2.8l-4.85 -2.8v-5.6z"/><path d="M1348.07 2098.78l4.85 2.8v5.6l-4.85 2.8l-4.85 -2.8v-5.6z"/><path d="M1359.5 2096.2l4.85 2.8v5.6l-4.85 2.8l-4.85 -2.8v-5.6z"/><path d="M1370.93 2092.92l4.85 2.8v5.6l-4.85 2.8l-4.85 -2.8v-5.6z"/><path d="M1382.35 2088.81l4.85 2.8v5.6l-4.85 2.8l-4.85 -2.8v-5.6z"/><path d="M1393.78 2083.71l4.85 2.8v5.6l-4.85 2.8l-4.85 -2.8v-5.6z"/><path d="M1405.21 2077.45l4.85 2.8v5.6l-4.85 2.8l-4.85 -2.8v-5.6z"/><path d="M1416.63 2069.81l4.85 2.8v5.6l-4.85 2.8l-4.85 -2.8v-5.6z"/><path d="M1428.06 2060.59l4.85 2.8v5.6l-4.85 2.8l-4.85 -2.8v-5.6z"/><path d="M1439.49 2049.73l4.85 2.8v5.6l-4.85 2.8l-4.85 -2.8v-5.6z"/><path d="M1450.92 2037.28l4.85 2.8v5.6l-4.85 2.8l-4.85 -2.8v-5.6z"/><path d="M1462.34 2023.34l4.85 2.8v5.6l-4.85 2.8l-4.85 -2.8v-5.6z"/><path d="M1473.77 2008.04l4.85 2.8v5.6l-4.85 2.8l-4.85 -2.8v-5.6z"/><path d="M1485.2 1991.52l4.85 2.8v5.6l-4.85 2.8l-4.85 -2.8v-5.6z"/><path d="M1496.62 1973.89l4.85 2.8v5.6l-4.85 2.8l-4.85 -2.8v-5.6z"/><path d="M1508.05 1955.34l4.85 2.8v5.6l-4.85 2.8l-4.85 -2.8v-5.6z"/><path d="M1519.48 1936.1l4.85 2.8v5.6l-4.85 2.8l-4.85 -2.8v-5.6z"/><path d="M1530.91 1916.3l4.85 2.8v5.6l-4.85 2.8l-4.85 -2.8v-5.6z"/><path d="M1542.33 1896.16l4.85 2.8v5.6l-4.85 2.8l-4.85 -2.8v-5.6z"/><path d="M1553.76 1876.4l4.85 2.8v5.6l-4.85 2.8l-4.85 -2.8v-5.6z"/><path d="M1565.19 1857.86l4.85 2.8v5.6l-4.85 2.8l-4.85 -2.8v-5.6z"/><path d="M1576.61 1840.79l4.85 2.8v5.6l-4.85 2.8l-4.85 -2.8v-5.6z"/><path d="M1588.04 1824.91l4.85 2.8v5.6l-4.85 2.8l-4.85 -2.8v-5.6z"/><path d="M1599.47 1810.07l4.85 2.8v5.6l-4.85 2.8l-4.85 -2.8v-5.6z"/><path d="M1610.9 1796.32l4.85 2.8v5.6l-4.85 2.8l-4.85 -2.8v-5.6z"/><path d="M1622.32 1783.67l4.85 2.8v5.6l-4.85 2.8l-4.85 -2.8v-5.6z"/><path d="M1633.75 1771.96l4.85 2.8v5.6l-4.85 2.8l-4.85 -2.8v-5.6z"/><path d="M1645.18 1760.95l4.85 2.8v5.6l-4.85 2.8l-4.85 -2.8v-5.6z"/><path d="M1656.6 1750.53l4.85 2.8v5.6l-4.85 2.8l-4.85 -2.8v-5.6z"/><path d="M1668.03 1740.69l4.85 2.8v5.6l-4.85 2.8l-4.85 -2.8v-5.6z"/><path d="M1679.46 1731.43l4.85 2.8v5.6l-4.85 2.8l-4.85 -2.8v-5.6z"/><path d="M1690.89 1722.75l4.85 2.8v5.6l-4.85 2.8l-4.85 -2.8v-5.6z"/><path d="M1702.31 1714.62l4.85 2.8v5.6l-4.85 2.8l-4.85 -2.8v-5.6z"/><path d="M1713.74 1706.95l4.85 2.8v5.6l-4.85 2.8l-4.85 -2.8v-5.6z"/><path d="M1725.17 1699.68l4.85 2.8v5.6l-4.85 2.8l-4.85 -2.8v-5.6z"/><path d="M1736.59 1692.77l4.85 2.8v5.6l-4.85 2.8l-4.85 -2.8v-5.6z"/><path d="M1748.02 1686.26l4.85 2.8v5.6l-4.85 2.8l-4.85 -2.8v-5.6z"/><path d="M1759.45 1680.19l4.85 2.8v5.6l-4.85 2.8l-4.85 -2.8v-5.6z"/><path d="M1770.87 1674.61l4.85 2.8v5.6l-4.85 2.8l-4.85 -2.8v-5.6z"/><path d="M1782.3 1669.51l4.85 2.8v5.6l-4.85 2.8l-4.85 -2.8v-5.6z"/><path d="M1793.73 1664.82l4.85 2.8v5.6l-4.85 2.8l-4.85 -2.8v-5.6z"/><path d="M1805.16 1660.37l4.85 2.8v5.6l-4.85 2.8l-4.85 -2.8v-5.6z"/><path d="M1816.58 1656.07l4.85 2.8v5.6l-4.85 2.8l-4.85 -2.8v-5.6z"/><path d="M1828.01 1651.94l4.85 2.8v5.6l-4.85 2.8l-4.85 -2.8v-5.6z"/><path d="M1839.44 1648l4.85 2.8v5.6l-4.85 2.8l-4.85 -2.8v-5.6z"/><path d="M1850.86 1644.32l4.85 2.8v5.6l-4.85 2.8l-4.85 -2.8v-5.6z"/><path d="M1862.29 1640.94l4.85 2.8v5.6l-4.85 2.8l-4.85 -2.8v-5.6z"/><path d="M1873.72 1637.91l4.85 2.8v5.6l-4.85 2.8l-4.85 -2.8v-5.6z"/><path d="M1885.15 1635.29l4.85 2.8v5.6l-4.85 2.8l-4.85 -2.8v-5.6z"/><path d="M1896.57 1633.1l4.85 2.8v5.6l-4.85 2.8l-4.85 -2.8v-5.6z"/><path d="M1908 1631.32l4.85 2.8v5.6l-4.85 2.8l-4.85 -2.8v-5.6z"/></g></g>
<g clip-path="url(#clipf)"><polyline points="1153.81,2112.9 1165.24,2112.9 1176.67,2112.9 1188.09,2112.9 1199.52,2112.9 1210.95,2112.9 1222.37,2112.9 1233.8,2112.9 1245.23,2112.9 1256.66,2112.9 1268.08,2112.89 1279.51,2112.89 1290.94,2112.88 1302.36,2112.86 1313.79,2112.81 1325.22,2112.73 1336.65,2112.56 1348.07,2112.25 1359.5,2111.67 1370.93,2110.64 1382.35,2108.9 1393.78,2106.14 1405.21,2101.91 1416.63,2095.72 1428.06,2086.97 1439.49,2074.91 1450.92,2058.56 1462.34,2037.21 1473.77,2011.25 1485.2,1982 1496.62,1950.58 1508.05,1917.89 1519.48,1885.23 1530.91,1854.01 1542.33,1825.26 1553.76,1799.23 1565.19,1775.44 1576.61,1753.48 1588.04,1733.56 1599.47,1715.87 1610.9,1700.15 1622.32,1686.07 1633.75,1673.34 1645.18,1661.89 1656.6,1651.92 1668.03,1643.52 1679.46,1636.31 1690.89,1629.88 1702.31,1624.05 1713.74,1618.77 1725.17,1614.03 1736.59,1609.79 1748.02,1605.99 1759.45,1602.57 1770.87,1599.45 1782.3,1596.59 1793.73,1593.98 1805.16,1591.6 1816.58,1589.43 1828.01,1587.45 1839.44,1585.62 1850.86,1583.9 1862.29,1582.31 1873.72,1580.85 1885.15,1579.56 1896.57,1578.45 1908,1577.5" fill="none" stroke="#b02d4a" stroke-width="3.0" stroke-linejoin="round"/><g fill="#d32e50" stroke="#b02d4a" stroke-width="1"><path d="M1165.24 2107.3l4.85 2.8v5.6l-4.85 2.8l-4.85 -2.8v-5.6z"/><path d="M1176.67 2107.3l4.85 2.8v5.6l-4.85 2.8l-4.85 -2.8v-5.6z"/><path d="M1188.09 2107.3l4.85 2.8v5.6l-4.85 2.8l-4.85 -2.8v-5.6z"/><path d="M1199.52 2107.3l4.85 2.8v5.6l-4.85 2.8l-4.85 -2.8v-5.6z"/><path d="M1210.95 2107.3l4.85 2.8v5.6l-4.85 2.8l-4.85 -2.8v-5.6z"/><path d="M1222.37 2107.3l4.85 2.8v5.6l-4.85 2.8l-4.85 -2.8v-5.6z"/><path d="M1233.8 2107.3l4.85 2.8v5.6l-4.85 2.8l-4.85 -2.8v-5.6z"/><path d="M1245.23 2107.3l4.85 2.8v5.6l-4.85 2.8l-4.85 -2.8v-5.6z"/><path d="M1256.66 2107.3l4.85 2.8v5.6l-4.85 2.8l-4.85 -2.8v-5.6z"/><path d="M1268.08 2107.29l4.85 2.8v5.6l-4.85 2.8l-4.85 -2.8v-5.6z"/><path d="M1279.51 2107.29l4.85 2.8v5.6l-4.85 2.8l-4.85 -2.8v-5.6z"/><path d="M1290.94 2107.28l4.85 2.8v5.6l-4.85 2.8l-4.85 -2.8v-5.6z"/><path d="M1302.36 2107.26l4.85 2.8v5.6l-4.85 2.8l-4.85 -2.8v-5.6z"/><path d="M1313.79 2107.21l4.85 2.8v5.6l-4.85 2.8l-4.85 -2.8v-5.6z"/><path d="M1325.22 2107.13l4.85 2.8v5.6l-4.85 2.8l-4.85 -2.8v-5.6z"/><path d="M1336.65 2106.96l4.85 2.8v5.6l-4.85 2.8l-4.85 -2.8v-5.6z"/><path d="M1348.07 2106.65l4.85 2.8v5.6l-4.85 2.8l-4.85 -2.8v-5.6z"/><path d="M1359.5 2106.07l4.85 2.8v5.6l-4.85 2.8l-4.85 -2.8v-5.6z"/><path d="M1370.93 2105.04l4.85 2.8v5.6l-4.85 2.8l-4.85 -2.8v-5.6z"/><path d="M1382.35 2103.3l4.85 2.8v5.6l-4.85 2.8l-4.85 -2.8v-5.6z"/><path d="M1393.78 2100.54l4.85 2.8v5.6l-4.85 2.8l-4.85 -2.8v-5.6z"/><path d="M1405.21 2096.31l4.85 2.8v5.6l-4.85 2.8l-4.85 -2.8v-5.6z"/><path d="M1416.63 2090.12l4.85 2.8v5.6l-4.85 2.8l-4.85 -2.8v-5.6z"/><path d="M1428.06 2081.37l4.85 2.8v5.6l-4.85 2.8l-4.85 -2.8v-5.6z"/><path d="M1439.49 2069.31l4.85 2.8v5.6l-4.85 2.8l-4.85 -2.8v-5.6z"/><path d="M1450.92 2052.96l4.85 2.8v5.6l-4.85 2.8l-4.85 -2.8v-5.6z"/><path d="M1462.34 2031.61l4.85 2.8v5.6l-4.85 2.8l-4.85 -2.8v-5.6z"/><path d="M1473.77 2005.65l4.85 2.8v5.6l-4.85 2.8l-4.85 -2.8v-5.6z"/><path d="M1485.2 1976.4l4.85 2.8v5.6l-4.85 2.8l-4.85 -2.8v-5.6z"/><path d="M1496.62 1944.98l4.85 2.8v5.6l-4.85 2.8l-4.85 -2.8v-5.6z"/><path d="M1508.05 1912.29l4.85 2.8v5.6l-4.85 2.8l-4.85 -2.8v-5.6z"/><path d="M1519.48 1879.63l4.85 2.8v5.6l-4.85 2.8l-4.85 -2.8v-5.6z"/><path d="M1530.91 1848.41l4.85 2.8v5.6l-4.85 2.8l-4.85 -2.8v-5.6z"/><path d="M1542.33 1819.66l4.85 2.8v5.6l-4.85 2.8l-4.85 -2.8v-5.6z"/><path d="M1553.76 1793.63l4.85 2.8v5.6l-4.85 2.8l-4.85 -2.8v-5.6z"/><path d="M1565.19 1769.84l4.85 2.8v5.6l-4.85 2.8l-4.85 -2.8v-5.6z"/><path d="M1576.61 1747.88l4.85 2.8v5.6l-4.85 2.8l-4.85 -2.8v-5.6z"/><path d="M1588.04 1727.96l4.85 2.8v5.6l-4.85 2.8l-4.85 -2.8v-5.6z"/><path d="M1599.47 1710.27l4.85 2.8v5.6l-4.85 2.8l-4.85 -2.8v-5.6z"/><path d="M1610.9 1694.55l4.85 2.8v5.6l-4.85 2.8l-4.85 -2.8v-5.6z"/><path d="M1622.32 1680.47l4.85 2.8v5.6l-4.85 2.8l-4.85 -2.8v-5.6z"/><path d="M1633.75 1667.74l4.85 2.8v5.6l-4.85 2.8l-4.85 -2.8v-5.6z"/><path d="M1645.18 1656.29l4.85 2.8v5.6l-4.85 2.8l-4.85 -2.8v-5.6z"/><path d="M1656.6 1646.32l4.85 2.8v5.6l-4.85 2.8l-4.85 -2.8v-5.6z"/><path d="M1668.03 1637.92l4.85 2.8v5.6l-4.85 2.8l-4.85 -2.8v-5.6z"/><path d="M1679.46 1630.71l4.85 2.8v5.6l-4.85 2.8l-4.85 -2.8v-5.6z"/><path d="M1690.89 1624.28l4.85 2.8v5.6l-4.85 2.8l-4.85 -2.8v-5.6z"/><path d="M1702.31 1618.45l4.85 2.8v5.6l-4.85 2.8l-4.85 -2.8v-5.6z"/><path d="M1713.74 1613.17l4.85 2.8v5.6l-4.85 2.8l-4.85 -2.8v-5.6z"/><path d="M1725.17 1608.43l4.85 2.8v5.6l-4.85 2.8l-4.85 -2.8v-5.6z"/><path d="M1736.59 1604.19l4.85 2.8v5.6l-4.85 2.8l-4.85 -2.8v-5.6z"/><path d="M1748.02 1600.39l4.85 2.8v5.6l-4.85 2.8l-4.85 -2.8v-5.6z"/><path d="M1759.45 1596.97l4.85 2.8v5.6l-4.85 2.8l-4.85 -2.8v-5.6z"/><path d="M1770.87 1593.85l4.85 2.8v5.6l-4.85 2.8l-4.85 -2.8v-5.6z"/><path d="M1782.3 1590.99l4.85 2.8v5.6l-4.85 2.8l-4.85 -2.8v-5.6z"/><path d="M1793.73 1588.38l4.85 2.8v5.6l-4.85 2.8l-4.85 -2.8v-5.6z"/><path d="M1805.16 1586l4.85 2.8v5.6l-4.85 2.8l-4.85 -2.8v-5.6z"/><path d="M1816.58 1583.83l4.85 2.8v5.6l-4.85 2.8l-4.85 -2.8v-5.6z"/><path d="M1828.01 1581.85l4.85 2.8v5.6l-4.85 2.8l-4.85 -2.8v-5.6z"/><path d="M1839.44 1580.02l4.85 2.8v5.6l-4.85 2.8l-4.85 -2.8v-5.6z"/><path d="M1850.86 1578.3l4.85 2.8v5.6l-4.85 2.8l-4.85 -2.8v-5.6z"/><path d="M1862.29 1576.71l4.85 2.8v5.6l-4.85 2.8l-4.85 -2.8v-5.6z"/><path d="M1873.72 1575.25l4.85 2.8v5.6l-4.85 2.8l-4.85 -2.8v-5.6z"/><path d="M1885.15 1573.96l4.85 2.8v5.6l-4.85 2.8l-4.85 -2.8v-5.6z"/><path d="M1896.57 1572.85l4.85 2.8v5.6l-4.85 2.8l-4.85 -2.8v-5.6z"/><path d="M1908 1571.9l4.85 2.8v5.6l-4.85 2.8l-4.85 -2.8v-5.6z"/></g></g>
<path d="M756.6 895V804" stroke="#000" stroke-width="2.6"/>
<path d="M756.6 787.3L761.4 806.2L751.8 806.2Z" fill="#000" stroke="#000" stroke-width="0.8" stroke-linejoin="miter"/>
<text x="2" y="92.5" font-size="86" text-anchor="start">a</text>
<text x="972.5" y="92.5" font-size="86" text-anchor="start">b</text>
<text x="1.5" y="842.5" font-size="86" text-anchor="start">c</text>
<text x="972.5" y="842.5" font-size="86" text-anchor="start">d</text>
<text x="1.5" y="1592.8" font-size="86" text-anchor="start">e</text>
<text x="972.5" y="1592.8" font-size="86" text-anchor="start">f</text>
<path d="M190.8 46.3H261.6" stroke="#2a0414" stroke-width="3.2" stroke-linecap="round"/>
<path d="M226.2 40.7l4.85 2.8v5.6l-4.85 2.8l-4.85 -2.8v-5.6z" fill="#450b24" stroke="#2a0414" stroke-width="1"/>
<text x="268" y="57.1" font-size="31.5" text-anchor="start">4.54 nm</text>
<path d="M190.8 84.25H261.6" stroke="#6a0a2e" stroke-width="3.2" stroke-linecap="round"/>
<path d="M226.2 78.65l4.85 2.8v5.6l-4.85 2.8l-4.85 -2.8v-5.6z" fill="#9b0c42" stroke="#6a0a2e" stroke-width="1"/>
<text x="268" y="95.05" font-size="31.5" text-anchor="start">10 nm</text>
<path d="M190.8 122.2H261.6" stroke="#b02d4a" stroke-width="3.2" stroke-linecap="round"/>
<path d="M226.2 116.6l4.85 2.8v5.6l-4.85 2.8l-4.85 -2.8v-5.6z" fill="#d32e50" stroke="#b02d4a" stroke-width="1"/>
<text x="268" y="133" font-size="31.5" text-anchor="start">20 nm</text>
<path d="M190.8 160.15H261.6" stroke="#d95a45" stroke-width="3.2" stroke-linecap="round"/>
<path d="M226.2 154.55l4.85 2.8v5.6l-4.85 2.8l-4.85 -2.8v-5.6z" fill="#f2623f" stroke="#d95a45" stroke-width="1"/>
<text x="268" y="170.95" font-size="31.5" text-anchor="start">40 nm</text>
<path d="M190.8 198.1H261.6" stroke="#ec9553" stroke-width="3.2" stroke-linecap="round"/>
<path d="M226.2 192.5l4.85 2.8v5.6l-4.85 2.8l-4.85 -2.8v-5.6z" fill="#f8994f" stroke="#ec9553" stroke-width="1"/>
<text x="268" y="208.9" font-size="31.5" text-anchor="start">60 nm</text>
<path d="M190.8 236.05H261.6" stroke="#f3cd8c" stroke-width="3.2" stroke-linecap="round"/>
<path d="M226.2 230.45l4.85 2.8v5.6l-4.85 2.8l-4.85 -2.8v-5.6z" fill="#fdd68b" stroke="#f3cd8c" stroke-width="1"/>
<text x="268" y="246.85" font-size="31.5" text-anchor="start">100 nm</text>
<path d="M190.8 274H261.6" stroke="#c9e3ad" stroke-width="3.2" stroke-linecap="round"/>
<path d="M226.2 268.4l4.85 2.8v5.6l-4.85 2.8l-4.85 -2.8v-5.6z" fill="#d4edb2" stroke="#c9e3ad" stroke-width="1"/>
<text x="268" y="284.8" font-size="31.5" text-anchor="start">250 nm</text>
<path d="M190.8 311.95H261.6" stroke="#7cc4a4" stroke-width="3.2" stroke-linecap="round"/>
<path d="M226.2 306.35l4.85 2.8v5.6l-4.85 2.8l-4.85 -2.8v-5.6z" fill="#8acfae" stroke="#7cc4a4" stroke-width="1"/>
<text x="268" y="322.75" font-size="31.5" text-anchor="start">500 nm</text>
<path d="M1304 46.3H1374.4" stroke="#2a0414" stroke-width="3.2" stroke-linecap="round"/>
<path d="M1339.2 40.7l4.85 2.8v5.6l-4.85 2.8l-4.85 -2.8v-5.6z" fill="#450b24" stroke="#2a0414" stroke-width="1"/>
<text x="1381" y="57.1" font-size="31.5" text-anchor="start">4.54 nm</text>
<path d="M1304 84.25H1374.4" stroke="#6a0a2e" stroke-width="3.2" stroke-linecap="round"/>
<path d="M1339.2 78.65l4.85 2.8v5.6l-4.85 2.8l-4.85 -2.8v-5.6z" fill="#9b0c42" stroke="#6a0a2e" stroke-width="1"/>
<text x="1381" y="95.05" font-size="31.5" text-anchor="start">10 nm</text>
<path d="M1304 122.2H1374.4" stroke="#b02d4a" stroke-width="3.2" stroke-linecap="round"/>
<path d="M1339.2 116.6l4.85 2.8v5.6l-4.85 2.8l-4.85 -2.8v-5.6z" fill="#d32e50" stroke="#b02d4a" stroke-width="1"/>
<text x="1381" y="133" font-size="31.5" text-anchor="start">20 nm</text>
<path d="M1304 160.15H1374.4" stroke="#d95a45" stroke-width="3.2" stroke-linecap="round"/>
<path d="M1339.2 154.55l4.85 2.8v5.6l-4.85 2.8l-4.85 -2.8v-5.6z" fill="#f2623f" stroke="#d95a45" stroke-width="1"/>
<text x="1381" y="170.95" font-size="31.5" text-anchor="start">40 nm</text>
<path d="M1304 198.1H1374.4" stroke="#ec9553" stroke-width="3.2" stroke-linecap="round"/>
<path d="M1339.2 192.5l4.85 2.8v5.6l-4.85 2.8l-4.85 -2.8v-5.6z" fill="#f8994f" stroke="#ec9553" stroke-width="1"/>
<text x="1381" y="208.9" font-size="31.5" text-anchor="start">60 nm</text>
<path d="M1304 236.05H1374.4" stroke="#f3cd8c" stroke-width="3.2" stroke-linecap="round"/>
<path d="M1339.2 230.45l4.85 2.8v5.6l-4.85 2.8l-4.85 -2.8v-5.6z" fill="#fdd68b" stroke="#f3cd8c" stroke-width="1"/>
<text x="1381" y="246.85" font-size="31.5" text-anchor="start">100 nm</text>
<path d="M1304 274H1374.4" stroke="#c9e3ad" stroke-width="3.2" stroke-linecap="round"/>
<path d="M1339.2 268.4l4.85 2.8v5.6l-4.85 2.8l-4.85 -2.8v-5.6z" fill="#d4edb2" stroke="#c9e3ad" stroke-width="1"/>
<text x="1381" y="284.8" font-size="31.5" text-anchor="start">250 nm</text>
<path d="M1304 311.95H1374.4" stroke="#7cc4a4" stroke-width="3.2" stroke-linecap="round"/>
<path d="M1339.2 306.35l4.85 2.8v5.6l-4.85 2.8l-4.85 -2.8v-5.6z" fill="#8acfae" stroke="#7cc4a4" stroke-width="1"/>
<text x="1381" y="322.75" font-size="31.5" text-anchor="start">500 nm</text>
<text x="602" y="294.4" font-size="37" text-anchor="start" xml:space="preserve"><tspan>T</tspan><tspan dy="10" font-size="24">ox</tspan><tspan dy="-10">=14 nm HfO</tspan><tspan dy="10" font-size="24">2</tspan></text>
<text x="602" y="346.8" font-size="37" text-anchor="start" xml:space="preserve"><tspan>V</tspan><tspan dy="10" font-size="24">DS</tspan><tspan dy="-10">=50 mV</tspan></text>
<text x="602" y="399.5" font-size="37" text-anchor="start" xml:space="preserve"><tspan>V</tspan><tspan dy="10" font-size="24">Al</tspan><tspan dy="-10">=0 V</tspan></text>
<text x="602" y="452.6" font-size="37" text-anchor="start" xml:space="preserve"><tspan>V</tspan><tspan dy="10" font-size="24">BS</tspan><tspan dy="-10">=50 V</tspan></text>
<text x="1303.5" y="376.2" font-size="37" text-anchor="start" xml:space="preserve"><tspan>T</tspan><tspan dy="10" font-size="24">ox</tspan><tspan dy="-10">=14 nm HfO</tspan><tspan dy="10" font-size="24">2</tspan></text>
<text x="1303.5" y="427.8" font-size="37" text-anchor="start" xml:space="preserve"><tspan>V</tspan><tspan dy="10" font-size="24">DS</tspan><tspan dy="-10">=50 mV</tspan></text>
<text x="1303.5" y="480.7" font-size="37" text-anchor="start" xml:space="preserve"><tspan>V</tspan><tspan dy="10" font-size="24">Al</tspan><tspan dy="-10">=0 V</tspan></text>
<text x="1303.5" y="533.1" font-size="37" text-anchor="start" xml:space="preserve"><tspan>V</tspan><tspan dy="10" font-size="24">BS</tspan><tspan dy="-10">=50 V</tspan></text>
<text x="235.5" y="810" font-size="37" text-anchor="start">Al bias at</text>
<path d="M235.2 842.7H319.8" stroke="#2a0414" stroke-width="3.2" stroke-linecap="round"/>
<path d="M277.5 837.1l4.85 2.8v5.6l-4.85 2.8l-4.85 -2.8v-5.6z" fill="#450b24" stroke="#2a0414" stroke-width="1"/>
<text x="328" y="855.2" font-size="37" text-anchor="start">0.0 V</text>
<path d="M235.2 887.4H319.8" stroke="#6a0a2e" stroke-width="3.2" stroke-linecap="round"/>
<path d="M277.5 881.8l4.85 2.8v5.6l-4.85 2.8l-4.85 -2.8v-5.6z" fill="#9b0c42" stroke="#6a0a2e" stroke-width="1"/>
<text x="328" y="899.9" font-size="37" text-anchor="start">0.5 V</text>
<path d="M235.2 932.1H319.8" stroke="#b02d4a" stroke-width="3.2" stroke-linecap="round"/>
<path d="M277.5 926.5l4.85 2.8v5.6l-4.85 2.8l-4.85 -2.8v-5.6z" fill="#d32e50" stroke="#b02d4a" stroke-width="1"/>
<text x="328" y="944.6" font-size="37" text-anchor="start">1.0 V</text>
<path d="M235.2 976.8H319.8" stroke="#d95a45" stroke-width="3.2" stroke-linecap="round"/>
<path d="M277.5 971.2l4.85 2.8v5.6l-4.85 2.8l-4.85 -2.8v-5.6z" fill="#f2623f" stroke="#d95a45" stroke-width="1"/>
<text x="328" y="989.3" font-size="37" text-anchor="start">1.5 V</text>
<path d="M235.2 1021.5H319.8" stroke="#ec9553" stroke-width="3.2" stroke-linecap="round"/>
<path d="M277.5 1015.9l4.85 2.8v5.6l-4.85 2.8l-4.85 -2.8v-5.6z" fill="#f8994f" stroke="#ec9553" stroke-width="1"/>
<text x="328" y="1034" font-size="37" text-anchor="start">2.0 V</text>
<text x="1228" y="810" font-size="37" text-anchor="start">Al bias at</text>
<path d="M1228.4 842.7H1311.6" stroke="#2a0414" stroke-width="3.2" stroke-linecap="round"/>
<path d="M1270 837.1l4.85 2.8v5.6l-4.85 2.8l-4.85 -2.8v-5.6z" fill="#450b24" stroke="#2a0414" stroke-width="1"/>
<text x="1321" y="855.2" font-size="37" text-anchor="start">0.0 V</text>
<path d="M1228.4 887.4H1311.6" stroke="#6a0a2e" stroke-width="3.2" stroke-linecap="round"/>
<path d="M1270 881.8l4.85 2.8v5.6l-4.85 2.8l-4.85 -2.8v-5.6z" fill="#9b0c42" stroke="#6a0a2e" stroke-width="1"/>
<text x="1321" y="899.9" font-size="37" text-anchor="start">0.5 V</text>
<path d="M1228.4 932.1H1311.6" stroke="#b02d4a" stroke-width="3.2" stroke-linecap="round"/>
<path d="M1270 926.5l4.85 2.8v5.6l-4.85 2.8l-4.85 -2.8v-5.6z" fill="#d32e50" stroke="#b02d4a" stroke-width="1"/>
<text x="1321" y="944.6" font-size="37" text-anchor="start">1.0 V</text>
<path d="M1228.4 976.8H1311.6" stroke="#d95a45" stroke-width="3.2" stroke-linecap="round"/>
<path d="M1270 971.2l4.85 2.8v5.6l-4.85 2.8l-4.85 -2.8v-5.6z" fill="#f2623f" stroke="#d95a45" stroke-width="1"/>
<text x="1321" y="989.3" font-size="37" text-anchor="start">1.5 V</text>
<path d="M1228.4 1021.5H1311.6" stroke="#ec9553" stroke-width="3.2" stroke-linecap="round"/>
<path d="M1270 1015.9l4.85 2.8v5.6l-4.85 2.8l-4.85 -2.8v-5.6z" fill="#f8994f" stroke="#ec9553" stroke-width="1"/>
<text x="1321" y="1034" font-size="37" text-anchor="start">2.0 V</text>
<text x="602" y="1042.9" font-size="37" text-anchor="start" xml:space="preserve"><tspan>T</tspan><tspan dy="10" font-size="24">ox</tspan><tspan dy="-10">=14 nm HfO</tspan><tspan dy="10" font-size="24">2</tspan></text>
<text x="602" y="1096.4" font-size="37" text-anchor="start" xml:space="preserve"><tspan>V</tspan><tspan dy="10" font-size="24">DS</tspan><tspan dy="-10">=50 mV</tspan></text>
<text x="602" y="1147.9" font-size="37" text-anchor="start" xml:space="preserve"><tspan>V</tspan><tspan dy="10" font-size="24">BS</tspan><tspan dy="-10">=50 V</tspan></text>
<text x="602" y="1201.5" font-size="37" text-anchor="start" xml:space="preserve"><tspan>L</tspan><tspan dy="10" font-size="24">ch</tspan><tspan dy="-10">=4.54 nm</tspan></text>
<text x="1225.5" y="1100.5" font-size="37" text-anchor="start" xml:space="preserve"><tspan>T</tspan><tspan dy="10" font-size="24">ox</tspan><tspan dy="-10">=14 nm HfO</tspan><tspan dy="10" font-size="24">2</tspan></text>
<text x="1225.5" y="1154.1" font-size="37" text-anchor="start" xml:space="preserve"><tspan>V</tspan><tspan dy="10" font-size="24">DS</tspan><tspan dy="-10">=50 mV</tspan></text>
<text x="1225.5" y="1205.6" font-size="37" text-anchor="start" xml:space="preserve"><tspan>V</tspan><tspan dy="10" font-size="24">BS</tspan><tspan dy="-10">=50 V</tspan></text>
<text x="1225.5" y="1259.1" font-size="37" text-anchor="start" xml:space="preserve"><tspan>L</tspan><tspan dy="10" font-size="24">ch</tspan><tspan dy="-10">=4.54 nm</tspan></text>
<text x="776.5" y="1671.6" font-size="37" text-anchor="middle" xml:space="preserve"><tspan>L</tspan><tspan dy="10" font-size="24">ch</tspan><tspan dy="-10">=4.54 nm</tspan></text>
<text x="776.5" y="1723.1" font-size="37" text-anchor="middle" xml:space="preserve"><tspan>V</tspan><tspan dy="10" font-size="24">DS</tspan><tspan dy="-10">=50 mV</tspan></text>
<text x="776.5" y="1774.7" font-size="37" text-anchor="middle" xml:space="preserve"><tspan>V</tspan><tspan dy="10" font-size="24">BS</tspan><tspan dy="-10">=50 V</tspan></text>
<text x="776.5" y="1827.5" font-size="37" text-anchor="middle" xml:space="preserve"><tspan>V</tspan><tspan dy="10" font-size="24">Al</tspan><tspan dy="-10">=0 V</tspan></text>
<text x="1324.2" y="1597.3" font-size="37" text-anchor="middle" xml:space="preserve"><tspan>L</tspan><tspan dy="10" font-size="24">ch</tspan><tspan dy="-10">=4.54 nm</tspan></text>
<text x="1324.2" y="1650.1" font-size="37" text-anchor="middle" xml:space="preserve"><tspan>V</tspan><tspan dy="10" font-size="24">DS</tspan><tspan dy="-10">=50 mV</tspan></text>
<text x="1324.2" y="1702.5" font-size="37" text-anchor="middle" xml:space="preserve"><tspan>V</tspan><tspan dy="10" font-size="24">BS</tspan><tspan dy="-10">=50 V</tspan></text>
<text x="1324.2" y="1756.1" font-size="37" text-anchor="middle" xml:space="preserve"><tspan>V</tspan><tspan dy="10" font-size="24">Al</tspan><tspan dy="-10">=0 V</tspan></text>
<text x="359.5" y="1903.2" font-size="37" text-anchor="start" xml:space="preserve"><tspan>T</tspan><tspan dy="10" font-size="24.5">ox</tspan><tspan dy="-10"> (HfO</tspan><tspan dy="10" font-size="24.5">2</tspan><tspan dy="-10">)=</tspan></text>
<path d="M359.4 1943.7H441.9" stroke="#2a0414" stroke-width="3.2" stroke-linecap="round"/>
<path d="M400.65 1938.1l4.85 2.8v5.6l-4.85 2.8l-4.85 -2.8v-5.6z" fill="#450b24" stroke="#2a0414" stroke-width="1"/>
<text x="553" y="1956.5" font-size="37" text-anchor="end">14 nm</text>
<path d="M359.4 1989.1H441.9" stroke="#6a0a2e" stroke-width="3.2" stroke-linecap="round"/>
<path d="M400.65 1983.5l4.85 2.8v5.6l-4.85 2.8l-4.85 -2.8v-5.6z" fill="#9b0c42" stroke="#6a0a2e" stroke-width="1"/>
<text x="553" y="2001.9" font-size="37" text-anchor="end">10 nm</text>
<path d="M359.4 2033.6H441.9" stroke="#b02d4a" stroke-width="3.2" stroke-linecap="round"/>
<path d="M400.65 2028l4.85 2.8v5.6l-4.85 2.8l-4.85 -2.8v-5.6z" fill="#d32e50" stroke="#b02d4a" stroke-width="1"/>
<text x="553" y="2046.4" font-size="37" text-anchor="end">5 nm</text>
<text x="1224" y="1819.9" font-size="37" text-anchor="start" xml:space="preserve"><tspan>T</tspan><tspan dy="10" font-size="24.5">ox</tspan><tspan dy="-10"> (HfO</tspan><tspan dy="10" font-size="24.5">2</tspan><tspan dy="-10">)=</tspan></text>
<path d="M1222.8 1860.4H1305.3" stroke="#2a0414" stroke-width="3.2" stroke-linecap="round"/>
<path d="M1264.05 1854.8l4.85 2.8v5.6l-4.85 2.8l-4.85 -2.8v-5.6z" fill="#450b24" stroke="#2a0414" stroke-width="1"/>
<text x="1416" y="1873.2" font-size="37" text-anchor="end">14 nm</text>
<path d="M1222.8 1904.6H1305.3" stroke="#6a0a2e" stroke-width="3.2" stroke-linecap="round"/>
<path d="M1264.05 1899l4.85 2.8v5.6l-4.85 2.8l-4.85 -2.8v-5.6z" fill="#9b0c42" stroke="#6a0a2e" stroke-width="1"/>
<text x="1416" y="1917.4" font-size="37" text-anchor="end">10 nm</text>
<path d="M1222.8 1949.1H1305.3" stroke="#b02d4a" stroke-width="3.2" stroke-linecap="round"/>
<path d="M1264.05 1943.5l4.85 2.8v5.6l-4.85 2.8l-4.85 -2.8v-5.6z" fill="#d32e50" stroke="#b02d4a" stroke-width="1"/>
<text x="1416" y="1961.9" font-size="37" text-anchor="end">5 nm</text></svg>
</body></html>
